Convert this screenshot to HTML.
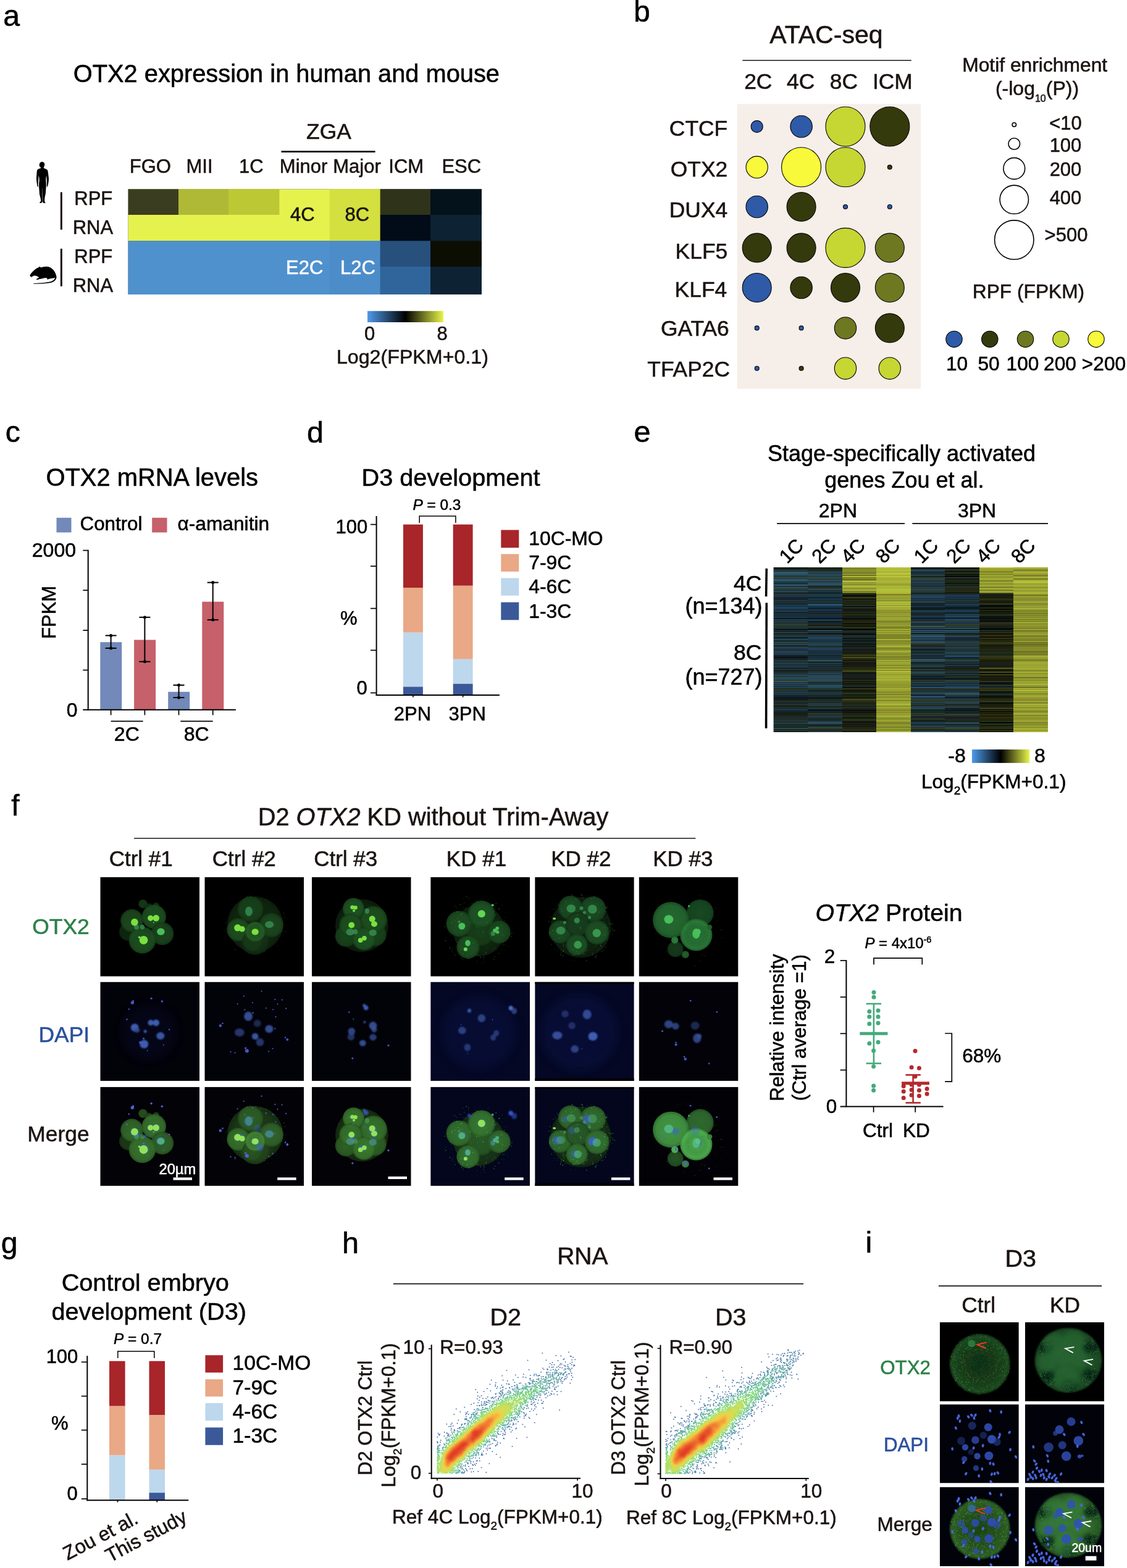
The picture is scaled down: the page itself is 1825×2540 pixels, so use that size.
<!DOCTYPE html>
<html lang="en"><head><meta charset="utf-8"><title>OTX2 figure</title>
<style>
html,body{margin:0;padding:0;background:#fff}
body{width:1825px;height:2540px;overflow:hidden;font-family:"Liberation Sans", sans-serif}
svg{display:block;font-family:"Liberation Sans", sans-serif}
text{stroke-width:0.55px;stroke-linejoin:round}
</style></head><body>
<svg width="1825" height="2540" viewBox="0 0 1825 2540">
<text x="5.3" y="41.5" font-size="48.2" text-anchor="start" fill="#000" stroke="#000">a</text>
<text x="463.9" y="132.9" font-size="39.8" text-anchor="middle" fill="#000" stroke="#000">OTX2 expression in human and mouse</text>
<text x="532.5" y="225.2" font-size="35.4" text-anchor="middle" fill="#1a1311" stroke="#1a1311">ZGA</text>
<line x1="455.4" y1="245.6" x2="607.6" y2="245.6" stroke="#1a1311" stroke-width="2.8"/>
<text x="243.4" y="279.9" font-size="31" text-anchor="middle" fill="#1a1311" stroke="#1a1311">FGO</text>
<text x="323" y="279.9" font-size="31" text-anchor="middle" fill="#1a1311" stroke="#1a1311">MII</text>
<text x="406.8" y="279.9" font-size="31" text-anchor="middle" fill="#1a1311" stroke="#1a1311">1C</text>
<text x="491.6" y="279.9" font-size="31" text-anchor="middle" fill="#1a1311" stroke="#1a1311">Minor</text>
<text x="578" y="279.9" font-size="31" text-anchor="middle" fill="#1a1311" stroke="#1a1311">Major</text>
<text x="657.7" y="279.9" font-size="31" text-anchor="middle" fill="#1a1311" stroke="#1a1311">ICM</text>
<text x="747.3" y="279.9" font-size="31" text-anchor="middle" fill="#1a1311" stroke="#1a1311">ESC</text>
<text x="151.3" y="332.3" font-size="31" text-anchor="middle" fill="#1a1311" stroke="#1a1311">RPF</text>
<text x="150.4" y="379" font-size="31" text-anchor="middle" fill="#1a1311" stroke="#1a1311">RNA</text>
<text x="151.3" y="426" font-size="31" text-anchor="middle" fill="#1a1311" stroke="#1a1311">RPF</text>
<text x="150.4" y="472.8" font-size="31" text-anchor="middle" fill="#1a1311" stroke="#1a1311">RNA</text>
<line x1="99.3" y1="311.3" x2="99.3" y2="372" stroke="#1a1311" stroke-width="3"/>
<line x1="99.3" y1="402.8" x2="99.3" y2="463.8" stroke="#1a1311" stroke-width="3"/>
<rect x="207.6" y="306.4" width="572.3" height="170.6" fill="#0d2233"/>
<rect x="207.6" y="306.4" width="408.1" height="83.8" fill="#e5f24e"/>
<rect x="207.6" y="390.2" width="408.1" height="86.8" fill="#4f91cd"/>
<rect x="207.6" y="306.4" width="81.4" height="41.6" fill="#3a3d20"/>
<rect x="289" y="306.4" width="81.7" height="41.6" fill="#b0b935"/>
<rect x="370.7" y="306.4" width="81.7" height="41.6" fill="#bdc835"/>
<rect x="533.7" y="306.4" width="82" height="83.8" fill="#d3e03f"/>
<rect x="533.7" y="390.2" width="82" height="86.8" fill="#4c8dc9"/>
<rect x="615.7" y="306.4" width="81.4" height="41.6" fill="#2f331a"/>
<rect x="615.7" y="348" width="81.4" height="42.2" fill="#020b18"/>
<rect x="615.7" y="390.2" width="81.4" height="41.8" fill="#27507d"/>
<rect x="615.7" y="432" width="81.4" height="45" fill="#30659b"/>
<rect x="697.1" y="306.4" width="82.8" height="41.6" fill="#04121b"/>
<rect x="697.1" y="348" width="82.8" height="42.2" fill="#0d2233"/>
<rect x="697.1" y="390.2" width="82.8" height="41.8" fill="#0c0d03"/>
<rect x="697.1" y="432" width="82.8" height="45" fill="#0d2233"/>
<text x="489.8" y="357.8" font-size="31" text-anchor="middle" fill="#1a1311" stroke="#1a1311">4C</text>
<text x="578.3" y="357.8" font-size="31" text-anchor="middle" fill="#1a1311" stroke="#1a1311">8C</text>
<text x="493.2" y="444.2" font-size="31" text-anchor="middle" fill="#fff" stroke="#fff">E2C</text>
<text x="579.5" y="444.2" font-size="31" text-anchor="middle" fill="#fff" stroke="#fff">L2C</text>
<defs><linearGradient id="gA"><stop offset="0" stop-color="#4f9bea"/><stop offset="0.5" stop-color="#000"/><stop offset="1" stop-color="#e8f54a"/></linearGradient></defs>
<rect x="595" y="503.8" width="123" height="18.2" fill="url(#gA)"/>
<text x="598.6" y="550.8" font-size="31" text-anchor="middle" fill="#1a1311" stroke="#1a1311">0</text>
<text x="716" y="550.8" font-size="31" text-anchor="middle" fill="#1a1311" stroke="#1a1311">8</text>
<text x="667.9" y="588.8" font-size="32.2" text-anchor="middle" fill="#1a1311" stroke="#1a1311">Log2(FPKM+0.1)</text>
<g transform="translate(30,250) scale(0.06135)"><path d="M620,198 C665,198 692,228 690,262 C690,300 678,322 665,338 L665,362 C700,380 745,385 768,420 C782,470 784,530 798,630 C800,700 786,760 778,805 C772,835 762,858 752,864 C744,850 746,820 748,790 C750,730 746,660 736,560 C726,600 722,640 722,680 C726,740 732,770 730,800 C728,880 722,940 718,985 C716,1040 708,1070 700,1100 C690,1150 686,1200 690,1245 C700,1262 712,1272 712,1282 C690,1292 660,1290 638,1268 L628,1250 C632,1120 630,980 626,850 C622,980 624,1120 622,1250 L615,1270 C600,1292 572,1294 554,1282 C560,1268 580,1252 590,1230 C590,1180 572,1130 560,1080 C548,1040 552,1000 548,960 C542,900 538,850 540,800 C538,770 544,740 548,680 C548,640 544,600 534,560 C524,650 518,740 516,800 C518,830 524,850 514,864 C500,858 492,830 488,790 C478,720 468,660 472,610 C480,540 480,470 490,420 C505,385 560,382 585,368 L585,340 C565,335 552,320 552,300 L545,292 L552,280 C548,240 570,198 620,198 Z" fill="#000"/></g>
<g transform="translate(30,400) scale(0.06135)"><path d="M298,762 C320,700 390,625 470,570 C500,555 520,545 535,538 L552,518 L572,524 L590,548 C640,528 690,516 740,518 C820,520 880,560 930,620 C975,680 995,740 1004,795 C1000,850 960,905 900,930 C820,962 650,974 400,978 L392,966 C640,948 790,940 880,905 C930,880 958,845 968,812 C920,828 860,834 822,838 L790,852 L750,858 L760,836 L740,820 C700,812 660,822 640,830 C600,842 560,845 540,852 L520,864 L480,866 L468,850 L500,830 L540,806 C520,785 480,765 440,757 C410,755 385,765 370,778 L340,800 Z" fill="#000"/></g>
<text x="1026.2" y="35.2" font-size="47.6" text-anchor="start" fill="#000" stroke="#000">b</text>
<text x="1338" y="70.2" font-size="41.1" text-anchor="middle" fill="#1a1311" stroke="#1a1311">ATAC-seq</text>
<line x1="1202.4" y1="97.7" x2="1475.8" y2="97.7" stroke="#1a1311" stroke-width="1.6"/>
<text x="1227.8" y="143.6" font-size="35.4" text-anchor="middle" fill="#1a1311" stroke="#1a1311">2C</text>
<text x="1296.6" y="143.6" font-size="35.4" text-anchor="middle" fill="#1a1311" stroke="#1a1311">4C</text>
<text x="1366.4" y="143.6" font-size="35.4" text-anchor="middle" fill="#1a1311" stroke="#1a1311">8C</text>
<text x="1445.4" y="143.6" font-size="35.4" text-anchor="middle" fill="#1a1311" stroke="#1a1311">ICM</text>
<rect x="1193.8" y="168.5" width="297.2" height="461.5" fill="#f6eee9"/>
<text x="1178.2" y="220.2" font-size="35.4" text-anchor="end" fill="#1a1311" stroke="#1a1311">CTCF</text>
<circle cx="1225.7" cy="205" r="9.6" fill="#2e5aa8" stroke="#000" stroke-width="1.1"/>
<circle cx="1297.6" cy="205" r="17.7" fill="#2e5aa8" stroke="#000" stroke-width="1.1"/>
<circle cx="1369" cy="205" r="32" fill="#c6d633" stroke="#000" stroke-width="1.1"/>
<circle cx="1440.8" cy="205" r="32" fill="#353a0c" stroke="#000" stroke-width="1.1"/>
<text x="1178.2" y="286" font-size="35.4" text-anchor="end" fill="#1a1311" stroke="#1a1311">OTX2</text>
<circle cx="1225.7" cy="270.8" r="17.7" fill="#f7f93a" stroke="#000" stroke-width="1.1"/>
<circle cx="1297.6" cy="270.8" r="32" fill="#f7f93a" stroke="#000" stroke-width="1.1"/>
<circle cx="1369" cy="270.8" r="32" fill="#c6d633" stroke="#000" stroke-width="1.1"/>
<circle cx="1440.8" cy="270.8" r="3.5" fill="#353a0c" stroke="#000" stroke-width="1.1"/>
<text x="1178.2" y="351.8" font-size="35.4" text-anchor="end" fill="#1a1311" stroke="#1a1311">DUX4</text>
<circle cx="1225.7" cy="335" r="17.7" fill="#2e5aa8" stroke="#000" stroke-width="1.1"/>
<circle cx="1297.6" cy="335" r="23.5" fill="#353a0c" stroke="#000" stroke-width="1.1"/>
<circle cx="1369" cy="335" r="3.5" fill="#2e5aa8" stroke="#000" stroke-width="1.1"/>
<circle cx="1440.8" cy="335" r="3.5" fill="#2e5aa8" stroke="#000" stroke-width="1.1"/>
<text x="1178.2" y="418.6" font-size="35.4" text-anchor="end" fill="#1a1311" stroke="#1a1311">KLF5</text>
<circle cx="1225.7" cy="401.4" r="23.5" fill="#353a0c" stroke="#000" stroke-width="1.1"/>
<circle cx="1297.6" cy="401.4" r="23.5" fill="#353a0c" stroke="#000" stroke-width="1.1"/>
<circle cx="1369" cy="401.4" r="32" fill="#c6d633" stroke="#000" stroke-width="1.1"/>
<circle cx="1440.8" cy="401.4" r="23.5" fill="#6e7820" stroke="#000" stroke-width="1.1"/>
<text x="1177.2" y="480.8" font-size="35.4" text-anchor="end" fill="#1a1311" stroke="#1a1311">KLF4</text>
<circle cx="1225.7" cy="466" r="23.5" fill="#2e5aa8" stroke="#000" stroke-width="1.1"/>
<circle cx="1297.6" cy="466" r="17.7" fill="#353a0c" stroke="#000" stroke-width="1.1"/>
<circle cx="1369" cy="466" r="23.5" fill="#353a0c" stroke="#000" stroke-width="1.1"/>
<circle cx="1440.8" cy="466" r="23.5" fill="#6e7820" stroke="#000" stroke-width="1.1"/>
<text x="1180.7" y="544.1" font-size="35.4" text-anchor="end" fill="#1a1311" stroke="#1a1311">GATA6</text>
<circle cx="1225.7" cy="531.4" r="3.5" fill="#2e5aa8" stroke="#000" stroke-width="1.1"/>
<circle cx="1297.6" cy="531.4" r="3.5" fill="#2e5aa8" stroke="#000" stroke-width="1.1"/>
<circle cx="1369" cy="531.4" r="17.7" fill="#6e7820" stroke="#000" stroke-width="1.1"/>
<circle cx="1440.8" cy="531.4" r="23.5" fill="#353a0c" stroke="#000" stroke-width="1.1"/>
<text x="1182" y="609.9" font-size="35.4" text-anchor="end" fill="#1a1311" stroke="#1a1311">TFAP2C</text>
<circle cx="1225.7" cy="596.7" r="3.5" fill="#2e5aa8" stroke="#000" stroke-width="1.1"/>
<circle cx="1297.6" cy="596.7" r="3.5" fill="#353a0c" stroke="#000" stroke-width="1.1"/>
<circle cx="1369" cy="596.7" r="17.7" fill="#c6d633" stroke="#000" stroke-width="1.1"/>
<circle cx="1440.8" cy="596.7" r="17.7" fill="#c6d633" stroke="#000" stroke-width="1.1"/>
<text x="1675.7" y="115.6" font-size="31.8" text-anchor="middle" fill="#1a1311" stroke="#1a1311">Motif enrichment</text>
<text x="1679.5" y="154.3" font-size="32" text-anchor="middle" fill="#1a1311" stroke="#1a1311">(-log<tspan font-size="16" dy="10.4">10</tspan><tspan dy="-10.4">(P))</tspan></text>
<circle cx="1642.3" cy="202" r="3.2" fill="#fff" stroke="#000" stroke-width="1.6"/>
<circle cx="1642.3" cy="233" r="9.3" fill="#fff" stroke="#000" stroke-width="1.6"/>
<circle cx="1642.3" cy="273" r="17.4" fill="#fff" stroke="#000" stroke-width="1.6"/>
<circle cx="1642.3" cy="323.3" r="23.2" fill="#fff" stroke="#000" stroke-width="1.6"/>
<circle cx="1642.3" cy="388.6" r="31.7" fill="#fff" stroke="#000" stroke-width="1.6"/>
<text x="1725.5" y="210.4" font-size="31" text-anchor="middle" fill="#1a1311" stroke="#1a1311">&lt;10</text>
<text x="1725.5" y="245.6" font-size="31" text-anchor="middle" fill="#1a1311" stroke="#1a1311">100</text>
<text x="1725.5" y="285" font-size="31" text-anchor="middle" fill="#1a1311" stroke="#1a1311">200</text>
<text x="1725.5" y="331" font-size="31" text-anchor="middle" fill="#1a1311" stroke="#1a1311">400</text>
<text x="1726.5" y="391.4" font-size="31" text-anchor="middle" fill="#1a1311" stroke="#1a1311">&gt;500</text>
<text x="1665.5" y="482.6" font-size="31.7" text-anchor="middle" fill="#1a1311" stroke="#1a1311">RPF (FPKM)</text>
<circle cx="1545" cy="549.4" r="13.2" fill="#2e5aa8" stroke="#000" stroke-width="1.1"/>
<circle cx="1602.8" cy="549.4" r="13.2" fill="#353a0c" stroke="#000" stroke-width="1.1"/>
<circle cx="1660.5" cy="549.4" r="13.2" fill="#6e7820" stroke="#000" stroke-width="1.1"/>
<circle cx="1718" cy="549.4" r="13.2" fill="#c6d633" stroke="#000" stroke-width="1.1"/>
<circle cx="1775" cy="549.4" r="13.2" fill="#f7f93a" stroke="#000" stroke-width="1.1"/>
<text x="1549.5" y="600.4" font-size="31.7" text-anchor="middle" fill="#000" stroke="#000">10</text>
<text x="1601" y="600.4" font-size="31.7" text-anchor="middle" fill="#000" stroke="#000">50</text>
<text x="1656" y="600.4" font-size="31.7" text-anchor="middle" fill="#000" stroke="#000">100</text>
<text x="1716.5" y="600.4" font-size="31.7" text-anchor="middle" fill="#000" stroke="#000">200</text>
<text x="1787.5" y="600.4" font-size="31.7" text-anchor="middle" fill="#000" stroke="#000">&gt;200</text>
<text x="8.8" y="715.8" font-size="48.2" text-anchor="start" fill="#000" stroke="#000">c</text>
<text x="246.2" y="786.8" font-size="39.9" text-anchor="middle" fill="#000" stroke="#000">OTX2 mRNA levels</text>
<rect x="91.5" y="838.7" width="24" height="23.8" fill="#7289b9"/>
<rect x="246.2" y="838.7" width="24.3" height="23.8" fill="#c6606b"/>
<text x="180" y="859.2" font-size="31.3" text-anchor="middle" fill="#000" stroke="#000">Control</text>
<text x="361.8" y="859.2" font-size="31.7" text-anchor="middle" fill="#000" stroke="#000">α-amanitin</text>
<text x="87.4" y="901.8" font-size="32.1" text-anchor="middle" fill="#000" stroke="#000">2000</text>
<text x="116.6" y="1160.5" font-size="32" text-anchor="middle" fill="#000" stroke="#000">0</text>
<text x="90.3" y="991.9" font-size="31" text-anchor="middle" fill="#000" stroke="#000" transform="rotate(-90 90.3 991.9)">FPKM</text>
<rect x="162.3" y="1040.2" width="34.9" height="109.8" fill="#7289b9"/>
<rect x="217.1" y="1036.5" width="35" height="113.5" fill="#c6606b"/>
<rect x="272.2" y="1120.7" width="35" height="29.3" fill="#7289b9"/>
<rect x="327.3" y="974.7" width="35" height="175.3" fill="#c6606b"/>
<line x1="142.7" y1="890.8" x2="142.7" y2="1150.8" stroke="#000" stroke-width="2"/>
<line x1="134.3" y1="1149.8" x2="381.9" y2="1149.8" stroke="#000" stroke-width="2"/>
<line x1="134.3" y1="891.6" x2="142.7" y2="891.6" stroke="#000" stroke-width="1.7"/>
<line x1="134.3" y1="956.2" x2="142.7" y2="956.2" stroke="#000" stroke-width="1.7"/>
<line x1="134.3" y1="1021.1" x2="142.7" y2="1021.1" stroke="#000" stroke-width="1.7"/>
<line x1="134.3" y1="1085.5" x2="142.7" y2="1085.5" stroke="#000" stroke-width="1.7"/>
<line x1="179.6" y1="1149.8" x2="179.6" y2="1158.4" stroke="#000" stroke-width="1.7"/>
<line x1="234.4" y1="1149.8" x2="234.4" y2="1158.4" stroke="#000" stroke-width="1.7"/>
<line x1="289.5" y1="1149.8" x2="289.5" y2="1158.4" stroke="#000" stroke-width="1.7"/>
<line x1="344.7" y1="1149.8" x2="344.7" y2="1158.4" stroke="#000" stroke-width="1.7"/>
<line x1="179.6" y1="1029.5" x2="179.6" y2="1050" stroke="#000" stroke-width="2"/>
<line x1="170.6" y1="1029.5" x2="188.6" y2="1029.5" stroke="#000" stroke-width="2"/>
<circle cx="179.6" cy="1029.5" r="2.5" fill="#000"/>
<line x1="170.6" y1="1050" x2="188.6" y2="1050" stroke="#000" stroke-width="2"/>
<circle cx="179.6" cy="1050" r="2.5" fill="#000"/>
<line x1="234.4" y1="999.9" x2="234.4" y2="1071.8" stroke="#000" stroke-width="2"/>
<line x1="225.4" y1="999.9" x2="243.4" y2="999.9" stroke="#000" stroke-width="2"/>
<circle cx="234.4" cy="999.9" r="2.5" fill="#000"/>
<line x1="225.4" y1="1071.8" x2="243.4" y2="1071.8" stroke="#000" stroke-width="2"/>
<circle cx="234.4" cy="1071.8" r="2.5" fill="#000"/>
<line x1="289.5" y1="1109.8" x2="289.5" y2="1130" stroke="#000" stroke-width="2"/>
<line x1="280.5" y1="1109.8" x2="298.5" y2="1109.8" stroke="#000" stroke-width="2"/>
<circle cx="289.5" cy="1109.8" r="2.5" fill="#000"/>
<line x1="280.5" y1="1130" x2="298.5" y2="1130" stroke="#000" stroke-width="2"/>
<circle cx="289.5" cy="1130" r="2.5" fill="#000"/>
<line x1="344.7" y1="943.6" x2="344.7" y2="1004.1" stroke="#000" stroke-width="2"/>
<line x1="335.7" y1="943.6" x2="353.7" y2="943.6" stroke="#000" stroke-width="2"/>
<circle cx="344.7" cy="943.6" r="2.5" fill="#000"/>
<line x1="335.7" y1="1004.1" x2="353.7" y2="1004.1" stroke="#000" stroke-width="2"/>
<circle cx="344.7" cy="1004.1" r="2.5" fill="#000"/>
<line x1="179.6" y1="1168.3" x2="231.6" y2="1168.3" stroke="#000" stroke-width="1.7"/>
<line x1="292.3" y1="1168.3" x2="344.7" y2="1168.3" stroke="#000" stroke-width="1.7"/>
<text x="205.3" y="1199.8" font-size="32" text-anchor="middle" fill="#000" stroke="#000">2C</text>
<text x="318.2" y="1199.8" font-size="32" text-anchor="middle" fill="#000" stroke="#000">8C</text>
<text x="497" y="716.6" font-size="48.7" text-anchor="start" fill="#000" stroke="#000">d</text>
<text x="730" y="787.3" font-size="39.7" text-anchor="middle" fill="#000" stroke="#000">D3 development</text>
<text x="707.4" y="825.6" font-size="24.4" text-anchor="middle" fill="#000" stroke="#000"><tspan font-style="italic">P</tspan> = 0.3</text>
<path d="M679.2,847 V835.9 H737.9 V847" fill="none" stroke="#000" stroke-width="1.5"/>
<rect x="653" y="849.6" width="31.9" height="102.4" fill="#a8252a"/>
<rect x="653" y="952" width="31.9" height="72.7" fill="#e9a886"/>
<rect x="653" y="1024.7" width="31.9" height="87.8" fill="#bdd7ec"/>
<rect x="653" y="1112.5" width="31.9" height="14.5" fill="#3b5998"/>
<rect x="733.7" y="849.6" width="31.9" height="99.2" fill="#a8252a"/>
<rect x="733.7" y="948.8" width="31.9" height="119" fill="#e9a886"/>
<rect x="733.7" y="1067.8" width="31.9" height="39.9" fill="#bdd7ec"/>
<rect x="733.7" y="1107.7" width="31.9" height="19.3" fill="#3b5998"/>
<line x1="609.6" y1="835.9" x2="609.6" y2="1126.9" stroke="#000" stroke-width="2"/>
<line x1="608.6" y1="1125.9" x2="809" y2="1125.9" stroke="#000" stroke-width="2"/>
<line x1="600" y1="849.6" x2="609.6" y2="849.6" stroke="#000" stroke-width="1.7"/>
<line x1="600" y1="917.2" x2="609.6" y2="917.2" stroke="#000" stroke-width="1.7"/>
<line x1="600" y1="985.6" x2="609.6" y2="985.6" stroke="#000" stroke-width="1.7"/>
<line x1="600" y1="1053.4" x2="609.6" y2="1053.4" stroke="#000" stroke-width="1.7"/>
<line x1="600" y1="1122.4" x2="609.6" y2="1122.4" stroke="#000" stroke-width="1.7"/>
<line x1="668.9" y1="1125.9" x2="668.9" y2="1129.5" stroke="#000" stroke-width="1.7"/>
<line x1="749.6" y1="1125.9" x2="749.6" y2="1129.5" stroke="#000" stroke-width="1.7"/>
<text x="569.3" y="864.2" font-size="31" text-anchor="middle" fill="#000" stroke="#000">100</text>
<text x="586" y="1125.3" font-size="31" text-anchor="middle" fill="#000" stroke="#000">0</text>
<text x="564.8" y="1011.6" font-size="31" text-anchor="middle" fill="#000" stroke="#000">%</text>
<text x="668" y="1166.6" font-size="31" text-anchor="middle" fill="#000" stroke="#000">2PN</text>
<text x="756.7" y="1166.6" font-size="31" text-anchor="middle" fill="#000" stroke="#000">3PN</text>
<rect x="811.3" y="858.5" width="29" height="28.8" fill="#a8252a"/>
<text x="856.2" y="882.5" font-size="31.9" text-anchor="start" fill="#000" stroke="#000">10C-MO</text>
<rect x="811.3" y="897.5" width="29" height="28.4" fill="#e9a886"/>
<text x="856.2" y="922" font-size="31.9" text-anchor="start" fill="#000" stroke="#000">7-9C</text>
<rect x="811.3" y="936.4" width="29" height="28.4" fill="#bdd7ec"/>
<text x="856.2" y="961.3" font-size="31.9" text-anchor="start" fill="#000" stroke="#000">4-6C</text>
<rect x="811.3" y="975.6" width="29" height="28.7" fill="#3b5998"/>
<text x="856.2" y="1001.2" font-size="31.9" text-anchor="start" fill="#000" stroke="#000">1-3C</text>
<text x="1.8" y="2030" font-size="48.2" text-anchor="start" fill="#000" stroke="#000">g</text>
<text x="235.3" y="2091" font-size="39.7" text-anchor="middle" fill="#000" stroke="#000">Control embryo</text>
<text x="241.2" y="2138" font-size="39.7" text-anchor="middle" fill="#000" stroke="#000">development (D3)</text>
<text x="223" y="2177.1" font-size="24.4" text-anchor="middle" fill="#000" stroke="#000"><tspan font-style="italic">P</tspan> = 0.7</text>
<path d="M190.8,2200 V2189 H249.8 V2200" fill="none" stroke="#000" stroke-width="1.5"/>
<rect x="177" y="2204.8" width="25.6" height="72.9" fill="#a8252a"/>
<rect x="177" y="2277.7" width="25.6" height="79.8" fill="#e9a886"/>
<rect x="177" y="2357.5" width="25.6" height="72.5" fill="#bdd7ec"/>
<rect x="241.5" y="2204.8" width="25.5" height="87.6" fill="#a8252a"/>
<rect x="241.5" y="2292.4" width="25.5" height="88.4" fill="#e9a886"/>
<rect x="241.5" y="2380.8" width="25.5" height="37.3" fill="#bdd7ec"/>
<rect x="241.5" y="2418.1" width="25.5" height="11.9" fill="#3b5998"/>
<line x1="141.3" y1="2196.3" x2="141.3" y2="2431.2" stroke="#000" stroke-width="2"/>
<line x1="140.3" y1="2430.2" x2="305.3" y2="2430.2" stroke="#000" stroke-width="2"/>
<line x1="131.8" y1="2206.4" x2="141.3" y2="2206.4" stroke="#000" stroke-width="1.7"/>
<line x1="131.8" y1="2261.6" x2="141.3" y2="2261.6" stroke="#000" stroke-width="1.7"/>
<line x1="131.8" y1="2316.6" x2="141.3" y2="2316.6" stroke="#000" stroke-width="1.7"/>
<line x1="131.8" y1="2371.8" x2="141.3" y2="2371.8" stroke="#000" stroke-width="1.7"/>
<line x1="131.8" y1="2428" x2="141.3" y2="2428" stroke="#000" stroke-width="1.7"/>
<line x1="190.5" y1="2430.2" x2="190.5" y2="2433.5" stroke="#000" stroke-width="1.7"/>
<line x1="254.3" y1="2430.2" x2="254.3" y2="2433.5" stroke="#000" stroke-width="1.7"/>
<text x="100.5" y="2207.5" font-size="31" text-anchor="middle" fill="#000" stroke="#000">100</text>
<text x="117.2" y="2429.6" font-size="31" text-anchor="middle" fill="#000" stroke="#000">0</text>
<text x="96.8" y="2315.7" font-size="31" text-anchor="middle" fill="#000" stroke="#000">%</text>
<text x="167.5" y="2497.2" font-size="31.6" text-anchor="middle" fill="#1a1311" stroke="#1a1311" transform="rotate(-28 167.5 2497.2)">Zou et al.</text>
<text x="241.5" y="2497.6" font-size="31.6" text-anchor="middle" fill="#1a1311" stroke="#1a1311" transform="rotate(-28 241.5 2497.6)">This study</text>
<rect x="332.4" y="2195.3" width="28.7" height="28.1" fill="#a8252a"/>
<text x="376.6" y="2219.3" font-size="33.6" text-anchor="start" fill="#000" stroke="#000">10C-MO</text>
<rect x="332.4" y="2234.3" width="28.7" height="28" fill="#e9a886"/>
<text x="376.6" y="2258.5" font-size="33.6" text-anchor="start" fill="#000" stroke="#000">7-9C</text>
<rect x="332.4" y="2272.9" width="28.7" height="28.4" fill="#bdd7ec"/>
<text x="376.6" y="2297.8" font-size="33.6" text-anchor="start" fill="#000" stroke="#000">4-6C</text>
<rect x="332.4" y="2312.4" width="28.7" height="28.4" fill="#3b5998"/>
<text x="376.6" y="2336.7" font-size="33.6" text-anchor="start" fill="#000" stroke="#000">1-3C</text>
<text x="1026.5" y="716.3" font-size="48.7" text-anchor="start" fill="#000" stroke="#000">e</text>
<text x="1460" y="747.4" font-size="36" text-anchor="middle" fill="#000" stroke="#000">Stage-specifically activated</text>
<text x="1464.4" y="789.6" font-size="36" text-anchor="middle" fill="#000" stroke="#000">genes Zou et al.</text>
<text x="1356.9" y="837.6" font-size="32" text-anchor="middle" fill="#000" stroke="#000">2PN</text>
<text x="1582" y="837.6" font-size="32" text-anchor="middle" fill="#000" stroke="#000">3PN</text>
<line x1="1258.1" y1="848.1" x2="1465" y2="848.1" stroke="#000" stroke-width="1.6"/>
<line x1="1477.3" y1="848.1" x2="1697" y2="848.1" stroke="#000" stroke-width="1.6"/>
<text x="1288.9" y="900" font-size="31.5" text-anchor="middle" fill="#000" stroke="#000" transform="rotate(-45 1288.9 900)" dominant-baseline="auto">1C</text>
<text x="1341.7" y="900" font-size="31.5" text-anchor="middle" fill="#000" stroke="#000" transform="rotate(-45 1341.7 900)" dominant-baseline="auto">2C</text>
<text x="1388.8" y="900" font-size="31.5" text-anchor="middle" fill="#000" stroke="#000" transform="rotate(-45 1388.8 900)" dominant-baseline="auto">4C</text>
<text x="1445.2" y="900" font-size="31.5" text-anchor="middle" fill="#000" stroke="#000" transform="rotate(-45 1445.2 900)" dominant-baseline="auto">8C</text>
<text x="1507" y="900" font-size="31.5" text-anchor="middle" fill="#000" stroke="#000" transform="rotate(-45 1507 900)" dominant-baseline="auto">1C</text>
<text x="1559.7" y="900" font-size="31.5" text-anchor="middle" fill="#000" stroke="#000" transform="rotate(-45 1559.7 900)" dominant-baseline="auto">2C</text>
<text x="1607.8" y="900" font-size="31.5" text-anchor="middle" fill="#000" stroke="#000" transform="rotate(-45 1607.8 900)" dominant-baseline="auto">4C</text>
<text x="1664.4" y="900" font-size="31.5" text-anchor="middle" fill="#000" stroke="#000" transform="rotate(-45 1664.4 900)" dominant-baseline="auto">8C</text>
<rect x="1252.6" y="919" width="444" height="267" fill="#16303e"/>
<path d="M1252.6,919.5h55.5M1474.6,984.5h55.5M1585.6,998.5h55.5M1585.6,1003.5h55.5M1308.1,1009.5h55.5M1585.6,1014.5h55.5M1474.6,1057.5h55.5M1252.6,1064.5h55.5M1474.6,1073.5h55.5M1585.6,1073.5h55.5M1308.1,1076.5h55.5M1308.1,1086.5h55.5M1363.6,1114.5h55.5M1252.6,1127.5h55.5M1530.1,1147.5h55.5M1530.1,1162.5h55.5M1252.6,1185.5h55.5M1363.6,1185.5h55.5" stroke="#0a141e" stroke-width="1.05" fill="none" shape-rendering="crispEdges"/>
<path d="M1308.1,919.5h55.5M1252.6,921.5h55.5M1474.6,935.5h55.5M1252.6,945.5h55.5M1308.1,969.5h55.5M1474.6,969.5h55.5M1308.1,977.5h55.5M1474.6,981.5h55.5M1474.6,983.5h55.5M1308.1,986.5h55.5M1252.6,1002.5h55.5M1474.6,1010.5h55.5M1474.6,1012.5h55.5M1252.6,1023.5h55.5M1252.6,1041.5h55.5M1363.6,1051.5h55.5M1530.1,1051.5h55.5M1308.1,1055.5h55.5M1530.1,1055.5h55.5M1308.1,1078.5h55.5M1252.6,1081.5h55.5M1474.6,1081.5h55.5M1252.6,1082.5h55.5M1474.6,1085.5h55.5M1252.6,1086.5h55.5M1530.1,1097.5h55.5M1474.6,1107.5h55.5M1308.1,1114.5h55.5M1308.1,1125.5h55.5M1252.6,1131.5h55.5M1530.1,1133.5h55.5M1252.6,1138.5h55.5M1252.6,1139.5h55.5M1252.6,1140.5h55.5M1252.6,1142.5h55.5M1252.6,1145.5h55.5M1530.1,1156.5h55.5M1308.1,1164.5h55.5M1530.1,1168.5h55.5M1252.6,1176.5h55.5M1530.1,1184.5h55.5" stroke="#142832" stroke-width="1.05" fill="none" shape-rendering="crispEdges"/>
<path d="M1363.6,919.5h55.5M1585.6,922.5h55.5M1419.1,925.5h55.5M1641.1,925.5h55.5M1585.6,929.5h55.5M1641.1,929.5h55.5M1585.6,931.5h55.5M1363.6,933.5h55.5M1641.1,936.5h55.5M1363.6,937.5h55.5M1419.1,937.5h55.5M1419.1,939.5h55.5M1641.1,939.5h55.5M1641.1,941.5h55.5M1641.1,944.5h55.5M1419.1,945.5h55.5M1419.1,947.5h55.5M1363.6,948.5h55.5M1419.1,948.5h55.5M1585.6,948.5h55.5M1363.6,949.5h55.5M1419.1,949.5h55.5M1641.1,950.5h55.5M1419.1,952.5h55.5M1641.1,952.5h55.5M1419.1,954.5h55.5M1641.1,956.5h55.5M1585.6,958.5h55.5M1419.1,959.5h55.5M1419.1,965.5h55.5M1641.1,966.5h55.5M1419.1,974.5h55.5M1419.1,976.5h55.5M1419.1,978.5h55.5M1641.1,978.5h55.5M1419.1,980.5h55.5M1641.1,981.5h55.5M1419.1,985.5h55.5M1641.1,985.5h55.5M1641.1,991.5h55.5M1419.1,997.5h55.5M1419.1,1001.5h55.5M1419.1,1005.5h55.5M1641.1,1019.5h55.5M1641.1,1020.5h55.5M1419.1,1022.5h55.5M1419.1,1023.5h55.5M1641.1,1028.5h55.5M1419.1,1046.5h55.5M1641.1,1049.5h55.5M1419.1,1054.5h55.5M1419.1,1056.5h55.5M1641.1,1064.5h55.5M1419.1,1069.5h55.5M1419.1,1070.5h55.5M1641.1,1075.5h55.5M1419.1,1076.5h55.5M1641.1,1077.5h55.5M1419.1,1080.5h55.5M1641.1,1082.5h55.5M1641.1,1088.5h55.5M1419.1,1092.5h55.5M1641.1,1092.5h55.5M1419.1,1095.5h55.5M1419.1,1096.5h55.5M1419.1,1103.5h55.5M1641.1,1103.5h55.5M1641.1,1105.5h55.5M1419.1,1107.5h55.5M1641.1,1107.5h55.5M1419.1,1115.5h55.5M1641.1,1117.5h55.5M1419.1,1118.5h55.5M1419.1,1119.5h55.5M1641.1,1121.5h55.5M1641.1,1122.5h55.5M1419.1,1123.5h55.5M1641.1,1125.5h55.5M1419.1,1127.5h55.5M1419.1,1132.5h55.5M1641.1,1132.5h55.5M1419.1,1136.5h55.5M1419.1,1141.5h55.5M1641.1,1141.5h55.5M1641.1,1142.5h55.5M1641.1,1144.5h55.5M1641.1,1147.5h55.5M1641.1,1149.5h55.5M1641.1,1157.5h55.5M1641.1,1162.5h55.5M1419.1,1167.5h55.5M1641.1,1176.5h55.5M1419.1,1185.5h55.5" stroke="#a0aa32" stroke-width="1.05" fill="none" shape-rendering="crispEdges"/>
<path d="M1419.1,919.5h55.5M1419.1,921.5h55.5M1419.1,924.5h55.5M1419.1,931.5h55.5M1419.1,933.5h55.5M1363.6,934.5h55.5M1419.1,934.5h55.5M1585.6,943.5h55.5M1363.6,950.5h55.5M1419.1,953.5h55.5M1419.1,960.5h55.5M1419.1,975.5h55.5M1419.1,983.5h55.5M1419.1,1087.5h55.5M1419.1,1146.5h55.5" stroke="#bec83c" stroke-width="1.05" fill="none" shape-rendering="crispEdges"/>
<path d="M1474.6,919.5h55.5M1308.1,933.5h55.5M1530.1,937.5h55.5M1363.6,964.5h55.5M1585.6,979.5h55.5M1585.6,980.5h55.5M1363.6,981.5h55.5M1530.1,984.5h55.5M1585.6,1000.5h55.5M1308.1,1018.5h55.5M1363.6,1018.5h55.5M1363.6,1038.5h55.5M1585.6,1061.5h55.5M1585.6,1078.5h55.5M1252.6,1085.5h55.5M1363.6,1091.5h55.5M1363.6,1099.5h55.5M1474.6,1100.5h55.5M1585.6,1108.5h55.5M1474.6,1111.5h55.5M1585.6,1120.5h55.5M1585.6,1123.5h55.5M1308.1,1149.5h55.5M1363.6,1161.5h55.5M1474.6,1167.5h55.5M1585.6,1171.5h55.5M1363.6,1177.5h55.5M1585.6,1185.5h55.5" stroke="#0a1414" stroke-width="1.05" fill="none" shape-rendering="crispEdges"/>
<path d="M1530.1,919.5h55.5M1530.1,955.5h55.5M1585.6,973.5h55.5M1585.6,994.5h55.5M1363.6,995.5h55.5M1585.6,1051.5h55.5M1530.1,1075.5h55.5M1585.6,1075.5h55.5M1530.1,1088.5h55.5M1474.6,1119.5h55.5M1363.6,1129.5h55.5M1363.6,1136.5h55.5M1252.6,1137.5h55.5M1585.6,1141.5h55.5M1585.6,1143.5h55.5M1474.6,1154.5h55.5M1308.1,1158.5h55.5M1363.6,1159.5h55.5M1363.6,1164.5h55.5M1252.6,1165.5h55.5M1363.6,1171.5h55.5M1585.6,1177.5h55.5M1474.6,1183.5h55.5" stroke="#282814" stroke-width="1.05" fill="none" shape-rendering="crispEdges"/>
<path d="M1585.6,919.5h55.5M1419.1,929.5h55.5M1419.1,942.5h55.5M1641.1,942.5h55.5M1419.1,955.5h55.5M1641.1,960.5h55.5M1419.1,1101.5h55.5M1419.1,1140.5h55.5" stroke="#c8d23c" stroke-width="1.05" fill="none" shape-rendering="crispEdges"/>
<path d="M1641.1,919.5h55.5M1585.6,921.5h55.5M1419.1,922.5h55.5M1585.6,924.5h55.5M1419.1,927.5h55.5M1419.1,930.5h55.5M1585.6,932.5h55.5M1585.6,934.5h55.5M1419.1,935.5h55.5M1641.1,935.5h55.5M1641.1,940.5h55.5M1363.6,943.5h55.5M1585.6,949.5h55.5M1641.1,949.5h55.5M1419.1,951.5h55.5M1585.6,953.5h55.5M1363.6,956.5h55.5M1419.1,956.5h55.5M1419.1,961.5h55.5M1641.1,1001.5h55.5M1641.1,1008.5h55.5M1419.1,1019.5h55.5M1419.1,1035.5h55.5M1641.1,1063.5h55.5M1641.1,1084.5h55.5M1641.1,1089.5h55.5M1419.1,1090.5h55.5M1419.1,1094.5h55.5M1641.1,1119.5h55.5M1641.1,1130.5h55.5M1641.1,1135.5h55.5M1419.1,1137.5h55.5M1419.1,1156.5h55.5M1641.1,1156.5h55.5M1419.1,1159.5h55.5M1419.1,1160.5h55.5M1641.1,1160.5h55.5M1419.1,1168.5h55.5M1419.1,1180.5h55.5M1641.1,1184.5h55.5M1641.1,1185.5h55.5" stroke="#aab432" stroke-width="1.05" fill="none" shape-rendering="crispEdges"/>
<path d="M1252.6,920.5h55.5M1474.6,920.5h55.5M1530.1,925.5h55.5M1530.1,932.5h55.5M1363.6,961.5h55.5M1363.6,970.5h55.5M1363.6,975.5h55.5M1585.6,983.5h55.5M1530.1,992.5h55.5M1585.6,993.5h55.5M1363.6,994.5h55.5M1363.6,1002.5h55.5M1363.6,1004.5h55.5M1363.6,1009.5h55.5M1585.6,1017.5h55.5M1363.6,1020.5h55.5M1363.6,1024.5h55.5M1585.6,1035.5h55.5M1252.6,1046.5h55.5M1363.6,1046.5h55.5M1585.6,1070.5h55.5M1585.6,1071.5h55.5M1308.1,1072.5h55.5M1363.6,1076.5h55.5M1363.6,1079.5h55.5M1585.6,1080.5h55.5M1585.6,1084.5h55.5M1585.6,1086.5h55.5M1530.1,1090.5h55.5M1585.6,1090.5h55.5M1585.6,1095.5h55.5M1585.6,1099.5h55.5M1363.6,1104.5h55.5M1363.6,1117.5h55.5M1585.6,1140.5h55.5M1585.6,1151.5h55.5M1585.6,1152.5h55.5M1585.6,1153.5h55.5M1363.6,1154.5h55.5M1252.6,1159.5h55.5M1530.1,1159.5h55.5M1585.6,1159.5h55.5M1363.6,1173.5h55.5M1308.1,1174.5h55.5M1585.6,1174.5h55.5M1585.6,1181.5h55.5M1252.6,1182.5h55.5M1363.6,1184.5h55.5" stroke="#14140a" stroke-width="1.05" fill="none" shape-rendering="crispEdges"/>
<path d="M1308.1,920.5h55.5M1363.6,963.5h55.5M1585.6,965.5h55.5M1363.6,971.5h55.5M1585.6,972.5h55.5M1363.6,987.5h55.5M1363.6,990.5h55.5M1585.6,995.5h55.5M1585.6,1012.5h55.5M1363.6,1013.5h55.5M1308.1,1016.5h55.5M1585.6,1016.5h55.5M1585.6,1027.5h55.5M1585.6,1030.5h55.5M1585.6,1032.5h55.5M1585.6,1039.5h55.5M1585.6,1044.5h55.5M1585.6,1054.5h55.5M1585.6,1067.5h55.5M1363.6,1075.5h55.5M1363.6,1078.5h55.5M1530.1,1082.5h55.5M1585.6,1087.5h55.5M1363.6,1088.5h55.5M1363.6,1089.5h55.5M1585.6,1096.5h55.5M1585.6,1100.5h55.5M1585.6,1101.5h55.5M1363.6,1126.5h55.5M1363.6,1128.5h55.5M1363.6,1140.5h55.5M1363.6,1143.5h55.5M1585.6,1144.5h55.5M1363.6,1151.5h55.5M1308.1,1153.5h55.5M1252.6,1154.5h55.5M1530.1,1154.5h55.5M1585.6,1155.5h55.5M1363.6,1156.5h55.5M1585.6,1161.5h55.5M1585.6,1163.5h55.5M1363.6,1174.5h55.5M1585.6,1184.5h55.5" stroke="#1e1e0a" stroke-width="1.05" fill="none" shape-rendering="crispEdges"/>
<path d="M1363.6,920.5h55.5" stroke="#6e781e" stroke-width="1.05" fill="none" shape-rendering="crispEdges"/>
<path d="M1419.1,920.5h55.5M1419.1,938.5h55.5M1419.1,944.5h55.5M1363.6,945.5h55.5M1641.1,945.5h55.5M1363.6,954.5h55.5M1419.1,971.5h55.5M1419.1,1003.5h55.5M1419.1,1055.5h55.5M1641.1,1067.5h55.5M1419.1,1073.5h55.5M1641.1,1083.5h55.5M1641.1,1094.5h55.5M1641.1,1181.5h55.5" stroke="#aab43c" stroke-width="1.05" fill="none" shape-rendering="crispEdges"/>
<path d="M1530.1,920.5h55.5M1585.6,999.5h55.5M1363.6,1034.5h55.5M1474.6,1046.5h55.5M1363.6,1057.5h55.5M1363.6,1073.5h55.5M1585.6,1094.5h55.5M1585.6,1139.5h55.5M1585.6,1149.5h55.5M1530.1,1151.5h55.5M1252.6,1153.5h55.5M1363.6,1153.5h55.5M1252.6,1174.5h55.5" stroke="#0a140a" stroke-width="1.05" fill="none" shape-rendering="crispEdges"/>
<path d="M1585.6,920.5h55.5M1641.1,920.5h55.5M1585.6,927.5h55.5M1641.1,928.5h55.5M1363.6,929.5h55.5M1419.1,932.5h55.5M1641.1,933.5h55.5M1641.1,934.5h55.5M1363.6,940.5h55.5M1419.1,941.5h55.5M1419.1,943.5h55.5M1585.6,945.5h55.5M1363.6,947.5h55.5M1585.6,947.5h55.5M1641.1,948.5h55.5M1585.6,952.5h55.5M1585.6,954.5h55.5M1641.1,955.5h55.5M1363.6,957.5h55.5M1641.1,962.5h55.5M1419.1,966.5h55.5M1419.1,967.5h55.5M1419.1,968.5h55.5M1419.1,969.5h55.5M1641.1,971.5h55.5M1641.1,973.5h55.5M1641.1,983.5h55.5M1641.1,988.5h55.5M1419.1,993.5h55.5M1641.1,995.5h55.5M1419.1,1000.5h55.5M1419.1,1002.5h55.5M1641.1,1009.5h55.5M1641.1,1011.5h55.5M1419.1,1012.5h55.5M1419.1,1013.5h55.5M1641.1,1013.5h55.5M1419.1,1018.5h55.5M1419.1,1025.5h55.5M1641.1,1025.5h55.5M1419.1,1026.5h55.5M1419.1,1027.5h55.5M1641.1,1027.5h55.5M1641.1,1032.5h55.5M1641.1,1038.5h55.5M1641.1,1039.5h55.5M1419.1,1044.5h55.5M1419.1,1045.5h55.5M1641.1,1051.5h55.5M1419.1,1052.5h55.5M1419.1,1062.5h55.5M1641.1,1062.5h55.5M1641.1,1065.5h55.5M1641.1,1071.5h55.5M1419.1,1074.5h55.5M1641.1,1074.5h55.5M1419.1,1075.5h55.5M1641.1,1076.5h55.5M1641.1,1078.5h55.5M1419.1,1079.5h55.5M1419.1,1083.5h55.5M1641.1,1086.5h55.5M1419.1,1089.5h55.5M1419.1,1091.5h55.5M1641.1,1095.5h55.5M1641.1,1101.5h55.5M1419.1,1104.5h55.5M1641.1,1104.5h55.5M1419.1,1105.5h55.5M1419.1,1109.5h55.5M1641.1,1109.5h55.5M1641.1,1110.5h55.5M1419.1,1111.5h55.5M1419.1,1114.5h55.5M1419.1,1121.5h55.5M1419.1,1126.5h55.5M1641.1,1126.5h55.5M1641.1,1127.5h55.5M1419.1,1130.5h55.5M1419.1,1131.5h55.5M1419.1,1133.5h55.5M1641.1,1137.5h55.5M1419.1,1139.5h55.5M1419.1,1142.5h55.5M1419.1,1143.5h55.5M1641.1,1143.5h55.5M1641.1,1148.5h55.5M1641.1,1150.5h55.5M1641.1,1154.5h55.5M1419.1,1161.5h55.5M1419.1,1162.5h55.5M1641.1,1165.5h55.5M1641.1,1172.5h55.5M1419.1,1173.5h55.5" stroke="#96a032" stroke-width="1.05" fill="none" shape-rendering="crispEdges"/>
<path d="M1308.1,921.5h55.5M1474.6,928.5h55.5M1530.1,958.5h55.5M1474.6,995.5h55.5M1363.6,998.5h55.5M1363.6,1028.5h55.5M1363.6,1039.5h55.5M1474.6,1051.5h55.5M1474.6,1066.5h55.5M1530.1,1094.5h55.5M1363.6,1097.5h55.5M1363.6,1098.5h55.5M1585.6,1106.5h55.5M1530.1,1127.5h55.5M1363.6,1145.5h55.5" stroke="#141e28" stroke-width="1.05" fill="none" shape-rendering="crispEdges"/>
<path d="M1363.6,921.5h55.5M1585.6,923.5h55.5M1585.6,925.5h55.5M1641.1,931.5h55.5M1363.6,935.5h55.5M1585.6,946.5h55.5M1363.6,952.5h55.5M1419.1,963.5h55.5M1419.1,964.5h55.5M1641.1,1012.5h55.5M1419.1,1024.5h55.5M1641.1,1024.5h55.5M1419.1,1040.5h55.5M1641.1,1093.5h55.5M1419.1,1110.5h55.5M1641.1,1120.5h55.5M1419.1,1128.5h55.5M1419.1,1154.5h55.5M1419.1,1155.5h55.5M1641.1,1182.5h55.5" stroke="#8c8c28" stroke-width="1.05" fill="none" shape-rendering="crispEdges"/>
<path d="M1474.6,921.5h55.5M1530.1,967.5h55.5M1252.6,968.5h55.5M1252.6,970.5h55.5M1530.1,970.5h55.5M1252.6,974.5h55.5M1530.1,975.5h55.5M1252.6,978.5h55.5M1474.6,979.5h55.5M1308.1,981.5h55.5M1308.1,984.5h55.5M1530.1,990.5h55.5M1252.6,991.5h55.5M1474.6,993.5h55.5M1252.6,995.5h55.5M1252.6,997.5h55.5M1308.1,997.5h55.5M1252.6,998.5h55.5M1308.1,999.5h55.5M1252.6,1003.5h55.5M1474.6,1003.5h55.5M1474.6,1004.5h55.5M1252.6,1008.5h55.5M1530.1,1008.5h55.5M1252.6,1020.5h55.5M1308.1,1020.5h55.5M1308.1,1027.5h55.5M1530.1,1027.5h55.5M1308.1,1034.5h55.5M1474.6,1037.5h55.5M1530.1,1037.5h55.5M1474.6,1043.5h55.5M1252.6,1052.5h55.5M1308.1,1063.5h55.5M1252.6,1091.5h55.5M1474.6,1091.5h55.5M1474.6,1094.5h55.5M1252.6,1108.5h55.5M1363.6,1112.5h55.5M1252.6,1123.5h55.5M1474.6,1125.5h55.5M1252.6,1128.5h55.5M1474.6,1142.5h55.5M1308.1,1145.5h55.5M1474.6,1150.5h55.5M1308.1,1156.5h55.5M1252.6,1161.5h55.5M1530.1,1161.5h55.5M1252.6,1162.5h55.5M1530.1,1176.5h55.5" stroke="#14283c" stroke-width="1.05" fill="none" shape-rendering="crispEdges"/>
<path d="M1530.1,921.5h55.5M1474.6,933.5h55.5M1530.1,933.5h55.5M1530.1,934.5h55.5M1363.6,965.5h55.5M1363.6,966.5h55.5M1585.6,968.5h55.5M1585.6,974.5h55.5M1585.6,976.5h55.5M1585.6,982.5h55.5M1363.6,983.5h55.5M1474.6,986.5h55.5M1585.6,986.5h55.5M1585.6,987.5h55.5M1363.6,997.5h55.5M1585.6,1005.5h55.5M1363.6,1010.5h55.5M1252.6,1065.5h55.5M1363.6,1094.5h55.5M1530.1,1099.5h55.5M1585.6,1107.5h55.5M1363.6,1113.5h55.5M1363.6,1118.5h55.5M1363.6,1120.5h55.5M1585.6,1127.5h55.5M1252.6,1151.5h55.5M1308.1,1151.5h55.5M1585.6,1169.5h55.5" stroke="#0a0a0a" stroke-width="1.05" fill="none" shape-rendering="crispEdges"/>
<path d="M1641.1,921.5h55.5M1419.1,923.5h55.5M1419.1,926.5h55.5M1641.1,927.5h55.5M1419.1,928.5h55.5M1585.6,937.5h55.5M1585.6,938.5h55.5M1419.1,940.5h55.5M1641.1,943.5h55.5M1641.1,947.5h55.5M1419.1,950.5h55.5M1641.1,954.5h55.5M1419.1,957.5h55.5M1641.1,958.5h55.5M1585.6,959.5h55.5M1641.1,975.5h55.5M1419.1,977.5h55.5M1419.1,979.5h55.5M1419.1,982.5h55.5M1419.1,986.5h55.5M1641.1,986.5h55.5M1641.1,1073.5h55.5M1641.1,1080.5h55.5M1419.1,1084.5h55.5M1419.1,1088.5h55.5M1419.1,1097.5h55.5M1419.1,1099.5h55.5M1641.1,1108.5h55.5M1419.1,1116.5h55.5M1641.1,1118.5h55.5M1641.1,1128.5h55.5M1641.1,1140.5h55.5M1641.1,1167.5h55.5M1641.1,1180.5h55.5M1419.1,1184.5h55.5" stroke="#b4be3c" stroke-width="1.05" fill="none" shape-rendering="crispEdges"/>
<path d="M1252.6,922.5h55.5M1530.1,924.5h55.5M1252.6,925.5h55.5M1530.1,931.5h55.5M1308.1,942.5h55.5M1530.1,956.5h55.5M1474.6,962.5h55.5M1585.6,962.5h55.5M1585.6,984.5h55.5M1363.6,985.5h55.5M1474.6,985.5h55.5M1363.6,999.5h55.5M1252.6,1009.5h55.5M1585.6,1011.5h55.5M1252.6,1015.5h55.5M1252.6,1022.5h55.5M1585.6,1025.5h55.5M1530.1,1044.5h55.5M1363.6,1048.5h55.5M1474.6,1065.5h55.5M1530.1,1066.5h55.5M1363.6,1068.5h55.5M1585.6,1077.5h55.5M1308.1,1079.5h55.5M1363.6,1080.5h55.5M1530.1,1084.5h55.5M1252.6,1087.5h55.5M1530.1,1095.5h55.5M1530.1,1100.5h55.5M1474.6,1103.5h55.5M1363.6,1106.5h55.5M1363.6,1110.5h55.5M1530.1,1119.5h55.5M1585.6,1122.5h55.5M1585.6,1126.5h55.5M1308.1,1129.5h55.5M1585.6,1129.5h55.5M1363.6,1131.5h55.5M1363.6,1144.5h55.5M1308.1,1163.5h55.5M1474.6,1164.5h55.5M1363.6,1165.5h55.5M1252.6,1168.5h55.5M1252.6,1178.5h55.5" stroke="#1e281e" stroke-width="1.05" fill="none" shape-rendering="crispEdges"/>
<path d="M1308.1,922.5h55.5M1585.6,967.5h55.5M1585.6,977.5h55.5M1585.6,989.5h55.5M1585.6,1009.5h55.5M1585.6,1037.5h55.5M1585.6,1043.5h55.5M1585.6,1047.5h55.5M1363.6,1053.5h55.5M1363.6,1058.5h55.5M1363.6,1061.5h55.5M1585.6,1065.5h55.5M1363.6,1066.5h55.5M1363.6,1067.5h55.5M1585.6,1069.5h55.5M1252.6,1072.5h55.5M1363.6,1072.5h55.5M1363.6,1083.5h55.5M1363.6,1085.5h55.5M1363.6,1111.5h55.5M1585.6,1111.5h55.5M1585.6,1115.5h55.5M1474.6,1116.5h55.5M1585.6,1119.5h55.5M1585.6,1132.5h55.5M1585.6,1133.5h55.5M1585.6,1134.5h55.5M1363.6,1141.5h55.5M1585.6,1154.5h55.5M1585.6,1160.5h55.5M1585.6,1164.5h55.5M1585.6,1165.5h55.5M1363.6,1180.5h55.5M1363.6,1182.5h55.5" stroke="#28280a" stroke-width="1.05" fill="none" shape-rendering="crispEdges"/>
<path d="M1363.6,922.5h55.5M1363.6,923.5h55.5M1641.1,923.5h55.5M1585.6,936.5h55.5M1585.6,940.5h55.5M1363.6,944.5h55.5M1585.6,944.5h55.5M1641.1,946.5h55.5M1363.6,953.5h55.5M1641.1,957.5h55.5M1363.6,959.5h55.5M1641.1,963.5h55.5M1419.1,972.5h55.5M1419.1,992.5h55.5M1641.1,997.5h55.5M1641.1,999.5h55.5M1419.1,1016.5h55.5M1641.1,1017.5h55.5M1419.1,1021.5h55.5M1419.1,1029.5h55.5M1419.1,1030.5h55.5M1419.1,1032.5h55.5M1641.1,1033.5h55.5M1419.1,1037.5h55.5M1419.1,1039.5h55.5M1641.1,1042.5h55.5M1641.1,1047.5h55.5M1419.1,1048.5h55.5M1419.1,1058.5h55.5M1641.1,1058.5h55.5M1419.1,1060.5h55.5M1641.1,1066.5h55.5M1641.1,1070.5h55.5M1641.1,1087.5h55.5M1419.1,1108.5h55.5M1641.1,1112.5h55.5M1419.1,1117.5h55.5M1419.1,1125.5h55.5M1419.1,1129.5h55.5M1419.1,1134.5h55.5M1641.1,1139.5h55.5M1419.1,1145.5h55.5M1641.1,1146.5h55.5M1419.1,1147.5h55.5M1641.1,1152.5h55.5M1641.1,1171.5h55.5M1419.1,1178.5h55.5M1419.1,1181.5h55.5M1419.1,1183.5h55.5" stroke="#828c28" stroke-width="1.05" fill="none" shape-rendering="crispEdges"/>
<path d="M1474.6,922.5h55.5M1530.1,951.5h55.5M1252.6,955.5h55.5M1252.6,973.5h55.5M1530.1,973.5h55.5M1585.6,1008.5h55.5M1585.6,1010.5h55.5M1530.1,1016.5h55.5M1252.6,1017.5h55.5M1474.6,1017.5h55.5M1252.6,1024.5h55.5M1363.6,1025.5h55.5M1363.6,1029.5h55.5M1585.6,1056.5h55.5M1474.6,1058.5h55.5M1474.6,1092.5h55.5M1530.1,1092.5h55.5M1252.6,1102.5h55.5M1585.6,1110.5h55.5M1474.6,1117.5h55.5M1252.6,1122.5h55.5M1308.1,1122.5h55.5M1530.1,1136.5h55.5M1308.1,1140.5h55.5M1530.1,1143.5h55.5M1252.6,1146.5h55.5M1474.6,1159.5h55.5" stroke="#283228" stroke-width="1.05" fill="none" shape-rendering="crispEdges"/>
<path d="M1530.1,922.5h55.5M1585.6,961.5h55.5M1363.6,976.5h55.5M1585.6,1024.5h55.5M1585.6,1029.5h55.5M1585.6,1040.5h55.5M1530.1,1072.5h55.5M1363.6,1115.5h55.5M1252.6,1116.5h55.5M1363.6,1122.5h55.5M1585.6,1136.5h55.5M1252.6,1141.5h55.5M1585.6,1150.5h55.5M1585.6,1162.5h55.5" stroke="#3c3c14" stroke-width="1.05" fill="none" shape-rendering="crispEdges"/>
<path d="M1641.1,922.5h55.5M1363.6,931.5h55.5M1585.6,950.5h55.5M1641.1,965.5h55.5M1641.1,972.5h55.5M1641.1,1000.5h55.5M1641.1,1003.5h55.5M1641.1,1037.5h55.5M1419.1,1038.5h55.5M1419.1,1042.5h55.5M1641.1,1054.5h55.5M1419.1,1063.5h55.5M1419.1,1081.5h55.5M1419.1,1086.5h55.5M1419.1,1122.5h55.5M1641.1,1129.5h55.5M1641.1,1134.5h55.5M1641.1,1151.5h55.5M1641.1,1153.5h55.5M1641.1,1159.5h55.5M1641.1,1163.5h55.5M1641.1,1166.5h55.5" stroke="#828228" stroke-width="1.05" fill="none" shape-rendering="crispEdges"/>
<path d="M1252.6,923.5h55.5M1474.6,925.5h55.5M1530.1,943.5h55.5M1474.6,946.5h55.5M1252.6,950.5h55.5M1308.1,953.5h55.5M1308.1,955.5h55.5M1530.1,962.5h55.5M1530.1,971.5h55.5M1308.1,973.5h55.5M1474.6,973.5h55.5M1530.1,977.5h55.5M1308.1,994.5h55.5M1474.6,994.5h55.5M1474.6,996.5h55.5M1530.1,1000.5h55.5M1252.6,1021.5h55.5M1363.6,1021.5h55.5M1585.6,1021.5h55.5M1308.1,1022.5h55.5M1308.1,1025.5h55.5M1363.6,1035.5h55.5M1363.6,1042.5h55.5M1252.6,1044.5h55.5M1363.6,1049.5h55.5M1363.6,1055.5h55.5M1308.1,1065.5h55.5M1252.6,1066.5h55.5M1308.1,1088.5h55.5M1363.6,1095.5h55.5M1585.6,1103.5h55.5M1252.6,1111.5h55.5M1252.6,1115.5h55.5M1308.1,1132.5h55.5M1308.1,1133.5h55.5M1363.6,1139.5h55.5M1474.6,1143.5h55.5M1252.6,1164.5h55.5M1474.6,1168.5h55.5M1530.1,1169.5h55.5M1530.1,1172.5h55.5" stroke="#1e2828" stroke-width="1.05" fill="none" shape-rendering="crispEdges"/>
<path d="M1308.1,923.5h55.5M1252.6,977.5h55.5M1363.6,988.5h55.5M1363.6,1032.5h55.5M1363.6,1044.5h55.5M1474.6,1053.5h55.5M1530.1,1098.5h55.5M1530.1,1101.5h55.5M1530.1,1106.5h55.5M1252.6,1125.5h55.5M1474.6,1126.5h55.5M1252.6,1129.5h55.5M1530.1,1129.5h55.5M1308.1,1131.5h55.5M1308.1,1144.5h55.5M1474.6,1169.5h55.5M1252.6,1184.5h55.5" stroke="#142828" stroke-width="1.05" fill="none" shape-rendering="crispEdges"/>
<path d="M1474.6,923.5h55.5M1308.1,941.5h55.5M1530.1,1007.5h55.5" stroke="#28465a" stroke-width="1.05" fill="none" shape-rendering="crispEdges"/>
<path d="M1530.1,923.5h55.5M1252.6,961.5h55.5M1530.1,961.5h55.5M1308.1,972.5h55.5M1363.6,993.5h55.5M1252.6,1012.5h55.5M1530.1,1028.5h55.5M1363.6,1040.5h55.5M1530.1,1054.5h55.5M1585.6,1058.5h55.5M1308.1,1060.5h55.5M1308.1,1082.5h55.5M1585.6,1131.5h55.5M1252.6,1136.5h55.5M1308.1,1136.5h55.5M1474.6,1140.5h55.5M1585.6,1172.5h55.5M1308.1,1175.5h55.5M1308.1,1183.5h55.5" stroke="#1e3228" stroke-width="1.05" fill="none" shape-rendering="crispEdges"/>
<path d="M1252.6,924.5h55.5M1308.1,931.5h55.5M1474.6,954.5h55.5M1530.1,1005.5h55.5M1474.6,1028.5h55.5M1474.6,1039.5h55.5M1474.6,1041.5h55.5M1474.6,1067.5h55.5M1474.6,1071.5h55.5M1474.6,1079.5h55.5M1252.6,1084.5h55.5M1474.6,1177.5h55.5" stroke="#324646" stroke-width="1.05" fill="none" shape-rendering="crispEdges"/>
<path d="M1308.1,924.5h55.5M1308.1,951.5h55.5M1474.6,971.5h55.5M1474.6,1022.5h55.5M1308.1,1032.5h55.5M1530.1,1061.5h55.5M1252.6,1071.5h55.5M1252.6,1077.5h55.5M1308.1,1080.5h55.5M1530.1,1080.5h55.5M1308.1,1085.5h55.5M1252.6,1089.5h55.5M1530.1,1163.5h55.5" stroke="#1e2832" stroke-width="1.05" fill="none" shape-rendering="crispEdges"/>
<path d="M1363.6,924.5h55.5M1363.6,925.5h55.5M1363.6,927.5h55.5M1585.6,941.5h55.5M1363.6,942.5h55.5M1419.1,946.5h55.5M1363.6,955.5h55.5M1585.6,955.5h55.5M1585.6,957.5h55.5M1419.1,970.5h55.5M1419.1,973.5h55.5M1641.1,974.5h55.5M1641.1,976.5h55.5M1641.1,980.5h55.5M1419.1,981.5h55.5M1419.1,984.5h55.5M1419.1,991.5h55.5M1641.1,998.5h55.5M1641.1,1007.5h55.5M1419.1,1009.5h55.5M1419.1,1010.5h55.5M1419.1,1011.5h55.5M1641.1,1016.5h55.5M1419.1,1020.5h55.5M1641.1,1023.5h55.5M1419.1,1041.5h55.5M1419.1,1043.5h55.5M1641.1,1053.5h55.5M1419.1,1057.5h55.5M1419.1,1059.5h55.5M1419.1,1065.5h55.5M1419.1,1066.5h55.5M1419.1,1082.5h55.5M1419.1,1093.5h55.5M1419.1,1098.5h55.5M1641.1,1098.5h55.5M1641.1,1114.5h55.5M1419.1,1138.5h55.5M1419.1,1152.5h55.5M1419.1,1153.5h55.5M1419.1,1157.5h55.5M1419.1,1164.5h55.5M1419.1,1166.5h55.5M1641.1,1175.5h55.5M1419.1,1176.5h55.5" stroke="#8c9632" stroke-width="1.05" fill="none" shape-rendering="crispEdges"/>
<path d="M1474.6,924.5h55.5M1474.6,1070.5h55.5M1252.6,1180.5h55.5" stroke="#285064" stroke-width="1.05" fill="none" shape-rendering="crispEdges"/>
<path d="M1641.1,924.5h55.5M1363.6,938.5h55.5M1419.1,962.5h55.5M1641.1,977.5h55.5M1641.1,996.5h55.5M1641.1,1022.5h55.5M1641.1,1030.5h55.5M1419.1,1031.5h55.5M1641.1,1045.5h55.5M1641.1,1046.5h55.5M1419.1,1051.5h55.5M1641.1,1056.5h55.5M1641.1,1059.5h55.5M1419.1,1120.5h55.5M1419.1,1124.5h55.5M1641.1,1131.5h55.5M1641.1,1133.5h55.5M1419.1,1150.5h55.5M1419.1,1172.5h55.5" stroke="#787828" stroke-width="1.05" fill="none" shape-rendering="crispEdges"/>
<path d="M1308.1,925.5h55.5M1530.1,940.5h55.5M1530.1,953.5h55.5M1363.6,962.5h55.5M1363.6,969.5h55.5M1585.6,975.5h55.5M1363.6,1017.5h55.5M1252.6,1029.5h55.5M1363.6,1084.5h55.5M1530.1,1087.5h55.5M1363.6,1102.5h55.5M1585.6,1158.5h55.5M1252.6,1160.5h55.5M1530.1,1166.5h55.5" stroke="#283214" stroke-width="1.05" fill="none" shape-rendering="crispEdges"/>
<path d="M1252.6,926.5h55.5M1308.1,926.5h55.5M1252.6,940.5h55.5M1252.6,958.5h55.5M1530.1,998.5h55.5M1530.1,1018.5h55.5M1530.1,1030.5h55.5M1308.1,1113.5h55.5M1530.1,1123.5h55.5" stroke="#28506e" stroke-width="1.05" fill="none" shape-rendering="crispEdges"/>
<path d="M1363.6,926.5h55.5M1363.6,946.5h55.5M1585.6,951.5h55.5M1585.6,956.5h55.5M1641.1,964.5h55.5M1641.1,970.5h55.5M1641.1,979.5h55.5M1641.1,990.5h55.5M1641.1,994.5h55.5M1419.1,1007.5h55.5M1641.1,1018.5h55.5M1641.1,1040.5h55.5M1641.1,1048.5h55.5M1641.1,1057.5h55.5M1419.1,1067.5h55.5M1641.1,1085.5h55.5M1641.1,1138.5h55.5M1641.1,1170.5h55.5M1419.1,1182.5h55.5" stroke="#6e7828" stroke-width="1.05" fill="none" shape-rendering="crispEdges"/>
<path d="M1474.6,926.5h55.5M1308.1,1003.5h55.5M1308.1,1052.5h55.5M1308.1,1064.5h55.5M1530.1,1086.5h55.5" stroke="#143250" stroke-width="1.05" fill="none" shape-rendering="crispEdges"/>
<path d="M1530.1,926.5h55.5M1585.6,964.5h55.5M1308.1,967.5h55.5M1252.6,969.5h55.5M1530.1,981.5h55.5M1530.1,983.5h55.5M1530.1,986.5h55.5M1474.6,987.5h55.5M1530.1,993.5h55.5M1252.6,1033.5h55.5M1363.6,1037.5h55.5M1252.6,1038.5h55.5M1474.6,1052.5h55.5M1308.1,1061.5h55.5M1474.6,1061.5h55.5M1252.6,1062.5h55.5M1252.6,1063.5h55.5M1474.6,1063.5h55.5M1530.1,1073.5h55.5M1530.1,1081.5h55.5M1474.6,1096.5h55.5M1474.6,1099.5h55.5M1585.6,1112.5h55.5M1308.1,1118.5h55.5M1363.6,1121.5h55.5M1474.6,1149.5h55.5M1530.1,1149.5h55.5M1308.1,1150.5h55.5M1530.1,1150.5h55.5M1308.1,1176.5h55.5" stroke="#0a1e28" stroke-width="1.05" fill="none" shape-rendering="crispEdges"/>
<path d="M1585.6,926.5h55.5M1363.6,932.5h55.5M1641.1,932.5h55.5M1641.1,937.5h55.5M1419.1,1017.5h55.5M1641.1,1036.5h55.5M1641.1,1041.5h55.5M1641.1,1044.5h55.5M1641.1,1050.5h55.5M1641.1,1060.5h55.5M1419.1,1064.5h55.5M1641.1,1068.5h55.5M1419.1,1169.5h55.5" stroke="#6e6e1e" stroke-width="1.05" fill="none" shape-rendering="crispEdges"/>
<path d="M1641.1,926.5h55.5M1641.1,961.5h55.5M1641.1,967.5h55.5M1641.1,969.5h55.5M1419.1,995.5h55.5M1419.1,999.5h55.5M1641.1,1155.5h55.5M1641.1,1169.5h55.5M1641.1,1183.5h55.5" stroke="#a0a032" stroke-width="1.05" fill="none" shape-rendering="crispEdges"/>
<path d="M1252.6,927.5h55.5M1252.6,928.5h55.5M1308.1,940.5h55.5M1252.6,1093.5h55.5M1308.1,1098.5h55.5M1530.1,1124.5h55.5" stroke="#325a64" stroke-width="1.05" fill="none" shape-rendering="crispEdges"/>
<path d="M1308.1,927.5h55.5M1308.1,928.5h55.5M1530.1,935.5h55.5M1308.1,939.5h55.5M1252.6,942.5h55.5M1474.6,942.5h55.5M1252.6,943.5h55.5M1252.6,956.5h55.5M1252.6,1000.5h55.5M1308.1,1040.5h55.5M1308.1,1041.5h55.5M1252.6,1045.5h55.5M1252.6,1080.5h55.5M1474.6,1106.5h55.5M1474.6,1118.5h55.5M1308.1,1167.5h55.5M1474.6,1172.5h55.5M1530.1,1180.5h55.5" stroke="#1e3c46" stroke-width="1.05" fill="none" shape-rendering="crispEdges"/>
<path d="M1474.6,927.5h55.5M1474.6,940.5h55.5M1530.1,950.5h55.5M1308.1,957.5h55.5M1308.1,961.5h55.5M1474.6,961.5h55.5M1308.1,963.5h55.5M1530.1,963.5h55.5M1252.6,965.5h55.5M1308.1,971.5h55.5M1252.6,994.5h55.5M1474.6,999.5h55.5M1308.1,1000.5h55.5M1474.6,1000.5h55.5M1252.6,1006.5h55.5M1474.6,1006.5h55.5M1530.1,1006.5h55.5M1530.1,1015.5h55.5M1308.1,1028.5h55.5M1252.6,1039.5h55.5M1530.1,1048.5h55.5M1474.6,1050.5h55.5M1252.6,1053.5h55.5M1308.1,1053.5h55.5M1530.1,1053.5h55.5M1474.6,1054.5h55.5M1308.1,1058.5h55.5M1308.1,1066.5h55.5M1530.1,1067.5h55.5M1474.6,1080.5h55.5M1474.6,1093.5h55.5M1308.1,1111.5h55.5M1308.1,1126.5h55.5M1474.6,1139.5h55.5M1530.1,1140.5h55.5M1308.1,1143.5h55.5M1252.6,1147.5h55.5M1308.1,1169.5h55.5M1252.6,1171.5h55.5" stroke="#1e3232" stroke-width="1.05" fill="none" shape-rendering="crispEdges"/>
<path d="M1530.1,927.5h55.5M1530.1,941.5h55.5M1308.1,949.5h55.5M1530.1,949.5h55.5M1363.6,968.5h55.5M1308.1,976.5h55.5M1308.1,1011.5h55.5M1585.6,1015.5h55.5M1363.6,1022.5h55.5M1585.6,1038.5h55.5M1363.6,1045.5h55.5M1585.6,1052.5h55.5M1585.6,1063.5h55.5M1585.6,1068.5h55.5M1474.6,1075.5h55.5M1585.6,1079.5h55.5M1363.6,1081.5h55.5M1363.6,1082.5h55.5M1585.6,1097.5h55.5M1363.6,1105.5h55.5M1252.6,1117.5h55.5M1252.6,1119.5h55.5M1363.6,1135.5h55.5M1585.6,1137.5h55.5M1363.6,1155.5h55.5M1363.6,1157.5h55.5M1474.6,1160.5h55.5M1474.6,1166.5h55.5M1585.6,1176.5h55.5" stroke="#1e2814" stroke-width="1.05" fill="none" shape-rendering="crispEdges"/>
<path d="M1363.6,928.5h55.5M1363.6,958.5h55.5M1641.1,1021.5h55.5M1641.1,1113.5h55.5" stroke="#64641e" stroke-width="1.05" fill="none" shape-rendering="crispEdges"/>
<path d="M1530.1,928.5h55.5M1474.6,955.5h55.5M1363.6,973.5h55.5M1530.1,1012.5h55.5M1363.6,1060.5h55.5M1585.6,1089.5h55.5M1474.6,1109.5h55.5M1585.6,1118.5h55.5M1363.6,1133.5h55.5M1363.6,1160.5h55.5M1474.6,1165.5h55.5" stroke="#323c1e" stroke-width="1.05" fill="none" shape-rendering="crispEdges"/>
<path d="M1585.6,928.5h55.5M1363.6,930.5h55.5M1585.6,935.5h55.5M1641.1,959.5h55.5M1641.1,982.5h55.5M1419.1,988.5h55.5M1419.1,990.5h55.5M1641.1,1004.5h55.5M1641.1,1005.5h55.5M1419.1,1014.5h55.5M1419.1,1049.5h55.5M1419.1,1053.5h55.5M1641.1,1061.5h55.5M1419.1,1068.5h55.5M1419.1,1072.5h55.5M1641.1,1072.5h55.5M1419.1,1078.5h55.5M1641.1,1081.5h55.5M1641.1,1090.5h55.5M1641.1,1091.5h55.5M1641.1,1099.5h55.5M1419.1,1100.5h55.5M1419.1,1102.5h55.5M1419.1,1106.5h55.5M1641.1,1106.5h55.5M1641.1,1111.5h55.5M1419.1,1112.5h55.5M1419.1,1113.5h55.5M1641.1,1116.5h55.5M1419.1,1144.5h55.5M1641.1,1145.5h55.5M1419.1,1158.5h55.5M1641.1,1164.5h55.5M1419.1,1165.5h55.5M1419.1,1174.5h55.5M1641.1,1174.5h55.5M1641.1,1177.5h55.5M1641.1,1178.5h55.5M1641.1,1179.5h55.5" stroke="#8c9628" stroke-width="1.05" fill="none" shape-rendering="crispEdges"/>
<path d="M1252.6,929.5h55.5M1252.6,937.5h55.5M1252.6,1043.5h55.5M1530.1,1062.5h55.5M1252.6,1097.5h55.5M1474.6,1113.5h55.5M1474.6,1128.5h55.5" stroke="#285a82" stroke-width="1.05" fill="none" shape-rendering="crispEdges"/>
<path d="M1308.1,929.5h55.5M1474.6,937.5h55.5M1474.6,947.5h55.5M1474.6,975.5h55.5M1308.1,978.5h55.5M1308.1,988.5h55.5M1252.6,989.5h55.5M1530.1,989.5h55.5M1530.1,1031.5h55.5M1474.6,1069.5h55.5M1308.1,1094.5h55.5M1252.6,1113.5h55.5M1308.1,1115.5h55.5" stroke="#1e465a" stroke-width="1.05" fill="none" shape-rendering="crispEdges"/>
<path d="M1474.6,929.5h55.5M1474.6,964.5h55.5M1530.1,964.5h55.5M1530.1,966.5h55.5M1474.6,968.5h55.5M1308.1,970.5h55.5M1308.1,982.5h55.5M1308.1,991.5h55.5M1474.6,991.5h55.5M1474.6,998.5h55.5M1474.6,1008.5h55.5M1474.6,1020.5h55.5M1530.1,1023.5h55.5M1252.6,1030.5h55.5M1252.6,1051.5h55.5M1308.1,1059.5h55.5M1530.1,1059.5h55.5M1530.1,1063.5h55.5M1530.1,1064.5h55.5M1252.6,1074.5h55.5M1308.1,1091.5h55.5M1530.1,1110.5h55.5M1474.6,1112.5h55.5M1530.1,1121.5h55.5M1308.1,1142.5h55.5M1252.6,1152.5h55.5M1308.1,1161.5h55.5" stroke="#1e3c5a" stroke-width="1.05" fill="none" shape-rendering="crispEdges"/>
<path d="M1530.1,929.5h55.5M1530.1,942.5h55.5M1530.1,947.5h55.5M1530.1,948.5h55.5M1585.6,966.5h55.5M1363.6,972.5h55.5M1363.6,979.5h55.5M1308.1,985.5h55.5M1474.6,992.5h55.5M1252.6,1005.5h55.5M1308.1,1006.5h55.5M1363.6,1006.5h55.5M1363.6,1030.5h55.5M1252.6,1032.5h55.5M1363.6,1036.5h55.5M1363.6,1041.5h55.5M1363.6,1056.5h55.5M1585.6,1057.5h55.5M1474.6,1082.5h55.5M1474.6,1083.5h55.5M1252.6,1088.5h55.5M1363.6,1090.5h55.5M1474.6,1098.5h55.5M1585.6,1098.5h55.5M1530.1,1117.5h55.5M1363.6,1125.5h55.5M1252.6,1134.5h55.5M1308.1,1134.5h55.5M1308.1,1137.5h55.5M1363.6,1147.5h55.5M1252.6,1148.5h55.5M1474.6,1153.5h55.5M1363.6,1167.5h55.5M1530.1,1167.5h55.5M1585.6,1175.5h55.5M1474.6,1182.5h55.5M1530.1,1182.5h55.5" stroke="#141e14" stroke-width="1.05" fill="none" shape-rendering="crispEdges"/>
<path d="M1252.6,930.5h55.5M1308.1,930.5h55.5M1474.6,966.5h55.5M1474.6,967.5h55.5M1474.6,970.5h55.5M1530.1,980.5h55.5M1530.1,991.5h55.5M1530.1,999.5h55.5M1308.1,1004.5h55.5M1530.1,1004.5h55.5M1530.1,1014.5h55.5M1530.1,1020.5h55.5M1474.6,1023.5h55.5M1474.6,1027.5h55.5M1308.1,1031.5h55.5M1474.6,1038.5h55.5M1308.1,1043.5h55.5M1530.1,1043.5h55.5M1252.6,1110.5h55.5M1252.6,1118.5h55.5M1252.6,1121.5h55.5M1474.6,1123.5h55.5M1474.6,1138.5h55.5M1530.1,1138.5h55.5M1474.6,1145.5h55.5M1252.6,1149.5h55.5M1474.6,1170.5h55.5M1530.1,1170.5h55.5M1474.6,1185.5h55.5" stroke="#1e4664" stroke-width="1.05" fill="none" shape-rendering="crispEdges"/>
<path d="M1474.6,930.5h55.5M1530.1,974.5h55.5M1252.6,983.5h55.5M1474.6,989.5h55.5M1308.1,1008.5h55.5M1530.1,1010.5h55.5M1530.1,1038.5h55.5M1530.1,1068.5h55.5M1530.1,1091.5h55.5M1252.6,1092.5h55.5M1308.1,1107.5h55.5M1530.1,1142.5h55.5M1252.6,1170.5h55.5M1252.6,1173.5h55.5" stroke="#14323c" stroke-width="1.05" fill="none" shape-rendering="crispEdges"/>
<path d="M1530.1,930.5h55.5M1585.6,981.5h55.5M1363.6,986.5h55.5M1585.6,1001.5h55.5M1585.6,1006.5h55.5M1585.6,1026.5h55.5M1585.6,1091.5h55.5M1585.6,1128.5h55.5M1585.6,1170.5h55.5" stroke="#0a0a00" stroke-width="1.05" fill="none" shape-rendering="crispEdges"/>
<path d="M1585.6,930.5h55.5M1419.1,1028.5h55.5M1641.1,1043.5h55.5M1641.1,1055.5h55.5" stroke="#646e1e" stroke-width="1.05" fill="none" shape-rendering="crispEdges"/>
<path d="M1641.1,930.5h55.5M1641.1,953.5h55.5M1641.1,984.5h55.5M1419.1,987.5h55.5M1419.1,989.5h55.5M1419.1,994.5h55.5M1419.1,996.5h55.5M1419.1,1008.5h55.5M1641.1,1014.5h55.5M1641.1,1026.5h55.5M1641.1,1035.5h55.5M1419.1,1061.5h55.5M1419.1,1071.5h55.5M1641.1,1079.5h55.5M1419.1,1085.5h55.5M1641.1,1096.5h55.5M1641.1,1100.5h55.5M1641.1,1136.5h55.5M1419.1,1148.5h55.5M1419.1,1149.5h55.5M1419.1,1151.5h55.5M1641.1,1168.5h55.5M1419.1,1170.5h55.5M1419.1,1175.5h55.5" stroke="#969632" stroke-width="1.05" fill="none" shape-rendering="crispEdges"/>
<path d="M1252.6,931.5h55.5M1308.1,943.5h55.5M1252.6,951.5h55.5M1474.6,959.5h55.5M1252.6,1007.5h55.5M1474.6,1007.5h55.5M1474.6,1024.5h55.5M1252.6,1025.5h55.5M1474.6,1040.5h55.5M1252.6,1048.5h55.5M1308.1,1070.5h55.5M1474.6,1084.5h55.5M1474.6,1090.5h55.5M1474.6,1131.5h55.5" stroke="#32505a" stroke-width="1.05" fill="none" shape-rendering="crispEdges"/>
<path d="M1474.6,931.5h55.5M1474.6,953.5h55.5M1308.1,956.5h55.5M1252.6,962.5h55.5M1252.6,972.5h55.5M1530.1,972.5h55.5M1252.6,985.5h55.5M1530.1,994.5h55.5M1252.6,1010.5h55.5M1308.1,1010.5h55.5M1308.1,1036.5h55.5M1530.1,1039.5h55.5M1308.1,1047.5h55.5M1308.1,1049.5h55.5M1474.6,1049.5h55.5M1530.1,1050.5h55.5M1474.6,1060.5h55.5M1308.1,1067.5h55.5M1308.1,1071.5h55.5M1474.6,1101.5h55.5M1308.1,1102.5h55.5M1474.6,1104.5h55.5M1308.1,1124.5h55.5M1585.6,1124.5h55.5M1530.1,1125.5h55.5M1474.6,1133.5h55.5M1308.1,1139.5h55.5M1474.6,1163.5h55.5M1308.1,1168.5h55.5M1252.6,1169.5h55.5M1308.1,1171.5h55.5M1252.6,1179.5h55.5M1474.6,1179.5h55.5M1308.1,1180.5h55.5M1474.6,1180.5h55.5" stroke="#283c3c" stroke-width="1.05" fill="none" shape-rendering="crispEdges"/>
<path d="M1252.6,932.5h55.5M1474.6,939.5h55.5M1474.6,943.5h55.5M1308.1,944.5h55.5M1252.6,946.5h55.5M1474.6,956.5h55.5M1252.6,959.5h55.5M1308.1,965.5h55.5M1308.1,1015.5h55.5M1530.1,1022.5h55.5M1252.6,1035.5h55.5M1474.6,1035.5h55.5M1530.1,1047.5h55.5M1252.6,1056.5h55.5M1252.6,1070.5h55.5M1530.1,1070.5h55.5M1530.1,1089.5h55.5M1252.6,1100.5h55.5M1308.1,1100.5h55.5M1530.1,1115.5h55.5M1252.6,1124.5h55.5M1530.1,1126.5h55.5M1530.1,1157.5h55.5M1308.1,1172.5h55.5M1474.6,1175.5h55.5" stroke="#284650" stroke-width="1.05" fill="none" shape-rendering="crispEdges"/>
<path d="M1308.1,932.5h55.5M1530.1,1056.5h55.5" stroke="#325a5a" stroke-width="1.05" fill="none" shape-rendering="crispEdges"/>
<path d="M1474.6,932.5h55.5" stroke="#3c5046" stroke-width="1.05" fill="none" shape-rendering="crispEdges"/>
<path d="M1252.6,933.5h55.5M1585.6,963.5h55.5M1363.6,1003.5h55.5M1308.1,1013.5h55.5M1585.6,1031.5h55.5M1363.6,1033.5h55.5M1308.1,1046.5h55.5M1530.1,1046.5h55.5M1363.6,1047.5h55.5M1363.6,1054.5h55.5M1530.1,1065.5h55.5M1363.6,1069.5h55.5M1585.6,1076.5h55.5M1308.1,1127.5h55.5M1252.6,1132.5h55.5M1308.1,1166.5h55.5M1530.1,1174.5h55.5" stroke="#141414" stroke-width="1.05" fill="none" shape-rendering="crispEdges"/>
<path d="M1585.6,933.5h55.5M1641.1,938.5h55.5M1585.6,939.5h55.5M1585.6,942.5h55.5M1641.1,951.5h55.5M1363.6,960.5h55.5M1641.1,968.5h55.5M1641.1,987.5h55.5M1641.1,989.5h55.5M1641.1,992.5h55.5M1641.1,993.5h55.5M1419.1,998.5h55.5M1641.1,1002.5h55.5M1419.1,1004.5h55.5M1419.1,1006.5h55.5M1641.1,1006.5h55.5M1641.1,1010.5h55.5M1419.1,1015.5h55.5M1641.1,1015.5h55.5M1641.1,1029.5h55.5M1641.1,1031.5h55.5M1419.1,1033.5h55.5M1419.1,1034.5h55.5M1641.1,1034.5h55.5M1419.1,1050.5h55.5M1641.1,1052.5h55.5M1641.1,1069.5h55.5M1419.1,1077.5h55.5M1641.1,1102.5h55.5M1641.1,1123.5h55.5M1641.1,1124.5h55.5M1419.1,1135.5h55.5M1641.1,1158.5h55.5M1641.1,1161.5h55.5M1419.1,1163.5h55.5M1419.1,1171.5h55.5M1641.1,1173.5h55.5M1419.1,1177.5h55.5M1419.1,1179.5h55.5" stroke="#788228" stroke-width="1.05" fill="none" shape-rendering="crispEdges"/>
<path d="M1252.6,934.5h55.5M1252.6,1040.5h55.5" stroke="#3c5a5a" stroke-width="1.05" fill="none" shape-rendering="crispEdges"/>
<path d="M1308.1,934.5h55.5M1308.1,954.5h55.5" stroke="#3c646e" stroke-width="1.05" fill="none" shape-rendering="crispEdges"/>
<path d="M1474.6,934.5h55.5M1474.6,938.5h55.5M1252.6,949.5h55.5M1308.1,952.5h55.5M1252.6,953.5h55.5M1474.6,963.5h55.5M1585.6,996.5h55.5M1252.6,1013.5h55.5M1474.6,1013.5h55.5M1252.6,1016.5h55.5M1308.1,1042.5h55.5M1252.6,1075.5h55.5M1474.6,1134.5h55.5M1474.6,1137.5h55.5M1530.1,1144.5h55.5M1308.1,1160.5h55.5M1252.6,1166.5h55.5M1530.1,1183.5h55.5" stroke="#283c32" stroke-width="1.05" fill="none" shape-rendering="crispEdges"/>
<path d="M1252.6,935.5h55.5M1252.6,1090.5h55.5M1308.1,1155.5h55.5M1530.1,1175.5h55.5M1308.1,1177.5h55.5M1308.1,1178.5h55.5M1530.1,1178.5h55.5M1252.6,1183.5h55.5" stroke="#32463c" stroke-width="1.05" fill="none" shape-rendering="crispEdges"/>
<path d="M1308.1,935.5h55.5" stroke="#1e4650" stroke-width="1.05" fill="none" shape-rendering="crispEdges"/>
<path d="M1252.6,936.5h55.5M1585.6,985.5h55.5M1585.6,988.5h55.5M1363.6,1012.5h55.5M1585.6,1053.5h55.5M1585.6,1059.5h55.5M1585.6,1060.5h55.5M1363.6,1109.5h55.5M1585.6,1125.5h55.5M1363.6,1127.5h55.5M1585.6,1167.5h55.5M1585.6,1179.5h55.5" stroke="#1e280a" stroke-width="1.05" fill="none" shape-rendering="crispEdges"/>
<path d="M1308.1,936.5h55.5M1530.1,936.5h55.5M1585.6,970.5h55.5M1363.6,1005.5h55.5M1363.6,1008.5h55.5M1530.1,1029.5h55.5M1474.6,1072.5h55.5M1585.6,1072.5h55.5M1363.6,1116.5h55.5M1530.1,1116.5h55.5M1363.6,1137.5h55.5M1308.1,1146.5h55.5M1585.6,1157.5h55.5M1530.1,1160.5h55.5M1363.6,1178.5h55.5M1585.6,1178.5h55.5M1308.1,1181.5h55.5M1363.6,1181.5h55.5" stroke="#323214" stroke-width="1.05" fill="none" shape-rendering="crispEdges"/>
<path d="M1363.6,936.5h55.5M1363.6,967.5h55.5M1363.6,1064.5h55.5M1585.6,1093.5h55.5" stroke="#50501e" stroke-width="1.05" fill="none" shape-rendering="crispEdges"/>
<path d="M1419.1,936.5h55.5M1363.6,951.5h55.5M1419.1,1036.5h55.5" stroke="#aaaa32" stroke-width="1.05" fill="none" shape-rendering="crispEdges"/>
<path d="M1474.6,936.5h55.5M1585.6,960.5h55.5M1585.6,1034.5h55.5M1585.6,1083.5h55.5M1585.6,1104.5h55.5M1585.6,1183.5h55.5" stroke="#464614" stroke-width="1.05" fill="none" shape-rendering="crispEdges"/>
<path d="M1308.1,937.5h55.5M1308.1,979.5h55.5M1308.1,980.5h55.5M1252.6,1004.5h55.5M1474.6,1014.5h55.5M1474.6,1018.5h55.5M1308.1,1051.5h55.5M1308.1,1069.5h55.5M1252.6,1107.5h55.5M1308.1,1112.5h55.5M1530.1,1112.5h55.5" stroke="#285a78" stroke-width="1.05" fill="none" shape-rendering="crispEdges"/>
<path d="M1252.6,938.5h55.5M1308.1,948.5h55.5M1474.6,951.5h55.5M1252.6,954.5h55.5M1474.6,972.5h55.5M1530.1,1009.5h55.5M1252.6,1054.5h55.5M1252.6,1060.5h55.5M1474.6,1077.5h55.5M1308.1,1093.5h55.5M1308.1,1096.5h55.5M1474.6,1124.5h55.5M1530.1,1139.5h55.5M1474.6,1144.5h55.5M1308.1,1157.5h55.5M1252.6,1175.5h55.5" stroke="#283c46" stroke-width="1.05" fill="none" shape-rendering="crispEdges"/>
<path d="M1308.1,938.5h55.5M1363.6,991.5h55.5M1252.6,1042.5h55.5M1363.6,1183.5h55.5" stroke="#32321e" stroke-width="1.05" fill="none" shape-rendering="crispEdges"/>
<path d="M1530.1,938.5h55.5M1530.1,952.5h55.5M1530.1,954.5h55.5M1585.6,991.5h55.5M1308.1,992.5h55.5M1585.6,1004.5h55.5M1363.6,1007.5h55.5M1363.6,1011.5h55.5M1308.1,1012.5h55.5M1585.6,1028.5h55.5M1585.6,1049.5h55.5M1585.6,1050.5h55.5M1252.6,1067.5h55.5M1363.6,1077.5h55.5M1530.1,1083.5h55.5M1363.6,1096.5h55.5M1363.6,1100.5h55.5M1363.6,1101.5h55.5M1308.1,1119.5h55.5M1530.1,1141.5h55.5M1363.6,1148.5h55.5M1530.1,1148.5h55.5M1585.6,1148.5h55.5M1363.6,1149.5h55.5M1363.6,1158.5h55.5M1363.6,1176.5h55.5" stroke="#1e1e14" stroke-width="1.05" fill="none" shape-rendering="crispEdges"/>
<path d="M1252.6,939.5h55.5" stroke="#326478" stroke-width="1.05" fill="none" shape-rendering="crispEdges"/>
<path d="M1363.6,939.5h55.5M1585.6,978.5h55.5M1363.6,1062.5h55.5M1363.6,1065.5h55.5" stroke="#505014" stroke-width="1.05" fill="none" shape-rendering="crispEdges"/>
<path d="M1530.1,939.5h55.5M1474.6,949.5h55.5M1252.6,971.5h55.5M1363.6,977.5h55.5M1363.6,978.5h55.5M1363.6,982.5h55.5M1585.6,1007.5h55.5M1585.6,1020.5h55.5M1530.1,1032.5h55.5M1530.1,1035.5h55.5M1585.6,1045.5h55.5M1363.6,1059.5h55.5M1308.1,1068.5h55.5M1585.6,1074.5h55.5M1530.1,1079.5h55.5M1252.6,1083.5h55.5M1308.1,1083.5h55.5M1530.1,1085.5h55.5M1474.6,1095.5h55.5M1252.6,1096.5h55.5M1585.6,1102.5h55.5M1530.1,1111.5h55.5M1252.6,1133.5h55.5M1252.6,1143.5h55.5M1252.6,1144.5h55.5M1585.6,1145.5h55.5M1252.6,1157.5h55.5M1530.1,1164.5h55.5M1363.6,1172.5h55.5M1363.6,1175.5h55.5" stroke="#141e1e" stroke-width="1.05" fill="none" shape-rendering="crispEdges"/>
<path d="M1252.6,941.5h55.5M1474.6,950.5h55.5M1252.6,1036.5h55.5M1530.1,1040.5h55.5M1530.1,1049.5h55.5M1530.1,1077.5h55.5M1474.6,1089.5h55.5M1308.1,1090.5h55.5M1585.6,1114.5h55.5M1474.6,1147.5h55.5M1474.6,1148.5h55.5M1252.6,1172.5h55.5" stroke="#284646" stroke-width="1.05" fill="none" shape-rendering="crispEdges"/>
<path d="M1363.6,941.5h55.5" stroke="#d2e646" stroke-width="1.05" fill="none" shape-rendering="crispEdges"/>
<path d="M1474.6,941.5h55.5M1474.6,957.5h55.5M1252.6,963.5h55.5M1252.6,996.5h55.5M1474.6,1005.5h55.5M1474.6,1009.5h55.5M1474.6,1011.5h55.5M1308.1,1024.5h55.5M1252.6,1028.5h55.5M1530.1,1041.5h55.5M1474.6,1044.5h55.5M1474.6,1047.5h55.5M1363.6,1093.5h55.5M1474.6,1132.5h55.5M1308.1,1159.5h55.5M1252.6,1167.5h55.5M1308.1,1179.5h55.5M1308.1,1184.5h55.5" stroke="#283232" stroke-width="1.05" fill="none" shape-rendering="crispEdges"/>
<path d="M1252.6,944.5h55.5M1308.1,958.5h55.5M1474.6,958.5h55.5M1308.1,964.5h55.5M1308.1,966.5h55.5M1308.1,968.5h55.5M1530.1,968.5h55.5M1308.1,974.5h55.5M1252.6,975.5h55.5M1530.1,978.5h55.5M1252.6,979.5h55.5M1252.6,981.5h55.5M1530.1,982.5h55.5M1308.1,983.5h55.5M1252.6,986.5h55.5M1308.1,987.5h55.5M1530.1,987.5h55.5M1530.1,988.5h55.5M1252.6,993.5h55.5M1308.1,995.5h55.5M1530.1,995.5h55.5M1474.6,997.5h55.5M1308.1,998.5h55.5M1308.1,1014.5h55.5M1252.6,1018.5h55.5M1308.1,1023.5h55.5M1252.6,1027.5h55.5M1252.6,1034.5h55.5M1252.6,1037.5h55.5M1308.1,1037.5h55.5M1308.1,1038.5h55.5M1474.6,1055.5h55.5M1530.1,1057.5h55.5M1308.1,1062.5h55.5M1252.6,1069.5h55.5M1308.1,1073.5h55.5M1308.1,1074.5h55.5M1474.6,1074.5h55.5M1252.6,1076.5h55.5M1474.6,1076.5h55.5M1474.6,1078.5h55.5M1530.1,1078.5h55.5M1308.1,1081.5h55.5M1252.6,1094.5h55.5M1474.6,1097.5h55.5M1308.1,1099.5h55.5M1252.6,1106.5h55.5M1308.1,1108.5h55.5M1474.6,1108.5h55.5M1252.6,1114.5h55.5M1530.1,1114.5h55.5M1252.6,1120.5h55.5M1308.1,1120.5h55.5M1530.1,1120.5h55.5M1308.1,1123.5h55.5M1474.6,1127.5h55.5M1308.1,1128.5h55.5M1308.1,1152.5h55.5M1474.6,1152.5h55.5M1530.1,1152.5h55.5M1308.1,1162.5h55.5M1308.1,1173.5h55.5M1474.6,1173.5h55.5M1530.1,1173.5h55.5M1308.1,1185.5h55.5" stroke="#143246" stroke-width="1.05" fill="none" shape-rendering="crispEdges"/>
<path d="M1474.6,944.5h55.5M1474.6,948.5h55.5M1474.6,952.5h55.5M1252.6,957.5h55.5M1530.1,965.5h55.5M1308.1,1005.5h55.5M1474.6,1025.5h55.5M1474.6,1032.5h55.5M1530.1,1036.5h55.5M1308.1,1039.5h55.5M1252.6,1047.5h55.5M1308.1,1048.5h55.5M1474.6,1048.5h55.5M1252.6,1049.5h55.5M1474.6,1056.5h55.5M1252.6,1058.5h55.5M1530.1,1060.5h55.5M1308.1,1092.5h55.5M1530.1,1093.5h55.5M1530.1,1103.5h55.5M1474.6,1115.5h55.5M1308.1,1121.5h55.5M1252.6,1126.5h55.5M1530.1,1131.5h55.5M1530.1,1134.5h55.5M1363.6,1142.5h55.5M1308.1,1147.5h55.5M1308.1,1148.5h55.5M1530.1,1155.5h55.5M1252.6,1163.5h55.5M1474.6,1171.5h55.5" stroke="#1e323c" stroke-width="1.05" fill="none" shape-rendering="crispEdges"/>
<path d="M1530.1,944.5h55.5M1363.6,974.5h55.5M1530.1,985.5h55.5M1252.6,992.5h55.5M1585.6,992.5h55.5M1585.6,997.5h55.5M1363.6,1000.5h55.5M1585.6,1033.5h55.5M1585.6,1036.5h55.5M1585.6,1048.5h55.5M1363.6,1070.5h55.5M1585.6,1085.5h55.5M1363.6,1092.5h55.5M1363.6,1103.5h55.5M1363.6,1108.5h55.5M1363.6,1138.5h55.5M1474.6,1151.5h55.5M1530.1,1153.5h55.5M1308.1,1154.5h55.5M1585.6,1156.5h55.5M1363.6,1162.5h55.5M1363.6,1163.5h55.5M1585.6,1166.5h55.5M1474.6,1174.5h55.5M1363.6,1179.5h55.5M1308.1,1182.5h55.5" stroke="#141e0a" stroke-width="1.05" fill="none" shape-rendering="crispEdges"/>
<path d="M1308.1,945.5h55.5M1252.6,947.5h55.5M1308.1,947.5h55.5M1252.6,984.5h55.5M1474.6,1031.5h55.5M1530.1,1113.5h55.5" stroke="#285078" stroke-width="1.05" fill="none" shape-rendering="crispEdges"/>
<path d="M1474.6,945.5h55.5M1308.1,959.5h55.5M1308.1,962.5h55.5M1252.6,966.5h55.5M1530.1,969.5h55.5M1308.1,975.5h55.5M1530.1,979.5h55.5M1252.6,980.5h55.5M1252.6,982.5h55.5M1474.6,982.5h55.5M1252.6,987.5h55.5M1474.6,988.5h55.5M1252.6,990.5h55.5M1474.6,990.5h55.5M1252.6,999.5h55.5M1474.6,1002.5h55.5M1530.1,1003.5h55.5M1252.6,1014.5h55.5M1530.1,1024.5h55.5M1252.6,1031.5h55.5M1363.6,1031.5h55.5M1530.1,1033.5h55.5M1474.6,1034.5h55.5M1308.1,1035.5h55.5M1474.6,1036.5h55.5M1252.6,1050.5h55.5M1530.1,1052.5h55.5M1252.6,1055.5h55.5M1308.1,1056.5h55.5M1252.6,1057.5h55.5M1252.6,1059.5h55.5M1474.6,1059.5h55.5M1474.6,1062.5h55.5M1474.6,1064.5h55.5M1252.6,1073.5h55.5M1530.1,1074.5h55.5M1252.6,1078.5h55.5M1308.1,1084.5h55.5M1308.1,1089.5h55.5M1252.6,1099.5h55.5M1474.6,1105.5h55.5M1530.1,1105.5h55.5M1530.1,1108.5h55.5M1474.6,1110.5h55.5M1252.6,1112.5h55.5M1474.6,1114.5h55.5M1530.1,1118.5h55.5M1474.6,1121.5h55.5M1530.1,1128.5h55.5M1530.1,1145.5h55.5M1252.6,1150.5h55.5M1474.6,1176.5h55.5M1530.1,1185.5h55.5" stroke="#1e3c50" stroke-width="1.05" fill="none" shape-rendering="crispEdges"/>
<path d="M1530.1,945.5h55.5M1252.6,960.5h55.5M1308.1,960.5h55.5M1474.6,960.5h55.5M1585.6,990.5h55.5M1252.6,1001.5h55.5M1308.1,1001.5h55.5M1530.1,1001.5h55.5M1585.6,1018.5h55.5M1530.1,1019.5h55.5M1585.6,1023.5h55.5M1252.6,1026.5h55.5M1308.1,1026.5h55.5M1363.6,1027.5h55.5M1363.6,1063.5h55.5M1585.6,1121.5h55.5M1585.6,1138.5h55.5" stroke="#000a0a" stroke-width="1.05" fill="none" shape-rendering="crispEdges"/>
<path d="M1308.1,946.5h55.5M1308.1,1045.5h55.5" stroke="#28505a" stroke-width="1.05" fill="none" shape-rendering="crispEdges"/>
<path d="M1530.1,946.5h55.5M1530.1,959.5h55.5M1585.6,969.5h55.5M1252.6,976.5h55.5M1474.6,976.5h55.5M1530.1,976.5h55.5M1308.1,996.5h55.5M1530.1,1013.5h55.5M1363.6,1015.5h55.5M1363.6,1016.5h55.5M1308.1,1017.5h55.5M1585.6,1022.5h55.5M1530.1,1042.5h55.5M1474.6,1045.5h55.5M1474.6,1102.5h55.5M1530.1,1109.5h55.5M1308.1,1117.5h55.5M1252.6,1135.5h55.5M1474.6,1135.5h55.5M1585.6,1135.5h55.5M1252.6,1158.5h55.5M1308.1,1165.5h55.5" stroke="#28321e" stroke-width="1.05" fill="none" shape-rendering="crispEdges"/>
<path d="M1252.6,948.5h55.5M1530.1,996.5h55.5" stroke="#325064" stroke-width="1.05" fill="none" shape-rendering="crispEdges"/>
<path d="M1308.1,950.5h55.5M1474.6,977.5h55.5M1585.6,1055.5h55.5M1530.1,1071.5h55.5M1363.6,1124.5h55.5M1474.6,1157.5h55.5M1252.6,1177.5h55.5" stroke="#14281e" stroke-width="1.05" fill="none" shape-rendering="crispEdges"/>
<path d="M1252.6,952.5h55.5" stroke="#285050" stroke-width="1.05" fill="none" shape-rendering="crispEdges"/>
<path d="M1530.1,957.5h55.5M1585.6,971.5h55.5M1585.6,1041.5h55.5M1308.1,1116.5h55.5M1585.6,1117.5h55.5M1363.6,1119.5h55.5M1252.6,1181.5h55.5" stroke="#28320a" stroke-width="1.05" fill="none" shape-rendering="crispEdges"/>
<path d="M1419.1,958.5h55.5M1419.1,1047.5h55.5" stroke="#b4c83c" stroke-width="1.05" fill="none" shape-rendering="crispEdges"/>
<path d="M1530.1,960.5h55.5M1308.1,1019.5h55.5M1363.6,1019.5h55.5M1363.6,1043.5h55.5M1585.6,1105.5h55.5M1308.1,1130.5h55.5M1585.6,1130.5h55.5M1363.6,1150.5h55.5" stroke="#000000" stroke-width="1.05" fill="none" shape-rendering="crispEdges"/>
<path d="M1252.6,964.5h55.5M1308.1,1030.5h55.5M1252.6,1105.5h55.5M1530.1,1107.5h55.5M1474.6,1120.5h55.5M1308.1,1138.5h55.5M1474.6,1156.5h55.5" stroke="#1e3250" stroke-width="1.05" fill="none" shape-rendering="crispEdges"/>
<path d="M1474.6,965.5h55.5M1308.1,1087.5h55.5M1474.6,1087.5h55.5M1474.6,1146.5h55.5" stroke="#323c32" stroke-width="1.05" fill="none" shape-rendering="crispEdges"/>
<path d="M1252.6,967.5h55.5M1474.6,978.5h55.5M1474.6,980.5h55.5M1252.6,988.5h55.5M1308.1,989.5h55.5M1308.1,990.5h55.5M1308.1,993.5h55.5M1530.1,997.5h55.5M1308.1,1002.5h55.5M1530.1,1034.5h55.5M1308.1,1057.5h55.5M1252.6,1061.5h55.5M1474.6,1086.5h55.5M1585.6,1113.5h55.5M1474.6,1161.5h55.5M1474.6,1162.5h55.5" stroke="#141e32" stroke-width="1.05" fill="none" shape-rendering="crispEdges"/>
<path d="M1474.6,974.5h55.5M1530.1,1002.5h55.5M1474.6,1033.5h55.5M1530.1,1069.5h55.5M1308.1,1097.5h55.5M1308.1,1103.5h55.5" stroke="#284664" stroke-width="1.05" fill="none" shape-rendering="crispEdges"/>
<path d="M1363.6,980.5h55.5M1363.6,984.5h55.5M1252.6,1011.5h55.5M1474.6,1158.5h55.5" stroke="#3c4628" stroke-width="1.05" fill="none" shape-rendering="crispEdges"/>
<path d="M1363.6,989.5h55.5M1474.6,1019.5h55.5M1530.1,1026.5h55.5M1363.6,1052.5h55.5M1363.6,1107.5h55.5M1530.1,1130.5h55.5M1252.6,1156.5h55.5M1363.6,1170.5h55.5" stroke="#0a0a14" stroke-width="1.05" fill="none" shape-rendering="crispEdges"/>
<path d="M1363.6,992.5h55.5M1585.6,1046.5h55.5M1585.6,1142.5h55.5M1585.6,1182.5h55.5" stroke="#0a1400" stroke-width="1.05" fill="none" shape-rendering="crispEdges"/>
<path d="M1363.6,996.5h55.5M1308.1,1109.5h55.5M1585.6,1109.5h55.5M1585.6,1173.5h55.5M1585.6,1180.5h55.5" stroke="#323c14" stroke-width="1.05" fill="none" shape-rendering="crispEdges"/>
<path d="M1363.6,1001.5h55.5M1363.6,1014.5h55.5M1585.6,1019.5h55.5M1363.6,1026.5h55.5M1363.6,1130.5h55.5" stroke="#000a00" stroke-width="1.05" fill="none" shape-rendering="crispEdges"/>
<path d="M1474.6,1001.5h55.5M1252.6,1019.5h55.5M1252.6,1130.5h55.5" stroke="#00000a" stroke-width="1.05" fill="none" shape-rendering="crispEdges"/>
<path d="M1585.6,1002.5h55.5M1363.6,1169.5h55.5" stroke="#141400" stroke-width="1.05" fill="none" shape-rendering="crispEdges"/>
<path d="M1308.1,1007.5h55.5M1363.6,1074.5h55.5" stroke="#14141e" stroke-width="1.05" fill="none" shape-rendering="crispEdges"/>
<path d="M1530.1,1011.5h55.5M1308.1,1075.5h55.5M1474.6,1122.5h55.5M1530.1,1135.5h55.5M1530.1,1137.5h55.5M1474.6,1155.5h55.5" stroke="#324632" stroke-width="1.05" fill="none" shape-rendering="crispEdges"/>
<path d="M1585.6,1013.5h55.5M1363.6,1071.5h55.5M1530.1,1165.5h55.5M1474.6,1178.5h55.5" stroke="#28281e" stroke-width="1.05" fill="none" shape-rendering="crispEdges"/>
<path d="M1474.6,1015.5h55.5M1530.1,1021.5h55.5M1530.1,1045.5h55.5M1308.1,1095.5h55.5M1252.6,1098.5h55.5M1530.1,1132.5h55.5M1530.1,1179.5h55.5M1474.6,1184.5h55.5" stroke="#325050" stroke-width="1.05" fill="none" shape-rendering="crispEdges"/>
<path d="M1474.6,1016.5h55.5M1308.1,1029.5h55.5M1474.6,1029.5h55.5M1474.6,1042.5h55.5M1530.1,1104.5h55.5M1252.6,1109.5h55.5M1308.1,1135.5h55.5M1474.6,1136.5h55.5M1308.1,1141.5h55.5M1474.6,1141.5h55.5M1530.1,1146.5h55.5" stroke="#323c28" stroke-width="1.05" fill="none" shape-rendering="crispEdges"/>
<path d="M1530.1,1017.5h55.5M1530.1,1102.5h55.5M1252.6,1104.5h55.5" stroke="#3c503c" stroke-width="1.05" fill="none" shape-rendering="crispEdges"/>
<path d="M1308.1,1021.5h55.5M1474.6,1068.5h55.5" stroke="#325a6e" stroke-width="1.05" fill="none" shape-rendering="crispEdges"/>
<path d="M1474.6,1021.5h55.5" stroke="#3c5a6e" stroke-width="1.05" fill="none" shape-rendering="crispEdges"/>
<path d="M1363.6,1023.5h55.5M1308.1,1050.5h55.5M1308.1,1054.5h55.5" stroke="#1e3246" stroke-width="1.05" fill="none" shape-rendering="crispEdges"/>
<path d="M1530.1,1025.5h55.5M1530.1,1058.5h55.5M1252.6,1101.5h55.5" stroke="#28463c" stroke-width="1.05" fill="none" shape-rendering="crispEdges"/>
<path d="M1474.6,1026.5h55.5M1474.6,1130.5h55.5" stroke="#000a14" stroke-width="1.05" fill="none" shape-rendering="crispEdges"/>
<path d="M1474.6,1030.5h55.5M1308.1,1033.5h55.5M1308.1,1110.5h55.5M1308.1,1170.5h55.5" stroke="#32648c" stroke-width="1.05" fill="none" shape-rendering="crispEdges"/>
<path d="M1585.6,1042.5h55.5M1585.6,1064.5h55.5M1585.6,1081.5h55.5" stroke="#3c3c1e" stroke-width="1.05" fill="none" shape-rendering="crispEdges"/>
<path d="M1308.1,1044.5h55.5M1308.1,1077.5h55.5" stroke="#283c50" stroke-width="1.05" fill="none" shape-rendering="crispEdges"/>
<path d="M1363.6,1050.5h55.5M1252.6,1068.5h55.5M1363.6,1168.5h55.5" stroke="#1e1e1e" stroke-width="1.05" fill="none" shape-rendering="crispEdges"/>
<path d="M1585.6,1062.5h55.5M1363.6,1132.5h55.5" stroke="#465014" stroke-width="1.05" fill="none" shape-rendering="crispEdges"/>
<path d="M1585.6,1066.5h55.5M1363.6,1086.5h55.5M1363.6,1134.5h55.5M1363.6,1166.5h55.5M1530.1,1181.5h55.5" stroke="#3c4614" stroke-width="1.05" fill="none" shape-rendering="crispEdges"/>
<path d="M1530.1,1076.5h55.5M1308.1,1105.5h55.5M1363.6,1152.5h55.5" stroke="#0a1428" stroke-width="1.05" fill="none" shape-rendering="crispEdges"/>
<path d="M1252.6,1079.5h55.5M1308.1,1106.5h55.5M1530.1,1177.5h55.5" stroke="#1e3c3c" stroke-width="1.05" fill="none" shape-rendering="crispEdges"/>
<path d="M1585.6,1082.5h55.5M1585.6,1088.5h55.5" stroke="#5a5a1e" stroke-width="1.05" fill="none" shape-rendering="crispEdges"/>
<path d="M1363.6,1087.5h55.5M1585.6,1147.5h55.5" stroke="#505a1e" stroke-width="1.05" fill="none" shape-rendering="crispEdges"/>
<path d="M1474.6,1088.5h55.5M1363.6,1146.5h55.5" stroke="#283c28" stroke-width="1.05" fill="none" shape-rendering="crispEdges"/>
<path d="M1585.6,1092.5h55.5M1585.6,1116.5h55.5M1585.6,1146.5h55.5M1474.6,1181.5h55.5" stroke="#32320a" stroke-width="1.05" fill="none" shape-rendering="crispEdges"/>
<path d="M1252.6,1095.5h55.5" stroke="#325046" stroke-width="1.05" fill="none" shape-rendering="crispEdges"/>
<path d="M1530.1,1096.5h55.5" stroke="#283c1e" stroke-width="1.05" fill="none" shape-rendering="crispEdges"/>
<path d="M1641.1,1097.5h55.5" stroke="#5a641e" stroke-width="1.05" fill="none" shape-rendering="crispEdges"/>
<path d="M1308.1,1101.5h55.5" stroke="#3c5a64" stroke-width="1.05" fill="none" shape-rendering="crispEdges"/>
<path d="M1252.6,1103.5h55.5M1530.1,1171.5h55.5" stroke="#3c5a50" stroke-width="1.05" fill="none" shape-rendering="crispEdges"/>
<path d="M1308.1,1104.5h55.5M1530.1,1122.5h55.5" stroke="#3c4632" stroke-width="1.05" fill="none" shape-rendering="crispEdges"/>
<path d="M1641.1,1115.5h55.5" stroke="#b4b43c" stroke-width="1.05" fill="none" shape-rendering="crispEdges"/>
<path d="M1363.6,1123.5h55.5M1252.6,1155.5h55.5" stroke="#1e321e" stroke-width="1.05" fill="none" shape-rendering="crispEdges"/>
<path d="M1474.6,1129.5h55.5" stroke="#3c6478" stroke-width="1.05" fill="none" shape-rendering="crispEdges"/>
<path d="M1530.1,1158.5h55.5" stroke="#465028" stroke-width="1.05" fill="none" shape-rendering="crispEdges"/>
<path d="M1585.6,1168.5h55.5" stroke="#3c461e" stroke-width="1.05" fill="none" shape-rendering="crispEdges"/>
<text x="1233.5" y="957" font-size="35.6" text-anchor="end" fill="#000" stroke="#000">4C</text>
<text x="1234.6" y="993.8" font-size="36" text-anchor="end" fill="#000" stroke="#000">(n=134)</text>
<text x="1233.5" y="1069.4" font-size="35.6" text-anchor="end" fill="#000" stroke="#000">8C</text>
<text x="1234.6" y="1109" font-size="36" text-anchor="end" fill="#000" stroke="#000">(n=727)</text>
<line x1="1241.3" y1="920.9" x2="1240.6" y2="966.3" stroke="#000" stroke-width="3.6"/>
<line x1="1241.3" y1="976.6" x2="1240.6" y2="1179.8" stroke="#000" stroke-width="3.6"/>
<defs><linearGradient id="gE"><stop offset="0" stop-color="#4f9bea"/><stop offset="0.5" stop-color="#000"/><stop offset="1" stop-color="#e8f54a"/></linearGradient></defs>
<rect x="1573.9" y="1214.1" width="93.3" height="21.8" fill="url(#gE)"/>
<text x="1549.6" y="1234.8" font-size="32" text-anchor="middle" fill="#000" stroke="#000">-8</text>
<text x="1683.8" y="1234.8" font-size="32" text-anchor="middle" fill="#000" stroke="#000">8</text>
<text x="1609.2" y="1277.2" font-size="31.6" text-anchor="middle" fill="#000" stroke="#000">Log<tspan font-size="19" dy="10">2</tspan><tspan dy="-10">(FPKM+0.1)</tspan></text>
<text x="18.3" y="1321" font-size="47.8" text-anchor="start" fill="#000" stroke="#000">f</text>
<text x="701.5" y="1337" font-size="39.8" text-anchor="middle" fill="#1a1311" stroke="#1a1311">D2 <tspan font-style="italic">OTX2</tspan> KD without Trim-Away</text>
<line x1="217" y1="1358" x2="1126.4" y2="1358" stroke="#1a1311" stroke-width="1.6"/>
<text x="228.2" y="1403.2" font-size="35" text-anchor="middle" fill="#1a1311" stroke="#1a1311">Ctrl #1</text>
<text x="395.3" y="1403.2" font-size="35" text-anchor="middle" fill="#1a1311" stroke="#1a1311">Ctrl #2</text>
<text x="559.7" y="1403.2" font-size="35" text-anchor="middle" fill="#1a1311" stroke="#1a1311">Ctrl #3</text>
<text x="771.5" y="1403.2" font-size="35" text-anchor="middle" fill="#1a1311" stroke="#1a1311">KD #1</text>
<text x="940.9" y="1403.2" font-size="35" text-anchor="middle" fill="#1a1311" stroke="#1a1311">KD #2</text>
<text x="1105.8" y="1403.2" font-size="35" text-anchor="middle" fill="#1a1311" stroke="#1a1311">KD #3</text>
<text x="98.5" y="1513" font-size="35.4" text-anchor="middle" fill="#2e8048" stroke="#2e8048">OTX2</text>
<text x="103.8" y="1687.6" font-size="35.4" text-anchor="middle" fill="#2b509e" stroke="#2b509e">DAPI</text>
<text x="94.5" y="1849" font-size="35.4" text-anchor="middle" fill="#1a1311" stroke="#1a1311">Merge</text>
<defs><filter id="fb04" x="-30%" y="-30%" width="160%" height="160%"><feGaussianBlur stdDeviation="0.4"/></filter><filter id="fb06" x="-30%" y="-30%" width="160%" height="160%"><feGaussianBlur stdDeviation="0.6"/></filter><filter id="fb07" x="-30%" y="-30%" width="160%" height="160%"><feGaussianBlur stdDeviation="0.7"/></filter><filter id="fb09" x="-30%" y="-30%" width="160%" height="160%"><feGaussianBlur stdDeviation="0.9"/></filter><filter id="fb12" x="-30%" y="-30%" width="160%" height="160%"><feGaussianBlur stdDeviation="1.2"/></filter><filter id="fb3" x="-30%" y="-30%" width="160%" height="160%"><feGaussianBlur stdDeviation="3"/></filter><filter id="fb8" x="-30%" y="-30%" width="160%" height="160%"><feGaussianBlur stdDeviation="8"/></filter><radialGradient id="cg1"><stop offset="0" stop-color="#173b18"/><stop offset="0.8" stop-color="#153716"/><stop offset="1" stop-color="#102b11"/></radialGradient><radialGradient id="cg2"><stop offset="0" stop-color="#133315"/><stop offset="0.8" stop-color="#122f13"/><stop offset="1" stop-color="#0e250f"/></radialGradient><radialGradient id="cg3"><stop offset="0" stop-color="#133315"/><stop offset="0.8" stop-color="#122f13"/><stop offset="1" stop-color="#0e250f"/></radialGradient><radialGradient id="cg4"><stop offset="0" stop-color="#102a11"/><stop offset="0.8" stop-color="#0f2710"/><stop offset="1" stop-color="#0c1e0c"/></radialGradient><radialGradient id="cg5"><stop offset="0" stop-color="#1d4c1f"/><stop offset="0.8" stop-color="#1b461d"/><stop offset="1" stop-color="#153716"/></radialGradient><radialGradient id="cg6"><stop offset="0" stop-color="#205423"/><stop offset="0.8" stop-color="#1e4e20"/><stop offset="1" stop-color="#173d19"/></radialGradient><radialGradient id="cg7"><stop offset="0" stop-color="#1c481d"/><stop offset="0.8" stop-color="#1a421b"/><stop offset="1" stop-color="#143415"/></radialGradient><radialGradient id="cg8"><stop offset="0" stop-color="#205423"/><stop offset="0.8" stop-color="#1e4e20"/><stop offset="1" stop-color="#173d19"/></radialGradient><radialGradient id="cg9"><stop offset="0" stop-color="#2a5521"/><stop offset="0.8" stop-color="#264f1f"/><stop offset="1" stop-color="#1e3d18"/></radialGradient><radialGradient id="cg10"><stop offset="0" stop-color="#24491d"/><stop offset="0.8" stop-color="#21431a"/><stop offset="1" stop-color="#1a3515"/></radialGradient><radialGradient id="cg11"><stop offset="0" stop-color="#24491d"/><stop offset="0.8" stop-color="#21431a"/><stop offset="1" stop-color="#1a3515"/></radialGradient><radialGradient id="cg12"><stop offset="0" stop-color="#1e3d18"/><stop offset="0.8" stop-color="#1b3816"/><stop offset="1" stop-color="#152c11"/></radialGradient><radialGradient id="cg13"><stop offset="0" stop-color="#356d2b"/><stop offset="0.8" stop-color="#316528"/><stop offset="1" stop-color="#274f1f"/></radialGradient><radialGradient id="cg14"><stop offset="0" stop-color="#3b7930"/><stop offset="0.8" stop-color="#37702c"/><stop offset="1" stop-color="#2b5822"/></radialGradient><radialGradient id="cg15"><stop offset="0" stop-color="#326729"/><stop offset="0.8" stop-color="#2f5f26"/><stop offset="1" stop-color="#244a1d"/></radialGradient><radialGradient id="cg16"><stop offset="0" stop-color="#3b7930"/><stop offset="0.8" stop-color="#37702c"/><stop offset="1" stop-color="#2b5822"/></radialGradient><radialGradient id="cg17"><stop offset="0" stop-color="#102a11"/><stop offset="0.8" stop-color="#0f2710"/><stop offset="1" stop-color="#0c1e0c"/></radialGradient><radialGradient id="cg18"><stop offset="0" stop-color="#133315"/><stop offset="0.8" stop-color="#122f13"/><stop offset="1" stop-color="#0e250f"/></radialGradient><radialGradient id="cg19"><stop offset="0" stop-color="#1a431c"/><stop offset="0.8" stop-color="#183e1a"/><stop offset="1" stop-color="#133114"/></radialGradient><radialGradient id="cg20"><stop offset="0" stop-color="#1c481d"/><stop offset="0.8" stop-color="#1a421b"/><stop offset="1" stop-color="#143415"/></radialGradient><radialGradient id="cg21"><stop offset="0" stop-color="#1f5021"/><stop offset="0.8" stop-color="#1c4a1e"/><stop offset="1" stop-color="#163a18"/></radialGradient><radialGradient id="cg22"><stop offset="0" stop-color="#173b18"/><stop offset="0.8" stop-color="#153716"/><stop offset="1" stop-color="#102b11"/></radialGradient><radialGradient id="cg23"><stop offset="0" stop-color="#245d26"/><stop offset="0.55" stop-color="#215623"/><stop offset="0.85" stop-color="#245d26"/><stop offset="1" stop-color="#1a431b"/></radialGradient><radialGradient id="cg24"><stop offset="0" stop-color="#1e3d18"/><stop offset="0.8" stop-color="#1b3816"/><stop offset="1" stop-color="#152c11"/></radialGradient><radialGradient id="cg25"><stop offset="0" stop-color="#24491d"/><stop offset="0.8" stop-color="#21431a"/><stop offset="1" stop-color="#1a3515"/></radialGradient><radialGradient id="cg26"><stop offset="0" stop-color="#2f6126"/><stop offset="0.8" stop-color="#2c5a23"/><stop offset="1" stop-color="#22461c"/></radialGradient><radialGradient id="cg27"><stop offset="0" stop-color="#326729"/><stop offset="0.8" stop-color="#2f5f26"/><stop offset="1" stop-color="#244a1d"/></radialGradient><radialGradient id="cg28"><stop offset="0" stop-color="#38732d"/><stop offset="0.8" stop-color="#346b2a"/><stop offset="1" stop-color="#295321"/></radialGradient><radialGradient id="cg29"><stop offset="0" stop-color="#2a5521"/><stop offset="0.8" stop-color="#264f1f"/><stop offset="1" stop-color="#1e3d18"/></radialGradient><radialGradient id="cg30"><stop offset="0" stop-color="#418534"/><stop offset="0.55" stop-color="#3c7c31"/><stop offset="0.85" stop-color="#418534"/><stop offset="1" stop-color="#2f6026"/></radialGradient><radialGradient id="cg31"><stop offset="0" stop-color="#0f2710"/><stop offset="0.8" stop-color="#0e240e"/><stop offset="1" stop-color="#0b1c0b"/></radialGradient><radialGradient id="cg32"><stop offset="0" stop-color="#1a451c"/><stop offset="0.8" stop-color="#18401a"/><stop offset="1" stop-color="#133214"/></radialGradient><radialGradient id="cg33"><stop offset="0" stop-color="#1a451c"/><stop offset="0.8" stop-color="#18401a"/><stop offset="1" stop-color="#133214"/></radialGradient><radialGradient id="cg34"><stop offset="0" stop-color="#205623"/><stop offset="0.8" stop-color="#1e5020"/><stop offset="1" stop-color="#173e19"/></radialGradient><radialGradient id="cg35"><stop offset="0" stop-color="#1f5221"/><stop offset="0.8" stop-color="#1c4c1e"/><stop offset="1" stop-color="#163b18"/></radialGradient><radialGradient id="cg36"><stop offset="0" stop-color="#1f5221"/><stop offset="0.8" stop-color="#1c4c1e"/><stop offset="1" stop-color="#163b18"/></radialGradient><radialGradient id="cg37"><stop offset="0" stop-color="#205623"/><stop offset="0.8" stop-color="#1e5020"/><stop offset="1" stop-color="#173e19"/></radialGradient><radialGradient id="cg38"><stop offset="0" stop-color="#1b3815"/><stop offset="0.8" stop-color="#193414"/><stop offset="1" stop-color="#132810"/></radialGradient><radialGradient id="cg39"><stop offset="0" stop-color="#2f6426"/><stop offset="0.8" stop-color="#2c5c23"/><stop offset="1" stop-color="#22481c"/></radialGradient><radialGradient id="cg40"><stop offset="0" stop-color="#2f6426"/><stop offset="0.8" stop-color="#2c5c23"/><stop offset="1" stop-color="#22481c"/></radialGradient><radialGradient id="cg41"><stop offset="0" stop-color="#3b7c30"/><stop offset="0.8" stop-color="#37732c"/><stop offset="1" stop-color="#2b5a22"/></radialGradient><radialGradient id="cg42"><stop offset="0" stop-color="#38762d"/><stop offset="0.8" stop-color="#346d2a"/><stop offset="1" stop-color="#295521"/></radialGradient><radialGradient id="cg43"><stop offset="0" stop-color="#38762d"/><stop offset="0.8" stop-color="#346d2a"/><stop offset="1" stop-color="#295521"/></radialGradient><radialGradient id="cg44"><stop offset="0" stop-color="#3b7c30"/><stop offset="0.8" stop-color="#37732c"/><stop offset="1" stop-color="#2b5a22"/></radialGradient><radialGradient id="cg45"><stop offset="0" stop-color="#0f2911"/><stop offset="0.8" stop-color="#0e2610"/><stop offset="1" stop-color="#0b1d0d"/></radialGradient><radialGradient id="cg46"><stop offset="0" stop-color="#17401b"/><stop offset="0.8" stop-color="#153b19"/><stop offset="1" stop-color="#102e14"/></radialGradient><radialGradient id="cg47"><stop offset="0" stop-color="#1c4d21"/><stop offset="0.8" stop-color="#1a471f"/><stop offset="1" stop-color="#143818"/></radialGradient><radialGradient id="cg48"><stop offset="0" stop-color="#1d5223"/><stop offset="0.8" stop-color="#1b4c20"/><stop offset="1" stop-color="#153b19"/></radialGradient><radialGradient id="cg49"><stop offset="0" stop-color="#1d5223"/><stop offset="0.8" stop-color="#1b4c20"/><stop offset="1" stop-color="#153b19"/></radialGradient><radialGradient id="cg50"><stop offset="0" stop-color="#1f5625"/><stop offset="0.8" stop-color="#1c5022"/><stop offset="1" stop-color="#163e1b"/></radialGradient><radialGradient id="cg51"><stop offset="0" stop-color="#1b3b18"/><stop offset="0.8" stop-color="#193616"/><stop offset="1" stop-color="#132a11"/></radialGradient><radialGradient id="cg52"><stop offset="0" stop-color="#2a5b26"/><stop offset="0.8" stop-color="#265523"/><stop offset="1" stop-color="#1e421b"/></radialGradient><radialGradient id="cg53"><stop offset="0" stop-color="#326f2e"/><stop offset="0.8" stop-color="#2f672a"/><stop offset="1" stop-color="#245021"/></radialGradient><radialGradient id="cg54"><stop offset="0" stop-color="#357630"/><stop offset="0.8" stop-color="#316d2d"/><stop offset="1" stop-color="#275523"/></radialGradient><radialGradient id="cg55"><stop offset="0" stop-color="#357630"/><stop offset="0.8" stop-color="#316d2d"/><stop offset="1" stop-color="#275523"/></radialGradient><radialGradient id="cg56"><stop offset="0" stop-color="#387c33"/><stop offset="0.8" stop-color="#34732f"/><stop offset="1" stop-color="#295a25"/></radialGradient><radialGradient id="cg57"><stop offset="0" stop-color="#0d2410"/><stop offset="0.8" stop-color="#0c220f"/><stop offset="1" stop-color="#091a0c"/></radialGradient><radialGradient id="cg58"><stop offset="0" stop-color="#1c4d23"/><stop offset="0.8" stop-color="#1a4720"/><stop offset="1" stop-color="#143819"/></radialGradient><radialGradient id="cg59"><stop offset="0" stop-color="#1c4d23"/><stop offset="0.8" stop-color="#1a4720"/><stop offset="1" stop-color="#143819"/></radialGradient><radialGradient id="cg60"><stop offset="0" stop-color="#1c4d23"/><stop offset="0.8" stop-color="#1a4720"/><stop offset="1" stop-color="#143819"/></radialGradient><radialGradient id="cg61"><stop offset="0" stop-color="#17401d"/><stop offset="0.8" stop-color="#153b1b"/><stop offset="1" stop-color="#102e15"/></radialGradient><radialGradient id="cg62"><stop offset="0" stop-color="#1d5225"/><stop offset="0.8" stop-color="#1b4c22"/><stop offset="1" stop-color="#153b1b"/></radialGradient><radialGradient id="cg63"><stop offset="0" stop-color="#1d5225"/><stop offset="0.8" stop-color="#1b4c22"/><stop offset="1" stop-color="#153b1b"/></radialGradient><radialGradient id="cg64"><stop offset="0" stop-color="#183417"/><stop offset="0.8" stop-color="#163015"/><stop offset="1" stop-color="#112610"/></radialGradient><radialGradient id="cg65"><stop offset="0" stop-color="#326f30"/><stop offset="0.8" stop-color="#2f672d"/><stop offset="1" stop-color="#245023"/></radialGradient><radialGradient id="cg66"><stop offset="0" stop-color="#326f30"/><stop offset="0.8" stop-color="#2f672d"/><stop offset="1" stop-color="#245023"/></radialGradient><radialGradient id="cg67"><stop offset="0" stop-color="#326f30"/><stop offset="0.8" stop-color="#2f672d"/><stop offset="1" stop-color="#245023"/></radialGradient><radialGradient id="cg68"><stop offset="0" stop-color="#2a5b28"/><stop offset="0.8" stop-color="#265525"/><stop offset="1" stop-color="#1e421d"/></radialGradient><radialGradient id="cg69"><stop offset="0" stop-color="#357633"/><stop offset="0.8" stop-color="#316d2f"/><stop offset="1" stop-color="#275525"/></radialGradient><radialGradient id="cg70"><stop offset="0" stop-color="#357633"/><stop offset="0.8" stop-color="#316d2f"/><stop offset="1" stop-color="#275525"/></radialGradient><radialGradient id="cg71"><stop offset="0" stop-color="#153e1d"/><stop offset="0.8" stop-color="#14391a"/><stop offset="1" stop-color="#0f2d15"/></radialGradient><radialGradient id="cg72"><stop offset="0" stop-color="#1b4f24"/><stop offset="0.8" stop-color="#194922"/><stop offset="1" stop-color="#14391a"/></radialGradient><radialGradient id="cg73"><stop offset="0" stop-color="#277034"/><stop offset="0.8" stop-color="#246830"/><stop offset="1" stop-color="#1c5125"/></radialGradient><radialGradient id="cg74"><stop offset="0" stop-color="#2b7c39"/><stop offset="0.55" stop-color="#287235"/><stop offset="0.85" stop-color="#2b7c39"/><stop offset="1" stop-color="#1f5929"/></radialGradient><radialGradient id="cg75"><stop offset="0" stop-color="#2f873e"/><stop offset="0.8" stop-color="#2b7d3a"/><stop offset="1" stop-color="#22612d"/></radialGradient><radialGradient id="cg76"><stop offset="0" stop-color="#23652f"/><stop offset="0.8" stop-color="#205e2b"/><stop offset="1" stop-color="#194922"/></radialGradient><radialGradient id="cg77"><stop offset="0" stop-color="#23652f"/><stop offset="0.8" stop-color="#205e2b"/><stop offset="1" stop-color="#194922"/></radialGradient><radialGradient id="cg78"><stop offset="0" stop-color="#275927"/><stop offset="0.8" stop-color="#245224"/><stop offset="1" stop-color="#1c401c"/></radialGradient><radialGradient id="cg79"><stop offset="0" stop-color="#327132"/><stop offset="0.8" stop-color="#2e692e"/><stop offset="1" stop-color="#245224"/></radialGradient><radialGradient id="cg80"><stop offset="0" stop-color="#47a248"/><stop offset="0.8" stop-color="#429642"/><stop offset="1" stop-color="#337534"/></radialGradient><radialGradient id="cg81"><stop offset="0" stop-color="#4eb24f"/><stop offset="0.55" stop-color="#48a549"/><stop offset="0.85" stop-color="#4eb24f"/><stop offset="1" stop-color="#398039"/></radialGradient><radialGradient id="cg82"><stop offset="0" stop-color="#55c256"/><stop offset="0.8" stop-color="#4fb44f"/><stop offset="1" stop-color="#3e8c3e"/></radialGradient><radialGradient id="cg83"><stop offset="0" stop-color="#409240"/><stop offset="0.8" stop-color="#3b873c"/><stop offset="1" stop-color="#2e692f"/></radialGradient><radialGradient id="cg84"><stop offset="0" stop-color="#409240"/><stop offset="0.8" stop-color="#3b873c"/><stop offset="1" stop-color="#2e692f"/></radialGradient></defs>
<svg x="162.3" y="1421" width="160.8" height="160.7" viewBox="0 0 160 160" preserveAspectRatio="none" overflow="hidden"><rect width="160" height="160" fill="#000"/><g filter="url(#fb07)"><circle cx="68.8" cy="43" r="7.28" fill="url(#cg1)" fill-opacity="0.93"/><circle cx="78" cy="48" r="6.24" fill="url(#cg2)" fill-opacity="0.93"/><circle cx="90" cy="46" r="5.2" fill="url(#cg3)" fill-opacity="0.93"/><circle cx="45" cy="88" r="14.56" fill="url(#cg4)" fill-opacity="0.93"/><circle cx="51" cy="70" r="18.41" fill="url(#cg5)" fill-opacity="0.93"/><circle cx="86.6" cy="63.8" r="19.55" fill="url(#cg6)" fill-opacity="0.93"/><circle cx="100" cy="91" r="18.41" fill="url(#cg7)" fill-opacity="0.93"/><circle cx="67.8" cy="101.4" r="21.74" fill="url(#cg8)" fill-opacity="0.93"/></g><g filter="url(#fb06)"><ellipse cx="58.5" cy="80.5" rx="4.2" ry="4.2" fill="#3a8e54" fill-opacity="0.8"/><ellipse cx="67.8" cy="80.3" rx="3.8" ry="3.8" fill="#3a8e54" fill-opacity="0.8"/><ellipse cx="55.3" cy="72.6" rx="5.8" ry="5.8" fill="#7ae040" fill-opacity="1.0"/><ellipse cx="81" cy="66" rx="4.6" ry="4.6" fill="#7ae040" fill-opacity="1.0"/><ellipse cx="90" cy="66" rx="5.2" ry="5.2" fill="#7ae040" fill-opacity="1.0"/><ellipse cx="97.6" cy="87.8" rx="6.2" ry="5.6" fill="#4abe5a" fill-opacity="1.0"/><ellipse cx="69.9" cy="101.4" rx="6.9" ry="6.9" fill="#7ae040" fill-opacity="1.0"/><ellipse cx="63" cy="96.8" rx="1.8" ry="1.8" fill="#7ae040" fill-opacity="1.0"/><ellipse cx="86" cy="73" rx="0.9" ry="0.9" fill="#7ae040" fill-opacity="1.0"/></g></svg>
<svg x="162.3" y="1590.6" width="160.8" height="160.3" viewBox="0 0 160 160" preserveAspectRatio="none" overflow="hidden"><rect width="160" height="160" fill="#020209"/><circle cx="78" cy="82" r="44" fill="#0c1650" opacity="0.2" filter="url(#fb8)"/><g filter="url(#fb09)"><ellipse cx="55.6" cy="73.8" rx="6.3" ry="6.3" fill="#4161b9" fill-opacity="0.95"/><ellipse cx="59" cy="78" rx="5" ry="4" fill="#354e96" fill-opacity="0.77"/><ellipse cx="81.4" cy="66" rx="4.6" ry="4.6" fill="#4161b9" fill-opacity="0.95"/><ellipse cx="90" cy="66" rx="5.2" ry="5.2" fill="#4161b9" fill-opacity="0.95"/><ellipse cx="97" cy="87.3" rx="6.5" ry="6" fill="#3e5cb0" fill-opacity="0.91"/><ellipse cx="70.7" cy="100.5" rx="6.9" ry="6.9" fill="#4161b9" fill-opacity="0.95"/><ellipse cx="72.6" cy="80" rx="2.5" ry="2.5" fill="#4161b9" fill-opacity="0.95"/></g><g fill="#4655c4" filter="url(#fb04)"><circle cx="51.8" cy="33.6" r="2.6"/><circle cx="53" cy="31" r="1.6"/><circle cx="82.3" cy="26.7" r="1.7"/><circle cx="99.6" cy="31.4" r="1.7"/><circle cx="46.2" cy="44" r="1.2"/><circle cx="43" cy="60.6" r="1.3"/><circle cx="111.2" cy="77" r="1.2"/><circle cx="102" cy="102" r="1"/><circle cx="64.5" cy="98" r="2"/><circle cx="70" cy="91.5" r="1.5"/><circle cx="76" cy="111" r="1"/></g></svg>
<svg x="162.3" y="1760.7" width="160.8" height="160.2" viewBox="0 0 160 160" preserveAspectRatio="none" overflow="hidden"><rect width="160" height="160" fill="#020207"/><g filter="url(#fb07)"><circle cx="68.8" cy="43" r="7.28" fill="url(#cg9)" fill-opacity="0.93"/><circle cx="78" cy="48" r="6.24" fill="url(#cg10)" fill-opacity="0.93"/><circle cx="90" cy="46" r="5.2" fill="url(#cg11)" fill-opacity="0.93"/><circle cx="45" cy="88" r="14.56" fill="url(#cg12)" fill-opacity="0.93"/><circle cx="51" cy="70" r="18.41" fill="url(#cg13)" fill-opacity="0.93"/><circle cx="86.6" cy="63.8" r="19.55" fill="url(#cg14)" fill-opacity="0.93"/><circle cx="100" cy="91" r="18.41" fill="url(#cg15)" fill-opacity="0.93"/><circle cx="67.8" cy="101.4" r="21.74" fill="url(#cg16)" fill-opacity="0.93"/></g><g filter="url(#fb09)"><ellipse cx="55.6" cy="73.8" rx="6.3" ry="6.3" fill="#3c60e1" fill-opacity="0.75"/><ellipse cx="59" cy="78" rx="5" ry="4" fill="#3c60e1" fill-opacity="0.51"/><ellipse cx="81.4" cy="66" rx="4.6" ry="4.6" fill="#3c60e1" fill-opacity="0.75"/><ellipse cx="90" cy="66" rx="5.2" ry="5.2" fill="#3c60e1" fill-opacity="0.75"/><ellipse cx="97" cy="87.3" rx="6.5" ry="6" fill="#3c60e1" fill-opacity="0.69"/><ellipse cx="70.7" cy="100.5" rx="6.9" ry="6.9" fill="#3c60e1" fill-opacity="0.75"/><ellipse cx="72.6" cy="80" rx="2.5" ry="2.5" fill="#3c60e1" fill-opacity="0.75"/></g><g fill="#5560dc" filter="url(#fb04)"><circle cx="51.8" cy="33.6" r="2.6"/><circle cx="53" cy="31" r="1.6"/><circle cx="82.3" cy="26.7" r="1.7"/><circle cx="99.6" cy="31.4" r="1.7"/><circle cx="46.2" cy="44" r="1.2"/><circle cx="43" cy="60.6" r="1.3"/><circle cx="111.2" cy="77" r="1.2"/><circle cx="102" cy="102" r="1"/><circle cx="64.5" cy="98" r="2"/><circle cx="70" cy="91.5" r="1.5"/><circle cx="76" cy="111" r="1"/></g><g filter="url(#fb06)"><ellipse cx="58.5" cy="80.5" rx="4.2" ry="4.2" fill="#50aa6e" fill-opacity="0.5"/><ellipse cx="67.8" cy="80.3" rx="3.8" ry="3.8" fill="#50aa6e" fill-opacity="0.5"/><ellipse cx="55.3" cy="72.6" rx="5.8" ry="5.8" fill="#96e85a" fill-opacity="0.95"/><ellipse cx="81" cy="66" rx="4.6" ry="4.6" fill="#96e85a" fill-opacity="0.95"/><ellipse cx="90" cy="66" rx="5.2" ry="5.2" fill="#96e85a" fill-opacity="0.95"/><ellipse cx="97.6" cy="87.8" rx="6.2" ry="5.6" fill="#5acd78" fill-opacity="0.7"/><ellipse cx="69.9" cy="101.4" rx="6.9" ry="6.9" fill="#96e85a" fill-opacity="0.95"/><ellipse cx="63" cy="96.8" rx="1.8" ry="1.8" fill="#96e85a" fill-opacity="0.95"/><ellipse cx="86" cy="73" rx="0.9" ry="0.9" fill="#96e85a" fill-opacity="0.95"/></g></svg>
<svg x="331.3" y="1421" width="160.9" height="160.7" viewBox="0 0 160 160" preserveAspectRatio="none" overflow="hidden"><rect width="160" height="160" fill="#000"/><g filter="url(#fb07)"><circle cx="81.4" cy="76" r="44.72" fill="url(#cg17)" fill-opacity="0.93"/><circle cx="81" cy="100" r="24.96" fill="url(#cg18)" fill-opacity="0.93"/><circle cx="74" cy="51.3" r="20.59" fill="url(#cg19)" fill-opacity="0.93"/><circle cx="107.4" cy="77.4" r="19.55" fill="url(#cg20)" fill-opacity="0.93"/><circle cx="54.2" cy="84.7" r="18.41" fill="url(#cg21)" fill-opacity="0.93"/><circle cx="77.2" cy="103.5" r="16.64" fill="url(#cg22)" fill-opacity="0.93"/><circle cx="81.4" cy="87.8" r="16.22" fill="url(#cg23)" fill-opacity="0.93"/></g><path d="M83.8 77.2h0M63.5 123.6h0M72.7 29.3h0M126.9 86.0h0M73.4 81.9h0M85.1 124.4h0M33.0 74.9h0M62.3 75.0h0M50.6 117.8h0M30.5 68.3h0M46.8 74.7h0M120.2 49.4h0M73.5 32.8h0M99.0 36.1h0M43.8 44.8h0M48.7 75.6h0M128.1 93.0h0M83.8 31.2h0M56.9 32.3h0M99.8 82.9h0M131.3 78.6h0M108.1 116.1h0M48.8 44.7h0M126.3 91.4h0M115.4 43.5h0M30.2 82.2h0M78.3 125.3h0M70.1 44.9h0M85.2 114.6h0M128.5 76.4h0M125.0 102.4h0M69.1 32.1h0M81.2 30.9h0M116.2 107.5h0M86.4 78.7h0M44.5 112.3h0M74.7 30.3h0M40.4 51.8h0M102.1 123.8h0M87.1 78.8h0M76.2 96.8h0M112.6 46.2h0M104.8 40.8h0M125.4 95.6h0M47.6 49.1h0M127.0 58.2h0M118.1 111.1h0M82.0 33.0h0M114.4 110.6h0M32.2 87.2h0M49.5 117.3h0" stroke="#1d461d" stroke-width="0.9" stroke-linecap="round" fill="none" opacity="0.7"/><path d="M48.6 116.7h0M67.1 47.8h0M128.1 57.9h0M98.2 115.7h0M128.9 64.1h0M79.2 94.0h0M67.9 31.7h0M90.4 35.0h0M97.0 119.5h0M82.3 31.9h0M86.4 99.3h0M98.6 36.1h0M130.2 87.6h0M68.3 34.0h0M80.5 76.8h0M124.8 87.4h0M34.9 72.0h0M123.8 66.9h0M43.8 81.7h0" stroke="#2a5a24" stroke-width="1.3" stroke-linecap="round" fill="none" opacity="0.75"/><g filter="url(#fb06)"><ellipse cx="71.3" cy="55.1" rx="6" ry="7.6" fill="#3a8e54" fill-opacity="0.8"/><ellipse cx="104.3" cy="76.3" rx="7" ry="5.6" fill="#3a8e54" fill-opacity="0.8"/><ellipse cx="53.2" cy="81.6" rx="5.6" ry="5.6" fill="#7ae040" fill-opacity="1.0"/><ellipse cx="60.5" cy="83.6" rx="4.6" ry="4.6" fill="#7ae040" fill-opacity="1.0"/><ellipse cx="81.4" cy="88.2" rx="5.6" ry="5" fill="#7ae040" fill-opacity="1.0"/></g></svg>
<svg x="331.3" y="1590.6" width="160.9" height="160.3" viewBox="0 0 160 160" preserveAspectRatio="none" overflow="hidden"><rect width="160" height="160" fill="#020209"/><g filter="url(#fb09)"><ellipse cx="70.4" cy="55.6" rx="6.9" ry="7.5" fill="#3b57a7" fill-opacity="0.86"/><ellipse cx="104" cy="76" rx="6.6" ry="6.3" fill="#3b57a7" fill-opacity="0.86"/><ellipse cx="56.2" cy="81.7" rx="7.8" ry="6.5" fill="#324a8d" fill-opacity="0.72"/><ellipse cx="81.4" cy="88" rx="5.3" ry="5.3" fill="#3e5cb0" fill-opacity="0.91"/><ellipse cx="89.2" cy="97.4" rx="6.3" ry="6.3" fill="#324a8d" fill-opacity="0.72"/><ellipse cx="85" cy="67" rx="6" ry="6" fill="#2a3e77" fill-opacity="0.61"/></g><g fill="#4655c4" filter="url(#fb04)"><circle cx="63.1" cy="23" r="1.1"/><circle cx="91.7" cy="15" r="1.1"/><circle cx="113.4" cy="28.3" r="1.1"/><circle cx="124.7" cy="29" r="1.1"/><circle cx="53" cy="35.5" r="1.1"/><circle cx="77.3" cy="33.6" r="1.1"/><circle cx="117.5" cy="36" r="1.1"/><circle cx="64.7" cy="45" r="1.1"/><circle cx="99" cy="42.4" r="1.1"/><circle cx="110.2" cy="44.6" r="1.1"/><circle cx="131" cy="43" r="1.1"/><circle cx="114.6" cy="56.5" r="1.1"/><circle cx="25.4" cy="70.7" r="2.2"/><circle cx="29" cy="67" r="1.3"/><circle cx="133.2" cy="93.3" r="2"/><circle cx="130" cy="90" r="1.3"/><circle cx="68.2" cy="111.5" r="3"/><circle cx="66" cy="107" r="1.6"/><circle cx="42" cy="113" r="1.1"/><circle cx="49" cy="114.6" r="1.1"/><circle cx="103.3" cy="112.5" r="1.1"/><circle cx="109.6" cy="107.8" r="1.1"/><circle cx="113.4" cy="75.4" r="1.1"/><circle cx="78" cy="50" r="1.2"/></g></svg>
<svg x="331.3" y="1760.7" width="160.9" height="160.2" viewBox="0 0 160 160" preserveAspectRatio="none" overflow="hidden"><rect width="160" height="160" fill="#020207"/><g filter="url(#fb07)"><circle cx="81.4" cy="76" r="44.72" fill="url(#cg24)" fill-opacity="0.93"/><circle cx="81" cy="100" r="24.96" fill="url(#cg25)" fill-opacity="0.93"/><circle cx="74" cy="51.3" r="20.59" fill="url(#cg26)" fill-opacity="0.93"/><circle cx="107.4" cy="77.4" r="19.55" fill="url(#cg27)" fill-opacity="0.93"/><circle cx="54.2" cy="84.7" r="18.41" fill="url(#cg28)" fill-opacity="0.93"/><circle cx="77.2" cy="103.5" r="16.64" fill="url(#cg29)" fill-opacity="0.93"/><circle cx="81.4" cy="87.8" r="16.22" fill="url(#cg30)" fill-opacity="0.93"/></g><path d="M83.8 77.2h0M63.5 123.6h0M72.7 29.3h0M126.9 86.0h0M73.4 81.9h0M85.1 124.4h0M33.0 74.9h0M62.3 75.0h0M50.6 117.8h0M30.5 68.3h0M46.8 74.7h0M120.2 49.4h0M73.5 32.8h0M99.0 36.1h0M43.8 44.8h0M48.7 75.6h0M128.1 93.0h0M83.8 31.2h0M56.9 32.3h0M99.8 82.9h0M131.3 78.6h0M108.1 116.1h0M48.8 44.7h0M126.3 91.4h0M115.4 43.5h0M30.2 82.2h0M78.3 125.3h0M70.1 44.9h0M85.2 114.6h0M128.5 76.4h0M125.0 102.4h0M69.1 32.1h0M81.2 30.9h0M116.2 107.5h0M86.4 78.7h0M44.5 112.3h0M74.7 30.3h0M40.4 51.8h0M102.1 123.8h0M87.1 78.8h0M76.2 96.8h0M112.6 46.2h0M104.8 40.8h0M125.4 95.6h0M47.6 49.1h0M127.0 58.2h0M118.1 111.1h0M82.0 33.0h0M114.4 110.6h0M32.2 87.2h0M49.5 117.3h0" stroke="#2c692c" stroke-width="0.9" stroke-linecap="round" fill="none" opacity="0.7"/><path d="M48.6 116.7h0M67.1 47.8h0M128.1 57.9h0M98.2 115.7h0M128.9 64.1h0M79.2 94.0h0M67.9 31.7h0M90.4 35.0h0M97.0 119.5h0M82.3 31.9h0M86.4 99.3h0M98.6 36.1h0M130.2 87.6h0M68.3 34.0h0M80.5 76.8h0M124.8 87.4h0M34.9 72.0h0M123.8 66.9h0M43.8 81.7h0" stroke="#3f8736" stroke-width="1.3" stroke-linecap="round" fill="none" opacity="0.75"/><g filter="url(#fb09)"><ellipse cx="70.4" cy="55.6" rx="6.9" ry="7.5" fill="#3c60e1" fill-opacity="0.63"/><ellipse cx="104" cy="76" rx="6.6" ry="6.3" fill="#3c60e1" fill-opacity="0.63"/><ellipse cx="56.2" cy="81.7" rx="7.8" ry="6.5" fill="#3c60e1" fill-opacity="0.45"/><ellipse cx="81.4" cy="88" rx="5.3" ry="5.3" fill="#3c60e1" fill-opacity="0.69"/><ellipse cx="89.2" cy="97.4" rx="6.3" ry="6.3" fill="#3c60e1" fill-opacity="0.45"/><ellipse cx="85" cy="67" rx="6" ry="6" fill="#3c60e1" fill-opacity="0.3"/></g><g fill="#5560dc" filter="url(#fb04)"><circle cx="63.1" cy="23" r="1.1"/><circle cx="91.7" cy="15" r="1.1"/><circle cx="113.4" cy="28.3" r="1.1"/><circle cx="124.7" cy="29" r="1.1"/><circle cx="53" cy="35.5" r="1.1"/><circle cx="77.3" cy="33.6" r="1.1"/><circle cx="117.5" cy="36" r="1.1"/><circle cx="64.7" cy="45" r="1.1"/><circle cx="99" cy="42.4" r="1.1"/><circle cx="110.2" cy="44.6" r="1.1"/><circle cx="131" cy="43" r="1.1"/><circle cx="114.6" cy="56.5" r="1.1"/><circle cx="25.4" cy="70.7" r="2.2"/><circle cx="29" cy="67" r="1.3"/><circle cx="133.2" cy="93.3" r="2"/><circle cx="130" cy="90" r="1.3"/><circle cx="68.2" cy="111.5" r="3"/><circle cx="66" cy="107" r="1.6"/><circle cx="42" cy="113" r="1.1"/><circle cx="49" cy="114.6" r="1.1"/><circle cx="103.3" cy="112.5" r="1.1"/><circle cx="109.6" cy="107.8" r="1.1"/><circle cx="113.4" cy="75.4" r="1.1"/><circle cx="78" cy="50" r="1.2"/></g><g filter="url(#fb06)"><ellipse cx="71.3" cy="55.1" rx="6" ry="7.6" fill="#50aa6e" fill-opacity="0.5"/><ellipse cx="104.3" cy="76.3" rx="7" ry="5.6" fill="#50aa6e" fill-opacity="0.5"/><ellipse cx="53.2" cy="81.6" rx="5.6" ry="5.6" fill="#96e85a" fill-opacity="0.95"/><ellipse cx="60.5" cy="83.6" rx="4.6" ry="4.6" fill="#96e85a" fill-opacity="0.95"/><ellipse cx="81.4" cy="88.2" rx="5.6" ry="5" fill="#96e85a" fill-opacity="0.95"/></g></svg>
<svg x="504.9" y="1421" width="160.8" height="160.7" viewBox="0 0 160 160" preserveAspectRatio="none" overflow="hidden"><rect width="160" height="160" fill="#000"/><g filter="url(#fb07)"><circle cx="80.6" cy="78" r="42.64" fill="url(#cg31)" fill-opacity="0.93"/><circle cx="55" cy="95" r="17.37" fill="url(#cg32)" fill-opacity="0.93"/><circle cx="101.7" cy="92.8" r="18.51" fill="url(#cg33)" fill-opacity="0.93"/><circle cx="67.3" cy="50.6" r="17.37" fill="url(#cg34)" fill-opacity="0.93"/><circle cx="99.5" cy="68.4" r="21.84" fill="url(#cg35)" fill-opacity="0.93"/><circle cx="62.8" cy="77.3" r="18.51" fill="url(#cg36)" fill-opacity="0.93"/><circle cx="84" cy="99.5" r="18.51" fill="url(#cg37)" fill-opacity="0.93"/></g><g filter="url(#fb06)"><ellipse cx="89" cy="54.6" rx="3.6" ry="4.4" fill="#3a8e54" fill-opacity="0.8"/><ellipse cx="61.7" cy="88.4" rx="6.5" ry="5.5" fill="#3a8e54" fill-opacity="0.8"/><ellipse cx="70" cy="88" rx="4" ry="4" fill="#3a8e54" fill-opacity="0.8"/><ellipse cx="98.4" cy="89.5" rx="6.2" ry="5.2" fill="#3a8e54" fill-opacity="0.8"/><ellipse cx="65.3" cy="48.5" rx="3.2" ry="3.2" fill="#7ae040" fill-opacity="1.0"/><ellipse cx="70.3" cy="49" rx="3.2" ry="3.2" fill="#7ae040" fill-opacity="1.0"/><ellipse cx="67.8" cy="54" rx="2" ry="2" fill="#7ae040" fill-opacity="1.0"/><ellipse cx="97.3" cy="67.3" rx="5" ry="5" fill="#7ae040" fill-opacity="1.0"/><ellipse cx="100.6" cy="75.5" rx="5" ry="4.6" fill="#7ae040" fill-opacity="1.0"/><ellipse cx="64" cy="77.3" rx="4.9" ry="4.9" fill="#7ae040" fill-opacity="1.0"/><ellipse cx="78.4" cy="101.7" rx="3.8" ry="3.8" fill="#7ae040" fill-opacity="1.0"/><ellipse cx="84.6" cy="98.4" rx="3.8" ry="3.8" fill="#7ae040" fill-opacity="1.0"/></g></svg>
<svg x="504.9" y="1590.6" width="160.8" height="160.3" viewBox="0 0 160 160" preserveAspectRatio="none" overflow="hidden"><rect width="160" height="160" fill="#020209"/><g filter="url(#fb09)"><ellipse cx="87.3" cy="41.8" rx="3.8" ry="3.8" fill="#4161b9" fill-opacity="0.95"/><ellipse cx="84.5" cy="38" rx="2.5" ry="2.5" fill="#4161b9" fill-opacity="0.95"/><ellipse cx="98.6" cy="70.7" rx="6.3" ry="6.3" fill="#3b57a7" fill-opacity="0.86"/><ellipse cx="100.5" cy="77" rx="4.5" ry="4.5" fill="#38539e" fill-opacity="0.81"/><ellipse cx="64.1" cy="80.1" rx="5.7" ry="6.2" fill="#38539e" fill-opacity="0.81"/><ellipse cx="63.2" cy="89" rx="5.7" ry="5.5" fill="#304788" fill-opacity="0.7"/><ellipse cx="98.6" cy="89.5" rx="5.7" ry="5.2" fill="#354e96" fill-opacity="0.77"/><ellipse cx="82" cy="99" rx="5.3" ry="5" fill="#3b57a7" fill-opacity="0.86"/><ellipse cx="85.1" cy="65" rx="1.9" ry="1.9" fill="#3e5cb0" fill-opacity="0.91"/></g><g fill="#4655c4" filter="url(#fb04)"><circle cx="123.4" cy="102.7" r="1.6"/><circle cx="65.6" cy="123.4" r="1.5"/><circle cx="60" cy="49" r="1.2"/><circle cx="67" cy="60" r="1"/></g></svg>
<svg x="504.9" y="1760.7" width="160.8" height="160.2" viewBox="0 0 160 160" preserveAspectRatio="none" overflow="hidden"><rect width="160" height="160" fill="#020207"/><g filter="url(#fb07)"><circle cx="80.6" cy="78" r="42.64" fill="url(#cg38)" fill-opacity="0.93"/><circle cx="55" cy="95" r="17.37" fill="url(#cg39)" fill-opacity="0.93"/><circle cx="101.7" cy="92.8" r="18.51" fill="url(#cg40)" fill-opacity="0.93"/><circle cx="67.3" cy="50.6" r="17.37" fill="url(#cg41)" fill-opacity="0.93"/><circle cx="99.5" cy="68.4" r="21.84" fill="url(#cg42)" fill-opacity="0.93"/><circle cx="62.8" cy="77.3" r="18.51" fill="url(#cg43)" fill-opacity="0.93"/><circle cx="84" cy="99.5" r="18.51" fill="url(#cg44)" fill-opacity="0.93"/></g><g filter="url(#fb09)"><ellipse cx="87.3" cy="41.8" rx="3.8" ry="3.8" fill="#3c60e1" fill-opacity="0.75"/><ellipse cx="84.5" cy="38" rx="2.5" ry="2.5" fill="#3c60e1" fill-opacity="0.75"/><ellipse cx="98.6" cy="70.7" rx="6.3" ry="6.3" fill="#3c60e1" fill-opacity="0.63"/><ellipse cx="100.5" cy="77" rx="4.5" ry="4.5" fill="#3c60e1" fill-opacity="0.57"/><ellipse cx="64.1" cy="80.1" rx="5.7" ry="6.2" fill="#3c60e1" fill-opacity="0.57"/><ellipse cx="63.2" cy="89" rx="5.7" ry="5.5" fill="#3c60e1" fill-opacity="0.42"/><ellipse cx="98.6" cy="89.5" rx="5.7" ry="5.2" fill="#3c60e1" fill-opacity="0.51"/><ellipse cx="82" cy="99" rx="5.3" ry="5" fill="#3c60e1" fill-opacity="0.63"/><ellipse cx="85.1" cy="65" rx="1.9" ry="1.9" fill="#3c60e1" fill-opacity="0.69"/></g><g fill="#5560dc" filter="url(#fb04)"><circle cx="123.4" cy="102.7" r="1.6"/><circle cx="65.6" cy="123.4" r="1.5"/><circle cx="60" cy="49" r="1.2"/><circle cx="67" cy="60" r="1"/></g><g filter="url(#fb06)"><ellipse cx="89" cy="54.6" rx="3.6" ry="4.4" fill="#50aa6e" fill-opacity="0.5"/><ellipse cx="61.7" cy="88.4" rx="6.5" ry="5.5" fill="#50aa6e" fill-opacity="0.5"/><ellipse cx="70" cy="88" rx="4" ry="4" fill="#50aa6e" fill-opacity="0.5"/><ellipse cx="98.4" cy="89.5" rx="6.2" ry="5.2" fill="#50aa6e" fill-opacity="0.5"/><ellipse cx="65.3" cy="48.5" rx="3.2" ry="3.2" fill="#96e85a" fill-opacity="0.95"/><ellipse cx="70.3" cy="49" rx="3.2" ry="3.2" fill="#96e85a" fill-opacity="0.95"/><ellipse cx="67.8" cy="54" rx="2" ry="2" fill="#96e85a" fill-opacity="0.95"/><ellipse cx="97.3" cy="67.3" rx="5" ry="5" fill="#96e85a" fill-opacity="0.95"/><ellipse cx="100.6" cy="75.5" rx="5" ry="4.6" fill="#96e85a" fill-opacity="0.95"/><ellipse cx="64" cy="77.3" rx="4.9" ry="4.9" fill="#96e85a" fill-opacity="0.95"/><ellipse cx="78.4" cy="101.7" rx="3.8" ry="3.8" fill="#96e85a" fill-opacity="0.95"/><ellipse cx="84.6" cy="98.4" rx="3.8" ry="3.8" fill="#96e85a" fill-opacity="0.95"/></g></svg>
<svg x="697.2" y="1421" width="160.8" height="160.7" viewBox="0 0 160 160" preserveAspectRatio="none" overflow="hidden"><rect width="160" height="160" fill="#000"/><g filter="url(#fb07)"><circle cx="78" cy="86" r="41.6" fill="url(#cg45)" fill-opacity="0.93"/><circle cx="80.4" cy="88.4" r="22.88" fill="url(#cg46)" fill-opacity="0.93"/><circle cx="110.4" cy="88.4" r="18.51" fill="url(#cg47)" fill-opacity="0.93"/><circle cx="60.4" cy="112.8" r="18.51" fill="url(#cg48)" fill-opacity="0.93"/><circle cx="46" cy="75" r="20.8" fill="url(#cg49)" fill-opacity="0.93"/><circle cx="82.2" cy="59.5" r="21.84" fill="url(#cg50)" fill-opacity="0.93"/></g><path d="M79.8 127.8h0M115.7 109.2h0M79.9 72.2h0M46.4 119.6h0M73.5 123.2h0M38.9 46.0h0M118.3 109.6h0M103.9 52.6h0M33.3 63.1h0M90.1 123.3h0M103.6 128.3h0M124.8 111.3h0M34.3 100.2h0M52.8 132.8h0M98.1 48.8h0M44.1 55.7h0M65.0 125.7h0M108.7 59.0h0M92.5 47.7h0M63.5 130.3h0M58.0 116.2h0M39.0 125.8h0M95.5 97.6h0M114.4 117.2h0M59.7 51.0h0M53.5 79.8h0M32.2 90.2h0M85.5 132.0h0M93.9 52.0h0M74.9 135.4h0M101.3 57.0h0M52.3 49.7h0M34.5 119.5h0M58.6 87.2h0M27.0 75.3h0M112.8 77.2h0M35.5 115.5h0M33.0 93.7h0M86.7 137.4h0M82.3 53.8h0M103.5 128.5h0M82.9 38.0h0M109.6 102.2h0M101.6 54.9h0M120.5 108.3h0M78.5 79.9h0M22.8 99.9h0M81.7 139.0h0M115.6 104.8h0M101.3 118.5h0M38.6 56.5h0M42.3 49.6h0M33.9 72.0h0M60.9 125.4h0M45.6 56.4h0M50.9 113.5h0M37.8 54.2h0M114.8 56.5h0M121.2 64.8h0M91.4 114.1h0M91.3 47.4h0M73.7 80.3h0M101.3 131.4h0M85.2 134.1h0M40.8 48.0h0M58.5 83.3h0M42.3 104.9h0M25.3 97.5h0M113.3 72.2h0M41.9 93.2h0M45.9 61.0h0M30.7 88.7h0M83.1 43.9h0M105.6 116.5h0M52.7 34.0h0M126.7 89.9h0M113.7 91.6h0M61.4 37.1h0M84.7 84.1h0M91.4 106.3h0M37.7 121.8h0M34.7 117.6h0M102.7 132.8h0M115.4 45.4h0M117.3 108.7h0M61.8 33.5h0M52.0 123.9h0M118.4 117.8h0M92.7 35.1h0M38.8 46.7h0M120.2 94.8h0M109.2 68.0h0M36.7 72.4h0M54.5 41.1h0M77.8 80.4h0M125.3 75.7h0M111.2 80.1h0M28.9 80.9h0M86.8 40.6h0M85.8 127.6h0M66.1 90.3h0M34.8 81.1h0M54.3 40.9h0M83.9 88.8h0M71.7 70.5h0M105.6 59.7h0M116.0 86.0h0M76.2 90.4h0M87.6 124.9h0M71.8 36.9h0M102.0 132.6h0M74.7 81.1h0M61.0 33.3h0M88.6 66.0h0M30.9 114.3h0M99.4 117.4h0M101.1 55.6h0M40.0 125.5h0M122.7 82.8h0M52.2 133.4h0M78.9 75.3h0M67.0 42.3h0M28.4 75.8h0M51.6 126.7h0M68.9 87.0h0M60.5 120.2h0" stroke="#2e702e" stroke-width="0.9" stroke-linecap="round" fill="none" opacity="0.7"/><path d="M86.3 129.3h0M76.3 125.6h0M34.2 74.8h0M89.4 121.7h0M131.0 90.3h0M47.9 44.3h0M44.1 65.8h0M55.3 75.0h0M91.2 72.9h0M51.7 123.0h0M56.4 49.9h0M42.2 56.0h0M23.0 79.8h0M24.5 102.8h0M68.4 106.4h0M39.3 69.9h0M114.8 77.5h0M58.7 126.3h0M105.5 42.0h0M74.0 80.2h0M118.6 70.0h0M63.5 72.6h0M31.2 114.0h0M110.9 50.7h0M110.1 51.4h0M81.1 129.2h0M51.2 78.9h0M97.0 74.2h0M116.0 93.5h0M104.9 61.1h0M57.7 31.5h0M50.0 58.6h0M49.3 116.3h0M130.2 95.8h0M50.0 130.4h0M61.8 131.1h0M84.9 88.6h0M75.1 39.1h0M34.6 71.6h0M127.8 92.9h0M49.3 59.7h0M109.9 123.0h0M50.8 74.3h0M103.1 114.3h0" stroke="#43903a" stroke-width="1.3" stroke-linecap="round" fill="none" opacity="0.75"/><g filter="url(#fb06)"><ellipse cx="82.2" cy="59" rx="6" ry="6" fill="#64d856" fill-opacity="1.0"/><ellipse cx="50.4" cy="79" rx="5.5" ry="5.5" fill="#4abe5a" fill-opacity="1.0"/><ellipse cx="46" cy="72" rx="2" ry="2" fill="#3a8e54" fill-opacity="0.8"/><ellipse cx="103.7" cy="86.2" rx="3.2" ry="3.2" fill="#4abe5a" fill-opacity="1.0"/><ellipse cx="107.5" cy="82.5" rx="2.8" ry="2.8" fill="#4abe5a" fill-opacity="1.0"/><ellipse cx="100.5" cy="91" rx="3.6" ry="3.6" fill="#3a8e54" fill-opacity="0.8"/><ellipse cx="108" cy="88.5" rx="2.6" ry="2.6" fill="#4abe5a" fill-opacity="1.0"/><ellipse cx="60" cy="106.2" rx="4.2" ry="5" fill="#4abe5a" fill-opacity="1.0"/><ellipse cx="56.4" cy="116.2" rx="3" ry="3" fill="#64d856" fill-opacity="1.0"/><ellipse cx="100" cy="45" rx="2" ry="2" fill="#4abe5a" fill-opacity="1.0"/></g></svg>
<svg x="697.2" y="1590.6" width="160.8" height="160.3" viewBox="0 0 160 160" preserveAspectRatio="none" overflow="hidden"><rect width="160" height="160" fill="#040824"/><circle cx="78" cy="82" r="60" fill="#0c1650" opacity="0.35" filter="url(#fb8)"/><g filter="url(#fb09)"><ellipse cx="82.3" cy="58.7" rx="6.3" ry="6.3" fill="#36509a" fill-opacity="0.79"/><ellipse cx="50.9" cy="78.5" rx="6.3" ry="6" fill="#354e96" fill-opacity="0.77"/><ellipse cx="106" cy="83" rx="4.5" ry="5" fill="#324a8d" fill-opacity="0.72"/><ellipse cx="101" cy="90" rx="4.5" ry="5" fill="#324a8d" fill-opacity="0.72"/><ellipse cx="59.4" cy="105.9" rx="5.3" ry="6" fill="#324a8d" fill-opacity="0.72"/><ellipse cx="62.5" cy="46.5" rx="3.1" ry="3.1" fill="#3e5cb0" fill-opacity="0.91"/><ellipse cx="129.4" cy="42.4" rx="3.6" ry="3.8" fill="#476aca" fill-opacity="1"/><ellipse cx="134.8" cy="47.1" rx="4.4" ry="5" fill="#354e96" fill-opacity="0.77"/></g><g fill="#4655c4" filter="url(#fb04)"><circle cx="100" cy="61" r="0.9"/><circle cx="49" cy="69" r="0.8"/><circle cx="60" cy="116" r="0.8"/></g></svg>
<svg x="697.2" y="1760.7" width="160.8" height="160.2" viewBox="0 0 160 160" preserveAspectRatio="none" overflow="hidden"><rect width="160" height="160" fill="#03061d"/><g filter="url(#fb07)"><circle cx="78" cy="86" r="41.6" fill="url(#cg51)" fill-opacity="0.93"/><circle cx="80.4" cy="88.4" r="22.88" fill="url(#cg52)" fill-opacity="0.93"/><circle cx="110.4" cy="88.4" r="18.51" fill="url(#cg53)" fill-opacity="0.93"/><circle cx="60.4" cy="112.8" r="18.51" fill="url(#cg54)" fill-opacity="0.93"/><circle cx="46" cy="75" r="20.8" fill="url(#cg55)" fill-opacity="0.93"/><circle cx="82.2" cy="59.5" r="21.84" fill="url(#cg56)" fill-opacity="0.93"/></g><path d="M79.8 127.8h0M115.7 109.2h0M79.9 72.2h0M46.4 119.6h0M73.5 123.2h0M38.9 46.0h0M118.3 109.6h0M103.9 52.6h0M33.3 63.1h0M90.1 123.3h0M103.6 128.3h0M124.8 111.3h0M34.3 100.2h0M52.8 132.8h0M98.1 48.8h0M44.1 55.7h0M65.0 125.7h0M108.7 59.0h0M92.5 47.7h0M63.5 130.3h0M58.0 116.2h0M39.0 125.8h0M95.5 97.6h0M114.4 117.2h0M59.7 51.0h0M53.5 79.8h0M32.2 90.2h0M85.5 132.0h0M93.9 52.0h0M74.9 135.4h0M101.3 57.0h0M52.3 49.7h0M34.5 119.5h0M58.6 87.2h0M27.0 75.3h0M112.8 77.2h0M35.5 115.5h0M33.0 93.7h0M86.7 137.4h0M82.3 53.8h0M103.5 128.5h0M82.9 38.0h0M109.6 102.2h0M101.6 54.9h0M120.5 108.3h0M78.5 79.9h0M22.8 99.9h0M81.7 139.0h0M115.6 104.8h0M101.3 118.5h0M38.6 56.5h0M42.3 49.6h0M33.9 72.0h0M60.9 125.4h0M45.6 56.4h0M50.9 113.5h0M37.8 54.2h0M114.8 56.5h0M121.2 64.8h0M91.4 114.1h0M91.3 47.4h0M73.7 80.3h0M101.3 131.4h0M85.2 134.1h0M40.8 48.0h0M58.5 83.3h0M42.3 104.9h0M25.3 97.5h0M113.3 72.2h0M41.9 93.2h0M45.9 61.0h0M30.7 88.7h0M83.1 43.9h0M105.6 116.5h0M52.7 34.0h0M126.7 89.9h0M113.7 91.6h0M61.4 37.1h0M84.7 84.1h0M91.4 106.3h0M37.7 121.8h0M34.7 117.6h0M102.7 132.8h0M115.4 45.4h0M117.3 108.7h0M61.8 33.5h0M52.0 123.9h0M118.4 117.8h0M92.7 35.1h0M38.8 46.7h0M120.2 94.8h0M109.2 68.0h0M36.7 72.4h0M54.5 41.1h0M77.8 80.4h0M125.3 75.7h0M111.2 80.1h0M28.9 80.9h0M86.8 40.6h0M85.8 127.6h0M66.1 90.3h0M34.8 81.1h0M54.3 40.9h0M83.9 88.8h0M71.7 70.5h0M105.6 59.7h0M116.0 86.0h0M76.2 90.4h0M87.6 124.9h0M71.8 36.9h0M102.0 132.6h0M74.7 81.1h0M61.0 33.3h0M88.6 66.0h0M30.9 114.3h0M99.4 117.4h0M101.1 55.6h0M40.0 125.5h0M122.7 82.8h0M52.2 133.4h0M78.9 75.3h0M67.0 42.3h0M28.4 75.8h0M51.6 126.7h0M68.9 87.0h0M60.5 120.2h0" stroke="#46a846" stroke-width="0.9" stroke-linecap="round" fill="none" opacity="0.7"/><path d="M86.3 129.3h0M76.3 125.6h0M34.2 74.8h0M89.4 121.7h0M131.0 90.3h0M47.9 44.3h0M44.1 65.8h0M55.3 75.0h0M91.2 72.9h0M51.7 123.0h0M56.4 49.9h0M42.2 56.0h0M23.0 79.8h0M24.5 102.8h0M68.4 106.4h0M39.3 69.9h0M114.8 77.5h0M58.7 126.3h0M105.5 42.0h0M74.0 80.2h0M118.6 70.0h0M63.5 72.6h0M31.2 114.0h0M110.9 50.7h0M110.1 51.4h0M81.1 129.2h0M51.2 78.9h0M97.0 74.2h0M116.0 93.5h0M104.9 61.1h0M57.7 31.5h0M50.0 58.6h0M49.3 116.3h0M130.2 95.8h0M50.0 130.4h0M61.8 131.1h0M84.9 88.6h0M75.1 39.1h0M34.6 71.6h0M127.8 92.9h0M49.3 59.7h0M109.9 123.0h0M50.8 74.3h0M103.1 114.3h0" stroke="#65d856" stroke-width="1.3" stroke-linecap="round" fill="none" opacity="0.75"/><g filter="url(#fb09)"><ellipse cx="82.3" cy="58.7" rx="6.3" ry="6.3" fill="#3c60e1" fill-opacity="0.54"/><ellipse cx="50.9" cy="78.5" rx="6.3" ry="6" fill="#3c60e1" fill-opacity="0.51"/><ellipse cx="106" cy="83" rx="4.5" ry="5" fill="#3c60e1" fill-opacity="0.45"/><ellipse cx="101" cy="90" rx="4.5" ry="5" fill="#3c60e1" fill-opacity="0.45"/><ellipse cx="59.4" cy="105.9" rx="5.3" ry="6" fill="#3c60e1" fill-opacity="0.45"/><ellipse cx="62.5" cy="46.5" rx="3.1" ry="3.1" fill="#3c60e1" fill-opacity="0.69"/><ellipse cx="129.4" cy="42.4" rx="3.6" ry="3.8" fill="#3c60e1" fill-opacity="0.87"/><ellipse cx="134.8" cy="47.1" rx="4.4" ry="5" fill="#3c60e1" fill-opacity="0.51"/></g><g fill="#5560dc" filter="url(#fb04)"><circle cx="100" cy="61" r="0.9"/><circle cx="49" cy="69" r="0.8"/><circle cx="60" cy="116" r="0.8"/></g><g filter="url(#fb06)"><ellipse cx="82.2" cy="59" rx="6" ry="6" fill="#96e85a" fill-opacity="0.95"/><ellipse cx="50.4" cy="79" rx="5.5" ry="5.5" fill="#5acd78" fill-opacity="0.7"/><ellipse cx="46" cy="72" rx="2" ry="2" fill="#50aa6e" fill-opacity="0.5"/><ellipse cx="103.7" cy="86.2" rx="3.2" ry="3.2" fill="#5acd78" fill-opacity="0.7"/><ellipse cx="107.5" cy="82.5" rx="2.8" ry="2.8" fill="#5acd78" fill-opacity="0.7"/><ellipse cx="100.5" cy="91" rx="3.6" ry="3.6" fill="#50aa6e" fill-opacity="0.5"/><ellipse cx="108" cy="88.5" rx="2.6" ry="2.6" fill="#5acd78" fill-opacity="0.7"/><ellipse cx="60" cy="106.2" rx="4.2" ry="5" fill="#5acd78" fill-opacity="0.7"/><ellipse cx="56.4" cy="116.2" rx="3" ry="3" fill="#96e85a" fill-opacity="0.95"/><ellipse cx="100" cy="45" rx="2" ry="2" fill="#5acd78" fill-opacity="0.7"/></g></svg>
<svg x="866.2" y="1421" width="160.6" height="160.7" viewBox="0 0 160 160" preserveAspectRatio="none" overflow="hidden"><rect width="160" height="160" fill="#000"/><g filter="url(#fb07)"><circle cx="74" cy="81" r="48.88" fill="url(#cg57)" fill-opacity="0.93"/><circle cx="57.4" cy="49.4" r="19.55" fill="url(#cg58)" fill-opacity="0.93"/><circle cx="93.9" cy="51.5" r="20.59" fill="url(#cg59)" fill-opacity="0.93"/><circle cx="40.7" cy="88" r="18.41" fill="url(#cg60)" fill-opacity="0.93"/><circle cx="68.8" cy="75.5" r="19.55" fill="url(#cg61)" fill-opacity="0.93"/><circle cx="100" cy="89" r="19.55" fill="url(#cg62)" fill-opacity="0.93"/><circle cx="67.8" cy="108.9" r="17.37" fill="url(#cg63)" fill-opacity="0.93"/></g><path d="M73.9 79.4h0M80.3 42.6h0M106.0 108.5h0M114.4 111.1h0M66.2 122.4h0M77.6 32.6h0M110.9 118.7h0M75.3 72.0h0M35.7 42.3h0M90.1 77.6h0M61.5 88.4h0M62.4 38.5h0M44.4 117.9h0M48.6 109.4h0M59.8 28.7h0M75.9 29.2h0M60.2 79.9h0M58.5 133.4h0M45.1 126.1h0M58.0 116.9h0M102.0 89.8h0M117.0 89.7h0M125.2 91.7h0M36.0 103.9h0M99.6 43.2h0M88.9 61.0h0M58.0 41.5h0M37.5 106.2h0M119.0 69.4h0M93.9 123.3h0M50.2 111.4h0M46.0 113.4h0M70.3 120.2h0M51.5 50.1h0M80.3 38.8h0M95.0 33.9h0M65.9 134.3h0M32.5 94.6h0M27.3 108.0h0M110.9 40.3h0M100.3 122.4h0M76.8 30.9h0M126.7 74.3h0M57.0 118.6h0M31.5 105.9h0M29.0 52.4h0M89.4 94.6h0M33.1 67.7h0M106.8 115.5h0M41.2 116.2h0M34.2 86.8h0M74.0 81.0h0M60.4 107.3h0M59.8 66.0h0M37.4 115.5h0M38.2 57.0h0M26.8 108.7h0M104.2 115.9h0M67.6 123.5h0M34.4 83.5h0M106.2 43.8h0M77.1 34.0h0M44.9 55.8h0M43.1 117.8h0M123.6 81.9h0M46.5 43.8h0M65.6 87.8h0M57.7 84.6h0M32.4 67.8h0M116.3 64.9h0M111.4 117.2h0M64.0 39.2h0M100.5 117.4h0M45.7 107.8h0M109.8 113.9h0M30.2 101.1h0M41.6 123.6h0M58.2 34.9h0M66.4 110.3h0M121.4 86.6h0M114.4 107.1h0M32.1 115.7h0M88.5 32.8h0M24.1 83.7h0M47.4 115.6h0M99.2 35.9h0M111.5 71.7h0M82.6 119.1h0M111.8 89.0h0M50.0 42.6h0M108.9 52.1h0M26.3 92.6h0M36.6 118.5h0M63.3 125.9h0M64.3 95.4h0M56.4 38.5h0M112.8 87.1h0M116.1 54.9h0M64.5 82.9h0M116.2 64.4h0M125.2 83.0h0M34.7 76.3h0M74.4 86.0h0M110.7 93.9h0M84.3 29.9h0M60.7 117.3h0M93.2 121.5h0M78.4 124.3h0M68.3 35.9h0M62.3 84.9h0M107.0 120.2h0M91.0 44.6h0M23.2 90.2h0M50.7 40.9h0M114.9 93.7h0M112.4 47.3h0M109.8 66.9h0M45.1 107.3h0M102.3 114.0h0M102.2 92.9h0M106.8 112.5h0M95.4 55.0h0M33.2 73.9h0M32.8 100.5h0M51.3 40.9h0M31.3 51.6h0M59.0 46.1h0M77.9 124.8h0M82.9 121.5h0M31.0 76.7h0M112.9 55.7h0M90.8 102.1h0M116.2 109.2h0M115.7 50.7h0M27.4 87.7h0M85.9 44.7h0M33.1 49.2h0M56.2 120.5h0M24.3 80.6h0M36.1 66.7h0M41.7 118.6h0M77.9 120.3h0M37.6 52.5h0M117.4 47.9h0M41.3 98.1h0M116.0 45.9h0M106.7 52.8h0M89.8 29.2h0M65.7 71.8h0M29.8 60.2h0M67.8 36.2h0M36.9 55.4h0M65.9 74.7h0M102.1 119.2h0M83.0 42.7h0M99.4 110.9h0M105.7 37.6h0M106.8 105.1h0M47.9 124.7h0M86.3 108.6h0M70.0 77.0h0M91.1 41.0h0M25.1 94.0h0M74.7 106.6h0M109.7 98.4h0M72.3 60.1h0" stroke="#2e702e" stroke-width="0.9" stroke-linecap="round" fill="none" opacity="0.7"/><path d="M37.1 45.1h0M66.8 109.8h0M61.9 117.1h0M28.2 86.6h0M98.2 129.3h0M114.1 113.4h0M67.6 120.1h0M65.7 35.5h0M36.6 91.7h0M114.0 76.3h0M108.5 43.0h0M45.9 119.7h0M22.7 71.4h0M24.3 88.2h0M49.4 39.1h0M46.2 119.0h0M45.1 127.0h0M119.7 74.3h0M108.7 64.5h0M43.0 51.2h0M61.7 125.4h0M103.2 56.2h0M91.6 34.5h0M59.4 40.7h0M33.8 88.0h0M39.3 98.5h0M79.5 124.2h0M112.8 80.6h0M117.3 100.4h0M70.5 123.2h0M64.7 124.5h0M45.7 110.7h0M87.7 61.7h0M83.2 134.8h0M68.2 61.0h0M24.8 64.3h0M105.7 110.0h0M74.1 82.8h0M24.6 91.1h0M99.2 126.7h0M42.2 72.4h0M29.8 84.8h0M108.2 118.7h0M74.8 27.8h0M96.1 31.5h0M112.1 92.6h0M125.9 85.1h0M122.0 75.8h0M60.4 28.8h0M29.9 92.0h0M41.4 124.9h0M124.5 75.4h0M84.3 118.1h0M42.6 121.1h0M73.3 81.4h0M115.7 49.5h0M97.3 129.0h0M43.9 54.9h0M93.4 125.0h0M114.4 49.0h0M76.6 29.2h0M106.8 110.9h0M117.8 81.9h0M128.7 86.5h0" stroke="#43903a" stroke-width="1.3" stroke-linecap="round" fill="none" opacity="0.75"/><g filter="url(#fb06)"><ellipse cx="58.4" cy="50.5" rx="7.3" ry="6.5" fill="#3a9652" fill-opacity="0.8"/><ellipse cx="92.8" cy="51.5" rx="7.3" ry="7.3" fill="#3a9652" fill-opacity="0.8"/><ellipse cx="67.8" cy="69.7" rx="4.6" ry="4.6" fill="#3a9652" fill-opacity="0.8"/><ellipse cx="41.7" cy="86" rx="7.3" ry="6.3" fill="#3a9652" fill-opacity="0.8"/><ellipse cx="99.7" cy="90.1" rx="6.7" ry="6.7" fill="#40aa54" fill-opacity="0.8"/><ellipse cx="69.3" cy="108.9" rx="6.3" ry="6.3" fill="#40aa54" fill-opacity="0.8"/><ellipse cx="75" cy="50" rx="3" ry="3" fill="#3a9652" fill-opacity="0.8"/><ellipse cx="80" cy="57" rx="2.5" ry="2.5" fill="#3a9652" fill-opacity="0.8"/><ellipse cx="88" cy="65" rx="2.5" ry="2.5" fill="#3a9652" fill-opacity="0.8"/><ellipse cx="48" cy="73" rx="2.5" ry="2.5" fill="#3a9652" fill-opacity="0.8"/><ellipse cx="31.3" cy="66.8" rx="2.6" ry="1.8" fill="#7ae040" fill-opacity="1.0"/></g></svg>
<svg x="866.2" y="1590.6" width="160.6" height="160.3" viewBox="0 0 160 160" preserveAspectRatio="none" overflow="hidden"><rect width="160" height="160" fill="#040824"/><circle cx="72" cy="82" r="62" fill="#0c1650" opacity="0.4" filter="url(#fb8)"/><g filter="url(#fb09)"><ellipse cx="84.2" cy="52.5" rx="7" ry="7.8" fill="#3955a3" fill-opacity="0.84"/><ellipse cx="48.7" cy="51.8" rx="5.7" ry="5.7" fill="#2d4380" fill-opacity="0.66"/><ellipse cx="59.7" cy="70.7" rx="5.7" ry="5.7" fill="#2d4380" fill-opacity="0.66"/><ellipse cx="36.1" cy="86.4" rx="8" ry="6.5" fill="#3b57a7" fill-opacity="0.86"/><ellipse cx="93.6" cy="88" rx="7.5" ry="7" fill="#4161b9" fill-opacity="0.95"/><ellipse cx="64.4" cy="108.4" rx="6.3" ry="6" fill="#36509a" fill-opacity="0.79"/></g><g fill="#4655c4" filter="url(#fb04)"><circle cx="88" cy="92" r="1"/><circle cx="76" cy="108" r="0.8"/></g><rect width="160" height="3" fill="#000"/><rect y="156" width="160" height="4" fill="#000"/></svg>
<svg x="866.2" y="1760.7" width="160.6" height="160.2" viewBox="0 0 160 160" preserveAspectRatio="none" overflow="hidden"><rect width="160" height="160" fill="#03061d"/><g filter="url(#fb07)"><circle cx="74" cy="81" r="48.88" fill="url(#cg64)" fill-opacity="0.93"/><circle cx="57.4" cy="49.4" r="19.55" fill="url(#cg65)" fill-opacity="0.93"/><circle cx="93.9" cy="51.5" r="20.59" fill="url(#cg66)" fill-opacity="0.93"/><circle cx="40.7" cy="88" r="18.41" fill="url(#cg67)" fill-opacity="0.93"/><circle cx="68.8" cy="75.5" r="19.55" fill="url(#cg68)" fill-opacity="0.93"/><circle cx="100" cy="89" r="19.55" fill="url(#cg69)" fill-opacity="0.93"/><circle cx="67.8" cy="108.9" r="17.37" fill="url(#cg70)" fill-opacity="0.93"/></g><path d="M73.9 79.4h0M80.3 42.6h0M106.0 108.5h0M114.4 111.1h0M66.2 122.4h0M77.6 32.6h0M110.9 118.7h0M75.3 72.0h0M35.7 42.3h0M90.1 77.6h0M61.5 88.4h0M62.4 38.5h0M44.4 117.9h0M48.6 109.4h0M59.8 28.7h0M75.9 29.2h0M60.2 79.9h0M58.5 133.4h0M45.1 126.1h0M58.0 116.9h0M102.0 89.8h0M117.0 89.7h0M125.2 91.7h0M36.0 103.9h0M99.6 43.2h0M88.9 61.0h0M58.0 41.5h0M37.5 106.2h0M119.0 69.4h0M93.9 123.3h0M50.2 111.4h0M46.0 113.4h0M70.3 120.2h0M51.5 50.1h0M80.3 38.8h0M95.0 33.9h0M65.9 134.3h0M32.5 94.6h0M27.3 108.0h0M110.9 40.3h0M100.3 122.4h0M76.8 30.9h0M126.7 74.3h0M57.0 118.6h0M31.5 105.9h0M29.0 52.4h0M89.4 94.6h0M33.1 67.7h0M106.8 115.5h0M41.2 116.2h0M34.2 86.8h0M74.0 81.0h0M60.4 107.3h0M59.8 66.0h0M37.4 115.5h0M38.2 57.0h0M26.8 108.7h0M104.2 115.9h0M67.6 123.5h0M34.4 83.5h0M106.2 43.8h0M77.1 34.0h0M44.9 55.8h0M43.1 117.8h0M123.6 81.9h0M46.5 43.8h0M65.6 87.8h0M57.7 84.6h0M32.4 67.8h0M116.3 64.9h0M111.4 117.2h0M64.0 39.2h0M100.5 117.4h0M45.7 107.8h0M109.8 113.9h0M30.2 101.1h0M41.6 123.6h0M58.2 34.9h0M66.4 110.3h0M121.4 86.6h0M114.4 107.1h0M32.1 115.7h0M88.5 32.8h0M24.1 83.7h0M47.4 115.6h0M99.2 35.9h0M111.5 71.7h0M82.6 119.1h0M111.8 89.0h0M50.0 42.6h0M108.9 52.1h0M26.3 92.6h0M36.6 118.5h0M63.3 125.9h0M64.3 95.4h0M56.4 38.5h0M112.8 87.1h0M116.1 54.9h0M64.5 82.9h0M116.2 64.4h0M125.2 83.0h0M34.7 76.3h0M74.4 86.0h0M110.7 93.9h0M84.3 29.9h0M60.7 117.3h0M93.2 121.5h0M78.4 124.3h0M68.3 35.9h0M62.3 84.9h0M107.0 120.2h0M91.0 44.6h0M23.2 90.2h0M50.7 40.9h0M114.9 93.7h0M112.4 47.3h0M109.8 66.9h0M45.1 107.3h0M102.3 114.0h0M102.2 92.9h0M106.8 112.5h0M95.4 55.0h0M33.2 73.9h0M32.8 100.5h0M51.3 40.9h0M31.3 51.6h0M59.0 46.1h0M77.9 124.8h0M82.9 121.5h0M31.0 76.7h0M112.9 55.7h0M90.8 102.1h0M116.2 109.2h0M115.7 50.7h0M27.4 87.7h0M85.9 44.7h0M33.1 49.2h0M56.2 120.5h0M24.3 80.6h0M36.1 66.7h0M41.7 118.6h0M77.9 120.3h0M37.6 52.5h0M117.4 47.9h0M41.3 98.1h0M116.0 45.9h0M106.7 52.8h0M89.8 29.2h0M65.7 71.8h0M29.8 60.2h0M67.8 36.2h0M36.9 55.4h0M65.9 74.7h0M102.1 119.2h0M83.0 42.7h0M99.4 110.9h0M105.7 37.6h0M106.8 105.1h0M47.9 124.7h0M86.3 108.6h0M70.0 77.0h0M91.1 41.0h0M25.1 94.0h0M74.7 106.6h0M109.7 98.4h0M72.3 60.1h0" stroke="#46a846" stroke-width="0.9" stroke-linecap="round" fill="none" opacity="0.7"/><path d="M37.1 45.1h0M66.8 109.8h0M61.9 117.1h0M28.2 86.6h0M98.2 129.3h0M114.1 113.4h0M67.6 120.1h0M65.7 35.5h0M36.6 91.7h0M114.0 76.3h0M108.5 43.0h0M45.9 119.7h0M22.7 71.4h0M24.3 88.2h0M49.4 39.1h0M46.2 119.0h0M45.1 127.0h0M119.7 74.3h0M108.7 64.5h0M43.0 51.2h0M61.7 125.4h0M103.2 56.2h0M91.6 34.5h0M59.4 40.7h0M33.8 88.0h0M39.3 98.5h0M79.5 124.2h0M112.8 80.6h0M117.3 100.4h0M70.5 123.2h0M64.7 124.5h0M45.7 110.7h0M87.7 61.7h0M83.2 134.8h0M68.2 61.0h0M24.8 64.3h0M105.7 110.0h0M74.1 82.8h0M24.6 91.1h0M99.2 126.7h0M42.2 72.4h0M29.8 84.8h0M108.2 118.7h0M74.8 27.8h0M96.1 31.5h0M112.1 92.6h0M125.9 85.1h0M122.0 75.8h0M60.4 28.8h0M29.9 92.0h0M41.4 124.9h0M124.5 75.4h0M84.3 118.1h0M42.6 121.1h0M73.3 81.4h0M115.7 49.5h0M97.3 129.0h0M43.9 54.9h0M93.4 125.0h0M114.4 49.0h0M76.6 29.2h0M106.8 110.9h0M117.8 81.9h0M128.7 86.5h0" stroke="#65d856" stroke-width="1.3" stroke-linecap="round" fill="none" opacity="0.75"/><g filter="url(#fb09)"><ellipse cx="84.2" cy="52.5" rx="7" ry="7.8" fill="#3c60e1" fill-opacity="0.6"/><ellipse cx="48.7" cy="51.8" rx="5.7" ry="5.7" fill="#3c60e1" fill-opacity="0.36"/><ellipse cx="59.7" cy="70.7" rx="5.7" ry="5.7" fill="#3c60e1" fill-opacity="0.36"/><ellipse cx="36.1" cy="86.4" rx="8" ry="6.5" fill="#3c60e1" fill-opacity="0.63"/><ellipse cx="93.6" cy="88" rx="7.5" ry="7" fill="#3c60e1" fill-opacity="0.75"/><ellipse cx="64.4" cy="108.4" rx="6.3" ry="6" fill="#3c60e1" fill-opacity="0.54"/></g><g fill="#5560dc" filter="url(#fb04)"><circle cx="88" cy="92" r="1"/><circle cx="76" cy="108" r="0.8"/></g><g filter="url(#fb06)"><ellipse cx="58.4" cy="50.5" rx="7.3" ry="6.5" fill="#50aa6e" fill-opacity="0.5"/><ellipse cx="92.8" cy="51.5" rx="7.3" ry="7.3" fill="#50aa6e" fill-opacity="0.5"/><ellipse cx="67.8" cy="69.7" rx="4.6" ry="4.6" fill="#50aa6e" fill-opacity="0.5"/><ellipse cx="41.7" cy="86" rx="7.3" ry="6.3" fill="#50aa6e" fill-opacity="0.5"/><ellipse cx="99.7" cy="90.1" rx="6.7" ry="6.7" fill="#5acd78" fill-opacity="0.5"/><ellipse cx="69.3" cy="108.9" rx="6.3" ry="6.3" fill="#5acd78" fill-opacity="0.5"/><ellipse cx="75" cy="50" rx="3" ry="3" fill="#50aa6e" fill-opacity="0.5"/><ellipse cx="80" cy="57" rx="2.5" ry="2.5" fill="#50aa6e" fill-opacity="0.5"/><ellipse cx="88" cy="65" rx="2.5" ry="2.5" fill="#50aa6e" fill-opacity="0.5"/><ellipse cx="48" cy="73" rx="2.5" ry="2.5" fill="#50aa6e" fill-opacity="0.5"/><ellipse cx="31.3" cy="66.8" rx="2.6" ry="1.8" fill="#96e85a" fill-opacity="0.95"/></g><rect width="160" height="3" fill="#000"/><rect y="156" width="160" height="4" fill="#000"/></svg>
<svg x="1034.6" y="1421" width="160.9" height="160.7" viewBox="0 0 160 160" preserveAspectRatio="none" overflow="hidden"><rect width="160" height="160" fill="#000"/><g filter="url(#fb07)"><circle cx="58.8" cy="116" r="13" fill="url(#cg71)" fill-opacity="0.93"/><circle cx="98.5" cy="57.6" r="21.84" fill="url(#cg72)" fill-opacity="0.93"/><circle cx="51.5" cy="69" r="29.12" fill="url(#cg73)" fill-opacity="0.93"/><circle cx="92.2" cy="93" r="26" fill="url(#cg74)" fill-opacity="0.93"/><circle cx="57.8" cy="101.4" r="5.82" fill="url(#cg75)" fill-opacity="0.93"/><circle cx="74.9" cy="124.7" r="6.03" fill="url(#cg76)" fill-opacity="0.93"/><circle cx="114" cy="80.5" r="4.16" fill="url(#cg77)" fill-opacity="0.93"/></g><path d="M88.1 56.0h0M75.7 39.8h0M96.7 35.7h0M132.6 117.5h0M88.6 58.8h0M82.0 26.5h0M130.5 54.1h0M40.7 84.1h0M35.8 52.2h0M31.6 85.0h0M54.8 43.7h0M60.9 118.4h0M121.2 79.6h0M33.3 101.1h0M27.3 111.3h0M89.6 40.7h0M79.9 96.6h0M64.9 89.7h0M127.7 61.4h0M33.2 92.5h0M27.1 86.1h0M49.1 36.8h0M60.9 32.4h0M72.3 26.4h0M125.9 86.8h0M36.4 48.9h0M45.8 125.3h0M123.3 60.9h0M35.5 108.7h0M125.6 108.5h0M58.8 39.3h0M34.3 91.4h0M62.2 28.6h0M72.4 76.1h0M26.0 92.1h0M66.3 28.0h0M71.4 137.3h0M84.1 41.8h0M122.4 47.7h0M28.9 69.4h0M122.7 129.4h0M30.8 77.1h0" stroke="#173817" stroke-width="0.9" stroke-linecap="round" fill="none" opacity="0.7"/><path d="M133.5 97.6h0M27.1 71.7h0M99.9 29.8h0M126.2 70.4h0M23.4 79.8h0M90.1 143.3h0M32.6 78.4h0M44.8 120.4h0M132.2 85.0h0M132.5 84.4h0M98.7 134.2h0M47.5 51.3h0M106.2 127.0h0M124.5 49.7h0M78.8 90.1h0M121.0 63.2h0M34.4 49.7h0M101.3 125.7h0" stroke="#22481d" stroke-width="1.3" stroke-linecap="round" fill="none" opacity="0.75"/><g filter="url(#fb06)"><ellipse cx="48" cy="68" rx="7.3" ry="7" fill="#4abe5a" fill-opacity="1.0"/><ellipse cx="92.2" cy="91" rx="6" ry="8" fill="#4abe5a" fill-opacity="1.0"/><ellipse cx="95" cy="88" rx="4.5" ry="4.5" fill="#4abe5a" fill-opacity="1.0"/><ellipse cx="80.5" cy="46.5" rx="1.5" ry="1.5" fill="#4abe5a" fill-opacity="1.0"/></g></svg>
<svg x="1034.6" y="1590.6" width="160.9" height="160.3" viewBox="0 0 160 160" preserveAspectRatio="none" overflow="hidden"><rect width="160" height="160" fill="#020208"/><g filter="url(#fb09)"><ellipse cx="48" cy="68.5" rx="6.9" ry="6.5" fill="#38539e" fill-opacity="0.81"/><ellipse cx="59" cy="71.6" rx="5.7" ry="5.5" fill="#36509a" fill-opacity="0.79"/><ellipse cx="90.5" cy="70.7" rx="6.9" ry="6.5" fill="#2b407b" fill-opacity="0.64"/><ellipse cx="93.6" cy="91.1" rx="6.5" ry="7.5" fill="#38539e" fill-opacity="0.81"/><ellipse cx="97" cy="88" rx="4" ry="4" fill="#38539e" fill-opacity="0.81"/></g><g fill="#4655c4" filter="url(#fb04)"><circle cx="83.2" cy="30.5" r="1.3"/><circle cx="125.6" cy="48.7" r="1.3"/><circle cx="37.7" cy="79.5" r="1.5"/><circle cx="59.7" cy="101.5" r="2"/><circle cx="59.5" cy="98" r="1.3"/><circle cx="74.8" cy="124.7" r="2.3"/><circle cx="73" cy="121" r="1.4"/><circle cx="113" cy="132" r="1.4"/></g></svg>
<svg x="1034.6" y="1760.7" width="160.9" height="160.2" viewBox="0 0 160 160" preserveAspectRatio="none" overflow="hidden"><rect width="160" height="160" fill="#020206"/><g filter="url(#fb07)"><circle cx="58.8" cy="116" r="13" fill="url(#cg78)" fill-opacity="0.93"/><circle cx="98.5" cy="57.6" r="21.84" fill="url(#cg79)" fill-opacity="0.93"/><circle cx="51.5" cy="69" r="29.12" fill="url(#cg80)" fill-opacity="0.93"/><circle cx="92.2" cy="93" r="26" fill="url(#cg81)" fill-opacity="0.93"/><circle cx="57.8" cy="101.4" r="5.82" fill="url(#cg82)" fill-opacity="0.93"/><circle cx="74.9" cy="124.7" r="6.03" fill="url(#cg83)" fill-opacity="0.93"/><circle cx="114" cy="80.5" r="4.16" fill="url(#cg84)" fill-opacity="0.93"/></g><path d="M88.1 56.0h0M75.7 39.8h0M96.7 35.7h0M132.6 117.5h0M88.6 58.8h0M82.0 26.5h0M130.5 54.1h0M40.7 84.1h0M35.8 52.2h0M31.6 85.0h0M54.8 43.7h0M60.9 118.4h0M121.2 79.6h0M33.3 101.1h0M27.3 111.3h0M89.6 40.7h0M79.9 96.6h0M64.9 89.7h0M127.7 61.4h0M33.2 92.5h0M27.1 86.1h0M49.1 36.8h0M60.9 32.4h0M72.3 26.4h0M125.9 86.8h0M36.4 48.9h0M45.8 125.3h0M123.3 60.9h0M35.5 108.7h0M125.6 108.5h0M58.8 39.3h0M34.3 91.4h0M62.2 28.6h0M72.4 76.1h0M26.0 92.1h0M66.3 28.0h0M71.4 137.3h0M84.1 41.8h0M122.4 47.7h0M28.9 69.4h0M122.7 129.4h0M30.8 77.1h0" stroke="#235423" stroke-width="0.9" stroke-linecap="round" fill="none" opacity="0.7"/><path d="M133.5 97.6h0M27.1 71.7h0M99.9 29.8h0M126.2 70.4h0M23.4 79.8h0M90.1 143.3h0M32.6 78.4h0M44.8 120.4h0M132.2 85.0h0M132.5 84.4h0M98.7 134.2h0M47.5 51.3h0M106.2 127.0h0M124.5 49.7h0M78.8 90.1h0M121.0 63.2h0M34.4 49.7h0M101.3 125.7h0" stroke="#326c2b" stroke-width="1.3" stroke-linecap="round" fill="none" opacity="0.75"/><g filter="url(#fb09)"><ellipse cx="48" cy="68.5" rx="6.9" ry="6.5" fill="#3c60e1" fill-opacity="0.57"/><ellipse cx="59" cy="71.6" rx="5.7" ry="5.5" fill="#3c60e1" fill-opacity="0.54"/><ellipse cx="90.5" cy="70.7" rx="6.9" ry="6.5" fill="#3c60e1" fill-opacity="0.33"/><ellipse cx="93.6" cy="91.1" rx="6.5" ry="7.5" fill="#3c60e1" fill-opacity="0.57"/><ellipse cx="97" cy="88" rx="4" ry="4" fill="#3c60e1" fill-opacity="0.57"/></g><g fill="#5560dc" filter="url(#fb04)"><circle cx="83.2" cy="30.5" r="1.3"/><circle cx="125.6" cy="48.7" r="1.3"/><circle cx="37.7" cy="79.5" r="1.5"/><circle cx="59.7" cy="101.5" r="2"/><circle cx="59.5" cy="98" r="1.3"/><circle cx="74.8" cy="124.7" r="2.3"/><circle cx="73" cy="121" r="1.4"/><circle cx="113" cy="132" r="1.4"/></g><g filter="url(#fb06)"><ellipse cx="48" cy="68" rx="7.3" ry="7" fill="#5acd78" fill-opacity="0.7"/><ellipse cx="92.2" cy="91" rx="6" ry="8" fill="#5acd78" fill-opacity="0.7"/><ellipse cx="95" cy="88" rx="4.5" ry="4.5" fill="#5acd78" fill-opacity="0.7"/><ellipse cx="80.5" cy="46.5" rx="1.5" ry="1.5" fill="#5acd78" fill-opacity="0.7"/></g></svg>
<rect x="280.5" y="1907.4" width="30.5" height="4.2" fill="#fff"/>
<rect x="449.2" y="1907.4" width="30.4" height="4.2" fill="#fff"/>
<rect x="628.5" y="1905.8" width="30.5" height="4.2" fill="#fff"/>
<rect x="817.2" y="1907.4" width="30.5" height="4.2" fill="#fff"/>
<rect x="990" y="1907.4" width="30.4" height="4.2" fill="#fff"/>
<rect x="1155.5" y="1907.4" width="30.5" height="4.2" fill="#fff"/>
<text x="287.4" y="1901.5" font-size="23.8" text-anchor="middle" fill="#fff" stroke="#fff">20µm</text>
<text x="1439.6" y="1492.2" font-size="39.3" text-anchor="middle" fill="#000" stroke="#000"><tspan font-style="italic">OTX2</tspan> Protein</text>
<text x="1454.5" y="1536.4" font-size="23.9" text-anchor="middle" fill="#000" stroke="#000"><tspan font-style="italic">P</tspan> = 4x10<tspan font-size="14.5" dy="-9.5">-6</tspan></text>
<path d="M1415,1562.4 V1552.1 H1493.3 V1562.4" fill="none" stroke="#000" stroke-width="1.7"/>
<line x1="1370.4" y1="1555.2" x2="1370.4" y2="1793.4" stroke="#000" stroke-width="2"/>
<line x1="1360.6" y1="1792.5" x2="1527.6" y2="1792.5" stroke="#000" stroke-width="2"/>
<line x1="1360.6" y1="1556" x2="1370.4" y2="1556" stroke="#000" stroke-width="1.7"/>
<line x1="1360.6" y1="1615.2" x2="1370.4" y2="1615.2" stroke="#000" stroke-width="1.7"/>
<line x1="1360.6" y1="1674.3" x2="1370.4" y2="1674.3" stroke="#000" stroke-width="1.7"/>
<line x1="1360.6" y1="1733.4" x2="1370.4" y2="1733.4" stroke="#000" stroke-width="1.7"/>
<line x1="1414.6" y1="1792.5" x2="1414.6" y2="1801.8" stroke="#000" stroke-width="1.7"/>
<line x1="1482.2" y1="1792.5" x2="1482.2" y2="1801.8" stroke="#000" stroke-width="1.7"/>
<text x="1343.4" y="1560" font-size="31.5" text-anchor="middle" fill="#000" stroke="#000">2</text>
<text x="1346.4" y="1803" font-size="31.5" text-anchor="middle" fill="#000" stroke="#000">0</text>
<text x="1421.6" y="1841.6" font-size="31.5" text-anchor="middle" fill="#000" stroke="#000">Ctrl</text>
<text x="1483.8" y="1841.6" font-size="31.5" text-anchor="middle" fill="#000" stroke="#000">KD</text>
<text x="1269.3" y="1664.6" font-size="31.5" text-anchor="middle" fill="#000" stroke="#000" transform="rotate(-90 1269.3 1664.6)">Relative intensity</text>
<text x="1304.8" y="1664.6" font-size="31.5" text-anchor="middle" fill="#000" stroke="#000" transform="rotate(-90 1304.8 1664.6)">(Ctrl average =1)</text>
<circle cx="1415" cy="1607.5" r="3.5" fill="#45a97c"/>
<circle cx="1415" cy="1615.2" r="3.5" fill="#45a97c"/>
<circle cx="1407.8" cy="1638.4" r="3.5" fill="#45a97c"/>
<circle cx="1422" cy="1637.1" r="3.5" fill="#45a97c"/>
<circle cx="1407.8" cy="1646.9" r="3.5" fill="#45a97c"/>
<circle cx="1422" cy="1646.9" r="3.5" fill="#45a97c"/>
<circle cx="1407.8" cy="1658.5" r="3.5" fill="#45a97c"/>
<circle cx="1422" cy="1657.2" r="3.5" fill="#45a97c"/>
<circle cx="1407.8" cy="1690.2" r="3.5" fill="#45a97c"/>
<circle cx="1422" cy="1688.2" r="3.5" fill="#45a97c"/>
<circle cx="1414.6" cy="1701.9" r="3.5" fill="#45a97c"/>
<circle cx="1414.6" cy="1727.5" r="3.5" fill="#45a97c"/>
<circle cx="1414.6" cy="1759" r="3.5" fill="#45a97c"/>
<circle cx="1414.6" cy="1766.3" r="3.5" fill="#45a97c"/>
<line x1="1414.9" y1="1626" x2="1414.9" y2="1722.6" stroke="#45a97c" stroke-width="2.6"/>
<line x1="1402.6" y1="1626" x2="1427.1" y2="1626" stroke="#45a97c" stroke-width="2.6"/>
<line x1="1402.6" y1="1722.6" x2="1427.1" y2="1722.6" stroke="#45a97c" stroke-width="2.6"/>
<line x1="1392.3" y1="1674.3" x2="1437.4" y2="1674.3" stroke="#45a97c" stroke-width="5"/>
<circle cx="1482" cy="1702.4" r="3.5" fill="#b3292e"/>
<circle cx="1476.1" cy="1728.9" r="3.5" fill="#b3292e"/>
<circle cx="1488.4" cy="1730.2" r="3.5" fill="#b3292e"/>
<circle cx="1482" cy="1743.8" r="3.5" fill="#b3292e"/>
<circle cx="1463.2" cy="1768.1" r="3.5" fill="#b3292e"/>
<circle cx="1476.1" cy="1765.5" r="3.5" fill="#b3292e"/>
<circle cx="1488.4" cy="1766.3" r="3.5" fill="#b3292e"/>
<circle cx="1501.1" cy="1763.7" r="3.5" fill="#b3292e"/>
<circle cx="1501.1" cy="1771.9" r="3.5" fill="#b3292e"/>
<circle cx="1488.4" cy="1775.3" r="3.5" fill="#b3292e"/>
<circle cx="1476.1" cy="1774" r="3.5" fill="#b3292e"/>
<circle cx="1463.2" cy="1778.6" r="3.5" fill="#b3292e"/>
<circle cx="1463.2" cy="1759.5" r="3.5" fill="#b3292e"/>
<circle cx="1476.1" cy="1757" r="3.5" fill="#b3292e"/>
<circle cx="1488.4" cy="1757" r="3.5" fill="#b3292e"/>
<line x1="1478.6" y1="1741.3" x2="1478.6" y2="1786.4" stroke="#b3292e" stroke-width="2.6"/>
<line x1="1466.5" y1="1741.3" x2="1490.8" y2="1741.3" stroke="#b3292e" stroke-width="2.6"/>
<line x1="1466.5" y1="1786.4" x2="1490.8" y2="1786.4" stroke="#b3292e" stroke-width="2.6"/>
<line x1="1460.1" y1="1754.7" x2="1504.9" y2="1754.7" stroke="#b3292e" stroke-width="5"/>
<path d="M1530.2,1674 H1541.3 V1752.1 H1530.2" fill="none" stroke="#000" stroke-width="1.7"/>
<text x="1589.8" y="1721.2" font-size="31.5" text-anchor="middle" fill="#000" stroke="#000">68%</text>
<text x="554" y="2029.6" font-size="48.7" text-anchor="start" fill="#000" stroke="#000">h</text>
<text x="943.3" y="2048.4" font-size="39" text-anchor="middle" fill="#1a1311" stroke="#1a1311">RNA</text>
<line x1="636.9" y1="2079.6" x2="1301" y2="2079.6" stroke="#1a1311" stroke-width="1.6"/>
<text x="818.8" y="2147.2" font-size="39.5" text-anchor="middle" fill="#1a1311" stroke="#1a1311">D2</text>
<text x="1183.2" y="2147.2" font-size="39.5" text-anchor="middle" fill="#1a1311" stroke="#1a1311">D3</text>
<defs><filter id="fbS" x="-10%" y="-10%" width="120%" height="120%"><feGaussianBlur stdDeviation="0.9"/></filter></defs>
<g transform="translate(708,2184.8)"><g filter="url(#fbS)"><path d="M8.3 200.1h4.3v1.9h-4.3zM1.9 198.2h17.2v1.9h-17.2zM-0.2 196.3h23.6v1.9h-23.6zM-0.2 194.4h23.6v1.9h-23.6zM1.9 192.5h23.6v1.9h-23.6zM4.0 190.6h21.5v1.9h-21.5zM4.0 188.7h23.6v1.9h-23.6zM1.9 186.8h27.9v1.9h-27.9zM1.9 184.8h30.1v1.9h-30.1zM4.0 182.9h30.1v1.9h-30.1zM6.2 181.0h30.1v1.9h-30.1zM6.2 179.1h32.2v1.9h-32.2zM6.2 177.2h36.5v1.9h-36.5zM6.2 175.3h36.5v1.9h-36.5zM8.3 173.4h36.5v1.9h-36.5zM8.3 171.5h38.7v1.9h-38.7zM8.3 169.6h38.7v1.9h-38.7zM10.5 167.7h38.7v1.9h-38.7zM10.5 165.8h40.8v1.9h-40.8zM12.6 163.9h40.8v1.9h-40.8zM14.8 162.0h43.0v1.9h-43.0zM14.8 160.0h45.1v1.9h-45.1zM16.9 158.1h45.1v1.9h-45.1zM19.1 156.2h45.1v1.9h-45.1zM21.2 154.3h45.1v1.9h-45.1zM23.4 152.4h47.3v1.9h-47.3zM25.5 150.5h45.1v1.9h-45.1zM27.7 148.6h45.1v1.9h-45.1zM29.8 146.7h45.1v1.9h-45.1zM32.0 144.8h45.1v1.9h-45.1zM34.1 142.9h43.0v1.9h-43.0zM36.3 141.0h43.0v1.9h-43.0zM38.4 139.1h43.0v1.9h-43.0zM40.6 137.2h43.0v1.9h-43.0zM42.7 135.2h43.0v1.9h-43.0zM44.9 133.3h43.0v1.9h-43.0zM47.0 131.4h43.0v1.9h-43.0zM49.2 129.5h43.0v1.9h-43.0zM51.3 127.6h40.8v1.9h-40.8zM53.5 125.7h40.8v1.9h-40.8zM55.6 123.8h40.8v1.9h-40.8zM57.8 121.9h40.8v1.9h-40.8zM59.9 120.0h40.8v1.9h-40.8zM62.0 118.1h40.8v1.9h-40.8zM66.3 116.2h38.7v1.9h-38.7zM68.5 114.3h38.7v1.9h-38.7zM70.6 112.3h38.7v1.9h-38.7zM72.8 110.4h36.5v1.9h-36.5zM72.8 108.5h36.5v1.9h-36.5zM74.9 106.6h36.5v1.9h-36.5zM79.2 104.7h34.4v1.9h-34.4zM81.4 102.8h34.4v1.9h-34.4zM85.7 100.9h32.2v1.9h-32.2zM90.0 99.0h30.1v1.9h-30.1zM90.0 97.1h30.1v1.9h-30.1zM92.1 95.2h27.9v1.9h-27.9zM96.4 93.3h23.6v1.9h-23.6zM98.6 91.4h23.6v1.9h-23.6zM102.9 89.5h21.5v1.9h-21.5zM107.2 87.5h17.2v1.9h-17.2zM126.5 85.6h4.3v1.9h-4.3zM126.5 83.7h4.3v1.9h-4.3z" fill="#addd61"/><path d="M4.0 198.2h12.9v1.9h-12.9zM1.9 196.3h19.3v1.9h-19.3zM1.9 194.4h21.5v1.9h-21.5zM6.2 192.5h17.2v1.9h-17.2zM6.2 190.6h19.3v1.9h-19.3zM6.2 188.7h21.5v1.9h-21.5zM6.2 186.8h23.6v1.9h-23.6zM6.2 184.8h25.8v1.9h-25.8zM6.2 182.9h25.8v1.9h-25.8zM6.2 181.0h27.9v1.9h-27.9zM8.3 179.1h30.1v1.9h-30.1zM8.3 177.2h32.2v1.9h-32.2zM8.3 175.3h34.4v1.9h-34.4zM8.3 173.4h36.5v1.9h-36.5zM8.3 171.5h38.7v1.9h-38.7zM10.5 169.6h36.5v1.9h-36.5zM10.5 167.7h38.7v1.9h-38.7zM12.6 165.8h38.7v1.9h-38.7zM12.6 163.9h40.8v1.9h-40.8zM14.8 162.0h40.8v1.9h-40.8zM16.9 160.0h40.8v1.9h-40.8zM19.1 158.1h40.8v1.9h-40.8zM19.1 156.2h43.0v1.9h-43.0zM21.2 154.3h43.0v1.9h-43.0zM23.4 152.4h45.1v1.9h-45.1zM25.5 150.5h45.1v1.9h-45.1zM27.7 148.6h45.1v1.9h-45.1zM32.0 146.7h43.0v1.9h-43.0zM32.0 144.8h43.0v1.9h-43.0zM36.3 142.9h40.8v1.9h-40.8zM38.4 141.0h40.8v1.9h-40.8zM40.6 139.1h38.7v1.9h-38.7zM40.6 137.2h40.8v1.9h-40.8zM42.7 135.2h40.8v1.9h-40.8zM44.9 133.3h40.8v1.9h-40.8zM47.0 131.4h40.8v1.9h-40.8zM51.3 129.5h38.7v1.9h-38.7zM51.3 127.6h40.8v1.9h-40.8zM53.5 125.7h40.8v1.9h-40.8zM55.6 123.8h38.7v1.9h-38.7zM59.9 121.9h36.5v1.9h-36.5zM62.0 120.0h36.5v1.9h-36.5zM64.2 118.1h36.5v1.9h-36.5zM66.3 116.2h36.5v1.9h-36.5zM70.6 114.3h34.4v1.9h-34.4zM72.8 112.3h34.4v1.9h-34.4zM72.8 110.4h36.5v1.9h-36.5zM74.9 108.5h34.4v1.9h-34.4zM77.1 106.6h32.2v1.9h-32.2zM81.4 104.7h30.1v1.9h-30.1zM83.5 102.8h30.1v1.9h-30.1zM87.8 100.9h27.9v1.9h-27.9zM90.0 99.0h27.9v1.9h-27.9zM92.1 97.1h25.8v1.9h-25.8zM94.3 95.2h23.6v1.9h-23.6zM98.6 93.3h19.3v1.9h-19.3zM100.7 91.4h17.2v1.9h-17.2zM107.2 89.5h8.6v1.9h-8.6z" fill="#bde05d"/><path d="M6.2 198.2h10.7v1.9h-10.7zM4.0 196.3h15.0v1.9h-15.0zM6.2 194.4h15.0v1.9h-15.0zM6.2 192.5h17.2v1.9h-17.2zM8.3 190.6h15.0v1.9h-15.0zM8.3 188.7h17.2v1.9h-17.2zM6.2 186.8h21.5v1.9h-21.5zM8.3 184.8h21.5v1.9h-21.5zM8.3 182.9h23.6v1.9h-23.6zM8.3 181.0h25.8v1.9h-25.8zM8.3 179.1h27.9v1.9h-27.9zM8.3 177.2h32.2v1.9h-32.2zM8.3 175.3h34.4v1.9h-34.4zM8.3 173.4h36.5v1.9h-36.5zM8.3 171.5h36.5v1.9h-36.5zM10.5 169.6h36.5v1.9h-36.5zM10.5 167.7h36.5v1.9h-36.5zM12.6 165.8h36.5v1.9h-36.5zM14.8 163.9h36.5v1.9h-36.5zM14.8 162.0h40.8v1.9h-40.8zM16.9 160.0h40.8v1.9h-40.8zM19.1 158.1h40.8v1.9h-40.8zM21.2 156.2h40.8v1.9h-40.8zM23.4 154.3h40.8v1.9h-40.8zM25.5 152.4h40.8v1.9h-40.8zM27.7 150.5h43.0v1.9h-43.0zM29.8 148.6h40.8v1.9h-40.8zM32.0 146.7h40.8v1.9h-40.8zM34.1 144.8h40.8v1.9h-40.8zM36.3 142.9h40.8v1.9h-40.8zM38.4 141.0h38.7v1.9h-38.7zM40.6 139.1h38.7v1.9h-38.7zM42.7 137.2h38.7v1.9h-38.7zM44.9 135.2h38.7v1.9h-38.7zM47.0 133.3h38.7v1.9h-38.7zM49.2 131.4h36.5v1.9h-36.5zM51.3 129.5h38.7v1.9h-38.7zM53.5 127.6h38.7v1.9h-38.7zM55.6 125.7h36.5v1.9h-36.5zM57.8 123.8h36.5v1.9h-36.5zM59.9 121.9h34.4v1.9h-34.4zM62.0 120.0h34.4v1.9h-34.4zM64.2 118.1h34.4v1.9h-34.4zM68.5 116.2h34.4v1.9h-34.4zM70.6 114.3h34.4v1.9h-34.4zM72.8 112.3h34.4v1.9h-34.4zM74.9 110.4h32.2v1.9h-32.2zM77.1 108.5h30.1v1.9h-30.1zM79.2 106.6h30.1v1.9h-30.1zM81.4 104.7h27.9v1.9h-27.9zM85.7 102.8h27.9v1.9h-27.9zM90.0 100.9h23.6v1.9h-23.6zM92.1 99.0h23.6v1.9h-23.6zM94.3 97.1h23.6v1.9h-23.6zM96.4 95.2h21.5v1.9h-21.5zM100.7 93.3h15.0v1.9h-15.0zM107.2 91.4h6.4v1.9h-6.4z" fill="#ccdf58"/><path d="M8.3 198.2h6.4v1.9h-6.4zM6.2 196.3h10.7v1.9h-10.7zM6.2 194.4h15.0v1.9h-15.0zM8.3 192.5h12.9v1.9h-12.9zM8.3 190.6h15.0v1.9h-15.0zM8.3 188.7h17.2v1.9h-17.2zM8.3 186.8h19.3v1.9h-19.3zM8.3 184.8h21.5v1.9h-21.5zM8.3 182.9h23.6v1.9h-23.6zM8.3 181.0h25.8v1.9h-25.8zM8.3 179.1h27.9v1.9h-27.9zM8.3 177.2h30.1v1.9h-30.1zM8.3 175.3h32.2v1.9h-32.2zM10.5 173.4h32.2v1.9h-32.2zM10.5 171.5h34.4v1.9h-34.4zM10.5 169.6h34.4v1.9h-34.4zM12.6 167.7h34.4v1.9h-34.4zM12.6 165.8h36.5v1.9h-36.5zM14.8 163.9h36.5v1.9h-36.5zM16.9 162.0h36.5v1.9h-36.5zM16.9 160.0h38.7v1.9h-38.7zM19.1 158.1h38.7v1.9h-38.7zM21.2 156.2h38.7v1.9h-38.7zM23.4 154.3h38.7v1.9h-38.7zM25.5 152.4h38.7v1.9h-38.7zM27.7 150.5h40.8v1.9h-40.8zM29.8 148.6h40.8v1.9h-40.8zM32.0 146.7h40.8v1.9h-40.8zM34.1 144.8h40.8v1.9h-40.8zM38.4 142.9h36.5v1.9h-36.5zM40.6 141.0h36.5v1.9h-36.5zM42.7 139.1h36.5v1.9h-36.5zM42.7 137.2h36.5v1.9h-36.5zM44.9 135.2h36.5v1.9h-36.5zM47.0 133.3h36.5v1.9h-36.5zM49.2 131.4h36.5v1.9h-36.5zM51.3 129.5h36.5v1.9h-36.5zM53.5 127.6h36.5v1.9h-36.5zM55.6 125.7h36.5v1.9h-36.5zM57.8 123.8h34.4v1.9h-34.4zM59.9 121.9h34.4v1.9h-34.4zM62.0 120.0h34.4v1.9h-34.4zM66.3 118.1h30.1v1.9h-30.1zM70.6 116.2h27.9v1.9h-27.9zM72.8 114.3h30.1v1.9h-30.1zM72.8 112.3h32.2v1.9h-32.2zM74.9 110.4h32.2v1.9h-32.2zM77.1 108.5h30.1v1.9h-30.1zM81.4 106.6h25.8v1.9h-25.8zM83.5 104.7h25.8v1.9h-25.8zM85.7 102.8h23.6v1.9h-23.6zM92.1 100.9h19.3v1.9h-19.3zM94.3 99.0h19.3v1.9h-19.3zM96.4 97.1h19.3v1.9h-19.3zM98.6 95.2h17.2v1.9h-17.2z" fill="#d8da53"/><path d="M8.3 196.3h6.4v1.9h-6.4zM8.3 194.4h10.7v1.9h-10.7zM8.3 192.5h12.9v1.9h-12.9zM10.5 190.6h12.9v1.9h-12.9zM8.3 188.7h15.0v1.9h-15.0zM8.3 186.8h17.2v1.9h-17.2zM8.3 184.8h19.3v1.9h-19.3zM8.3 182.9h21.5v1.9h-21.5zM10.5 181.0h21.5v1.9h-21.5zM10.5 179.1h23.6v1.9h-23.6zM10.5 177.2h27.9v1.9h-27.9zM10.5 175.3h30.1v1.9h-30.1zM10.5 173.4h32.2v1.9h-32.2zM10.5 171.5h32.2v1.9h-32.2zM10.5 169.6h34.4v1.9h-34.4zM12.6 167.7h34.4v1.9h-34.4zM14.8 165.8h32.2v1.9h-32.2zM14.8 163.9h34.4v1.9h-34.4zM16.9 162.0h34.4v1.9h-34.4zM19.1 160.0h36.5v1.9h-36.5zM21.2 158.1h36.5v1.9h-36.5zM23.4 156.2h36.5v1.9h-36.5zM25.5 154.3h36.5v1.9h-36.5zM27.7 152.4h36.5v1.9h-36.5zM29.8 150.5h36.5v1.9h-36.5zM32.0 148.6h38.7v1.9h-38.7zM34.1 146.7h36.5v1.9h-36.5zM36.3 144.8h36.5v1.9h-36.5zM38.4 142.9h36.5v1.9h-36.5zM42.7 141.0h34.4v1.9h-34.4zM42.7 139.1h34.4v1.9h-34.4zM44.9 137.2h34.4v1.9h-34.4zM47.0 135.2h34.4v1.9h-34.4zM49.2 133.3h34.4v1.9h-34.4zM51.3 131.4h32.2v1.9h-32.2zM53.5 129.5h32.2v1.9h-32.2zM55.6 127.6h32.2v1.9h-32.2zM57.8 125.7h32.2v1.9h-32.2zM59.9 123.8h32.2v1.9h-32.2zM62.0 121.9h30.1v1.9h-30.1zM64.2 120.0h30.1v1.9h-30.1zM66.3 118.1h30.1v1.9h-30.1zM70.6 116.2h25.8v1.9h-25.8zM72.8 114.3h27.9v1.9h-27.9zM74.9 112.3h27.9v1.9h-27.9zM77.1 110.4h27.9v1.9h-27.9zM79.2 108.5h25.8v1.9h-25.8zM81.4 106.6h25.8v1.9h-25.8zM85.7 104.7h21.5v1.9h-21.5zM87.8 102.8h19.3v1.9h-19.3zM94.3 100.9h12.9v1.9h-12.9zM96.4 99.0h8.6v1.9h-8.6zM100.7 97.1h2.1v1.9h-2.1z" fill="#e4d54e"/><path d="M10.5 196.3h2.1v1.9h-2.1zM10.5 194.4h4.3v1.9h-4.3zM10.5 192.5h8.6v1.9h-8.6zM10.5 190.6h10.7v1.9h-10.7zM10.5 188.7h12.9v1.9h-12.9zM10.5 186.8h15.0v1.9h-15.0zM10.5 184.8h17.2v1.9h-17.2zM10.5 182.9h19.3v1.9h-19.3zM10.5 181.0h21.5v1.9h-21.5zM10.5 179.1h23.6v1.9h-23.6zM10.5 177.2h25.8v1.9h-25.8zM10.5 175.3h27.9v1.9h-27.9zM10.5 173.4h30.1v1.9h-30.1zM10.5 171.5h32.2v1.9h-32.2zM12.6 169.6h32.2v1.9h-32.2zM12.6 167.7h32.2v1.9h-32.2zM14.8 165.8h32.2v1.9h-32.2zM16.9 163.9h32.2v1.9h-32.2zM16.9 162.0h34.4v1.9h-34.4zM19.1 160.0h34.4v1.9h-34.4zM21.2 158.1h34.4v1.9h-34.4zM23.4 156.2h36.5v1.9h-36.5zM25.5 154.3h36.5v1.9h-36.5zM27.7 152.4h34.4v1.9h-34.4zM29.8 150.5h34.4v1.9h-34.4zM32.0 148.6h36.5v1.9h-36.5zM34.1 146.7h36.5v1.9h-36.5zM38.4 144.8h34.4v1.9h-34.4zM40.6 142.9h34.4v1.9h-34.4zM42.7 141.0h32.2v1.9h-32.2zM44.9 139.1h32.2v1.9h-32.2zM44.9 137.2h32.2v1.9h-32.2zM47.0 135.2h32.2v1.9h-32.2zM49.2 133.3h32.2v1.9h-32.2zM51.3 131.4h32.2v1.9h-32.2zM53.5 129.5h32.2v1.9h-32.2zM55.6 127.6h32.2v1.9h-32.2zM57.8 125.7h32.2v1.9h-32.2zM59.9 123.8h30.1v1.9h-30.1zM62.0 121.9h30.1v1.9h-30.1zM66.3 120.0h25.8v1.9h-25.8zM68.5 118.1h25.8v1.9h-25.8zM72.8 116.2h23.6v1.9h-23.6zM74.9 114.3h23.6v1.9h-23.6zM74.9 112.3h25.8v1.9h-25.8zM79.2 110.4h23.6v1.9h-23.6zM81.4 108.5h23.6v1.9h-23.6zM83.5 106.6h21.5v1.9h-21.5zM85.7 104.7h19.3v1.9h-19.3zM92.1 102.8h12.9v1.9h-12.9zM96.4 100.9h6.4v1.9h-6.4z" fill="#f0d049"/><path d="M12.6 190.6h6.4v1.9h-6.4zM10.5 188.7h10.7v1.9h-10.7zM10.5 186.8h12.9v1.9h-12.9zM10.5 184.8h15.0v1.9h-15.0zM10.5 182.9h17.2v1.9h-17.2zM10.5 181.0h19.3v1.9h-19.3zM10.5 179.1h21.5v1.9h-21.5zM10.5 177.2h23.6v1.9h-23.6zM10.5 175.3h27.9v1.9h-27.9zM10.5 173.4h30.1v1.9h-30.1zM12.6 171.5h30.1v1.9h-30.1zM12.6 169.6h30.1v1.9h-30.1zM14.8 167.7h30.1v1.9h-30.1zM14.8 165.8h32.2v1.9h-32.2zM16.9 163.9h32.2v1.9h-32.2zM19.1 162.0h30.1v1.9h-30.1zM21.2 160.0h30.1v1.9h-30.1zM21.2 158.1h34.4v1.9h-34.4zM23.4 156.2h34.4v1.9h-34.4zM25.5 154.3h34.4v1.9h-34.4zM27.7 152.4h34.4v1.9h-34.4zM32.0 150.5h32.2v1.9h-32.2zM34.1 148.6h32.2v1.9h-32.2zM36.3 146.7h32.2v1.9h-32.2zM38.4 144.8h32.2v1.9h-32.2zM42.7 142.9h30.1v1.9h-30.1zM44.9 141.0h30.1v1.9h-30.1zM44.9 139.1h30.1v1.9h-30.1zM47.0 137.2h30.1v1.9h-30.1zM49.2 135.2h30.1v1.9h-30.1zM51.3 133.3h30.1v1.9h-30.1zM53.5 131.4h27.9v1.9h-27.9zM55.6 129.5h27.9v1.9h-27.9zM57.8 127.6h27.9v1.9h-27.9zM59.9 125.7h27.9v1.9h-27.9zM62.0 123.8h27.9v1.9h-27.9zM64.2 121.9h25.8v1.9h-25.8zM66.3 120.0h25.8v1.9h-25.8zM70.6 118.1h21.5v1.9h-21.5zM72.8 116.2h21.5v1.9h-21.5zM74.9 114.3h21.5v1.9h-21.5zM77.1 112.3h21.5v1.9h-21.5zM79.2 110.4h21.5v1.9h-21.5zM83.5 108.5h19.3v1.9h-19.3zM85.7 106.6h17.2v1.9h-17.2zM87.8 104.7h15.0v1.9h-15.0zM94.3 102.8h6.4v1.9h-6.4z" fill="#f8c644"/><path d="M14.8 190.6h4.3v1.9h-4.3zM12.6 188.7h8.6v1.9h-8.6zM12.6 186.8h8.6v1.9h-8.6zM12.6 184.8h10.7v1.9h-10.7zM12.6 182.9h15.0v1.9h-15.0zM12.6 181.0h17.2v1.9h-17.2zM12.6 179.1h19.3v1.9h-19.3zM12.6 177.2h21.5v1.9h-21.5zM12.6 175.3h23.6v1.9h-23.6zM12.6 173.4h25.8v1.9h-25.8zM12.6 171.5h27.9v1.9h-27.9zM14.8 169.6h27.9v1.9h-27.9zM14.8 167.7h27.9v1.9h-27.9zM16.9 165.8h27.9v1.9h-27.9zM19.1 163.9h27.9v1.9h-27.9zM19.1 162.0h30.1v1.9h-30.1zM21.2 160.0h30.1v1.9h-30.1zM23.4 158.1h30.1v1.9h-30.1zM25.5 156.2h30.1v1.9h-30.1zM27.7 154.3h32.2v1.9h-32.2zM29.8 152.4h32.2v1.9h-32.2zM32.0 150.5h30.1v1.9h-30.1zM34.1 148.6h30.1v1.9h-30.1zM38.4 146.7h30.1v1.9h-30.1zM40.6 144.8h30.1v1.9h-30.1zM42.7 142.9h30.1v1.9h-30.1zM44.9 141.0h27.9v1.9h-27.9zM47.0 139.1h27.9v1.9h-27.9zM49.2 137.2h27.9v1.9h-27.9zM51.3 135.2h25.8v1.9h-25.8zM53.5 133.3h25.8v1.9h-25.8zM53.5 131.4h27.9v1.9h-27.9zM55.6 129.5h25.8v1.9h-25.8zM57.8 127.6h25.8v1.9h-25.8zM59.9 125.7h25.8v1.9h-25.8zM64.2 123.8h23.6v1.9h-23.6zM66.3 121.9h23.6v1.9h-23.6zM68.5 120.0h21.5v1.9h-21.5zM72.8 118.1h19.3v1.9h-19.3zM74.9 116.2h17.2v1.9h-17.2zM77.1 114.3h17.2v1.9h-17.2zM79.2 112.3h17.2v1.9h-17.2zM81.4 110.4h15.0v1.9h-15.0zM85.7 108.5h12.9v1.9h-12.9zM87.8 106.6h12.9v1.9h-12.9zM94.3 104.7h4.3v1.9h-4.3z" fill="#f6b33e"/><path d="M14.8 188.7h4.3v1.9h-4.3zM12.6 186.8h8.6v1.9h-8.6zM12.6 184.8h10.7v1.9h-10.7zM12.6 182.9h12.9v1.9h-12.9zM12.6 181.0h15.0v1.9h-15.0zM12.6 179.1h17.2v1.9h-17.2zM12.6 177.2h19.3v1.9h-19.3zM12.6 175.3h21.5v1.9h-21.5zM12.6 173.4h23.6v1.9h-23.6zM14.8 171.5h25.8v1.9h-25.8zM14.8 169.6h25.8v1.9h-25.8zM16.9 167.7h25.8v1.9h-25.8zM16.9 165.8h27.9v1.9h-27.9zM19.1 163.9h27.9v1.9h-27.9zM21.2 162.0h25.8v1.9h-25.8zM23.4 160.0h25.8v1.9h-25.8zM23.4 158.1h27.9v1.9h-27.9zM27.7 156.2h25.8v1.9h-25.8zM27.7 154.3h30.1v1.9h-30.1zM32.0 152.4h27.9v1.9h-27.9zM34.1 150.5h27.9v1.9h-27.9zM36.3 148.6h27.9v1.9h-27.9zM38.4 146.7h27.9v1.9h-27.9zM42.7 144.8h25.8v1.9h-25.8zM44.9 142.9h25.8v1.9h-25.8zM47.0 141.0h25.8v1.9h-25.8zM47.0 139.1h25.8v1.9h-25.8zM49.2 137.2h25.8v1.9h-25.8zM51.3 135.2h25.8v1.9h-25.8zM53.5 133.3h25.8v1.9h-25.8zM55.6 131.4h23.6v1.9h-23.6zM57.8 129.5h23.6v1.9h-23.6zM59.9 127.6h23.6v1.9h-23.6zM62.0 125.7h23.6v1.9h-23.6zM64.2 123.8h21.5v1.9h-21.5zM66.3 121.9h21.5v1.9h-21.5zM70.6 120.0h17.2v1.9h-17.2zM74.9 118.1h15.0v1.9h-15.0zM77.1 116.2h15.0v1.9h-15.0zM79.2 114.3h12.9v1.9h-12.9zM81.4 112.3h10.7v1.9h-10.7zM85.7 110.4h8.6v1.9h-8.6z" fill="#f4a038"/><path d="M14.8 186.8h4.3v1.9h-4.3zM14.8 184.8h6.4v1.9h-6.4zM14.8 182.9h8.6v1.9h-8.6zM14.8 181.0h12.9v1.9h-12.9zM14.8 179.1h15.0v1.9h-15.0zM12.6 177.2h17.2v1.9h-17.2zM12.6 175.3h19.3v1.9h-19.3zM14.8 173.4h21.5v1.9h-21.5zM14.8 171.5h23.6v1.9h-23.6zM14.8 169.6h25.8v1.9h-25.8zM16.9 167.7h25.8v1.9h-25.8zM19.1 165.8h23.6v1.9h-23.6zM21.2 163.9h23.6v1.9h-23.6zM21.2 162.0h25.8v1.9h-25.8zM23.4 160.0h23.6v1.9h-23.6zM25.5 158.1h23.6v1.9h-23.6zM27.7 156.2h23.6v1.9h-23.6zM29.8 154.3h23.6v1.9h-23.6zM32.0 152.4h25.8v1.9h-25.8zM36.3 150.5h23.6v1.9h-23.6zM38.4 148.6h23.6v1.9h-23.6zM40.6 146.7h23.6v1.9h-23.6zM44.9 144.8h21.5v1.9h-21.5zM47.0 142.9h21.5v1.9h-21.5zM47.0 141.0h23.6v1.9h-23.6zM49.2 139.1h23.6v1.9h-23.6zM51.3 137.2h23.6v1.9h-23.6zM53.5 135.2h21.5v1.9h-21.5zM55.6 133.3h21.5v1.9h-21.5zM55.6 131.4h23.6v1.9h-23.6zM57.8 129.5h21.5v1.9h-21.5zM59.9 127.6h21.5v1.9h-21.5zM64.2 125.7h19.3v1.9h-19.3zM66.3 123.8h19.3v1.9h-19.3zM68.5 121.9h17.2v1.9h-17.2zM72.8 120.0h15.0v1.9h-15.0zM77.1 118.1h10.7v1.9h-10.7zM79.2 116.2h10.7v1.9h-10.7zM81.4 114.3h8.6v1.9h-8.6zM83.5 112.3h6.4v1.9h-6.4z" fill="#f38c32"/><path d="M16.9 184.8h2.1v1.9h-2.1zM14.8 182.9h6.4v1.9h-6.4zM14.8 181.0h10.7v1.9h-10.7zM14.8 179.1h12.9v1.9h-12.9zM14.8 177.2h15.0v1.9h-15.0zM14.8 175.3h17.2v1.9h-17.2zM14.8 173.4h19.3v1.9h-19.3zM14.8 171.5h21.5v1.9h-21.5zM16.9 169.6h21.5v1.9h-21.5zM19.1 167.7h21.5v1.9h-21.5zM21.2 165.8h21.5v1.9h-21.5zM21.2 163.9h23.6v1.9h-23.6zM23.4 162.0h21.5v1.9h-21.5zM25.5 160.0h21.5v1.9h-21.5zM27.7 158.1h21.5v1.9h-21.5zM29.8 156.2h21.5v1.9h-21.5zM32.0 154.3h19.3v1.9h-19.3zM34.1 152.4h19.3v1.9h-19.3zM36.3 150.5h23.6v1.9h-23.6zM40.6 148.6h21.5v1.9h-21.5zM42.7 146.7h19.3v1.9h-19.3zM47.0 144.8h19.3v1.9h-19.3zM49.2 142.9h19.3v1.9h-19.3zM51.3 141.0h19.3v1.9h-19.3zM51.3 139.1h19.3v1.9h-19.3zM53.5 137.2h19.3v1.9h-19.3zM53.5 135.2h21.5v1.9h-21.5zM55.6 133.3h19.3v1.9h-19.3zM57.8 131.4h19.3v1.9h-19.3zM59.9 129.5h19.3v1.9h-19.3zM64.2 127.6h15.0v1.9h-15.0zM66.3 125.7h15.0v1.9h-15.0zM68.5 123.8h15.0v1.9h-15.0zM72.8 121.9h10.7v1.9h-10.7zM77.1 120.0h6.4v1.9h-6.4zM79.2 118.1h6.4v1.9h-6.4zM81.4 116.2h4.3v1.9h-4.3zM83.5 114.3h2.1v1.9h-2.1z" fill="#ef7930"/><path d="M16.9 181.0h6.4v1.9h-6.4zM16.9 179.1h8.6v1.9h-8.6zM14.8 177.2h12.9v1.9h-12.9zM14.8 175.3h15.0v1.9h-15.0zM16.9 173.4h15.0v1.9h-15.0zM16.9 171.5h17.2v1.9h-17.2zM19.1 169.6h19.3v1.9h-19.3zM19.1 167.7h19.3v1.9h-19.3zM21.2 165.8h19.3v1.9h-19.3zM23.4 163.9h19.3v1.9h-19.3zM25.5 162.0h19.3v1.9h-19.3zM27.7 160.0h17.2v1.9h-17.2zM29.8 158.1h17.2v1.9h-17.2zM32.0 156.2h17.2v1.9h-17.2zM34.1 154.3h17.2v1.9h-17.2zM36.3 152.4h15.0v1.9h-15.0zM38.4 150.5h12.9v1.9h-12.9zM42.7 148.6h17.2v1.9h-17.2zM47.0 146.7h15.0v1.9h-15.0zM49.2 144.8h15.0v1.9h-15.0zM51.3 142.9h15.0v1.9h-15.0zM53.5 141.0h15.0v1.9h-15.0zM53.5 139.1h17.2v1.9h-17.2zM55.6 137.2h17.2v1.9h-17.2zM55.6 135.2h17.2v1.9h-17.2zM55.6 133.3h19.3v1.9h-19.3zM57.8 131.4h17.2v1.9h-17.2zM62.0 129.5h15.0v1.9h-15.0zM68.5 127.6h8.6v1.9h-8.6zM70.6 125.7h6.4v1.9h-6.4z" fill="#ea652d"/><path d="M19.1 179.1h4.3v1.9h-4.3zM16.9 177.2h8.6v1.9h-8.6zM16.9 175.3h10.7v1.9h-10.7zM16.9 173.4h12.9v1.9h-12.9zM19.1 171.5h12.9v1.9h-12.9zM19.1 169.6h15.0v1.9h-15.0zM21.2 167.7h15.0v1.9h-15.0zM23.4 165.8h15.0v1.9h-15.0zM25.5 163.9h15.0v1.9h-15.0zM25.5 162.0h17.2v1.9h-17.2zM29.8 160.0h15.0v1.9h-15.0zM32.0 158.1h12.9v1.9h-12.9zM34.1 156.2h12.9v1.9h-12.9zM36.3 154.3h12.9v1.9h-12.9zM38.4 152.4h10.7v1.9h-10.7zM40.6 150.5h8.6v1.9h-8.6zM55.6 148.6h2.1v1.9h-2.1zM53.5 146.7h6.4v1.9h-6.4zM53.5 144.8h8.6v1.9h-8.6zM53.5 142.9h10.7v1.9h-10.7zM55.6 141.0h10.7v1.9h-10.7zM55.6 139.1h12.9v1.9h-12.9zM55.6 137.2h15.0v1.9h-15.0zM55.6 135.2h17.2v1.9h-17.2zM57.8 133.3h15.0v1.9h-15.0zM59.9 131.4h12.9v1.9h-12.9zM68.5 129.5h4.3v1.9h-4.3z" fill="#e6522a"/><path d="M19.1 177.2h4.3v1.9h-4.3zM19.1 175.3h6.4v1.9h-6.4zM19.1 173.4h6.4v1.9h-6.4zM21.2 171.5h6.4v1.9h-6.4zM21.2 169.6h10.7v1.9h-10.7zM23.4 167.7h8.6v1.9h-8.6zM25.5 165.8h8.6v1.9h-8.6zM27.7 163.9h8.6v1.9h-8.6zM29.8 162.0h8.6v1.9h-8.6zM32.0 160.0h8.6v1.9h-8.6zM34.1 158.1h8.6v1.9h-8.6zM36.3 156.2h8.6v1.9h-8.6zM38.4 154.3h8.6v1.9h-8.6zM40.6 152.4h6.4v1.9h-6.4zM55.6 144.8h4.3v1.9h-4.3zM57.8 142.9h2.1v1.9h-2.1zM57.8 141.0h6.4v1.9h-6.4zM57.8 139.1h8.6v1.9h-8.6zM57.8 137.2h8.6v1.9h-8.6zM57.8 135.2h10.7v1.9h-10.7zM59.9 133.3h10.7v1.9h-10.7z" fill="#e23e28"/></g><g transform="scale(0.25)" fill="none" stroke-width="7.4" stroke-linecap="round"><path d="M272 334h.4M45 566h.4M873 126h.4M421 175h.4M275 726h.4M217 742h.4M377 234h.4M486 529h.4M357 666h.4M67 548h.4M263 306h.4M193 791h.4M381 310h.4M60 546h.4M358 614h.4M247 755h.4M862 95h.4M323 258h.4M408 703h.4M235 796h.4M76 504h.4M203 425h.4M185 426h.4M90 490h.4M327 312h.4M91 517h.4M317 645h.4M90 527h.4M95 482h.4M130 483h.4M87 504h.4M149 409h.4M343 645h.4M378 627h.4M88 502h.4M241 748h.4M46 541h.4M109 425h.4M346 619h.4M261 282h.4M204 763h.4M61 488h.4M23 593h.4M486 633h.4M185 776h.4M328 644h.4M260 726h.4M227 777h.4M350 320h.4M177 379h.4M378 630h.4M302 277h.4M430 579h.4M237 353h.4M265 349h.4M360 314h.4M287 358h.4M178 455h.4M337 744h.4M275 314h.4M421 249h.4M233 755h.4M378 295h.4M383 684h.4M351 203h.4M253 743h.4M426 549h.4M469 521h.4M468 251h.4M20 605h.4M390 246h.4M192 419h.4M496 489h.4M259 368h.4M197 408h.4M123 390h.4M265 795h.4M450 140h.4M409 255h.4M190 784h.4M509 519h.4M103 500h.4M341 230h.4M220 361h.4M514 581h.4M417 236h.4M389 617h.4M391 606h.4M187 439h.4M564 418h.4M441 544h.4M438 534h.4M249 265h.4M386 257h.4M386 623h.4M449 227h.4M490 493h.4M502 218h.4M254 727h.4M340 646h.4M234 732h.4M186 415h.4M213 777h.4M137 463h.4M645 174h.4M240 394h.4M409 611h.4M221 798h.4M696 297h.4M683 353h.4M665 315h.4M657 174h.4M594 136h.4M317 801h.4M855 162h.4M228 751h.4M827 194h.4M541 222h.4M611 391h.4M600 406h.4M860 139h.4M880 56h.4M273 709h.4M673 151h.4M883 112h.4M507 170h.4M318 681h.4M295 688h.4M706 74h.4M877 185h.4M677 354h.4M632 389h.4M640 165h.4M532 224h.4M813 213h.4M640 377h.4M324 656h.4M870 200h.4M627 174h.4M736 139h.4M726 118h.4M600 195h.4M556 183h.4M852 22h.4M445 258h.4M798 96h.4M742 120h.4M434 556h.4M259 324h.4M345 273h.4M563 450h.4M272 367h.4M581 574h.4M769 44h.4M631 479h.4M776 277h.4M712 131h.4M563 437h.4M886 105h.4M426 203h.4M573 434h.4M704 317h.4M455 208h.4M656 333h.4M870 174h.4M737 290h.4M683 126h.4M862 48h.4M846 103h.4M492 202h.4M823 201h.4M424 561h.4M663 172h.4M861 223h.4M290 688h.4M432 583h.4M631 369h.4M428 249h.4M830 113h.4M801 46h.4M461 229h.4M674 333h.4M380 595h.4M586 75h.4M510 487h.4M846 103h.4M775 120h.4M742 104h.4M376 243h.4M492 482h.4M681 28h.4M286 304h.4M830 86h.4M807 99h.4M751 119h.4M484 245h.4M342 643h.4M524 472h.4M299 663h.4M356 317h.4M756 293h.4M577 423h.4M570 428h.4M559 413h.4M623 400h.4M893 70h.4M890 108h.4M715 306h.4M873 87h.4M330 334h.4M716 136h.4M809 123h.4M871 103h.4M822 108h.4M757 104h.4M871 159h.4M785 114h.4M864 149h.4M795 121h.4M746 89h.4M559 165h.4M380 290h.4M817 70h.4M730 301h.4M868 50h.4M286 770h.4M690 134h.4M590 384h.4M379 220h.4M568 506h.4M513 514h.4M741 295h.4M441 555h.4M467 230h.4M643 426h.4M778 298h.4M599 451h.4M841 183h.4M783 242h.4M795 105h.4M786 134h.4M835 194h.4M802 277h.4M535 442h.4M809 224h.4M553 490h.4M792 397h.4M743 275h.4M629 165h.4M287 345h.4M317 322h.4M759 263h.4M731 96h.4M603 192h.4M765 263h.4M594 445h.4M634 361h.4M782 77h.4M469 254h.4M687 342h.4M603 173h.4M851 162h.4M829 113h.4M286 689h.4M651 353h.4M574 186h.4M822 66h.4M523 186h.4M872 72h.4M687 384h.4M296 322h.4M478 539h.4M1 572h.4M12 560h.4M16 554h.4M1 602h.4M3 609h.4M6 548h.4M1 609h.4M12 556h.4" stroke="#3e69a2"/><path d="M111 523h.4M313 358h.4M166 803h.4M301 364h.4M109 529h.4M216 728h.4M199 746h.4M94 540h.4M164 778h.4M75 554h.4M72 555h.4M275 370h.4M190 453h.4M177 485h.4M369 588h.4M196 466h.4M172 757h.4M222 426h.4M133 518h.4M54 580h.4M610 362h.4M218 731h.4M176 801h.4M305 349h.4M322 361h.4M211 448h.4M196 741h.4M515 233h.4M171 784h.4M318 344h.4M396 551h.4M142 514h.4M162 489h.4M183 753h.4M640 329h.4M182 761h.4M289 676h.4M158 491h.4M68 561h.4M144 512h.4M157 497h.4M149 509h.4M114 532h.4M306 342h.4M492 262h.4M499 239h.4M268 687h.4M436 529h.4M256 391h.4M177 489h.4M291 367h.4M374 317h.4M225 711h.4M342 339h.4M598 220h.4M398 555h.4M559 392h.4M335 337h.4M406 287h.4M17 623h.4M371 594h.4M317 362h.4M190 459h.4M286 366h.4M221 425h.4M178 793h.4M326 630h.4M411 295h.4M401 308h.4M443 521h.4M414 536h.4M434 531h.4M585 372h.4M479 508h.4M263 389h.4M172 806h.4M368 589h.4M304 355h.4M183 459h.4M409 276h.4M408 555h.4M622 202h.4M316 346h.4M368 594h.4M668 302h.4M385 572h.4M182 484h.4M401 286h.4M486 261h.4M186 452h.4M590 219h.4M670 301h.4M802 214h.4M658 194h.4M770 250h.4M608 360h.4M750 245h.4M472 489h.4M826 155h.4M802 206h.4M615 357h.4M579 387h.4M838 172h.4M645 315h.4M776 221h.4M703 294h.4M802 159h.4M776 143h.4M422 271h.4M831 150h.4M832 132h.4M709 151h.4M834 150h.4M840 167h.4M865 133h.4M247 707h.4M516 459h.4M407 292h.4M687 181h.4M770 247h.4M719 152h.4M753 234h.4M822 138h.4M707 288h.4M845 114h.4M760 254h.4M760 222h.4M708 157h.4M336 623h.4M685 181h.4M484 465h.4M731 156h.4M322 346h.4M425 264h.4M635 327h.4M794 154h.4M711 167h.4M851 132h.4M804 192h.4M829 180h.4M843 129h.4M770 141h.4M330 348h.4M503 239h.4M412 273h.4M849 119h.4M630 346h.4M463 271h.4M826 154h.4M766 134h.4M365 323h.4M422 281h.4M817 171h.4M760 233h.4M657 193h.4M674 182h.4M623 350h.4M721 282h.4M807 189h.4M288 683h.4M710 158h.4M809 186h.4M751 134h.4M603 203h.4M855 127h.4M783 218h.4M752 135h.4M828 130h.4M806 157h.4M654 176h.4" stroke="#447ca4"/><path d="M242 413h.4M200 739h.4M205 467h.4M471 467h.4M356 583h.4M398 319h.4M203 465h.4M395 322h.4M238 424h.4M220 438h.4M156 801h.4M98 549h.4M62 576h.4M148 520h.4M209 725h.4M74 564h.4M163 798h.4M296 382h.4M523 434h.4M354 344h.4M106 539h.4M265 678h.4M221 442h.4M412 304h.4M692 287h.4M465 474h.4M99 551h.4M249 404h.4M220 445h.4M148 771h.4M156 778h.4M460 486h.4M580 371h.4M160 807h.4M463 465h.4M233 703h.4M88 560h.4M68 566h.4M132 533h.4M160 769h.4M80 567h.4M129 532h.4M223 429h.4M453 282h.4M581 369h.4M423 294h.4M508 441h.4M231 421h.4M611 342h.4M460 481h.4M382 571h.4M234 413h.4M408 313h.4M584 361h.4M456 281h.4M425 287h.4M395 326h.4M339 605h.4M455 490h.4M500 463h.4M520 443h.4M339 598h.4M440 510h.4M292 381h.4M253 694h.4M468 506h.4M147 519h.4M44 616h.4M534 423h.4M616 214h.4M385 562h.4M463 281h.4M439 508h.4M370 565h.4M340 353h.4M269 399h.4M465 500h.4M159 759h.4M712 270h.4M367 583h.4M337 587h.4M459 504h.4M523 251h.4M453 295h.4M232 425h.4M479 468h.4M311 368h.4M159 510h.4M452 508h.4M507 450h.4M464 505h.4M280 652h.4M270 393h.4M191 734h.4M214 449h.4M621 210h.4M473 277h.4M382 332h.4M417 304h.4M770 159h.4M269 675h.4M798 199h.4M606 226h.4M444 293h.4M780 175h.4M746 166h.4M711 239h.4M734 169h.4M760 158h.4M749 155h.4M520 236h.4M597 224h.4M726 246h.4M394 534h.4M784 210h.4M799 164h.4M748 166h.4M645 198h.4M625 213h.4M422 285h.4M513 251h.4M626 211h.4M787 163h.4M432 520h.4M424 523h.4M425 512h.4M728 227h.4M718 222h.4M749 171h.4M620 225h.4M775 211h.4M728 168h.4M508 452h.4M793 183h.4M658 203h.4M480 460h.4M517 249h.4M498 459h.4M732 180h.4M821 163h.4M417 280h.4M784 168h.4M815 166h.4M259 402h.4M774 156h.4M727 253h.4M251 687h.4M339 601h.4M472 276h.4M526 429h.4M516 244h.4M608 344h.4M419 295h.4M782 158h.4M598 230h.4M760 168h.4M503 255h.4M627 322h.4M800 163h.4M705 269h.4M726 236h.4M670 292h.4M442 498h.4M432 302h.4M371 566h.4M739 218h.4M653 198h.4M596 229h.4M436 296h.4M521 249h.4M732 222h.4M525 432h.4M704 181h.4M721 247h.4M614 206h.4M729 256h.4M763 156h.4M450 493h.4M570 228h.4M762 145h.4M562 379h.4M772 152h.4M749 223h.4M702 188h.4M527 433h.4M564 383h.4M696 276h.4M819 160h.4M555 238h.4M721 175h.4M786 173h.4M502 265h.4M623 333h.4M391 550h.4M616 220h.4M757 210h.4M430 305h.4M722 183h.4M371 339h.4M761 213h.4M764 160h.4M554 390h.4M648 305h.4M492 271h.4M714 254h.4M786 199h.4M797 168h.4M790 192h.4M796 199h.4M780 202h.4M353 582h.4M720 167h.4M423 512h.4M723 226h.4M737 178h.4M773 184h.4M705 187h.4M641 212h.4M722 184h.4M455 510h.4M502 267h.4M811 166h.4M763 155h.4M660 298h.4M674 193h.4M688 195h.4M743 221h.4M361 340h.4M773 201h.4M746 155h.4M709 230h.4M745 172h.4M601 227h.4M338 599h.4M656 298h.4M630 211h.4M688 279h.4M702 182h.4M575 229h.4M8 628h.4M16 628h.4M8 631h.4" stroke="#4d92a1"/><path d="M616 240h.4M127 806h.4M367 346h.4M223 695h.4M152 765h.4M146 787h.4M376 564h.4M261 414h.4M232 692h.4M270 649h.4M258 666h.4M41 637h.4M47 620h.4M38 641h.4M310 619h.4M34 645h.4M250 429h.4M389 339h.4M211 716h.4M57 611h.4M138 785h.4M318 610h.4M170 507h.4M231 454h.4M213 713h.4M59 590h.4M179 735h.4M330 596h.4M227 457h.4M122 806h.4M120 804h.4M46 624h.4M50 623h.4M313 383h.4M137 770h.4M139 795h.4M91 575h.4M36 647h.4M246 690h.4M143 788h.4M186 726h.4M420 514h.4M148 793h.4M111 544h.4M202 724h.4M498 455h.4M150 761h.4M36 639h.4M210 476h.4M71 586h.4M161 747h.4M311 625h.4M245 432h.4M491 451h.4M516 261h.4M239 439h.4M202 483h.4M449 473h.4M480 449h.4M252 683h.4M172 509h.4M326 602h.4M208 472h.4M287 402h.4M707 216h.4M505 279h.4M515 261h.4M484 443h.4M731 188h.4M498 427h.4M222 466h.4M439 490h.4M708 260h.4M314 387h.4M357 357h.4M196 489h.4M454 309h.4M300 636h.4M637 223h.4M273 658h.4M307 392h.4M256 424h.4M501 276h.4M599 247h.4M135 804h.4M198 479h.4M252 676h.4M427 312h.4M143 800h.4M652 220h.4M337 586h.4M235 692h.4M553 259h.4M422 497h.4M164 511h.4M432 499h.4M323 386h.4M134 534h.4M8 653h.4M523 272h.4M597 248h.4M398 333h.4M551 254h.4M368 567h.4M498 444h.4M604 329h.4M520 252h.4M393 537h.4M257 416h.4M237 444h.4M680 228h.4M522 259h.4M61 592h.4M390 543h.4M279 399h.4M290 392h.4M653 225h.4M630 304h.4M709 257h.4M668 207h.4M238 441h.4M482 448h.4M661 289h.4M772 192h.4M610 331h.4M313 620h.4M621 323h.4M547 259h.4M524 421h.4M548 409h.4M645 230h.4M638 225h.4M506 456h.4M572 366h.4M615 325h.4M240 435h.4M707 214h.4M532 264h.4M249 423h.4M665 223h.4M699 253h.4M743 193h.4M389 544h.4M697 261h.4M698 203h.4M248 440h.4M477 287h.4M664 215h.4M730 206h.4M717 209h.4M543 407h.4M537 259h.4M574 239h.4M682 229h.4M655 219h.4M589 248h.4M730 210h.4M429 314h.4M559 249h.4M633 233h.4M679 199h.4M674 215h.4M751 182h.4M747 178h.4M715 205h.4M320 388h.4M689 217h.4M294 395h.4M533 419h.4M463 460h.4M694 214h.4M699 257h.4M264 675h.4M717 191h.4M741 200h.4M582 243h.4M581 241h.4M707 191h.4M723 204h.4M695 198h.4M710 224h.4M702 207h.4M500 444h.4M684 215h.4M681 279h.4M702 268h.4M627 231h.4M640 304h.4M281 399h.4M229 457h.4M310 625h.4M700 216h.4M556 257h.4M483 447h.4M436 495h.4M627 305h.4M585 242h.4M283 643h.4M704 198h.4M428 498h.4M473 284h.4M662 214h.4M699 239h.4M694 205h.4M519 423h.4M702 241h.4M512 271h.4M749 177h.4M705 206h.4M722 211h.4M683 229h.4M492 449h.4M748 183h.4M769 194h.4M733 205h.4M750 183h.4M614 241h.4M623 317h.4M688 240h.4M261 671h.4M493 449h.4M758 188h.4M300 394h.4M755 190h.4M671 278h.4M752 198h.4M646 213h.4M697 219h.4M670 215h.4M757 197h.4M475 283h.4M462 296h.4M251 418h.4M596 245h.4M237 428h.4M698 217h.4M672 206h.4M677 278h.4M709 255h.4M607 247h.4M526 263h.4M329 603h.4M735 202h.4M767 191h.4M557 248h.4M1 646h.4M2 659h.4M3 643h.4M2 633h.4M14 645h.4M12 659h.4M17 658h.4M3 639h.4M6 639h.4M5 650h.4M5 647h.4M1 650h.4" stroke="#57a79b"/><path d="M100 578h.4M530 283h.4M50 640h.4M133 775h.4M108 570h.4M96 572h.4M121 794h.4M435 325h.4M201 493h.4M121 785h.4M149 537h.4M177 514h.4M73 593h.4M127 800h.4M193 723h.4M156 747h.4M132 544h.4M136 796h.4M132 764h.4M152 748h.4M101 577h.4M128 788h.4M103 560h.4M280 415h.4M451 468h.4M219 688h.4M189 500h.4M141 536h.4M513 425h.4M136 794h.4M303 625h.4M64 616h.4M144 755h.4M80 585h.4M121 794h.4M175 517h.4M72 589h.4M220 476h.4M161 526h.4M263 654h.4M312 617h.4M662 240h.4M137 757h.4M216 697h.4M36 653h.4M68 593h.4M253 443h.4M262 657h.4M543 377h.4M265 648h.4M29 660h.4M527 274h.4M478 447h.4M343 367h.4M394 533h.4M316 392h.4M228 689h.4M537 399h.4M248 457h.4M60 614h.4M554 271h.4M357 568h.4M216 475h.4M200 488h.4M533 404h.4M526 405h.4M365 563h.4M589 347h.4M287 410h.4M253 659h.4M450 467h.4M243 451h.4M356 564h.4M242 675h.4M522 288h.4M442 318h.4M81 594h.4M339 375h.4M518 414h.4M586 345h.4M567 257h.4M248 443h.4M255 666h.4M510 283h.4M547 382h.4M322 598h.4M448 319h.4M433 326h.4M567 245h.4M211 709h.4M133 800h.4M400 522h.4M560 265h.4M471 290h.4M262 431h.4M380 347h.4M579 254h.4M507 423h.4M467 455h.4M537 390h.4M520 281h.4M61 600h.4M376 551h.4M364 351h.4M260 654h.4M367 354h.4M316 391h.4M452 316h.4M458 462h.4M130 787h.4M673 227h.4M574 253h.4M603 264h.4M667 248h.4M239 681h.4M235 682h.4M631 291h.4M585 347h.4M646 249h.4M614 255h.4M629 301h.4M586 262h.4M618 238h.4M683 252h.4M672 226h.4M495 296h.4M546 280h.4M550 366h.4M553 277h.4M614 312h.4M629 243h.4M253 658h.4M545 385h.4M466 454h.4M653 274h.4M527 281h.4M579 247h.4M410 328h.4M666 277h.4M675 258h.4M658 238h.4M629 242h.4M573 258h.4M683 261h.4M663 279h.4M665 273h.4M668 252h.4M531 413h.4M579 262h.4M238 674h.4M354 365h.4M248 454h.4M396 521h.4M601 262h.4M676 271h.4M408 503h.4M560 259h.4M566 253h.4M687 261h.4M572 249h.4M230 688h.4M661 257h.4M686 263h.4M328 386h.4M654 285h.4M664 277h.4M466 292h.4M611 255h.4M284 635h.4M255 443h.4M622 301h.4M635 238h.4M679 248h.4M625 309h.4M362 562h.4M286 633h.4M674 256h.4M681 257h.4M667 230h.4M494 290h.4M533 400h.4M609 258h.4M603 325h.4M350 371h.4M652 288h.4M647 283h.4M605 260h.4M656 237h.4M668 243h.4M618 316h.4M570 262h.4M686 255h.4M543 268h.4M645 283h.4M427 492h.4M424 321h.4M518 417h.4M546 375h.4M535 408h.4M671 254h.4M542 281h.4M349 570h.4M407 508h.4M572 248h.4M691 254h.4M319 595h.4M597 325h.4M626 303h.4M669 238h.4M465 291h.4M607 264h.4M673 266h.4M515 412h.4M395 519h.4M640 239h.4M530 411h.4M471 303h.4M601 320h.4M685 244h.4M358 361h.4M636 239h.4M260 652h.4M664 276h.4M657 238h.4M674 228h.4M611 264h.4M620 246h.4M635 240h.4M321 606h.4M515 278h.4M8 663h.4M4 666h.4M5 675h.4M15 669h.4M0 669h.4" stroke="#61bb94"/><path d="M127 556h.4M205 701h.4M172 520h.4M40 659h.4M341 382h.4M39 659h.4M528 390h.4M96 806h.4M99 803h.4M322 589h.4M511 415h.4M98 584h.4M52 636h.4M58 627h.4M74 612h.4M107 800h.4M200 497h.4M130 549h.4M299 409h.4M204 697h.4M57 636h.4M285 632h.4M252 451h.4M448 322h.4M193 714h.4M113 786h.4M153 544h.4M129 550h.4M116 787h.4M438 465h.4M134 759h.4M125 556h.4M97 593h.4M175 525h.4M110 574h.4M126 562h.4M140 751h.4M244 463h.4M70 617h.4M546 285h.4M381 535h.4M109 586h.4M345 558h.4M218 673h.4M206 695h.4M365 552h.4M559 358h.4M84 599h.4M77 600h.4M239 670h.4M116 557h.4M171 525h.4M201 700h.4M89 588h.4M542 287h.4M133 555h.4M283 415h.4M198 698h.4M177 522h.4M287 419h.4M146 740h.4M304 409h.4M520 297h.4M387 522h.4M79 599h.4M640 265h.4M610 309h.4M346 562h.4M120 557h.4M587 276h.4M487 432h.4M211 701h.4M401 503h.4M291 416h.4M112 797h.4M351 377h.4M593 314h.4M312 603h.4M422 484h.4M504 298h.4M208 699h.4M245 657h.4M396 510h.4M637 272h.4M509 293h.4M157 733h.4M516 291h.4M413 491h.4M614 280h.4M298 407h.4M404 337h.4M320 584h.4M515 396h.4M587 277h.4M284 414h.4M538 372h.4M324 401h.4M524 299h.4M149 746h.4M370 541h.4M601 308h.4M482 303h.4M269 633h.4M629 275h.4M219 485h.4M635 270h.4M207 689h.4M308 405h.4M470 312h.4M419 333h.4M311 599h.4M140 542h.4M472 306h.4M360 558h.4M503 297h.4M367 555h.4M69 596h.4M186 517h.4M125 558h.4M428 487h.4M536 375h.4M492 304h.4M624 266h.4M363 365h.4M232 470h.4M261 445h.4M433 477h.4M299 624h.4M260 448h.4M195 712h.4M403 500h.4M441 325h.4M328 392h.4M201 499h.4M140 541h.4M421 485h.4M518 290h.4M342 391h.4M527 398h.4M536 377h.4M458 316h.4M627 274h.4M589 273h.4M235 466h.4M507 410h.4M575 333h.4M557 358h.4M414 329h.4M607 270h.4M629 246h.4M647 267h.4M570 283h.4M612 283h.4M578 333h.4M635 269h.4M605 316h.4M570 355h.4M534 296h.4M304 410h.4M551 283h.4M606 317h.4M575 343h.4M639 263h.4M567 353h.4M628 281h.4M302 617h.4M556 360h.4M570 349h.4M344 560h.4M540 368h.4M638 244h.4M649 252h.4M239 468h.4M529 383h.4M377 361h.4M295 408h.4M271 432h.4M612 293h.4M484 303h.4M585 323h.4M577 339h.4M573 346h.4M648 266h.4M370 363h.4M631 250h.4M587 270h.4M497 299h.4M416 494h.4M640 280h.4M534 290h.4M569 282h.4M506 294h.4M443 465h.4M638 254h.4M624 291h.4M608 282h.4M599 273h.4M647 255h.4M628 282h.4M514 408h.4M508 302h.4M458 313h.4M556 361h.4M539 284h.4M643 287h.4M528 388h.4M616 284h.4M643 245h.4M651 252h.4M577 276h.4M591 322h.4M383 358h.4M524 401h.4M574 279h.4M567 346h.4M636 262h.4M609 315h.4M636 275h.4M396 516h.4M533 302h.4M643 253h.4M363 365h.4M518 293h.4M265 646h.4M608 286h.4M632 259h.4M592 280h.4M644 277h.4M481 431h.4M525 292h.4M340 385h.4M613 301h.4M576 279h.4M308 407h.4M509 303h.4M583 267h.4M518 303h.4M611 304h.4M623 273h.4M312 601h.4M387 524h.4M575 348h.4M594 278h.4M631 247h.4M301 603h.4M602 306h.4M622 277h.4M357 373h.4M466 446h.4M539 294h.4M235 666h.4M607 274h.4M350 377h.4M620 273h.4M628 268h.4M388 520h.4M5 683h.4M5 680h.4M3 684h.4M5 682h.4M2 683h.4M8 671h.4M7 693h.4M17 676h.4" stroke="#6dc784"/><path d="M191 512h.4M435 337h.4M95 602h.4M257 455h.4M111 578h.4M105 778h.4M205 682h.4M76 622h.4M120 567h.4M387 356h.4M443 331h.4M157 724h.4M547 310h.4M133 563h.4M56 643h.4M81 801h.4M80 607h.4M225 669h.4M74 623h.4M79 609h.4M123 571h.4M331 398h.4M164 528h.4M28 674h.4M126 759h.4M213 496h.4M97 601h.4M561 327h.4M580 298h.4M109 787h.4M32 674h.4M135 562h.4M108 592h.4M115 575h.4M108 789h.4M370 534h.4M496 319h.4M139 747h.4M274 630h.4M100 794h.4M480 421h.4M112 772h.4M101 794h.4M126 764h.4M84 607h.4M92 806h.4M455 322h.4M212 678h.4M136 561h.4M76 625h.4M425 336h.4M78 610h.4M180 713h.4M149 555h.4M189 697h.4M447 331h.4M60 631h.4M80 804h.4M100 596h.4M118 582h.4M432 472h.4M305 595h.4M278 628h.4M213 503h.4M124 565h.4M455 440h.4M451 332h.4M247 652h.4M511 384h.4M557 298h.4M435 467h.4M594 289h.4M486 323h.4M543 351h.4M597 309h.4M536 315h.4M428 478h.4M287 421h.4M562 306h.4M565 341h.4M444 333h.4M496 316h.4M26 673h.4M204 507h.4M418 338h.4M586 285h.4M511 389h.4M594 282h.4M113 774h.4M448 452h.4M449 450h.4M332 568h.4M518 370h.4M304 599h.4M264 450h.4M344 394h.4M328 402h.4M209 677h.4M270 445h.4M454 451h.4M290 622h.4M352 379h.4M577 286h.4M447 448h.4M482 417h.4M291 617h.4M427 341h.4M122 568h.4M484 423h.4M557 295h.4M464 324h.4M153 550h.4M468 317h.4M278 437h.4M219 488h.4M481 314h.4M228 481h.4M87 803h.4M305 415h.4M520 314h.4M300 601h.4M287 421h.4M332 399h.4M239 479h.4M182 525h.4M357 387h.4M532 309h.4M597 299h.4M480 319h.4M315 405h.4M471 319h.4M470 439h.4M574 289h.4M545 289h.4M224 486h.4M562 303h.4M481 322h.4M202 506h.4M236 477h.4M421 477h.4M554 302h.4M409 347h.4M579 320h.4M459 444h.4M455 442h.4M462 449h.4M190 514h.4M7 695h.4M331 571h.4M572 340h.4M328 566h.4M554 300h.4M565 320h.4M559 319h.4M486 314h.4M606 291h.4M603 297h.4M578 286h.4M585 306h.4M483 321h.4M482 326h.4M445 463h.4M466 428h.4M570 311h.4M551 349h.4M297 418h.4M581 313h.4M502 402h.4M600 305h.4M329 398h.4M278 438h.4M570 331h.4M552 319h.4M608 295h.4M422 339h.4M558 315h.4M546 290h.4M566 336h.4M598 301h.4M272 445h.4M534 305h.4M555 306h.4M574 334h.4M540 318h.4M472 432h.4M564 303h.4M484 315h.4M552 304h.4M521 368h.4M511 385h.4M297 426h.4M573 302h.4M467 436h.4M353 379h.4M330 565h.4M572 335h.4M518 309h.4M290 426h.4M509 386h.4M581 285h.4M500 312h.4M282 440h.4M567 329h.4M569 293h.4M388 351h.4M504 411h.4M559 302h.4M592 296h.4M559 318h.4M543 290h.4M560 296h.4M605 291h.4M574 289h.4M381 362h.4M423 479h.4M569 332h.4M553 291h.4M577 297h.4M475 431h.4M478 426h.4M513 394h.4M476 313h.4M423 339h.4M501 314h.4M227 484h.4M554 357h.4M473 431h.4M572 337h.4M248 472h.4M565 342h.4M505 306h.4M577 286h.4M374 537h.4M574 313h.4M455 443h.4M513 308h.4M561 326h.4M580 326h.4M595 294h.4M514 320h.4M549 357h.4M476 425h.4M536 314h.4M563 337h.4M503 398h.4M557 303h.4M575 291h.4M271 446h.4M559 301h.4M592 291h.4M515 373h.4M505 410h.4M251 644h.4M576 295h.4M558 343h.4M498 409h.4M485 412h.4M540 363h.4M580 323h.4M561 331h.4M595 297h.4M591 298h.4M446 447h.4M568 308h.4M540 365h.4M351 378h.4M577 314h.4M3 802h.4M5 802h.4M5 805h.4M2 694h.4M8 687h.4M8 690h.4M3 806h.4M11 688h.4M2 696h.4" stroke="#78d274"/><path d="M94 603h.4M291 441h.4M143 735h.4M354 389h.4M157 556h.4M352 547h.4M127 579h.4M492 380h.4M157 553h.4M64 801h.4M116 769h.4M28 686h.4M321 414h.4M147 563h.4M427 344h.4M272 624h.4M171 527h.4M261 626h.4M271 460h.4M105 771h.4M99 604h.4M226 657h.4M210 671h.4M214 496h.4M247 478h.4M40 677h.4M128 752h.4M153 559h.4M537 344h.4M160 552h.4M133 746h.4M142 569h.4M128 573h.4M92 794h.4M386 502h.4M369 380h.4M103 596h.4M99 781h.4M157 545h.4M230 658h.4M200 511h.4M115 591h.4M129 573h.4M137 737h.4M286 613h.4M161 556h.4M142 732h.4M226 656h.4M253 639h.4M151 727h.4M441 452h.4M268 623h.4M52 654h.4M196 690h.4M110 602h.4M348 545h.4M105 770h.4M95 789h.4M230 656h.4M26 806h.4M191 692h.4M284 427h.4M66 639h.4M497 396h.4M344 401h.4M292 433h.4M168 534h.4M61 805h.4M167 721h.4M420 349h.4M102 786h.4M125 585h.4M300 426h.4M69 802h.4M270 621h.4M94 785h.4M108 600h.4M356 534h.4M271 462h.4M238 651h.4M474 333h.4M15 709h.4M494 331h.4M463 328h.4M395 359h.4M240 648h.4M177 713h.4M311 580h.4M1 730h.4M476 414h.4M291 438h.4M530 322h.4M268 621h.4M292 434h.4M185 531h.4M263 631h.4M182 706h.4M445 346h.4M277 451h.4M228 659h.4M288 434h.4M3 720h.4M35 672h.4M504 328h.4M518 363h.4M285 430h.4M359 391h.4M147 729h.4M465 420h.4M166 719h.4M536 327h.4M451 441h.4M294 599h.4M529 322h.4M444 338h.4M472 331h.4M191 522h.4M315 412h.4M113 590h.4M45 660h.4M32 684h.4M542 322h.4M357 533h.4M443 338h.4M402 353h.4M43 660h.4M472 413h.4M262 458h.4M411 355h.4M539 357h.4M359 545h.4M414 487h.4M298 596h.4M483 328h.4M451 431h.4M419 357h.4M386 366h.4M513 322h.4M333 562h.4M368 384h.4M414 348h.4M371 522h.4M444 448h.4M306 588h.4M500 332h.4M517 354h.4M397 357h.4M196 526h.4M2 777h.4M338 550h.4M447 342h.4M298 604h.4M220 503h.4M344 544h.4M176 716h.4M503 389h.4M254 471h.4M477 416h.4M425 343h.4M405 358h.4M204 677h.4M436 343h.4M406 480h.4M400 351h.4M352 547h.4M343 542h.4M462 341h.4M389 358h.4M447 347h.4M474 409h.4M287 440h.4M474 331h.4M446 346h.4M276 623h.4M371 380h.4M337 553h.4M491 341h.4M540 358h.4M517 354h.4M356 391h.4M500 373h.4M267 619h.4M477 408h.4M499 324h.4M506 325h.4M444 339h.4M284 615h.4M498 389h.4M463 339h.4M459 337h.4M496 331h.4M361 527h.4M535 331h.4M534 327h.4M284 431h.4M417 344h.4M533 327h.4M509 368h.4M365 529h.4M493 332h.4M306 591h.4M298 427h.4M537 350h.4M462 329h.4M499 396h.4M549 334h.4M533 356h.4M269 456h.4M544 330h.4M347 402h.4M508 373h.4M544 324h.4M455 331h.4M382 368h.4M538 344h.4M354 538h.4M505 325h.4M303 593h.4M537 325h.4M240 479h.4M420 345h.4M265 459h.4M508 322h.4M503 333h.4M491 336h.4M513 380h.4M468 421h.4M446 346h.4M358 543h.4M488 410h.4M530 351h.4M407 354h.4M407 486h.4M487 406h.4M323 566h.4M345 546h.4M513 367h.4M416 475h.4M481 341h.4M499 393h.4M431 344h.4M501 384h.4M534 355h.4M498 379h.4M552 325h.4M542 344h.4M544 346h.4M393 500h.4M387 497h.4M542 325h.4M511 322h.4M336 404h.4M532 329h.4M517 359h.4M477 411h.4M498 370h.4M529 326h.4M464 328h.4M367 539h.4M286 614h.4M8 706h.4M12 704h.4M6 770h.4M1 704h.4M6 725h.4M1 774h.4M4 713h.4M4 720h.4M15 699h.4M3 723h.4M9 717h.4M2 745h.4M1 756h.4M12 714h.4M5 717h.4M1 721h.4M4 718h.4M1 771h.4M0 705h.4M1 726h.4M13 697h.4M3 745h.4M6 715h.4M5 743h.4M6 703h.4M6 743h.4M4 714h.4M1 764h.4M9 706h.4M2 721h.4M1 717h.4M6 737h.4M7 707h.4M6 771h.4M6 797h.4M5 763h.4M5 772h.4M8 804h.4M4 761h.4M9 804h.4M17 695h.4M4 725h.4M10 806h.4M7 742h.4M5 764h.4M5 728h.4M0 742h.4M14 717h.4M5 711h.4M2 729h.4M4 759h.4M7 743h.4M7 720h.4" stroke="#90da69"/><path d="M24 711h.4M306 431h.4M102 777h.4M243 483h.4M168 715h.4M228 498h.4M340 414h.4M28 738h.4M201 521h.4M129 585h.4M54 802h.4M192 678h.4M378 377h.4M162 558h.4M479 385h.4M98 617h.4M104 606h.4M199 665h.4M157 560h.4M117 600h.4M65 642h.4M139 726h.4M98 773h.4M114 758h.4M33 699h.4M54 656h.4M29 717h.4M205 669h.4M89 790h.4M219 508h.4M91 780h.4M21 726h.4M164 548h.4M51 804h.4M58 802h.4M217 659h.4M97 771h.4M201 525h.4M39 681h.4M176 537h.4M48 665h.4M160 724h.4M98 774h.4M201 666h.4M93 788h.4M113 751h.4M85 795h.4M307 431h.4M176 539h.4M461 343h.4M418 372h.4M128 589h.4M344 540h.4M40 680h.4M118 751h.4M174 542h.4M201 664h.4M492 355h.4M58 806h.4M407 369h.4M267 615h.4M78 625h.4M329 552h.4M491 347h.4M424 358h.4M169 716h.4M172 541h.4M292 589h.4M172 704h.4M205 520h.4M41 679h.4M218 506h.4M431 451h.4M167 555h.4M171 544h.4M196 531h.4M173 541h.4M135 580h.4M117 751h.4M223 649h.4M284 448h.4M375 515h.4M25 711h.4M282 611h.4M199 666h.4M410 363h.4M279 464h.4M316 423h.4M443 434h.4M486 379h.4M128 733h.4M439 364h.4M368 393h.4M469 349h.4M422 461h.4M165 541h.4M306 427h.4M331 556h.4M32 723h.4M214 508h.4M366 519h.4M459 361h.4M467 370h.4M329 417h.4M167 542h.4M325 560h.4M357 529h.4M402 482h.4M22 742h.4M78 794h.4M396 370h.4M254 480h.4M506 357h.4M81 626h.4M219 508h.4M193 679h.4M429 356h.4M177 540h.4M111 753h.4M523 336h.4M400 373h.4M266 617h.4M318 423h.4M27 730h.4M174 708h.4M20 777h.4M175 538h.4M335 416h.4M20 747h.4M450 419h.4M451 419h.4M271 611h.4M403 373h.4M311 431h.4M480 378h.4M271 616h.4M336 546h.4M425 461h.4M390 485h.4M444 364h.4M523 333h.4M471 417h.4M268 617h.4M477 389h.4M486 396h.4M517 346h.4M418 363h.4M505 359h.4M219 661h.4M322 560h.4M235 647h.4M313 432h.4M365 388h.4M466 411h.4M5 783h.4M17 777h.4M428 359h.4M435 455h.4M304 429h.4M369 513h.4M236 647h.4M517 348h.4M31 716h.4M34 680h.4M493 352h.4M411 373h.4M356 398h.4M526 330h.4M311 572h.4M459 360h.4M454 365h.4M181 690h.4M268 467h.4M278 611h.4M25 732h.4M357 398h.4M41 803h.4M208 513h.4M130 580h.4M392 482h.4M470 362h.4M272 469h.4M451 363h.4M516 335h.4M437 356h.4M322 422h.4M429 462h.4M488 350h.4M465 364h.4M482 372h.4M387 481h.4M365 396h.4M412 362h.4M469 401h.4M517 337h.4M394 481h.4M377 381h.4M395 483h.4M472 352h.4M489 344h.4M436 455h.4M519 347h.4M261 467h.4M450 419h.4M485 368h.4M490 366h.4M410 476h.4M323 423h.4M348 535h.4M494 354h.4M497 348h.4M466 349h.4M438 430h.4M516 337h.4M285 604h.4M377 382h.4M531 336h.4M526 336h.4M492 359h.4M315 566h.4M509 348h.4M504 359h.4M422 356h.4M463 352h.4M470 409h.4M487 384h.4M472 388h.4M363 521h.4M517 333h.4M428 352h.4M483 383h.4M486 390h.4M473 395h.4M383 385h.4M447 354h.4M507 330h.4M430 359h.4M511 337h.4M478 364h.4M383 375h.4M484 383h.4M458 424h.4M491 361h.4M263 620h.4M527 346h.4M525 329h.4M456 352h.4M505 365h.4M441 352h.4M485 351h.4M499 338h.4M360 393h.4M446 439h.4M457 420h.4M506 365h.4M472 383h.4M511 346h.4M314 572h.4M505 337h.4M528 344h.4M16 790h.4M13 758h.4M7 791h.4M13 753h.4M9 793h.4M8 800h.4M7 786h.4M0 752h.4M7 786h.4M13 746h.4M0 793h.4M5 789h.4M8 743h.4M4 781h.4M6 781h.4M13 744h.4M18 726h.4" stroke="#b0de60"/><path d="M312 436h.4M419 460h.4M414 453h.4M60 789h.4M31 762h.4M40 732h.4M40 698h.4M368 407h.4M305 448h.4M30 776h.4M442 398h.4M438 400h.4M115 606h.4M52 663h.4M109 616h.4M80 635h.4M154 716h.4M31 782h.4M67 788h.4M61 800h.4M140 584h.4M412 458h.4M197 529h.4M39 731h.4M217 654h.4M162 567h.4M470 387h.4M284 598h.4M35 707h.4M33 704h.4M188 685h.4M283 591h.4M199 658h.4M223 642h.4M185 680h.4M33 796h.4M66 652h.4M166 567h.4M126 597h.4M36 712h.4M137 581h.4M78 791h.4M363 411h.4M453 402h.4M185 681h.4M60 791h.4M62 648h.4M156 711h.4M46 672h.4M189 668h.4M411 383h.4M458 405h.4M337 535h.4M210 520h.4M202 660h.4M98 618h.4M205 529h.4M166 567h.4M117 609h.4M68 787h.4M65 793h.4M253 480h.4M90 626h.4M146 722h.4M86 773h.4M164 703h.4M153 722h.4M255 618h.4M382 398h.4M215 515h.4M174 687h.4M43 798h.4M119 734h.4M95 624h.4M426 397h.4M99 761h.4M157 710h.4M53 797h.4M83 780h.4M164 565h.4M72 787h.4M458 372h.4M52 669h.4M117 740h.4M112 746h.4M378 398h.4M40 718h.4M126 735h.4M176 698h.4M57 670h.4M56 665h.4M186 548h.4M296 455h.4M86 632h.4M112 605h.4M430 433h.4M122 595h.4M239 500h.4M40 731h.4M128 600h.4M33 751h.4M38 766h.4M27 748h.4M322 555h.4M67 798h.4M154 711h.4M53 670h.4M322 433h.4M38 798h.4M49 800h.4M111 613h.4M45 799h.4M315 436h.4M200 531h.4M244 495h.4M246 632h.4M42 705h.4M112 745h.4M123 596h.4M135 593h.4M175 697h.4M172 697h.4M439 387h.4M154 713h.4M91 627h.4M398 381h.4M169 570h.4M31 793h.4M31 743h.4M88 629h.4M79 640h.4M292 581h.4M66 798h.4M77 784h.4M368 404h.4M334 544h.4M175 693h.4M341 530h.4M147 722h.4M463 395h.4M26 794h.4M460 374h.4M460 367h.4M360 524h.4M429 384h.4M33 793h.4M452 393h.4M295 445h.4M40 795h.4M400 477h.4M273 609h.4M204 529h.4M358 518h.4M42 709h.4M166 571h.4M333 541h.4M353 406h.4M203 658h.4M433 398h.4M415 392h.4M432 422h.4M381 392h.4M26 745h.4M433 372h.4M81 791h.4M435 436h.4M471 380h.4M459 383h.4M375 488h.4M446 386h.4M387 387h.4M286 463h.4M425 437h.4M143 721h.4M297 446h.4M313 560h.4M413 389h.4M424 452h.4M382 394h.4M427 455h.4M388 388h.4M441 383h.4M434 389h.4M469 395h.4M444 415h.4M184 681h.4M425 441h.4M213 655h.4M382 493h.4M380 483h.4M22 792h.4M131 729h.4M410 388h.4M343 524h.4M113 745h.4M297 449h.4M325 552h.4M209 525h.4M105 750h.4M144 717h.4M445 421h.4M385 483h.4M291 598h.4M319 553h.4M387 388h.4M381 481h.4M38 769h.4M216 516h.4M427 371h.4M423 385h.4M437 413h.4M310 436h.4M384 399h.4M429 391h.4M398 378h.4M41 715h.4M371 393h.4M365 404h.4M214 512h.4M78 640h.4M378 492h.4M337 426h.4M178 700h.4M303 439h.4M456 393h.4M432 435h.4M419 463h.4M329 548h.4M421 370h.4M187 541h.4M433 373h.4M344 519h.4M469 379h.4M451 369h.4M466 386h.4M414 459h.4M456 386h.4M440 375h.4M311 442h.4M30 787h.4M303 447h.4M175 692h.4M452 413h.4M353 523h.4M209 655h.4M443 386h.4M432 412h.4M393 389h.4M423 449h.4M291 594h.4M338 529h.4M275 467h.4M344 519h.4M437 377h.4M235 501h.4M84 639h.4M463 408h.4M433 409h.4M282 608h.4M255 480h.4M451 395h.4M375 397h.4M402 374h.4M370 502h.4M443 415h.4M461 397h.4M413 389h.4M437 376h.4M383 391h.4M450 417h.4M252 625h.4M450 371h.4M412 388h.4M399 393h.4M403 388h.4M457 368h.4M429 428h.4M398 479h.4M328 548h.4M447 403h.4M429 428h.4M390 385h.4M425 390h.4M434 433h.4M448 411h.4M364 404h.4M429 392h.4M414 383h.4M378 393h.4M433 402h.4M470 386h.4M442 408h.4M340 421h.4M408 468h.4M441 425h.4M422 434h.4M332 548h.4M397 469h.4M431 386h.4M456 374h.4M427 390h.4M228 645h.4M458 407h.4M433 413h.4M302 444h.4M460 389h.4M464 390h.4M306 573h.4M453 368h.4M444 416h.4M445 368h.4M420 378h.4M459 391h.4M424 382h.4M456 384h.4M380 487h.4M423 366h.4M469 388h.4M434 438h.4M405 374h.4M267 603h.4M437 401h.4M416 462h.4M434 392h.4M380 401h.4M455 372h.4M394 389h.4M402 468h.4M416 386h.4M294 451h.4M21 786h.4" stroke="#cddf58"/></g></g>
<line x1="698.7" y1="2178.3" x2="698.7" y2="2395.8" stroke="#000" stroke-width="2"/>
<line x1="697.7" y1="2394.8" x2="940" y2="2394.8" stroke="#000" stroke-width="2"/>
<line x1="693.9" y1="2386.6" x2="698.7" y2="2386.6" stroke="#000" stroke-width="1.6"/>
<line x1="693.9" y1="2184.8" x2="698.7" y2="2184.8" stroke="#000" stroke-width="1.6"/>
<line x1="708" y1="2394.8" x2="708" y2="2398.6" stroke="#000" stroke-width="1.6"/>
<line x1="935.2" y1="2394.8" x2="935.2" y2="2398.6" stroke="#000" stroke-width="1.6"/>
<text x="763.5" y="2193" font-size="31.5" text-anchor="middle" fill="#1a1311" stroke="#1a1311">R=0.93</text>
<text x="670" y="2193.3" font-size="31.5" text-anchor="middle" fill="#1a1311" stroke="#1a1311">10</text>
<text x="673.5" y="2396.4" font-size="31.5" text-anchor="middle" fill="#1a1311" stroke="#1a1311">0</text>
<text x="709.3" y="2426" font-size="31.5" text-anchor="middle" fill="#1a1311" stroke="#1a1311">0</text>
<text x="943" y="2426" font-size="31.5" text-anchor="middle" fill="#1a1311" stroke="#1a1311">10</text>
<text x="805.4" y="2468.3" font-size="31.5" text-anchor="middle" fill="#1a1311" stroke="#1a1311">Ref 4C Log<tspan font-size="19" dy="10">2</tspan><tspan dy="-10">(FPKM+0.1)</tspan></text>
<text x="602.2" y="2296.9" font-size="31" text-anchor="middle" fill="#1a1311" stroke="#1a1311" transform="rotate(-90 602.2 2296.9)">D2 OTX2 Ctrl</text>
<text x="640.3" y="2292.6" font-size="31.5" text-anchor="middle" fill="#1a1311" stroke="#1a1311" transform="rotate(-90 640.3 2292.6)">Log<tspan font-size="19" dy="10">2</tspan><tspan dy="-10">(FPKM+0.1)</tspan></text>
<g transform="translate(1078,2184.3)"><g filter="url(#fbS)"><path d="M10.5 199.5h6.4v1.9h-6.4zM1.9 197.6h2.1v1.9h-2.1zM8.3 197.6h10.7v1.9h-10.7zM-0.2 195.6h6.4v1.9h-6.4zM8.3 195.6h10.7v1.9h-10.7zM-0.2 193.7h6.4v1.9h-6.4zM8.3 193.7h12.9v1.9h-12.9zM-0.2 191.8h6.4v1.9h-6.4zM8.3 191.8h15.0v1.9h-15.0zM-0.2 189.9h27.9v1.9h-27.9zM-0.2 188.0h30.1v1.9h-30.1zM1.9 186.0h30.1v1.9h-30.1zM1.9 184.1h32.2v1.9h-32.2zM1.9 182.2h34.4v1.9h-34.4zM1.9 180.3h36.5v1.9h-36.5zM1.9 178.4h40.8v1.9h-40.8zM4.1 176.4h40.8v1.9h-40.8zM6.2 174.5h40.8v1.9h-40.8zM6.2 172.6h40.8v1.9h-40.8zM8.3 170.7h40.8v1.9h-40.8zM8.3 168.8h43.0v1.9h-43.0zM10.5 166.8h45.1v1.9h-45.1zM10.5 164.9h49.4v1.9h-49.4zM12.6 163.0h49.4v1.9h-49.4zM12.6 161.1h51.6v1.9h-51.6zM14.8 159.2h51.6v1.9h-51.6zM14.8 157.2h53.7v1.9h-53.7zM16.9 155.3h53.7v1.9h-53.7zM19.1 153.4h53.7v1.9h-53.7zM21.2 151.5h53.7v1.9h-53.7zM21.2 149.6h55.9v1.9h-55.9zM23.4 147.6h55.9v1.9h-55.9zM27.7 145.7h53.7v1.9h-53.7zM32.0 143.8h51.6v1.9h-51.6zM34.1 141.9h51.6v1.9h-51.6zM36.3 140.0h49.4v1.9h-49.4zM38.4 138.0h49.4v1.9h-49.4zM40.6 136.1h49.4v1.9h-49.4zM42.7 134.2h49.4v1.9h-49.4zM47.0 132.3h47.3v1.9h-47.3zM49.2 130.4h47.3v1.9h-47.3zM51.3 128.4h47.3v1.9h-47.3zM51.3 126.5h49.4v1.9h-49.4zM55.6 124.6h45.1v1.9h-45.1zM57.8 122.7h45.1v1.9h-45.1zM59.9 120.8h43.0v1.9h-43.0zM62.1 118.8h43.0v1.9h-43.0zM66.4 116.9h38.7v1.9h-38.7zM68.5 115.0h38.7v1.9h-38.7zM72.8 113.1h36.5v1.9h-36.5zM75.0 111.2h36.5v1.9h-36.5zM75.0 109.2h38.7v1.9h-38.7zM79.3 107.3h36.5v1.9h-36.5zM81.4 105.4h34.4v1.9h-34.4zM83.6 103.5h34.4v1.9h-34.4zM87.9 101.6h30.1v1.9h-30.1zM96.5 99.6h23.6v1.9h-23.6zM98.6 97.7h21.5v1.9h-21.5zM100.8 95.8h23.6v1.9h-23.6zM105.1 93.9h19.3v1.9h-19.3zM111.5 91.9h15.0v1.9h-15.0zM113.6 90.0h10.7v1.9h-10.7zM115.8 88.1h8.6v1.9h-8.6zM117.9 86.2h4.3v1.9h-4.3z" fill="#addd61"/><path d="M10.5 199.5h4.3v1.9h-4.3zM10.5 197.6h6.4v1.9h-6.4zM10.5 195.6h8.6v1.9h-8.6zM10.5 193.7h8.6v1.9h-8.6zM1.9 191.8h2.1v1.9h-2.1zM10.5 191.8h10.7v1.9h-10.7zM1.9 189.9h2.1v1.9h-2.1zM8.3 189.9h17.2v1.9h-17.2zM1.9 188.0h2.1v1.9h-2.1zM8.3 188.0h21.5v1.9h-21.5zM6.2 186.0h25.8v1.9h-25.8zM4.1 184.1h30.1v1.9h-30.1zM4.1 182.2h30.1v1.9h-30.1zM4.1 180.3h32.2v1.9h-32.2zM6.2 178.4h32.2v1.9h-32.2zM6.2 176.4h36.5v1.9h-36.5zM6.2 174.5h38.7v1.9h-38.7zM8.3 172.6h38.7v1.9h-38.7zM8.3 170.7h40.8v1.9h-40.8zM10.5 168.8h38.7v1.9h-38.7zM10.5 166.8h43.0v1.9h-43.0zM12.6 164.9h45.1v1.9h-45.1zM12.6 163.0h49.4v1.9h-49.4zM14.8 161.1h49.4v1.9h-49.4zM14.8 159.2h51.6v1.9h-51.6zM16.9 157.2h51.6v1.9h-51.6zM19.1 155.3h51.6v1.9h-51.6zM19.1 153.4h51.6v1.9h-51.6zM21.2 151.5h51.6v1.9h-51.6zM23.4 149.6h51.6v1.9h-51.6zM25.5 147.6h53.7v1.9h-53.7zM29.8 145.7h51.6v1.9h-51.6zM32.0 143.8h49.4v1.9h-49.4zM34.1 141.9h49.4v1.9h-49.4zM36.3 140.0h49.4v1.9h-49.4zM38.4 138.0h49.4v1.9h-49.4zM40.6 136.1h49.4v1.9h-49.4zM44.9 134.2h45.1v1.9h-45.1zM49.2 132.3h43.0v1.9h-43.0zM51.3 130.4h43.0v1.9h-43.0zM51.3 128.4h45.1v1.9h-45.1zM53.5 126.5h45.1v1.9h-45.1zM55.6 124.6h45.1v1.9h-45.1zM57.8 122.7h43.0v1.9h-43.0zM59.9 120.8h43.0v1.9h-43.0zM64.2 118.8h40.8v1.9h-40.8zM66.4 116.9h38.7v1.9h-38.7zM70.7 115.0h36.5v1.9h-36.5zM75.0 113.1h32.2v1.9h-32.2zM75.0 111.2h34.4v1.9h-34.4zM77.1 109.2h34.4v1.9h-34.4zM79.3 107.3h34.4v1.9h-34.4zM83.6 105.4h30.1v1.9h-30.1zM85.7 103.5h30.1v1.9h-30.1zM94.3 101.6h23.6v1.9h-23.6zM100.8 99.6h17.2v1.9h-17.2zM102.9 97.7h17.2v1.9h-17.2zM105.1 95.8h17.2v1.9h-17.2zM109.4 93.9h15.0v1.9h-15.0zM113.6 91.9h10.7v1.9h-10.7zM115.8 90.0h8.6v1.9h-8.6zM117.9 88.1h4.3v1.9h-4.3z" fill="#bde05d"/><path d="M10.5 197.6h4.3v1.9h-4.3zM10.5 195.6h6.4v1.9h-6.4zM10.5 193.7h6.4v1.9h-6.4zM10.5 191.8h10.7v1.9h-10.7zM10.5 189.9h12.9v1.9h-12.9zM8.3 188.0h19.3v1.9h-19.3zM8.3 186.0h21.5v1.9h-21.5zM6.2 184.1h25.8v1.9h-25.8zM6.2 182.2h27.9v1.9h-27.9zM6.2 180.3h30.1v1.9h-30.1zM6.2 178.4h32.2v1.9h-32.2zM8.3 176.4h32.2v1.9h-32.2zM8.3 174.5h36.5v1.9h-36.5zM8.3 172.6h38.7v1.9h-38.7zM10.5 170.7h36.5v1.9h-36.5zM10.5 168.8h38.7v1.9h-38.7zM10.5 166.8h40.8v1.9h-40.8zM12.6 164.9h43.0v1.9h-43.0zM12.6 163.0h47.3v1.9h-47.3zM14.8 161.1h47.3v1.9h-47.3zM14.8 159.2h49.4v1.9h-49.4zM16.9 157.2h49.4v1.9h-49.4zM19.1 155.3h49.4v1.9h-49.4zM21.2 153.4h49.4v1.9h-49.4zM21.2 151.5h51.6v1.9h-51.6zM23.4 149.6h49.4v1.9h-49.4zM27.7 147.6h49.4v1.9h-49.4zM32.0 145.7h47.3v1.9h-47.3zM34.1 143.8h47.3v1.9h-47.3zM36.3 141.9h45.1v1.9h-45.1zM38.4 140.0h45.1v1.9h-45.1zM40.6 138.0h45.1v1.9h-45.1zM42.7 136.1h45.1v1.9h-45.1zM47.0 134.2h43.0v1.9h-43.0zM51.3 132.3h40.8v1.9h-40.8zM51.3 130.4h40.8v1.9h-40.8zM53.5 128.4h40.8v1.9h-40.8zM55.6 126.5h43.0v1.9h-43.0zM57.8 124.6h40.8v1.9h-40.8zM59.9 122.7h40.8v1.9h-40.8zM62.1 120.8h40.8v1.9h-40.8zM66.4 118.8h36.5v1.9h-36.5zM68.5 116.9h36.5v1.9h-36.5zM72.8 115.0h32.2v1.9h-32.2zM75.0 113.1h32.2v1.9h-32.2zM77.1 111.2h30.1v1.9h-30.1zM79.3 109.2h32.2v1.9h-32.2zM81.4 107.3h30.1v1.9h-30.1zM83.6 105.4h30.1v1.9h-30.1zM90.0 103.5h23.6v1.9h-23.6zM98.6 101.6h17.2v1.9h-17.2zM105.1 99.6h10.7v1.9h-10.7zM105.1 97.7h12.9v1.9h-12.9zM107.2 95.8h10.7v1.9h-10.7zM115.8 93.9h4.3v1.9h-4.3zM115.8 91.9h6.4v1.9h-6.4zM117.9 90.0h2.1v1.9h-2.1z" fill="#ccdf58"/><path d="M12.6 191.8h6.4v1.9h-6.4zM10.5 189.9h12.9v1.9h-12.9zM10.5 188.0h15.0v1.9h-15.0zM8.3 186.0h21.5v1.9h-21.5zM8.3 184.1h21.5v1.9h-21.5zM8.3 182.2h23.6v1.9h-23.6zM8.3 180.3h25.8v1.9h-25.8zM8.3 178.4h27.9v1.9h-27.9zM8.3 176.4h30.1v1.9h-30.1zM8.3 174.5h34.4v1.9h-34.4zM10.5 172.6h34.4v1.9h-34.4zM10.5 170.7h36.5v1.9h-36.5zM10.5 168.8h36.5v1.9h-36.5zM12.6 166.8h38.7v1.9h-38.7zM12.6 164.9h40.8v1.9h-40.8zM14.8 163.0h43.0v1.9h-43.0zM14.8 161.1h47.3v1.9h-47.3zM16.9 159.2h47.3v1.9h-47.3zM19.1 157.2h47.3v1.9h-47.3zM19.1 155.3h49.4v1.9h-49.4zM21.2 153.4h47.3v1.9h-47.3zM23.4 151.5h47.3v1.9h-47.3zM25.5 149.6h47.3v1.9h-47.3zM29.8 147.6h45.1v1.9h-45.1zM32.0 145.7h47.3v1.9h-47.3zM34.1 143.8h45.1v1.9h-45.1zM36.3 141.9h45.1v1.9h-45.1zM38.4 140.0h45.1v1.9h-45.1zM40.6 138.0h45.1v1.9h-45.1zM42.7 136.1h45.1v1.9h-45.1zM49.2 134.2h38.7v1.9h-38.7zM51.3 132.3h38.7v1.9h-38.7zM53.5 130.4h38.7v1.9h-38.7zM53.5 128.4h40.8v1.9h-40.8zM55.6 126.5h40.8v1.9h-40.8zM57.8 124.6h40.8v1.9h-40.8zM59.9 122.7h40.8v1.9h-40.8zM62.1 120.8h38.7v1.9h-38.7zM66.4 118.8h36.5v1.9h-36.5zM70.7 116.9h32.2v1.9h-32.2zM75.0 115.0h27.9v1.9h-27.9zM77.1 113.1h27.9v1.9h-27.9zM79.3 111.2h27.9v1.9h-27.9zM81.4 109.2h27.9v1.9h-27.9zM83.6 107.3h27.9v1.9h-27.9zM85.7 105.4h25.8v1.9h-25.8zM96.5 103.5h15.0v1.9h-15.0zM102.9 101.6h10.7v1.9h-10.7zM107.2 99.6h6.4v1.9h-6.4zM109.4 97.7h4.3v1.9h-4.3z" fill="#d8da53"/><path d="M12.6 189.9h8.6v1.9h-8.6zM10.5 188.0h15.0v1.9h-15.0zM10.5 186.0h17.2v1.9h-17.2zM8.3 184.1h21.5v1.9h-21.5zM8.3 182.2h23.6v1.9h-23.6zM8.3 180.3h23.6v1.9h-23.6zM8.3 178.4h27.9v1.9h-27.9zM8.3 176.4h27.9v1.9h-27.9zM10.5 174.5h30.1v1.9h-30.1zM10.5 172.6h34.4v1.9h-34.4zM10.5 170.7h34.4v1.9h-34.4zM10.5 168.8h36.5v1.9h-36.5zM12.6 166.8h36.5v1.9h-36.5zM14.8 164.9h36.5v1.9h-36.5zM14.8 163.0h40.8v1.9h-40.8zM14.8 161.1h45.1v1.9h-45.1zM16.9 159.2h45.1v1.9h-45.1zM19.1 157.2h45.1v1.9h-45.1zM21.2 155.3h45.1v1.9h-45.1zM23.4 153.4h45.1v1.9h-45.1zM23.4 151.5h47.3v1.9h-47.3zM27.7 149.6h43.0v1.9h-43.0zM32.0 147.6h40.8v1.9h-40.8zM34.1 145.7h43.0v1.9h-43.0zM36.3 143.8h43.0v1.9h-43.0zM38.4 141.9h40.8v1.9h-40.8zM40.6 140.0h40.8v1.9h-40.8zM42.7 138.0h40.8v1.9h-40.8zM47.0 136.1h38.7v1.9h-38.7zM51.3 134.2h36.5v1.9h-36.5zM53.5 132.3h36.5v1.9h-36.5zM53.5 130.4h36.5v1.9h-36.5zM55.6 128.4h36.5v1.9h-36.5zM57.8 126.5h36.5v1.9h-36.5zM59.9 124.6h36.5v1.9h-36.5zM62.1 122.7h36.5v1.9h-36.5zM64.2 120.8h36.5v1.9h-36.5zM68.5 118.8h32.2v1.9h-32.2zM72.8 116.9h27.9v1.9h-27.9zM77.1 115.0h25.8v1.9h-25.8zM79.3 113.1h23.6v1.9h-23.6zM79.3 111.2h25.8v1.9h-25.8zM83.6 109.2h23.6v1.9h-23.6zM85.7 107.3h23.6v1.9h-23.6zM92.2 105.4h17.2v1.9h-17.2zM100.8 103.5h8.6v1.9h-8.6z" fill="#e4d54e"/><path d="M14.8 189.9h2.1v1.9h-2.1zM12.6 188.0h10.7v1.9h-10.7zM10.5 186.0h15.0v1.9h-15.0zM10.5 184.1h17.2v1.9h-17.2zM8.3 182.2h21.5v1.9h-21.5zM10.5 180.3h21.5v1.9h-21.5zM10.5 178.4h23.6v1.9h-23.6zM10.5 176.4h25.8v1.9h-25.8zM10.5 174.5h27.9v1.9h-27.9zM10.5 172.6h32.2v1.9h-32.2zM12.6 170.7h32.2v1.9h-32.2zM12.6 168.8h34.4v1.9h-34.4zM12.6 166.8h34.4v1.9h-34.4zM14.8 164.9h36.5v1.9h-36.5zM14.8 163.0h38.7v1.9h-38.7zM16.9 161.1h40.8v1.9h-40.8zM19.1 159.2h40.8v1.9h-40.8zM21.2 157.2h43.0v1.9h-43.0zM21.2 155.3h45.1v1.9h-45.1zM23.4 153.4h43.0v1.9h-43.0zM25.5 151.5h43.0v1.9h-43.0zM27.7 149.6h43.0v1.9h-43.0zM32.0 147.6h40.8v1.9h-40.8zM34.1 145.7h40.8v1.9h-40.8zM36.3 143.8h40.8v1.9h-40.8zM40.6 141.9h38.7v1.9h-38.7zM40.6 140.0h38.7v1.9h-38.7zM44.9 138.0h36.5v1.9h-36.5zM49.2 136.1h34.4v1.9h-34.4zM51.3 134.2h34.4v1.9h-34.4zM53.5 132.3h34.4v1.9h-34.4zM55.6 130.4h34.4v1.9h-34.4zM55.6 128.4h34.4v1.9h-34.4zM57.8 126.5h34.4v1.9h-34.4zM62.1 124.6h32.2v1.9h-32.2zM62.1 122.7h36.5v1.9h-36.5zM66.4 120.8h32.2v1.9h-32.2zM70.7 118.8h30.1v1.9h-30.1zM75.0 116.9h25.8v1.9h-25.8zM77.1 115.0h23.6v1.9h-23.6zM81.4 113.1h19.3v1.9h-19.3zM83.6 111.2h19.3v1.9h-19.3zM85.7 109.2h17.2v1.9h-17.2zM90.0 107.3h15.0v1.9h-15.0zM98.6 105.4h8.6v1.9h-8.6z" fill="#f0d049"/><path d="M14.8 188.0h6.4v1.9h-6.4zM12.6 186.0h10.7v1.9h-10.7zM10.5 184.1h15.0v1.9h-15.0zM10.5 182.2h17.2v1.9h-17.2zM10.5 180.3h19.3v1.9h-19.3zM10.5 178.4h21.5v1.9h-21.5zM10.5 176.4h23.6v1.9h-23.6zM10.5 174.5h25.8v1.9h-25.8zM12.6 172.6h27.9v1.9h-27.9zM12.6 170.7h30.1v1.9h-30.1zM12.6 168.8h32.2v1.9h-32.2zM14.8 166.8h32.2v1.9h-32.2zM14.8 164.9h34.4v1.9h-34.4zM16.9 163.0h34.4v1.9h-34.4zM16.9 161.1h36.5v1.9h-36.5zM19.1 159.2h38.7v1.9h-38.7zM21.2 157.2h40.8v1.9h-40.8zM23.4 155.3h40.8v1.9h-40.8zM25.5 153.4h40.8v1.9h-40.8zM27.7 151.5h40.8v1.9h-40.8zM29.8 149.6h38.7v1.9h-38.7zM34.1 147.6h36.5v1.9h-36.5zM36.3 145.7h36.5v1.9h-36.5zM38.4 143.8h36.5v1.9h-36.5zM40.6 141.9h36.5v1.9h-36.5zM42.7 140.0h36.5v1.9h-36.5zM47.0 138.0h32.2v1.9h-32.2zM49.2 136.1h32.2v1.9h-32.2zM53.5 134.2h30.1v1.9h-30.1zM55.6 132.3h30.1v1.9h-30.1zM55.6 130.4h32.2v1.9h-32.2zM57.8 128.4h32.2v1.9h-32.2zM59.9 126.5h30.1v1.9h-30.1zM62.1 124.6h30.1v1.9h-30.1zM64.2 122.7h32.2v1.9h-32.2zM68.5 120.8h30.1v1.9h-30.1zM70.7 118.8h27.9v1.9h-27.9zM77.1 116.9h21.5v1.9h-21.5zM79.3 115.0h19.3v1.9h-19.3zM85.7 113.1h15.0v1.9h-15.0zM87.9 111.2h12.9v1.9h-12.9zM90.0 109.2h10.7v1.9h-10.7zM96.5 107.3h4.3v1.9h-4.3z" fill="#f8c644"/><path d="M12.6 186.0h8.6v1.9h-8.6zM12.6 184.1h12.9v1.9h-12.9zM10.5 182.2h17.2v1.9h-17.2zM10.5 180.3h19.3v1.9h-19.3zM10.5 178.4h21.5v1.9h-21.5zM12.6 176.4h21.5v1.9h-21.5zM12.6 174.5h23.6v1.9h-23.6zM12.6 172.6h25.8v1.9h-25.8zM12.6 170.7h30.1v1.9h-30.1zM14.8 168.8h30.1v1.9h-30.1zM14.8 166.8h30.1v1.9h-30.1zM16.9 164.9h30.1v1.9h-30.1zM16.9 163.0h34.4v1.9h-34.4zM19.1 161.1h32.2v1.9h-32.2zM21.2 159.2h32.2v1.9h-32.2zM23.4 157.2h36.5v1.9h-36.5zM25.5 155.3h36.5v1.9h-36.5zM25.5 153.4h38.7v1.9h-38.7zM27.7 151.5h38.7v1.9h-38.7zM32.0 149.6h36.5v1.9h-36.5zM36.3 147.6h34.4v1.9h-34.4zM38.4 145.7h32.2v1.9h-32.2zM40.6 143.8h34.4v1.9h-34.4zM42.7 141.9h34.4v1.9h-34.4zM44.9 140.0h32.2v1.9h-32.2zM49.2 138.0h30.1v1.9h-30.1zM51.3 136.1h30.1v1.9h-30.1zM53.5 134.2h30.1v1.9h-30.1zM55.6 132.3h30.1v1.9h-30.1zM57.8 130.4h30.1v1.9h-30.1zM59.9 128.4h27.9v1.9h-27.9zM62.1 126.5h27.9v1.9h-27.9zM64.2 124.6h25.8v1.9h-25.8zM66.4 122.7h25.8v1.9h-25.8zM70.7 120.8h25.8v1.9h-25.8zM72.8 118.8h25.8v1.9h-25.8zM79.3 116.9h19.3v1.9h-19.3zM85.7 115.0h12.9v1.9h-12.9zM90.0 113.1h8.6v1.9h-8.6zM90.0 111.2h8.6v1.9h-8.6zM94.3 109.2h2.1v1.9h-2.1z" fill="#f6b33e"/><path d="M14.8 186.0h4.3v1.9h-4.3zM12.6 184.1h8.6v1.9h-8.6zM12.6 182.2h12.9v1.9h-12.9zM12.6 180.3h15.0v1.9h-15.0zM12.6 178.4h17.2v1.9h-17.2zM12.6 176.4h19.3v1.9h-19.3zM12.6 174.5h21.5v1.9h-21.5zM14.8 172.6h21.5v1.9h-21.5zM14.8 170.7h25.8v1.9h-25.8zM14.8 168.8h27.9v1.9h-27.9zM16.9 166.8h27.9v1.9h-27.9zM16.9 164.9h30.1v1.9h-30.1zM16.9 163.0h32.2v1.9h-32.2zM19.1 161.1h32.2v1.9h-32.2zM21.2 159.2h30.1v1.9h-30.1zM23.4 157.2h30.1v1.9h-30.1zM25.5 155.3h36.5v1.9h-36.5zM27.7 153.4h36.5v1.9h-36.5zM32.0 151.5h34.4v1.9h-34.4zM34.1 149.6h32.2v1.9h-32.2zM38.4 147.6h30.1v1.9h-30.1zM40.6 145.7h30.1v1.9h-30.1zM44.9 143.8h27.9v1.9h-27.9zM44.9 141.9h30.1v1.9h-30.1zM47.0 140.0h30.1v1.9h-30.1zM51.3 138.0h25.8v1.9h-25.8zM53.5 136.1h25.8v1.9h-25.8zM55.6 134.2h25.8v1.9h-25.8zM57.8 132.3h23.6v1.9h-23.6zM57.8 130.4h25.8v1.9h-25.8zM62.1 128.4h23.6v1.9h-23.6zM64.2 126.5h23.6v1.9h-23.6zM66.4 124.6h21.5v1.9h-21.5zM68.5 122.7h21.5v1.9h-21.5zM70.7 120.8h21.5v1.9h-21.5zM77.1 118.8h19.3v1.9h-19.3zM85.7 116.9h10.7v1.9h-10.7zM90.0 115.0h6.4v1.9h-6.4zM92.2 113.1h2.1v1.9h-2.1z" fill="#f4a038"/><path d="M14.8 184.1h4.3v1.9h-4.3zM12.6 182.2h8.6v1.9h-8.6zM12.6 180.3h12.9v1.9h-12.9zM12.6 178.4h15.0v1.9h-15.0zM14.8 176.4h17.2v1.9h-17.2zM14.8 174.5h19.3v1.9h-19.3zM14.8 172.6h21.5v1.9h-21.5zM14.8 170.7h23.6v1.9h-23.6zM16.9 168.8h23.6v1.9h-23.6zM16.9 166.8h25.8v1.9h-25.8zM16.9 164.9h27.9v1.9h-27.9zM19.1 163.0h27.9v1.9h-27.9zM21.2 161.1h27.9v1.9h-27.9zM23.4 159.2h25.8v1.9h-25.8zM25.5 157.2h25.8v1.9h-25.8zM27.7 155.3h25.8v1.9h-25.8zM29.8 153.4h32.2v1.9h-32.2zM34.1 151.5h30.1v1.9h-30.1zM38.4 149.6h27.9v1.9h-27.9zM40.6 147.6h27.9v1.9h-27.9zM42.7 145.7h25.8v1.9h-25.8zM47.0 143.8h23.6v1.9h-23.6zM49.2 141.9h23.6v1.9h-23.6zM49.2 140.0h25.8v1.9h-25.8zM51.3 138.0h25.8v1.9h-25.8zM53.5 136.1h23.6v1.9h-23.6zM55.6 134.2h23.6v1.9h-23.6zM57.8 132.3h21.5v1.9h-21.5zM59.9 130.4h21.5v1.9h-21.5zM62.1 128.4h21.5v1.9h-21.5zM64.2 126.5h21.5v1.9h-21.5zM68.5 124.6h17.2v1.9h-17.2zM70.7 122.7h15.0v1.9h-15.0zM75.0 120.8h10.7v1.9h-10.7z" fill="#f38c32"/><path d="M14.8 182.2h2.1v1.9h-2.1zM14.8 180.3h6.4v1.9h-6.4zM14.8 178.4h10.7v1.9h-10.7zM14.8 176.4h15.0v1.9h-15.0zM16.9 174.5h15.0v1.9h-15.0zM16.9 172.6h17.2v1.9h-17.2zM16.9 170.7h19.3v1.9h-19.3zM16.9 168.8h21.5v1.9h-21.5zM19.1 166.8h21.5v1.9h-21.5zM19.1 164.9h23.6v1.9h-23.6zM19.1 163.0h25.8v1.9h-25.8zM21.2 161.1h25.8v1.9h-25.8zM25.5 159.2h23.6v1.9h-23.6zM27.7 157.2h21.5v1.9h-21.5zM29.8 155.3h21.5v1.9h-21.5zM34.1 153.4h25.8v1.9h-25.8zM36.3 151.5h25.8v1.9h-25.8zM40.6 149.6h23.6v1.9h-23.6zM42.7 147.6h23.6v1.9h-23.6zM47.0 145.7h19.3v1.9h-19.3zM49.2 143.8h19.3v1.9h-19.3zM51.3 141.9h19.3v1.9h-19.3zM51.3 140.0h21.5v1.9h-21.5zM53.5 138.0h21.5v1.9h-21.5zM55.6 136.1h19.3v1.9h-19.3zM57.8 134.2h19.3v1.9h-19.3zM59.9 132.3h17.2v1.9h-17.2zM62.1 130.4h15.0v1.9h-15.0zM64.2 128.4h12.9v1.9h-12.9zM66.4 126.5h10.7v1.9h-10.7zM70.7 124.6h12.9v1.9h-12.9zM75.0 122.7h6.4v1.9h-6.4z" fill="#ef7930"/><path d="M16.9 178.4h4.3v1.9h-4.3zM16.9 176.4h10.7v1.9h-10.7zM19.1 174.5h12.9v1.9h-12.9zM19.1 172.6h12.9v1.9h-12.9zM19.1 170.7h15.0v1.9h-15.0zM19.1 168.8h19.3v1.9h-19.3zM19.1 166.8h19.3v1.9h-19.3zM19.1 164.9h21.5v1.9h-21.5zM21.2 163.0h21.5v1.9h-21.5zM25.5 161.1h19.3v1.9h-19.3zM27.7 159.2h19.3v1.9h-19.3zM29.8 157.2h17.2v1.9h-17.2zM32.0 155.3h17.2v1.9h-17.2zM36.3 153.4h12.9v1.9h-12.9zM40.6 151.5h10.7v1.9h-10.7zM53.5 151.5h8.6v1.9h-8.6zM44.9 149.6h19.3v1.9h-19.3zM51.3 147.6h12.9v1.9h-12.9zM51.3 145.7h15.0v1.9h-15.0zM51.3 143.8h15.0v1.9h-15.0zM53.5 141.9h15.0v1.9h-15.0zM53.5 140.0h17.2v1.9h-17.2zM55.6 138.0h17.2v1.9h-17.2zM57.8 136.1h17.2v1.9h-17.2zM59.9 134.2h15.0v1.9h-15.0zM62.1 132.3h12.9v1.9h-12.9zM64.2 130.4h10.7v1.9h-10.7zM66.4 128.4h8.6v1.9h-8.6zM68.5 126.5h4.3v1.9h-4.3z" fill="#ea652d"/><path d="M21.2 174.5h8.6v1.9h-8.6zM21.2 172.6h10.7v1.9h-10.7zM21.2 170.7h12.9v1.9h-12.9zM21.2 168.8h15.0v1.9h-15.0zM21.2 166.8h17.2v1.9h-17.2zM21.2 164.9h17.2v1.9h-17.2zM25.5 163.0h15.0v1.9h-15.0zM27.7 161.1h15.0v1.9h-15.0zM29.8 159.2h15.0v1.9h-15.0zM32.0 157.2h12.9v1.9h-12.9zM36.3 155.3h8.6v1.9h-8.6zM55.6 149.6h6.4v1.9h-6.4zM53.5 147.6h10.7v1.9h-10.7zM53.5 145.7h10.7v1.9h-10.7zM53.5 143.8h12.9v1.9h-12.9zM55.6 141.9h10.7v1.9h-10.7zM55.6 140.0h12.9v1.9h-12.9zM57.8 138.0h12.9v1.9h-12.9zM59.9 136.1h12.9v1.9h-12.9zM62.1 134.2h10.7v1.9h-10.7zM64.2 132.3h8.6v1.9h-8.6zM66.4 130.4h6.4v1.9h-6.4zM68.5 128.4h2.1v1.9h-2.1z" fill="#e6522a"/><path d="M23.4 172.6h6.4v1.9h-6.4zM23.4 170.7h8.6v1.9h-8.6zM23.4 168.8h10.7v1.9h-10.7zM25.5 166.8h8.6v1.9h-8.6zM27.7 164.9h8.6v1.9h-8.6zM29.8 163.0h8.6v1.9h-8.6zM32.0 161.1h8.6v1.9h-8.6zM34.1 159.2h6.4v1.9h-6.4zM55.6 147.6h6.4v1.9h-6.4zM55.6 145.7h6.4v1.9h-6.4zM55.6 143.8h8.6v1.9h-8.6zM57.8 141.9h6.4v1.9h-6.4zM57.8 140.0h6.4v1.9h-6.4zM62.1 138.0h2.1v1.9h-2.1zM66.4 134.2h2.1v1.9h-2.1z" fill="#e23e28"/></g><g transform="scale(0.25)" fill="none" stroke-width="7.4" stroke-linecap="round"><path d="M574 469h.4M145 455h.4M254 756h.4M79 481h.4M496 574h.4M176 342h.4M473 562h.4M186 359h.4M326 738h.4M220 807h.4M495 491h.4M251 808h.4M225 779h.4M140 439h.4M288 373h.4M255 760h.4M52 459h.4M31 568h.4M313 337h.4M39 562h.4M119 469h.4M271 366h.4M369 145h.4M35 535h.4M168 338h.4M277 320h.4M106 453h.4M63 446h.4M297 278h.4M157 431h.4M227 308h.4M308 365h.4M97 482h.4M335 318h.4M101 496h.4M91 489h.4M151 439h.4M189 421h.4M494 159h.4M275 719h.4M130 479h.4M51 503h.4M38 515h.4M219 348h.4M231 791h.4M101 453h.4M314 700h.4M132 403h.4M154 447h.4M99 376h.4M446 242h.4M123 472h.4M87 489h.4M431 221h.4M313 306h.4M283 254h.4M468 548h.4M387 243h.4M487 203h.4M425 291h.4M224 391h.4M244 799h.4M557 181h.4M533 505h.4M294 739h.4M324 707h.4M251 806h.4M540 192h.4M475 223h.4M481 584h.4M398 585h.4M304 281h.4M470 651h.4M441 591h.4M408 250h.4M680 276h.4M459 222h.4M292 332h.4M313 303h.4M547 196h.4M329 329h.4M61 533h.4M248 359h.4M156 427h.4M375 187h.4M32 417h.4M613 167h.4M489 619h.4M389 676h.4M213 396h.4M326 743h.4M412 644h.4M275 750h.4M389 204h.4M247 810h.4M598 381h.4M433 245h.4M278 760h.4M226 328h.4M352 311h.4M193 428h.4M368 282h.4M280 321h.4M491 521h.4M286 735h.4M327 678h.4M481 250h.4M14 583h.4M384 296h.4M275 364h.4M348 250h.4M558 435h.4M438 209h.4M388 651h.4M32 540h.4M58 445h.4M479 517h.4M280 340h.4M716 67h.4M791 169h.4M414 263h.4M862 26h.4M861 39h.4M525 219h.4M640 336h.4M599 380h.4M714 254h.4M826 107h.4M589 197h.4M475 540h.4M695 78h.4M794 14h.4M662 36h.4M745 246h.4M572 425h.4M466 219h.4M398 298h.4M648 348h.4M660 128h.4M717 310h.4M691 38h.4M820 112h.4M574 414h.4M817 192h.4M686 109h.4M762 51h.4M668 55h.4M891 31h.4M229 398h.4M492 225h.4M731 41h.4M764 45h.4M262 737h.4M312 773h.4M336 309h.4M503 517h.4M682 91h.4M713 251h.4M435 205h.4M389 644h.4M599 172h.4M397 602h.4M890 36h.4M867 12h.4M620 392h.4M814 154h.4M840 18h.4M229 383h.4M491 251h.4M571 204h.4M791 45h.4M756 33h.4M806 171h.4M786 49h.4M734 253h.4M747 43h.4M721 39h.4M507 238h.4M233 748h.4M404 625h.4M562 161h.4M492 123h.4M340 295h.4M849 167h.4M728 75h.4M622 409h.4M858 55h.4M264 188h.4M744 294h.4M331 249h.4M768 32h.4M501 217h.4M740 240h.4M779 218h.4M792 8h.4M590 391h.4M856 16h.4M479 517h.4M727 227h.4M865 33h.4M408 279h.4M781 196h.4M333 240h.4M487 246h.4M744 85h.4M617 152h.4M632 154h.4M858 71h.4M427 582h.4M504 196h.4M592 191h.4M768 248h.4M476 519h.4M559 440h.4M424 580h.4M817 174h.4M491 185h.4M723 61h.4M654 121h.4M416 735h.4M311 357h.4M698 278h.4M665 368h.4M790 29h.4M620 87h.4M322 348h.4M763 237h.4M636 363h.4M534 187h.4M389 282h.4M288 365h.4M849 169h.4M721 78h.4M555 190h.4M543 495h.4M771 33h.4M229 777h.4M857 198h.4M691 369h.4M636 380h.4M875 44h.4M413 612h.4M9 598h.4M2 603h.4M7 558h.4M2 537h.4M1 590h.4M7 539h.4" stroke="#3e69a2"/><path d="M79 529h.4M149 809h.4M168 792h.4M202 780h.4M334 670h.4M150 476h.4M385 604h.4M114 496h.4M68 532h.4M167 474h.4M743 206h.4M209 435h.4M200 445h.4M58 567h.4M156 801h.4M330 661h.4M95 519h.4M194 453h.4M105 484h.4M195 799h.4M200 424h.4M246 743h.4M156 489h.4M204 771h.4M384 639h.4M49 588h.4M113 506h.4M32 592h.4M173 811h.4M152 474h.4M370 315h.4M256 394h.4M70 530h.4M199 443h.4M174 802h.4M328 351h.4M111 496h.4M137 470h.4M194 446h.4M61 574h.4M456 537h.4M204 443h.4M474 494h.4M190 794h.4M211 780h.4M395 309h.4M312 371h.4M199 780h.4M238 733h.4M330 667h.4M385 648h.4M204 754h.4M194 804h.4M315 689h.4M198 766h.4M539 232h.4M252 367h.4M245 727h.4M430 555h.4M181 457h.4M251 372h.4M470 501h.4M314 677h.4M404 577h.4M314 690h.4M295 704h.4M225 729h.4M170 471h.4M616 176h.4M180 778h.4M340 323h.4M206 761h.4M348 653h.4M267 712h.4M187 799h.4M240 741h.4M231 414h.4M525 442h.4M151 463h.4M271 708h.4M188 802h.4M32 611h.4M368 656h.4M354 653h.4M202 430h.4M532 225h.4M689 255h.4M737 218h.4M807 98h.4M738 199h.4M541 218h.4M554 420h.4M788 153h.4M742 71h.4M750 75h.4M784 73h.4M466 266h.4M806 48h.4M816 71h.4M825 80h.4M826 62h.4M835 41h.4M249 396h.4M820 93h.4M787 80h.4M786 82h.4M255 372h.4M549 423h.4M358 325h.4M554 434h.4M780 187h.4M739 204h.4M746 65h.4M792 74h.4M804 105h.4M370 645h.4M737 110h.4M543 211h.4M714 208h.4M611 169h.4M359 653h.4M827 88h.4M601 348h.4M736 111h.4M800 139h.4M808 133h.4M356 324h.4M259 371h.4M841 49h.4M664 131h.4M702 239h.4M844 83h.4M825 77h.4M837 31h.4M541 428h.4M528 438h.4M718 212h.4M816 72h.4M517 244h.4M844 74h.4M768 96h.4M517 459h.4M679 253h.4M744 62h.4M658 143h.4M524 446h.4M799 133h.4M703 242h.4M812 43h.4M749 90h.4M834 27h.4M372 315h.4M415 291h.4M620 343h.4M713 220h.4M853 64h.4M813 126h.4M464 272h.4M584 368h.4M394 604h.4M810 25h.4M696 258h.4M701 110h.4M747 77h.4M768 97h.4M842 66h.4M785 69h.4M831 49h.4M807 55h.4M767 95h.4M788 163h.4M629 344h.4M747 192h.4M471 265h.4M265 386h.4M715 103h.4M821 42h.4M639 158h.4M450 294h.4M733 218h.4M755 111h.4M804 61h.4M708 103h.4M829 68h.4M834 86h.4M450 548h.4M641 167h.4M555 212h.4M814 26h.4M599 193h.4M415 569h.4M672 135h.4M763 90h.4M547 222h.4M705 220h.4M701 108h.4M776 177h.4M330 662h.4M242 382h.4M610 189h.4M831 23h.4M823 32h.4M801 26h.4M2 620h.4M6 617h.4" stroke="#447ca4"/><path d="M125 514h.4M192 466h.4M126 511h.4M207 739h.4M35 606h.4M176 775h.4M65 560h.4M55 584h.4M357 641h.4M423 546h.4M144 499h.4M201 737h.4M226 429h.4M332 635h.4M134 507h.4M356 333h.4M533 420h.4M219 459h.4M339 641h.4M146 504h.4M249 707h.4M361 619h.4M249 411h.4M43 606h.4M257 703h.4M354 643h.4M153 497h.4M264 705h.4M144 505h.4M136 509h.4M72 567h.4M337 366h.4M688 142h.4M147 499h.4M323 649h.4M212 736h.4M333 650h.4M29 628h.4M71 553h.4M75 537h.4M72 558h.4M73 561h.4M389 319h.4M326 630h.4M463 484h.4M475 279h.4M511 459h.4M370 599h.4M463 296h.4M470 289h.4M520 431h.4M158 786h.4M387 574h.4M241 700h.4M447 531h.4M295 674h.4M227 434h.4M559 380h.4M369 322h.4M179 489h.4M479 472h.4M409 308h.4M668 294h.4M25 614h.4M567 368h.4M125 523h.4M216 726h.4M656 149h.4M61 562h.4M436 546h.4M363 626h.4M361 611h.4M403 332h.4M553 407h.4M362 336h.4M429 303h.4M283 699h.4M402 316h.4M574 375h.4M227 423h.4M371 593h.4M337 633h.4M473 480h.4M365 631h.4M404 336h.4M494 273h.4M140 806h.4M404 566h.4M398 563h.4M360 649h.4M266 397h.4M577 354h.4M509 445h.4M530 250h.4M535 246h.4M293 673h.4M357 634h.4M562 401h.4M325 654h.4M407 308h.4M378 329h.4M298 682h.4M414 553h.4M5 627h.4M581 221h.4M562 223h.4M580 364h.4M786 143h.4M731 179h.4M780 146h.4M655 274h.4M683 250h.4M424 305h.4M804 118h.4M556 401h.4M640 172h.4M463 493h.4M792 124h.4M651 276h.4M358 634h.4M564 223h.4M743 115h.4M720 197h.4M796 97h.4M695 226h.4M691 244h.4M661 298h.4M729 178h.4M568 226h.4M806 71h.4M810 82h.4M663 297h.4M465 281h.4M562 397h.4M719 164h.4M352 624h.4M654 287h.4M729 189h.4M759 127h.4M733 186h.4M362 641h.4M398 330h.4M670 263h.4M760 178h.4M619 330h.4M665 154h.4M785 105h.4M746 182h.4M601 202h.4M689 133h.4M715 191h.4M353 337h.4M792 112h.4M660 291h.4M752 169h.4M554 394h.4M754 155h.4M716 159h.4M761 113h.4M696 210h.4M522 430h.4M412 548h.4M738 119h.4M715 190h.4M738 185h.4M691 135h.4M751 182h.4M659 156h.4M771 110h.4M765 181h.4M463 276h.4M658 299h.4M772 168h.4M704 170h.4M777 143h.4M646 299h.4M586 214h.4M786 139h.4M660 149h.4M647 310h.4M372 601h.4M789 112h.4M707 118h.4M752 169h.4M585 346h.4M782 109h.4M659 295h.4M441 546h.4M500 456h.4M795 125h.4M547 237h.4M807 85h.4M540 418h.4M537 250h.4M744 185h.4M554 409h.4M444 550h.4M499 458h.4M557 226h.4M749 174h.4M797 131h.4M561 382h.4M723 186h.4M773 130h.4M720 157h.4M646 306h.4M577 220h.4M627 308h.4M704 162h.4M689 231h.4M700 212h.4M726 157h.4M800 89h.4M689 146h.4M347 352h.4M801 129h.4M353 641h.4M666 155h.4M297 687h.4M728 112h.4M408 321h.4M268 398h.4M689 143h.4M449 541h.4M773 93h.4M432 550h.4M779 157h.4M792 108h.4M759 121h.4M772 134h.4M759 185h.4M564 403h.4M651 301h.4M508 253h.4M620 326h.4M663 286h.4M714 185h.4M235 419h.4M661 164h.4M682 246h.4M698 127h.4M424 559h.4M425 300h.4M482 471h.4M767 179h.4M782 99h.4M652 305h.4M703 172h.4M439 303h.4M743 154h.4M665 143h.4M723 118h.4M531 428h.4M671 266h.4M694 134h.4M690 241h.4M790 126h.4M567 374h.4M761 189h.4M763 129h.4M17 621h.4M3 626h.4M16 621h.4" stroke="#4d92a1"/><path d="M31 634h.4M136 799h.4M314 658h.4M102 537h.4M422 530h.4M86 552h.4M126 533h.4M100 542h.4M708 124h.4M121 538h.4M529 255h.4M143 519h.4M185 483h.4M43 619h.4M115 535h.4M281 688h.4M99 532h.4M262 422h.4M140 798h.4M138 518h.4M211 725h.4M144 511h.4M397 555h.4M189 473h.4M108 546h.4M144 525h.4M85 567h.4M284 398h.4M481 276h.4M181 482h.4M252 697h.4M108 541h.4M280 398h.4M146 777h.4M107 536h.4M98 553h.4M127 809h.4M326 376h.4M143 784h.4M88 547h.4M102 552h.4M130 809h.4M207 724h.4M282 697h.4M234 702h.4M227 712h.4M314 394h.4M218 717h.4M453 506h.4M277 687h.4M97 541h.4M51 593h.4M172 754h.4M95 533h.4M81 551h.4M125 543h.4M555 252h.4M155 507h.4M277 402h.4M167 764h.4M313 637h.4M441 528h.4M186 480h.4M172 506h.4M148 778h.4M230 440h.4M164 502h.4M239 430h.4M229 717h.4M234 443h.4M251 426h.4M119 811h.4M132 801h.4M162 771h.4M373 344h.4M371 346h.4M241 426h.4M274 421h.4M220 460h.4M173 502h.4M361 604h.4M107 532h.4M667 243h.4M344 367h.4M101 550h.4M147 513h.4M621 313h.4M156 783h.4M290 398h.4M143 803h.4M93 546h.4M143 790h.4M284 684h.4M246 432h.4M541 392h.4M286 662h.4M569 366h.4M481 455h.4M221 714h.4M488 280h.4M289 689h.4M421 536h.4M344 366h.4M526 411h.4M177 760h.4M438 308h.4M684 219h.4M328 629h.4M275 399h.4M384 570h.4M626 310h.4M487 285h.4M385 352h.4M447 501h.4M279 396h.4M443 529h.4M244 422h.4M494 282h.4M632 187h.4M148 507h.4M176 753h.4M353 357h.4M347 359h.4M321 388h.4M341 370h.4M420 312h.4M298 396h.4M86 547h.4M389 343h.4M569 354h.4M260 694h.4M428 543h.4M283 689h.4M58 592h.4M379 348h.4M451 308h.4M391 332h.4M451 488h.4M291 675h.4M310 645h.4M175 755h.4M367 603h.4M311 649h.4M536 258h.4M446 500h.4M183 749h.4M435 312h.4M459 485h.4M317 653h.4M619 290h.4M226 712h.4M231 710h.4M393 345h.4M394 335h.4M137 784h.4M115 543h.4M436 326h.4M258 427h.4M276 397h.4M296 394h.4M268 403h.4M444 536h.4M516 261h.4M298 662h.4M129 800h.4M180 482h.4M144 804h.4M101 536h.4M120 537h.4M576 231h.4M385 573h.4M237 429h.4M707 126h.4M557 247h.4M625 203h.4M685 179h.4M709 150h.4M524 410h.4M734 149h.4M484 453h.4M269 409h.4M759 138h.4M636 185h.4M752 132h.4M424 334h.4M596 225h.4M720 133h.4M444 310h.4M623 303h.4M705 138h.4M638 189h.4M621 287h.4M658 255h.4M644 177h.4M694 195h.4M636 283h.4M581 226h.4M689 186h.4M663 246h.4M647 265h.4M548 259h.4M661 168h.4M629 195h.4M637 294h.4M686 169h.4M404 548h.4M766 160h.4M742 149h.4M570 240h.4M643 270h.4M236 443h.4M311 647h.4M531 267h.4M692 192h.4M525 256h.4M572 238h.4M746 151h.4M632 194h.4M750 125h.4M691 164h.4M678 180h.4M593 228h.4M583 232h.4M604 219h.4M623 318h.4M683 219h.4M513 429h.4M680 158h.4M398 350h.4M665 237h.4M637 266h.4M660 173h.4M630 278h.4M609 217h.4M760 161h.4M764 139h.4M688 212h.4M355 610h.4M655 265h.4M765 154h.4M675 189h.4M639 176h.4M722 127h.4M343 620h.4M492 457h.4M668 254h.4M638 189h.4M517 265h.4M438 516h.4M737 141h.4M655 177h.4M468 300h.4M679 153h.4M352 614h.4M423 324h.4M439 530h.4M689 198h.4M683 154h.4M561 242h.4M666 257h.4M697 206h.4M680 158h.4M633 199h.4M391 336h.4M578 237h.4M631 191h.4M455 487h.4M448 507h.4M281 690h.4M554 381h.4M262 694h.4M713 147h.4M708 135h.4M734 144h.4M554 244h.4M651 264h.4M495 280h.4M636 299h.4M621 200h.4M687 195h.4M660 251h.4M602 329h.4M667 166h.4M475 463h.4M705 198h.4M618 329h.4M733 150h.4M684 167h.4M373 337h.4M392 331h.4M715 143h.4M614 323h.4M432 523h.4M499 441h.4M431 314h.4M606 330h.4M713 135h.4M697 185h.4M629 284h.4M534 402h.4M612 206h.4M770 152h.4M717 133h.4M742 125h.4M652 294h.4M684 180h.4M428 536h.4M418 538h.4M483 280h.4M629 290h.4M552 386h.4M738 130h.4M507 443h.4M698 145h.4M640 186h.4M541 395h.4M712 152h.4M401 349h.4M696 191h.4M746 133h.4M692 185h.4M558 244h.4M425 307h.4M674 228h.4M613 321h.4M767 160h.4M761 154h.4M565 363h.4M677 174h.4M750 125h.4M753 138h.4M678 181h.4M689 204h.4M657 254h.4M12 634h.4M7 648h.4M8 629h.4M3 644h.4M0 643h.4M3 641h.4M10 640h.4M6 646h.4M5 651h.4" stroke="#57a79b"/><path d="M119 566h.4M181 503h.4M253 444h.4M132 792h.4M191 481h.4M660 234h.4M232 697h.4M58 612h.4M261 682h.4M351 381h.4M105 556h.4M284 407h.4M58 612h.4M292 651h.4M221 699h.4M123 803h.4M173 750h.4M194 734h.4M388 554h.4M163 754h.4M195 476h.4M110 561h.4M184 503h.4M134 797h.4M199 726h.4M252 441h.4M122 559h.4M280 425h.4M290 414h.4M260 679h.4M161 766h.4M261 686h.4M86 570h.4M159 753h.4M157 517h.4M131 542h.4M210 481h.4M197 478h.4M171 744h.4M95 810h.4M174 749h.4M148 770h.4M107 567h.4M357 363h.4M542 269h.4M194 480h.4M151 522h.4M104 810h.4M191 481h.4M108 563h.4M125 787h.4M139 777h.4M305 641h.4M432 520h.4M147 526h.4M146 774h.4M134 792h.4M615 236h.4M196 479h.4M434 516h.4M421 515h.4M301 403h.4M365 358h.4M359 603h.4M483 294h.4M280 422h.4M440 320h.4M238 450h.4M587 237h.4M445 506h.4M277 429h.4M389 557h.4M283 423h.4M601 301h.4M429 509h.4M446 502h.4M526 272h.4M30 649h.4M442 330h.4M603 309h.4M216 698h.4M198 479h.4M597 240h.4M57 607h.4M438 332h.4M533 270h.4M651 231h.4M100 807h.4M628 232h.4M347 369h.4M545 379h.4M481 293h.4M223 695h.4M226 702h.4M497 297h.4M596 331h.4M457 469h.4M507 418h.4M300 402h.4M270 426h.4M615 218h.4M238 451h.4M308 414h.4M621 276h.4M443 335h.4M317 622h.4M501 427h.4M357 600h.4M494 437h.4M439 510h.4M284 419h.4M537 393h.4M223 693h.4M609 314h.4M514 277h.4M407 359h.4M397 353h.4M300 641h.4M217 710h.4M427 343h.4M491 292h.4M438 493h.4M456 308h.4M447 481h.4M257 684h.4M298 410h.4M305 410h.4M604 243h.4M277 429h.4M224 702h.4M599 323h.4M337 612h.4M346 606h.4M516 281h.4M271 685h.4M340 389h.4M307 402h.4M548 270h.4M276 682h.4M351 378h.4M424 519h.4M516 281h.4M543 368h.4M402 552h.4M649 243h.4M636 214h.4M500 291h.4M571 350h.4M612 290h.4M682 196h.4M683 206h.4M609 315h.4M484 299h.4M633 244h.4M630 219h.4M385 355h.4M683 200h.4M435 507h.4M363 576h.4M638 241h.4M601 280h.4M653 195h.4M584 331h.4M578 251h.4M600 321h.4M641 234h.4M649 202h.4M587 232h.4M668 219h.4M567 254h.4M552 262h.4M618 259h.4M626 257h.4M530 404h.4M425 342h.4M418 348h.4M587 238h.4M612 257h.4M642 218h.4M266 673h.4M500 430h.4M615 277h.4M315 624h.4M301 409h.4M658 195h.4M567 349h.4M554 265h.4M628 203h.4M580 333h.4M662 194h.4M238 457h.4M245 452h.4M375 569h.4M557 265h.4M632 213h.4M618 228h.4M229 473h.4M619 263h.4M651 234h.4M516 411h.4M672 207h.4M666 221h.4M671 208h.4M602 233h.4M473 303h.4M622 276h.4M663 229h.4M605 237h.4M672 212h.4M482 302h.4M631 274h.4M498 293h.4M640 218h.4M664 199h.4M641 248h.4M583 335h.4M654 201h.4M629 220h.4M622 261h.4M665 202h.4M625 266h.4M515 284h.4M510 282h.4M524 402h.4M504 425h.4M669 227h.4M613 224h.4M647 230h.4M621 210h.4M402 550h.4M634 230h.4M627 237h.4M615 296h.4M654 214h.4M649 184h.4M603 236h.4M268 690h.4M570 259h.4M258 681h.4M643 196h.4M660 211h.4M635 232h.4M228 464h.4M533 263h.4M440 326h.4M645 198h.4M484 295h.4M639 247h.4M601 334h.4M674 193h.4M671 220h.4M619 211h.4M510 284h.4M361 366h.4M412 350h.4M653 198h.4M615 223h.4M604 226h.4M595 319h.4M638 228h.4M486 446h.4M675 213h.4M550 261h.4M508 289h.4M627 267h.4M518 274h.4M278 679h.4M391 553h.4M648 209h.4M414 528h.4M618 209h.4M592 318h.4M684 192h.4M668 217h.4M433 500h.4M594 315h.4M620 264h.4M576 335h.4M559 354h.4M565 255h.4M620 247h.4M363 581h.4M631 241h.4M664 218h.4M542 363h.4M235 451h.4M344 599h.4M441 330h.4M648 239h.4M554 267h.4M581 331h.4M602 223h.4M622 253h.4M607 279h.4M609 309h.4M4 654h.4M4 657h.4M4 657h.4M2 660h.4" stroke="#61bb94"/><path d="M524 299h.4M130 554h.4M132 556h.4M65 599h.4M167 519h.4M175 521h.4M67 601h.4M325 607h.4M87 806h.4M217 694h.4M31 654h.4M213 703h.4M540 353h.4M167 517h.4M55 623h.4M30 660h.4M142 764h.4M261 448h.4M96 803h.4M143 765h.4M198 494h.4M240 472h.4M362 368h.4M116 797h.4M220 480h.4M94 802h.4M520 287h.4M248 681h.4M357 582h.4M65 602h.4M198 486h.4M281 439h.4M152 534h.4M115 784h.4M39 643h.4M199 707h.4M95 575h.4M80 589h.4M117 783h.4M178 521h.4M181 509h.4M113 797h.4M383 545h.4M422 346h.4M251 447h.4M80 583h.4M421 352h.4M259 449h.4M182 731h.4M38 643h.4M545 283h.4M99 575h.4M153 533h.4M165 515h.4M102 574h.4M89 583h.4M505 303h.4M58 620h.4M43 634h.4M147 752h.4M186 513h.4M134 545h.4M468 319h.4M538 372h.4M310 412h.4M367 370h.4M429 483h.4M285 435h.4M435 493h.4M2 673h.4M330 395h.4M506 420h.4M324 399h.4M370 562h.4M463 319h.4M607 275h.4M331 610h.4M473 450h.4M387 362h.4M34 639h.4M446 337h.4M534 382h.4M503 410h.4M596 270h.4M467 309h.4M539 285h.4M265 442h.4M505 416h.4M87 811h.4M469 320h.4M456 463h.4M249 454h.4M254 678h.4M399 361h.4M447 473h.4M547 283h.4M437 488h.4M601 311h.4M297 642h.4M55 619h.4M305 421h.4M321 402h.4M598 257h.4M438 342h.4M92 808h.4M434 497h.4M437 347h.4M291 651h.4M533 366h.4M156 748h.4M336 605h.4M361 573h.4M515 297h.4M364 370h.4M464 317h.4M302 622h.4M334 396h.4M221 690h.4M422 353h.4M436 491h.4M519 392h.4M511 400h.4M511 403h.4M287 647h.4M540 359h.4M418 507h.4M458 464h.4M209 488h.4M481 438h.4M213 704h.4M199 490h.4M429 347h.4M240 685h.4M595 255h.4M168 739h.4M471 459h.4M457 460h.4M387 549h.4M65 602h.4M198 490h.4M470 311h.4M52 620h.4M526 281h.4M597 264h.4M617 264h.4M345 387h.4M587 310h.4M438 483h.4M585 325h.4M530 390h.4M627 229h.4M522 294h.4M579 321h.4M595 287h.4M229 688h.4M269 661h.4M584 307h.4M559 341h.4M531 298h.4M342 598h.4M280 439h.4M577 254h.4M530 392h.4M539 380h.4M598 296h.4M291 435h.4M512 413h.4M578 272h.4M581 316h.4M305 421h.4M503 410h.4M592 268h.4M592 328h.4M277 439h.4M379 547h.4M585 250h.4M589 250h.4M361 369h.4M595 288h.4M281 434h.4M601 271h.4M483 311h.4M487 431h.4M526 279h.4M536 296h.4M291 433h.4M594 268h.4M522 397h.4M421 347h.4M582 263h.4M601 266h.4M586 252h.4M586 321h.4M505 419h.4M599 279h.4M570 343h.4M428 500h.4M551 349h.4M372 561h.4M393 362h.4M335 391h.4M561 270h.4M591 246h.4M631 223h.4M592 258h.4M362 568h.4M304 414h.4M610 266h.4M340 395h.4M516 285h.4M334 405h.4M581 274h.4M483 442h.4M490 417h.4M591 274h.4M330 613h.4M599 289h.4M491 424h.4M586 246h.4M243 464h.4M564 352h.4M546 348h.4M525 386h.4M582 316h.4M608 261h.4M600 281h.4M590 253h.4M5 669h.4M10 663h.4M9 670h.4M11 669h.4M12 673h.4" stroke="#6dc784"/><path d="M147 542h.4M163 527h.4M545 334h.4M23 808h.4M199 500h.4M88 800h.4M300 618h.4M153 542h.4M187 527h.4M163 522h.4M71 600h.4M73 610h.4M169 528h.4M120 769h.4M382 543h.4M173 525h.4M187 725h.4M159 737h.4M32 806h.4M81 595h.4M141 552h.4M171 527h.4M149 744h.4M272 448h.4M184 725h.4M164 731h.4M573 321h.4M29 806h.4M303 618h.4M172 525h.4M399 528h.4M343 398h.4M53 630h.4M393 530h.4M181 728h.4M224 675h.4M83 595h.4M215 687h.4M267 658h.4M312 421h.4M162 740h.4M228 676h.4M147 539h.4M187 517h.4M528 364h.4M166 533h.4M191 506h.4M174 730h.4M357 571h.4M215 687h.4M257 459h.4M172 527h.4M110 788h.4M76 806h.4M475 433h.4M280 646h.4M173 732h.4M174 734h.4M414 500h.4M138 554h.4M129 762h.4M221 487h.4M186 522h.4M194 721h.4M22 809h.4M104 789h.4M226 677h.4M371 545h.4M118 772h.4M157 739h.4M89 801h.4M589 302h.4M75 599h.4M94 789h.4M72 606h.4M106 779h.4M298 625h.4M299 430h.4M257 663h.4M76 811h.4M85 583h.4M101 576h.4M138 553h.4M291 431h.4M139 557h.4M534 304h.4M263 455h.4M352 570h.4M233 479h.4M558 321h.4M390 535h.4M580 281h.4M102 578h.4M353 387h.4M366 384h.4M516 347h.4M565 318h.4M432 356h.4M245 670h.4M317 610h.4M263 660h.4M367 563h.4M407 365h.4M374 383h.4M139 758h.4M366 563h.4M427 492h.4M482 315h.4M434 481h.4M573 305h.4M507 392h.4M3 683h.4M12 677h.4M206 688h.4M215 485h.4M198 700h.4M515 387h.4M522 348h.4M136 565h.4M298 633h.4M577 313h.4M164 531h.4M193 715h.4M524 345h.4M154 745h.4M387 369h.4M555 339h.4M521 310h.4M47 644h.4M507 307h.4M241 674h.4M10 675h.4M241 468h.4M388 532h.4M515 310h.4M366 383h.4M351 398h.4M479 443h.4M103 578h.4M530 369h.4M324 601h.4M419 367h.4M568 312h.4M228 487h.4M531 311h.4M551 328h.4M534 336h.4M184 527h.4M544 300h.4M246 672h.4M471 327h.4M458 343h.4M197 694h.4M41 654h.4M453 341h.4M376 557h.4M483 421h.4M511 398h.4M563 310h.4M520 308h.4M265 457h.4M212 684h.4M521 303h.4M252 674h.4M509 393h.4M536 325h.4M532 309h.4M349 393h.4M335 595h.4M590 305h.4M587 297h.4M381 374h.4M547 305h.4M529 375h.4M561 329h.4M556 340h.4M523 348h.4M264 666h.4M339 595h.4M559 290h.4M573 299h.4M375 555h.4M531 383h.4M515 359h.4M472 433h.4M567 284h.4M583 299h.4M313 610h.4M547 317h.4M499 313h.4M564 313h.4M435 357h.4M537 311h.4M451 460h.4M393 373h.4M544 299h.4M545 304h.4M583 293h.4M553 302h.4M566 280h.4M458 339h.4M567 290h.4M559 333h.4M563 296h.4M417 363h.4M583 276h.4M565 330h.4M470 331h.4M575 273h.4M477 329h.4M550 344h.4M492 312h.4M540 303h.4M577 314h.4M541 322h.4M557 288h.4M537 304h.4M355 570h.4M555 304h.4M548 315h.4M381 371h.4M497 311h.4M436 353h.4M552 313h.4M552 324h.4M372 546h.4M554 330h.4M518 313h.4M534 305h.4M589 297h.4M546 336h.4M263 454h.4M561 308h.4M279 648h.4M546 337h.4M463 447h.4M582 296h.4M374 378h.4M374 558h.4M446 356h.4M468 334h.4M559 306h.4M585 292h.4M467 327h.4M559 281h.4M575 302h.4M478 328h.4M484 318h.4M526 371h.4M530 305h.4M532 371h.4M554 301h.4M323 598h.4M583 288h.4M554 318h.4M515 354h.4M434 357h.4M497 412h.4M485 429h.4M500 402h.4M398 526h.4M560 315h.4M507 392h.4M449 338h.4M518 346h.4M528 354h.4M523 386h.4M534 309h.4M571 320h.4M518 305h.4M523 357h.4M547 345h.4M14 807h.4M2 702h.4M1 683h.4M5 691h.4M5 688h.4M8 806h.4M12 810h.4M21 806h.4M3 690h.4M1 683h.4M6 705h.4M3 680h.4M7 679h.4M8 683h.4M4 680h.4M4 687h.4M6 684h.4M4 699h.4M8 676h.4M5 807h.4M0 811h.4" stroke="#78d274"/><path d="M103 588h.4M235 671h.4M36 811h.4M101 584h.4M313 426h.4M63 806h.4M42 667h.4M101 777h.4M89 791h.4M503 333h.4M114 761h.4M208 502h.4M98 779h.4M82 801h.4M238 671h.4M126 761h.4M115 760h.4M82 601h.4M30 676h.4M92 784h.4M196 529h.4M521 317h.4M216 681h.4M77 796h.4M44 806h.4M342 580h.4M63 626h.4M173 714h.4M74 799h.4M571 292h.4M238 673h.4M209 504h.4M275 459h.4M157 543h.4M149 549h.4M74 799h.4M178 719h.4M460 346h.4M258 656h.4M29 804h.4M53 807h.4M38 670h.4M350 569h.4M306 608h.4M284 635h.4M361 558h.4M105 587h.4M112 765h.4M507 382h.4M84 604h.4M173 726h.4M335 586h.4M138 741h.4M81 600h.4M200 684h.4M100 587h.4M285 630h.4M60 623h.4M199 508h.4M51 811h.4M80 790h.4M181 712h.4M93 792h.4M300 609h.4M63 806h.4M472 436h.4M303 611h.4M284 633h.4M523 326h.4M524 330h.4M40 670h.4M57 809h.4M65 810h.4M105 770h.4M182 709h.4M365 405h.4M92 594h.4M186 714h.4M62 807h.4M105 583h.4M482 414h.4M64 806h.4M48 808h.4M448 453h.4M44 649h.4M439 452h.4M60 629h.4M46 649h.4M239 487h.4M65 807h.4M451 452h.4M43 810h.4M297 443h.4M71 799h.4M89 780h.4M526 335h.4M513 345h.4M489 413h.4M52 809h.4M369 395h.4M478 415h.4M237 672h.4M384 389h.4M362 548h.4M522 335h.4M47 809h.4M224 668h.4M505 329h.4M508 349h.4M482 412h.4M380 397h.4M489 398h.4M165 729h.4M367 406h.4M238 489h.4M14 696h.4M409 504h.4M326 594h.4M365 555h.4M184 714h.4M212 499h.4M426 490h.4M427 489h.4M252 667h.4M467 432h.4M86 792h.4M364 392h.4M433 363h.4M239 669h.4M340 409h.4M365 549h.4M476 415h.4M430 470h.4M477 425h.4M273 650h.4M6 708h.4M457 356h.4M568 294h.4M519 343h.4M345 405h.4M505 338h.4M364 398h.4M404 372h.4M323 418h.4M226 493h.4M460 357h.4M517 369h.4M16 696h.4M385 384h.4M402 371h.4M339 581h.4M399 380h.4M370 540h.4M447 452h.4M200 687h.4M153 735h.4M158 736h.4M504 328h.4M86 792h.4M471 441h.4M406 368h.4M517 319h.4M527 330h.4M510 356h.4M381 535h.4M422 374h.4M437 466h.4M501 340h.4M391 378h.4M282 643h.4M292 619h.4M460 355h.4M340 581h.4M251 474h.4M500 388h.4M455 438h.4M344 574h.4M295 614h.4M475 332h.4M514 358h.4M336 579h.4M397 374h.4M267 458h.4M144 747h.4M337 586h.4M458 356h.4M460 356h.4M332 595h.4M204 511h.4M118 765h.4M519 331h.4M451 453h.4M50 651h.4M21 801h.4M343 403h.4M16 698h.4M58 642h.4M466 436h.4M162 736h.4M261 656h.4M246 667h.4M304 609h.4M520 332h.4M481 402h.4M488 407h.4M417 372h.4M387 527h.4M488 406h.4M506 317h.4M487 334h.4M454 457h.4M234 484h.4M382 381h.4M330 583h.4M240 662h.4M308 433h.4M459 355h.4M510 318h.4M528 326h.4M523 365h.4M448 459h.4M473 421h.4M518 335h.4M398 368h.4M338 407h.4M497 323h.4M467 424h.4M388 388h.4M277 454h.4M573 295h.4M506 343h.4M457 347h.4M323 420h.4M400 380h.4M500 389h.4M391 523h.4M335 577h.4M437 361h.4M506 328h.4M380 396h.4M245 664h.4M323 419h.4M397 371h.4M523 381h.4M507 389h.4M403 513h.4M464 437h.4M527 324h.4M388 389h.4M491 401h.4M418 491h.4M570 292h.4M519 333h.4M400 379h.4M234 490h.4M515 389h.4M233 669h.4M448 354h.4M444 453h.4M477 418h.4M520 363h.4M475 338h.4M474 330h.4M347 411h.4M292 444h.4M523 333h.4M518 317h.4M515 329h.4M290 628h.4M373 393h.4M499 320h.4M285 636h.4M405 502h.4M494 336h.4M505 347h.4M435 361h.4M475 336h.4M461 439h.4M446 375h.4M2 742h.4M9 693h.4M6 706h.4M7 732h.4M4 720h.4M1 726h.4M2 715h.4M7 707h.4M4 803h.4M4 714h.4M14 692h.4M1 802h.4M4 743h.4M5 706h.4M4 798h.4M9 704h.4M4 801h.4M5 799h.4M0 743h.4M6 803h.4M8 703h.4M8 691h.4M2 803h.4M2 800h.4" stroke="#90da69"/><path d="M234 494h.4M212 670h.4M36 771h.4M66 634h.4M500 372h.4M134 739h.4M172 711h.4M403 382h.4M196 689h.4M397 403h.4M235 495h.4M39 768h.4M75 795h.4M35 775h.4M66 801h.4M216 501h.4M308 597h.4M414 388h.4M495 391h.4M84 776h.4M52 800h.4M64 631h.4M401 385h.4M344 556h.4M231 661h.4M41 682h.4M171 541h.4M163 707h.4M45 664h.4M119 755h.4M109 762h.4M471 350h.4M41 803h.4M23 714h.4M320 436h.4M93 598h.4M80 786h.4M70 628h.4M131 747h.4M130 744h.4M247 659h.4M266 471h.4M60 630h.4M39 797h.4M296 453h.4M37 777h.4M23 786h.4M168 542h.4M40 777h.4M354 407h.4M484 345h.4M341 420h.4M191 685h.4M158 716h.4M95 592h.4M228 499h.4M42 761h.4M309 433h.4M47 798h.4M304 439h.4M453 369h.4M504 369h.4M147 725h.4M80 787h.4M129 745h.4M122 752h.4M41 769h.4M146 721h.4M32 781h.4M86 771h.4M115 586h.4M337 569h.4M77 614h.4M145 574h.4M68 626h.4M36 680h.4M24 733h.4M103 597h.4M22 740h.4M270 638h.4M233 494h.4M80 778h.4M467 347h.4M57 802h.4M92 605h.4M33 770h.4M258 470h.4M386 526h.4M177 539h.4M498 383h.4M318 585h.4M323 584h.4M130 743h.4M110 598h.4M418 489h.4M306 600h.4M22 761h.4M205 528h.4M28 758h.4M27 771h.4M41 790h.4M40 764h.4M455 380h.4M53 801h.4M349 419h.4M19 733h.4M236 665h.4M42 793h.4M30 790h.4M157 551h.4M261 639h.4M400 509h.4M206 518h.4M351 560h.4M76 784h.4M328 428h.4M298 453h.4M213 514h.4M450 441h.4M402 396h.4M435 458h.4M344 562h.4M474 345h.4M15 767h.4M450 430h.4M120 757h.4M494 347h.4M394 516h.4M190 685h.4M487 339h.4M486 343h.4M4 797h.4M492 362h.4M178 707h.4M380 522h.4M296 452h.4M407 405h.4M411 384h.4M13 746h.4M287 453h.4M270 629h.4M12 765h.4M5 780h.4M168 718h.4M377 406h.4M436 381h.4M445 451h.4M408 390h.4M180 705h.4M58 645h.4M23 701h.4M353 558h.4M302 602h.4M20 717h.4M32 691h.4M256 654h.4M10 777h.4M23 776h.4M491 381h.4M222 668h.4M21 718h.4M402 400h.4M423 386h.4M451 436h.4M280 627h.4M55 799h.4M404 389h.4M263 639h.4M10 727h.4M488 347h.4M345 417h.4M461 414h.4M126 745h.4M421 384h.4M258 651h.4M3 751h.4M7 777h.4M228 660h.4M9 780h.4M496 350h.4M414 378h.4M172 706h.4M139 575h.4M370 412h.4M144 731h.4M230 665h.4M290 466h.4M219 669h.4M392 400h.4M432 459h.4M8 749h.4M4 769h.4M372 405h.4M497 356h.4M270 634h.4M289 458h.4M454 440h.4M470 414h.4M306 438h.4M135 737h.4M494 380h.4M11 742h.4M395 511h.4M41 679h.4M56 799h.4M432 455h.4M426 463h.4M68 795h.4M481 346h.4M298 456h.4M392 514h.4M273 470h.4M501 374h.4M506 383h.4M389 400h.4M352 411h.4M272 471h.4M258 650h.4M391 394h.4M345 566h.4M475 402h.4M489 372h.4M321 436h.4M401 388h.4M305 438h.4M256 475h.4M470 420h.4M479 402h.4M279 630h.4M410 381h.4M416 390h.4M397 512h.4M242 659h.4M493 367h.4M273 630h.4M398 404h.4M276 629h.4M428 470h.4M309 596h.4M416 483h.4M276 466h.4M497 384h.4M299 446h.4M379 406h.4M485 387h.4M400 389h.4M473 354h.4M501 361h.4M485 387h.4M453 377h.4M417 487h.4M475 412h.4M452 443h.4M469 356h.4M409 391h.4M435 453h.4M466 408h.4M318 429h.4M502 377h.4M476 402h.4M491 384h.4M450 438h.4M498 368h.4M459 372h.4M374 408h.4M474 357h.4M440 449h.4M385 413h.4M416 382h.4M470 357h.4M465 417h.4M276 627h.4M442 446h.4M311 434h.4M320 593h.4M259 472h.4M248 490h.4M279 634h.4M497 341h.4M477 411h.4M447 432h.4M497 350h.4M378 409h.4M344 553h.4M260 647h.4M319 590h.4M476 413h.4M263 472h.4M2 796h.4M13 761h.4M24 751h.4M11 726h.4M11 786h.4M0 755h.4M11 766h.4M10 752h.4M15 775h.4M9 737h.4M8 735h.4M10 766h.4M5 790h.4M11 711h.4M16 768h.4M7 748h.4M9 755h.4M9 765h.4M5 773h.4M1 789h.4M8 799h.4M4 774h.4M4 790h.4M8 734h.4M6 757h.4M0 767h.4M8 746h.4M3 783h.4M4 764h.4M9 799h.4M11 726h.4M4 776h.4M16 764h.4M14 798h.4M9 789h.4M21 728h.4M1 747h.4M13 707h.4M7 767h.4M3 776h.4M6 751h.4M3 787h.4" stroke="#b0de60"/><path d="M100 767h.4M47 797h.4M480 374h.4M198 542h.4M150 706h.4M62 779h.4M57 663h.4M102 753h.4M64 783h.4M65 796h.4M142 580h.4M109 755h.4M35 756h.4M166 558h.4M256 483h.4M124 738h.4M310 445h.4M37 746h.4M321 442h.4M439 399h.4M183 684h.4M293 602h.4M354 539h.4M52 785h.4M179 549h.4M475 378h.4M288 603h.4M296 605h.4M370 525h.4M53 773h.4M247 491h.4M410 481h.4M216 511h.4M197 541h.4M180 552h.4M40 690h.4M53 662h.4M182 687h.4M103 600h.4M478 371h.4M114 746h.4M86 610h.4M210 527h.4M198 538h.4M309 586h.4M95 760h.4M50 673h.4M69 783h.4M444 436h.4M109 602h.4M206 660h.4M91 764h.4M170 546h.4M43 798h.4M92 761h.4M32 740h.4M130 723h.4M33 712h.4M167 549h.4M418 412h.4M276 469h.4M228 658h.4M59 790h.4M178 545h.4M41 747h.4M469 405h.4M122 738h.4M168 554h.4M70 630h.4M385 521h.4M80 624h.4M153 716h.4M114 594h.4M59 768h.4M123 591h.4M463 401h.4M170 546h.4M132 728h.4M146 569h.4M181 691h.4M125 741h.4M47 768h.4M180 693h.4M361 426h.4M351 546h.4M53 785h.4M83 628h.4M41 757h.4M37 752h.4M72 776h.4M44 797h.4M46 773h.4M252 485h.4M148 712h.4M207 536h.4M257 631h.4M283 610h.4M96 606h.4M62 639h.4M137 578h.4M52 772h.4M218 519h.4M36 683h.4M91 611h.4M368 522h.4M259 477h.4M46 672h.4M474 379h.4M158 562h.4M239 500h.4M158 566h.4M54 662h.4M43 767h.4M170 551h.4M164 704h.4M122 592h.4M57 797h.4M392 420h.4M151 570h.4M118 749h.4M137 577h.4M414 466h.4M30 747h.4M460 412h.4M31 734h.4M416 474h.4M202 540h.4M51 780h.4M26 747h.4M57 781h.4M109 758h.4M356 415h.4M117 746h.4M150 718h.4M173 549h.4M438 440h.4M173 701h.4M217 518h.4M76 774h.4M37 704h.4M29 734h.4M59 792h.4M186 691h.4M261 480h.4M83 774h.4M251 639h.4M46 783h.4M55 776h.4M106 599h.4M341 553h.4M333 439h.4M302 455h.4M209 535h.4M201 543h.4M44 792h.4M436 395h.4M319 438h.4M284 613h.4M428 408h.4M154 574h.4M302 458h.4M360 525h.4M445 417h.4M153 716h.4M300 592h.4M136 587h.4M45 674h.4M316 441h.4M207 664h.4M361 416h.4M285 474h.4M387 514h.4M464 371h.4M359 417h.4M429 449h.4M332 443h.4M348 427h.4M485 382h.4M360 414h.4M431 439h.4M287 610h.4M441 420h.4M228 652h.4M363 533h.4M444 393h.4M404 489h.4M278 468h.4M344 551h.4M284 474h.4M428 454h.4M193 682h.4M211 527h.4M384 520h.4M485 368h.4M413 407h.4M449 426h.4M387 511h.4M211 534h.4M352 425h.4M440 419h.4M131 724h.4M303 462h.4M428 402h.4M407 484h.4M314 452h.4M432 396h.4M421 409h.4M266 628h.4M396 406h.4M451 402h.4M39 704h.4M424 448h.4M480 390h.4M218 519h.4M393 418h.4M224 506h.4M398 494h.4M412 466h.4M362 533h.4M425 394h.4M400 503h.4M361 420h.4M172 548h.4M33 724h.4M471 369h.4M158 707h.4M440 421h.4M395 503h.4M405 469h.4M464 374h.4M130 730h.4M476 367h.4M425 457h.4M224 656h.4M363 421h.4M157 565h.4M432 400h.4M124 596h.4M461 396h.4M295 591h.4M205 674h.4M152 709h.4M97 599h.4M312 456h.4M445 388h.4M281 473h.4M137 580h.4M196 539h.4M206 535h.4M442 387h.4M360 424h.4M122 742h.4M227 512h.4M420 408h.4M405 475h.4M378 515h.4M364 529h.4M400 492h.4M215 507h.4M436 440h.4M438 441h.4M334 426h.4M301 596h.4M438 424h.4M459 400h.4M449 395h.4M435 404h.4M389 504h.4M363 426h.4M438 390h.4M353 417h.4M363 429h.4M470 394h.4M470 372h.4M452 411h.4M434 383h.4M477 372h.4M479 388h.4M316 443h.4M318 577h.4M317 452h.4M481 367h.4M435 448h.4M400 492h.4M447 408h.4M483 364h.4M388 418h.4M399 492h.4M445 407h.4M390 512h.4M327 439h.4M423 405h.4M448 403h.4M439 409h.4M372 522h.4M448 422h.4M335 432h.4M426 395h.4M243 648h.4M313 441h.4M339 433h.4M362 425h.4M419 469h.4M443 402h.4M396 414h.4M461 405h.4M396 420h.4M245 646h.4M305 452h.4M461 406h.4M393 513h.4M445 401h.4M234 502h.4M437 410h.4M326 440h.4M246 497h.4M259 636h.4M270 623h.4M433 385h.4M405 470h.4M450 411h.4M479 379h.4M327 570h.4M421 458h.4M455 380h.4M447 391h.4M455 402h.4M481 361h.4M453 407h.4M380 415h.4M479 366h.4M243 648h.4M396 407h.4M304 594h.4M324 445h.4M455 390h.4M438 395h.4M436 396h.4M295 464h.4M442 385h.4M481 380h.4M418 460h.4M478 364h.4M336 435h.4M387 506h.4M354 418h.4M322 438h.4M229 511h.4M317 443h.4M388 509h.4M445 437h.4M28 736h.4" stroke="#cddf58"/></g></g>
<line x1="1069.5" y1="2178.7" x2="1069.5" y2="2396.1" stroke="#000" stroke-width="2"/>
<line x1="1068.5" y1="2395.1" x2="1309.7" y2="2395.1" stroke="#000" stroke-width="2"/>
<line x1="1064.7" y1="2387.4" x2="1069.5" y2="2387.4" stroke="#000" stroke-width="1.6"/>
<line x1="1064.7" y1="2184.3" x2="1069.5" y2="2184.3" stroke="#000" stroke-width="1.6"/>
<line x1="1078" y1="2395.1" x2="1078" y2="2398.9" stroke="#000" stroke-width="1.6"/>
<line x1="1305.3" y1="2395.1" x2="1305.3" y2="2398.9" stroke="#000" stroke-width="1.6"/>
<text x="1134.7" y="2193.4" font-size="31.5" text-anchor="middle" fill="#1a1311" stroke="#1a1311">R=0.90</text>
<text x="1079" y="2426" font-size="31.5" text-anchor="middle" fill="#1a1311" stroke="#1a1311">0</text>
<text x="1313.7" y="2426" font-size="31.5" text-anchor="middle" fill="#1a1311" stroke="#1a1311">10</text>
<text x="1184.4" y="2469" font-size="31.5" text-anchor="middle" fill="#1a1311" stroke="#1a1311">Ref 8C Log<tspan font-size="19" dy="10">2</tspan><tspan dy="-10">(FPKM+0.1)</tspan></text>
<text x="1011.5" y="2296.5" font-size="31" text-anchor="middle" fill="#1a1311" stroke="#1a1311" transform="rotate(-90 1011.5 2296.5)">D3 OTX2 Ctrl</text>
<text x="1050.2" y="2290.7" font-size="31.5" text-anchor="middle" fill="#1a1311" stroke="#1a1311" transform="rotate(-90 1050.2 2290.7)">Log<tspan font-size="19" dy="10">2</tspan><tspan dy="-10">(FPKM+0.1)</tspan></text>
<text x="1401.5" y="2029" font-size="48.7" text-anchor="start" fill="#000" stroke="#000">i</text>
<text x="1652.7" y="2052" font-size="39.6" text-anchor="middle" fill="#1a1311" stroke="#1a1311">D3</text>
<line x1="1519.9" y1="2083.1" x2="1784.1" y2="2083.1" stroke="#1a1311" stroke-width="1.6"/>
<text x="1584.6" y="2126.2" font-size="35.3" text-anchor="middle" fill="#1a1311" stroke="#1a1311">Ctrl</text>
<text x="1724.4" y="2126.2" font-size="35.3" text-anchor="middle" fill="#1a1311" stroke="#1a1311">KD</text>
<text x="1466.1" y="2226.2" font-size="31.3" text-anchor="middle" fill="#2e8048" stroke="#2e8048">OTX2</text>
<text x="1467.4" y="2350.7" font-size="31.3" text-anchor="middle" fill="#2b509e" stroke="#2b509e">DAPI</text>
<text x="1465.2" y="2479.7" font-size="31.5" text-anchor="middle" fill="#1a1311" stroke="#1a1311">Merge</text>
<defs><radialGradient id="gi1"><stop offset="0" stop-color="#0f2e12"/><stop offset="0.6" stop-color="#143816"/><stop offset="0.92" stop-color="#1b481e"/><stop offset="1" stop-color="#0f2c12"/></radialGradient><radialGradient id="gi1m"><stop offset="0" stop-color="#1c4218"/><stop offset="0.6" stop-color="#244e1c"/><stop offset="0.92" stop-color="#2e5e22"/><stop offset="1" stop-color="#183816"/></radialGradient><radialGradient id="gi2"><stop offset="0" stop-color="#225c2c"/><stop offset="0.7" stop-color="#1f5428"/><stop offset="0.95" stop-color="#194420"/><stop offset="1" stop-color="#103016"/></radialGradient><radialGradient id="gi2m"><stop offset="0" stop-color="#347030"/><stop offset="0.7" stop-color="#30682c"/><stop offset="0.95" stop-color="#265424"/><stop offset="1" stop-color="#173a18"/></radialGradient><clipPath id="cpi2"><ellipse cx="69.9" cy="61.5" rx="54.5" ry="52.5"/></clipPath></defs>
<svg x="1521.8" y="2142" width="128" height="127.9" viewBox="0 0 128 128" preserveAspectRatio="none" overflow="hidden"><rect width="128" height="128" fill="#000"/><circle cx="65" cy="67.6" r="49" fill="url(#gi1)" filter="url(#fb12)"/><path d="M85.5 102.3h0M42.8 42.4h0M74.2 109.8h0M77.3 35.1h0M41.4 66.8h0M94.5 68.2h0M54.0 61.1h0M71.3 45.1h0M66.1 77.5h0M106.7 67.0h0M91.9 40.7h0M92.2 73.5h0M48.5 67.9h0M93.1 58.8h0M89.7 103.8h0M98.1 100.6h0M30.5 78.1h0M46.4 95.8h0M68.6 76.2h0M80.6 50.1h0M69.2 45.8h0M110.0 58.7h0M66.3 25.3h0M28.8 47.5h0M89.0 90.9h0M75.1 48.3h0M105.5 46.4h0M40.3 83.4h0M36.3 76.7h0M95.1 66.6h0M79.6 70.1h0M55.4 20.2h0M31.0 68.5h0M25.1 54.5h0M71.6 104.9h0M29.1 54.3h0M73.4 85.7h0M38.0 105.7h0M43.6 98.4h0M59.6 82.2h0M105.1 85.1h0M70.0 38.3h0M48.8 31.2h0M103.2 39.4h0M24.8 94.2h0M101.2 58.7h0M90.2 44.8h0M47.9 84.6h0M78.9 53.9h0M104.5 86.0h0M70.0 34.3h0M70.8 58.1h0M63.7 93.7h0M47.5 77.3h0M90.6 79.5h0M103.8 39.1h0M64.1 34.0h0M64.3 115.1h0M24.1 61.0h0M87.0 71.6h0M87.8 30.8h0M92.7 42.1h0M31.9 84.2h0M80.7 45.8h0M40.1 62.1h0M65.6 62.7h0M46.3 24.1h0M102.0 73.1h0M37.3 32.4h0M43.8 55.2h0M25.6 94.1h0M79.7 57.7h0M77.3 75.9h0M97.0 72.7h0M93.6 102.6h0M55.3 53.3h0M38.2 61.0h0M42.3 68.5h0M75.5 85.6h0M35.6 96.0h0M55.1 64.4h0M54.0 23.6h0M71.5 25.0h0M98.0 69.2h0M104.1 84.1h0M83.5 104.1h0M64.3 108.1h0M61.1 76.7h0M44.3 84.9h0M86.4 52.2h0M29.1 66.9h0M79.4 62.7h0M37.2 47.1h0M60.4 20.1h0M50.0 105.3h0M29.2 61.7h0M105.3 84.7h0M93.6 63.4h0M44.9 111.6h0M75.4 76.0h0M104.2 87.1h0M67.0 35.2h0M60.1 62.9h0M45.2 42.1h0M34.9 64.3h0M46.2 81.0h0M95.5 77.2h0M65.8 108.3h0M81.9 30.0h0M42.3 74.0h0M39.6 89.9h0M32.8 32.5h0M93.9 84.8h0M24.0 69.7h0M98.1 40.4h0M35.5 37.4h0M42.9 28.5h0M52.4 29.6h0M66.4 114.0h0M36.3 92.6h0M86.6 25.2h0M68.9 67.3h0M54.6 92.6h0M50.7 79.3h0M52.1 63.1h0M49.7 112.2h0M63.4 34.7h0M101.9 97.4h0M58.7 46.5h0M45.2 101.0h0M54.7 45.1h0M91.2 59.3h0M63.8 112.2h0M87.8 100.5h0M76.6 103.3h0M59.9 97.0h0M95.9 55.5h0M29.9 82.3h0M61.1 87.5h0M46.1 84.4h0M82.9 111.6h0M107.6 77.0h0M102.3 51.4h0M99.1 71.7h0M101.7 76.8h0M57.7 45.0h0M100.7 69.3h0M87.3 82.7h0M21.0 80.6h0M52.8 80.6h0M76.4 25.1h0M54.4 65.6h0M76.8 96.0h0M43.2 60.2h0M79.4 25.4h0M105.6 46.9h0M101.8 71.7h0M105.3 89.9h0M64.2 25.3h0M69.5 78.6h0M80.0 33.0h0M40.8 44.8h0M73.7 40.8h0M61.4 96.2h0M53.6 104.3h0M75.0 59.4h0M96.6 81.9h0M55.8 48.6h0M63.5 79.3h0M98.2 75.5h0M48.5 32.1h0M73.5 80.7h0M97.3 52.6h0M31.2 89.5h0M60.1 32.8h0M103.9 88.4h0M67.2 77.1h0M43.8 95.9h0M51.0 53.0h0M56.4 34.6h0M88.5 105.7h0M81.1 24.3h0M55.3 47.2h0M73.0 22.2h0M19.8 58.0h0M94.8 62.0h0M108.8 50.8h0M66.4 62.7h0M42.3 98.1h0M32.0 41.3h0M53.2 52.1h0M97.2 52.6h0M81.2 52.7h0M101.1 67.2h0M71.7 26.4h0M86.6 48.0h0M91.8 83.0h0M80.5 99.7h0M76.6 40.8h0M70.4 73.4h0M32.3 84.8h0M104.0 74.1h0M68.9 83.0h0M96.5 52.2h0M92.5 46.3h0M82.0 84.2h0M30.5 85.4h0M70.5 25.9h0M50.8 47.8h0M38.0 80.3h0M40.1 69.2h0M33.1 59.9h0M107.9 77.3h0M27.8 45.1h0M61.5 26.3h0M94.7 66.4h0M62.7 69.4h0M46.0 35.8h0M22.0 45.2h0M72.6 89.4h0M60.7 24.1h0M53.7 68.8h0M34.7 99.7h0M32.1 67.6h0M35.5 92.2h0M32.1 44.2h0M92.9 36.1h0M47.8 84.8h0M73.6 25.3h0M84.5 58.2h0M91.4 30.2h0M88.8 80.2h0M52.6 53.8h0M77.2 45.8h0M54.1 43.6h0M69.4 89.2h0M24.1 68.2h0M73.1 107.0h0M45.1 101.2h0M50.6 83.3h0M72.4 76.6h0M54.7 38.2h0M97.5 99.4h0M61.0 61.8h0M59.1 30.7h0M32.8 79.5h0M93.8 60.6h0M39.6 38.4h0M46.0 88.9h0M66.2 28.9h0M31.5 76.9h0M72.1 110.1h0M103.6 72.4h0M43.1 74.0h0M33.3 48.4h0M94.0 85.2h0M87.1 104.9h0M52.1 92.2h0M67.3 78.0h0M72.3 85.0h0M33.3 36.2h0M67.9 83.5h0M48.9 64.1h0M30.0 91.3h0M76.8 106.4h0M51.3 64.2h0M66.8 105.1h0M83.0 80.0h0M26.1 47.3h0M25.8 62.5h0M91.6 69.1h0M45.8 109.8h0M38.1 101.1h0M98.4 74.9h0M98.1 40.7h0M46.8 57.7h0M77.3 61.5h0M106.7 58.2h0M58.3 32.9h0M79.6 91.9h0M44.8 33.9h0M31.7 95.4h0M89.5 76.2h0M88.3 82.5h0M76.2 27.0h0M80.9 89.3h0M95.1 93.2h0M43.2 75.8h0M33.3 99.7h0M29.1 85.9h0M41.8 43.6h0M37.6 57.4h0M75.9 99.9h0M55.6 93.8h0M83.0 110.3h0M45.6 77.4h0M87.0 72.0h0M84.1 46.9h0M53.4 47.4h0M46.0 41.2h0M62.0 32.5h0M46.8 85.7h0M28.3 42.9h0M52.9 36.2h0M43.3 107.9h0M75.5 52.4h0M46.7 29.1h0M43.6 25.1h0M82.4 51.0h0M92.8 67.0h0M30.1 100.4h0M80.1 94.1h0M47.2 49.6h0M60.4 110.6h0M33.2 40.4h0M76.2 23.7h0M99.5 40.3h0M99.0 63.0h0M54.6 34.4h0M103.5 60.1h0M29.2 84.3h0M60.1 84.4h0M51.4 79.4h0M79.7 68.0h0M24.4 79.6h0M101.9 79.2h0M91.5 89.9h0M55.8 98.7h0M57.6 37.3h0M32.8 93.6h0M86.4 86.7h0M51.8 25.3h0M89.4 64.4h0M45.8 48.4h0M51.7 25.0h0M83.8 89.0h0M91.5 56.4h0M35.4 35.2h0M57.3 109.8h0M93.3 68.2h0M79.2 92.3h0M66.8 75.1h0M71.6 48.5h0M32.6 51.6h0M91.1 31.4h0M50.6 53.8h0M66.0 52.5h0M89.3 55.9h0M64.6 90.2h0M30.7 93.8h0M90.7 34.5h0M61.9 43.8h0M53.4 91.7h0M23.6 86.0h0M79.0 67.2h0M110.3 57.3h0M25.8 77.4h0M69.5 47.1h0M29.1 35.6h0M98.8 36.0h0M100.3 88.4h0M18.9 71.5h0M82.9 98.7h0M96.6 97.5h0M63.5 59.2h0M58.3 84.6h0M39.6 38.7h0M108.7 85.7h0M96.4 60.6h0M38.9 54.5h0M40.9 48.7h0M25.9 82.9h0M75.3 92.0h0M67.0 44.7h0M107.0 87.0h0M81.7 93.8h0M55.4 90.5h0M43.7 96.0h0M91.4 91.2h0M77.9 71.9h0M72.0 90.3h0M50.8 89.6h0M85.4 34.0h0M23.0 74.7h0M54.3 42.5h0M33.7 39.7h0M23.9 58.6h0M33.6 33.0h0M61.5 107.2h0M99.9 62.5h0M77.4 59.2h0M60.9 43.0h0M65.1 36.0h0M41.4 62.3h0M63.0 112.7h0M41.1 37.5h0M84.6 85.1h0M86.4 63.2h0M25.7 58.1h0M29.0 65.2h0M107.1 59.6h0M67.6 99.3h0M29.9 87.0h0M53.7 45.5h0M53.7 37.8h0M91.1 70.1h0M49.6 82.6h0M41.9 25.2h0M100.0 51.5h0M86.2 41.0h0M25.8 43.9h0M92.2 78.3h0M45.1 87.7h0M54.6 72.7h0M44.5 24.8h0M67.1 88.4h0M43.0 104.9h0M71.3 109.7h0M82.5 100.7h0M57.8 28.4h0M105.9 91.6h0M84.4 40.1h0M88.9 38.5h0M80.0 94.2h0M79.2 37.8h0M84.1 72.7h0M79.5 101.8h0M44.9 42.1h0M25.9 94.7h0M43.1 100.8h0M74.8 101.0h0M72.0 82.4h0M56.5 81.7h0M36.2 94.2h0M23.8 54.5h0M51.1 69.6h0M60.6 37.2h0M65.4 19.7h0M41.0 63.9h0M43.5 94.3h0M58.5 81.6h0M33.4 91.0h0M82.1 28.9h0M97.4 38.7h0M31.9 88.2h0M105.7 82.0h0M58.5 43.5h0M40.1 72.0h0M73.9 37.2h0M74.0 21.9h0M70.2 38.1h0M39.1 107.0h0M82.4 55.7h0M37.1 100.4h0M66.0 41.8h0M20.1 83.4h0M86.4 81.2h0M41.3 27.9h0M96.4 56.7h0M77.0 21.3h0M53.9 87.9h0M62.4 110.4h0M87.9 95.2h0M84.7 58.3h0M40.6 42.1h0M99.0 60.3h0M19.0 70.2h0M65.3 49.1h0M75.2 38.7h0M111.7 58.3h0M33.7 68.9h0M68.7 92.8h0M70.4 86.7h0M63.6 56.7h0M34.5 45.8h0M61.7 31.2h0M88.1 56.3h0M95.9 88.0h0M59.2 115.5h0M100.5 48.6h0M77.0 46.9h0M35.1 70.4h0M48.3 92.1h0M26.2 73.1h0M100.2 73.2h0M98.1 102.0h0M29.7 55.7h0M48.8 105.0h0M53.5 22.8h0M43.0 55.4h0M57.5 59.7h0M64.0 40.8h0M61.6 50.3h0M48.7 56.1h0M89.3 73.3h0M82.5 43.0h0M22.3 61.4h0M89.5 64.3h0M50.2 27.3h0M72.8 40.1h0M22.6 74.5h0M64.8 101.4h0M35.1 34.3h0M66.5 107.1h0M68.9 86.4h0M26.4 73.2h0M34.9 31.2h0M83.1 97.9h0M40.5 70.7h0M81.0 58.5h0M64.4 77.3h0M40.6 36.7h0M72.7 113.5h0M50.6 51.3h0M106.8 51.5h0M47.4 109.1h0M84.5 88.5h0M23.6 90.7h0M55.9 96.3h0M76.6 109.9h0M83.1 108.4h0M45.6 97.9h0M82.9 50.1h0M26.9 60.7h0M37.7 53.1h0M48.5 46.0h0M67.6 71.4h0M36.1 44.9h0M70.9 49.3h0M49.8 38.7h0M21.3 60.7h0M33.2 63.8h0M53.6 52.8h0M89.3 42.6h0M97.5 76.5h0M110.2 51.5h0M42.6 78.8h0M88.8 57.5h0M89.0 70.3h0M25.9 74.9h0M90.6 79.0h0M61.0 39.4h0M83.4 104.1h0M27.7 83.3h0M21.5 71.9h0M17.2 64.0h0M80.9 29.6h0M27.2 69.9h0M55.4 77.0h0M97.6 38.7h0M69.8 22.9h0M19.1 52.4h0M17.6 75.6h0M91.1 82.1h0M25.4 48.6h0M22.3 62.0h0M37.0 96.0h0M75.8 31.6h0M104.0 72.7h0M91.7 67.6h0M96.8 95.6h0M85.2 103.4h0M84.8 77.3h0M49.2 23.7h0M99.2 84.1h0M34.4 90.6h0M70.6 70.5h0M105.3 89.3h0M27.1 69.9h0M91.9 97.5h0M82.5 55.0h0M73.5 23.7h0M101.4 65.8h0M47.5 45.1h0M70.2 41.1h0M37.6 40.7h0M107.9 64.7h0M81.8 79.2h0M46.0 91.5h0M59.9 43.4h0M34.6 55.8h0M51.8 104.2h0M21.1 86.9h0M96.6 101.0h0M43.6 42.7h0M99.4 85.9h0M74.4 40.5h0M56.7 33.2h0M102.9 91.8h0M52.3 98.7h0M68.3 22.3h0M82.9 44.2h0M75.9 52.1h0M34.8 57.4h0M92.5 36.9h0M41.4 30.9h0M46.4 94.0h0M87.9 84.9h0M77.9 107.0h0M96.9 101.3h0M38.8 48.5h0M88.7 89.7h0M48.0 60.4h0M93.8 63.3h0M41.3 78.0h0M47.2 85.8h0M72.9 57.3h0M40.3 95.8h0M37.6 71.1h0M52.9 68.8h0M53.7 97.5h0M68.3 36.0h0M31.2 87.5h0M59.0 103.1h0M78.0 103.4h0M27.0 58.1h0M95.5 37.0h0M88.4 65.9h0M96.0 58.4h0M43.1 91.9h0M106.7 45.1h0M74.0 42.6h0M81.1 82.5h0M45.9 31.7h0M67.7 68.8h0M93.2 66.7h0M97.0 76.2h0M100.8 92.8h0M27.7 60.6h0M80.4 60.0h0M74.3 109.6h0M39.9 47.6h0M41.4 97.6h0M109.4 51.5h0M106.7 43.8h0M70.5 73.6h0M76.5 46.4h0M32.1 63.1h0M96.8 62.3h0M79.5 84.0h0M101.0 42.7h0M95.4 104.2h0M36.3 97.4h0M23.7 49.8h0M56.7 68.2h0M23.2 51.7h0M27.7 91.0h0M37.6 77.2h0M50.3 85.5h0M17.5 67.4h0M29.2 44.7h0M77.7 94.2h0M38.7 53.1h0M110.1 70.1h0M92.1 96.1h0M90.9 64.4h0M61.6 95.3h0M18.7 55.1h0M79.8 86.5h0M85.3 52.1h0M44.5 31.9h0M73.0 67.6h0M67.6 21.2h0M53.7 36.4h0M93.4 88.5h0M86.3 85.2h0M99.0 75.2h0M39.7 72.9h0M67.2 79.9h0M82.0 70.6h0M73.8 66.6h0M58.1 35.6h0M42.2 53.6h0M108.3 62.4h0M38.7 85.6h0M81.7 58.1h0M91.8 40.5h0M32.7 53.1h0M52.7 59.7h0M65.2 96.4h0M67.5 81.6h0M57.7 37.0h0M63.3 37.3h0M87.4 59.0h0M33.6 65.1h0M69.5 50.6h0M33.7 58.3h0M48.4 51.1h0M18.6 54.8h0M103.2 96.4h0M96.8 60.9h0M94.8 84.3h0M66.5 67.2h0M65.8 24.8h0M93.2 92.6h0M74.1 79.9h0M38.8 64.1h0M46.0 38.0h0M71.0 113.7h0M108.4 69.3h0M55.8 112.7h0M39.3 47.1h0M74.5 111.5h0M94.8 30.6h0M25.6 42.7h0M96.3 43.3h0M45.1 99.6h0M40.8 104.1h0M22.3 52.9h0M97.8 41.1h0M73.2 94.5h0M89.1 82.0h0M79.6 89.8h0M69.6 51.5h0M105.5 44.6h0M68.2 44.1h0M56.7 99.3h0M30.7 35.9h0M79.1 69.4h0M68.2 61.1h0M81.4 54.6h0M97.9 62.7h0M30.4 40.4h0M78.9 39.6h0M23.3 78.2h0M63.9 94.3h0M96.4 34.6h0M78.3 42.5h0M56.4 80.7h0M70.3 58.3h0M68.1 74.5h0M18.3 80.4h0M87.0 78.0h0M60.4 107.9h0M52.5 83.5h0M48.5 24.6h0M71.2 78.1h0M25.8 93.4h0M81.8 74.2h0M39.2 34.1h0M55.2 70.7h0M50.5 62.8h0M75.3 72.8h0M79.3 61.6h0M21.6 74.4h0M74.2 96.4h0M74.9 32.5h0M77.2 101.0h0M108.9 66.2h0M72.2 65.9h0M97.1 79.9h0M112.4 71.4h0M55.6 102.3h0M87.7 45.6h0M66.9 48.6h0M26.1 81.6h0M44.5 71.8h0M83.4 45.1h0M88.2 53.4h0M73.0 52.5h0M43.5 25.5h0M43.3 45.2h0M112.3 61.8h0M75.0 47.0h0M97.2 87.8h0M72.9 76.5h0M20.7 51.5h0M59.3 111.2h0M110.6 56.1h0M80.5 76.3h0M110.8 54.4h0M74.8 85.8h0M61.5 52.9h0M80.4 79.4h0M38.9 53.6h0M75.4 51.8h0M99.3 41.7h0M38.4 94.3h0M57.5 52.4h0M94.3 54.3h0M20.4 63.4h0M89.9 70.9h0M105.8 75.6h0M73.1 107.9h0M55.2 20.2h0M78.2 95.9h0M72.7 36.2h0M82.9 103.2h0M73.9 36.4h0M52.0 79.5h0M28.1 92.4h0M36.1 105.1h0M44.0 93.7h0M73.4 22.1h0M82.7 41.5h0M48.3 72.8h0M22.4 57.1h0M74.9 93.0h0M94.9 80.7h0M17.1 73.4h0M42.6 26.9h0M74.9 98.1h0M61.1 55.0h0M30.4 51.0h0M86.5 71.3h0M69.1 48.5h0M44.6 43.6h0M30.1 96.6h0M28.8 95.1h0M80.5 35.0h0M87.5 84.3h0M88.9 60.6h0M46.7 55.9h0M60.5 27.6h0M93.8 43.8h0M98.3 95.3h0M23.2 45.9h0M37.6 64.2h0M31.0 80.3h0M52.7 31.0h0M87.9 40.5h0M77.6 110.8h0M60.4 48.9h0M21.6 78.5h0M50.0 59.7h0M92.6 36.6h0M78.2 105.8h0M89.1 39.8h0M98.7 56.2h0M104.3 70.6h0M87.4 26.9h0M66.6 20.6h0M76.0 36.1h0M83.4 75.0h0M109.4 81.8h0M81.3 24.4h0M70.5 35.4h0M57.9 64.6h0M81.4 93.5h0M90.9 76.7h0M45.7 65.3h0M71.2 80.3h0M22.2 79.4h0M26.5 80.8h0M55.8 25.1h0M74.8 34.7h0M84.1 73.3h0M60.0 95.3h0M37.2 47.7h0M60.3 86.9h0M61.5 19.3h0M59.6 50.2h0M50.3 26.8h0M27.5 58.5h0M86.7 42.0h0M59.6 48.4h0M83.9 36.2h0M78.9 103.3h0M79.7 38.7h0M49.4 105.4h0M112.5 66.1h0M52.6 99.1h0M51.9 80.4h0M40.1 60.2h0M21.3 73.7h0M19.7 51.1h0M71.1 87.6h0M102.5 83.6h0M59.9 89.7h0M33.5 31.1h0M65.9 20.2h0M97.0 53.0h0M73.0 109.2h0M67.6 80.1h0M35.7 97.3h0M44.2 44.6h0M79.2 81.9h0M37.5 47.5h0M24.7 56.6h0M24.5 47.5h0M95.6 50.7h0M43.0 94.1h0M65.0 87.9h0M59.0 35.9h0M95.1 71.9h0M59.8 78.4h0M102.6 73.0h0M80.1 25.8h0M46.1 54.4h0M48.7 48.4h0M68.4 95.2h0M75.7 79.7h0M79.0 66.4h0M104.7 60.3h0M64.2 51.4h0M55.8 48.0h0M32.4 66.0h0M77.5 58.7h0M102.0 69.3h0M26.4 61.5h0" stroke="#347034" stroke-width="0.9" stroke-linecap="round" fill="none" opacity="0.7"/><path d="M91.5 60.5h0M113.4 74.8h0M75.8 92.1h0M45.3 40.0h0M88.4 48.1h0M97.1 59.3h0M26.6 39.3h0M46.2 24.0h0M58.7 44.4h0M94.5 40.3h0M54.1 94.7h0M88.5 35.2h0M106.0 50.7h0M103.5 58.0h0M52.0 29.0h0M62.5 115.7h0M48.0 108.7h0M104.9 55.9h0M93.5 103.0h0M50.6 42.4h0M102.0 79.4h0M111.5 77.2h0M26.6 66.1h0M29.7 90.2h0M93.4 51.2h0M36.9 96.1h0M53.2 106.2h0M30.0 57.9h0M47.0 33.3h0M106.6 93.3h0M42.7 96.1h0M26.0 94.9h0M101.6 56.3h0M44.0 82.7h0M87.6 50.2h0M32.5 57.8h0M48.8 97.8h0M73.5 89.6h0M21.3 57.7h0M47.2 44.0h0M56.6 44.9h0M26.5 91.8h0M97.5 50.0h0M86.6 36.4h0M25.4 61.6h0M108.6 65.2h0M22.3 74.9h0M43.8 40.9h0M74.7 23.3h0M27.8 37.5h0M102.7 71.9h0M42.6 42.4h0M85.2 105.1h0M36.0 80.3h0M111.7 80.2h0M49.0 89.0h0M71.6 98.1h0M84.2 46.1h0M60.7 93.2h0M35.8 73.2h0M40.7 103.7h0M105.7 46.9h0M98.8 75.9h0M78.7 48.5h0M75.9 103.7h0M32.6 97.1h0M57.6 31.3h0M65.2 98.1h0M62.5 92.2h0M50.8 43.4h0M96.9 41.0h0M100.6 80.9h0M46.1 53.2h0M41.8 69.5h0M67.3 45.5h0M32.1 31.7h0M82.4 42.5h0M38.2 61.7h0M39.7 106.3h0M74.3 47.2h0M34.9 95.9h0M85.3 107.7h0M95.7 43.2h0M35.3 102.6h0M36.0 65.3h0M60.1 95.3h0M85.2 35.1h0M50.1 24.8h0M93.8 62.8h0M26.4 93.5h0M67.6 32.7h0M48.6 43.3h0M77.7 88.1h0M42.7 88.6h0M16.9 62.2h0M87.6 99.9h0M91.7 37.2h0M21.4 60.1h0M112.5 74.2h0M47.5 26.1h0M76.8 44.5h0M91.3 79.3h0M17.2 66.2h0M95.1 48.3h0M33.7 37.3h0M41.0 109.7h0M105.5 52.1h0M101.6 41.5h0M45.9 40.5h0M59.0 97.7h0M109.5 84.4h0M58.1 89.6h0M54.4 91.5h0M33.5 78.9h0M81.9 101.0h0M35.6 85.0h0M77.7 37.4h0M20.0 55.7h0M98.6 58.8h0M111.5 79.7h0M35.1 64.9h0M86.3 89.8h0M54.8 93.1h0M111.6 82.4h0M76.3 43.6h0M20.4 73.0h0M40.1 66.9h0M46.4 97.1h0M99.4 47.1h0M25.2 78.1h0M105.5 80.4h0M80.0 28.3h0M44.4 92.3h0M90.3 69.2h0M85.8 98.0h0M70.3 38.0h0M24.3 74.7h0M49.3 50.9h0M100.2 48.4h0M54.9 96.6h0M47.2 23.4h0M46.6 97.7h0M38.2 57.5h0M25.7 94.0h0M22.4 51.8h0M61.5 113.8h0M71.2 37.9h0M23.4 59.7h0M28.7 49.7h0M67.5 106.9h0M37.6 103.1h0M31.1 102.5h0M38.4 52.9h0M41.7 81.3h0M63.0 43.7h0M39.1 47.5h0M69.6 41.0h0M46.8 28.6h0M67.9 94.6h0M36.1 97.5h0M63.5 90.0h0M22.9 83.8h0M91.2 107.6h0M36.9 66.1h0M93.0 87.9h0M36.6 71.8h0M97.8 86.8h0M64.1 104.2h0M24.3 80.6h0M38.2 53.4h0M84.7 109.3h0M90.5 76.0h0M106.2 86.9h0M19.1 55.5h0M41.4 43.7h0M25.6 86.0h0M70.3 112.3h0M45.1 80.7h0M43.1 100.4h0M93.5 105.1h0M99.2 50.5h0M100.1 43.6h0M37.7 61.0h0M110.3 53.8h0M31.6 78.0h0M101.6 85.9h0M86.5 39.9h0M55.2 107.1h0M72.7 40.2h0M56.6 108.2h0M108.8 79.2h0M46.7 109.4h0M37.8 75.5h0M91.3 70.8h0M62.2 111.5h0M76.2 28.0h0M50.3 106.9h0M61.2 33.3h0M97.4 85.8h0M70.1 96.3h0M45.6 83.5h0M90.6 48.5h0M100.0 41.6h0M111.9 70.8h0M79.1 31.6h0M93.0 42.7h0M92.5 72.0h0M47.9 110.4h0M77.8 44.2h0M49.5 89.0h0M69.6 101.4h0M41.1 81.8h0M48.1 41.8h0M93.9 43.7h0M25.1 86.5h0M47.4 93.5h0M88.3 90.2h0M69.2 110.9h0M38.7 101.5h0M61.0 92.2h0M53.1 100.7h0M89.9 51.8h0M71.7 94.8h0M64.0 115.8h0M92.6 55.0h0M100.8 79.2h0M42.2 54.2h0M26.5 89.4h0M108.2 68.0h0M47.3 26.6h0M28.1 70.7h0M37.9 64.4h0M34.4 64.9h0M54.7 89.2h0M78.2 88.0h0M35.4 59.8h0M29.2 54.6h0M67.9 94.5h0M30.2 43.7h0M51.0 32.1h0M44.8 56.5h0M49.4 109.7h0M46.2 85.9h0M24.9 89.4h0M86.6 82.9h0M18.6 68.1h0M41.1 87.3h0M67.9 41.9h0M53.6 106.4h0M92.0 30.1h0M50.5 95.7h0M47.5 87.9h0M58.7 111.4h0M96.4 63.4h0M104.2 86.8h0M108.8 58.1h0M27.7 90.4h0M67.9 24.0h0M16.1 69.8h0M70.9 37.6h0M41.8 78.4h0M33.0 99.7h0M26.5 70.9h0M69.6 42.5h0M42.2 97.5h0M22.6 69.2h0M106.5 50.3h0M24.3 55.6h0M17.7 55.9h0M31.9 44.6h0M36.5 89.4h0M68.0 33.1h0M100.7 43.0h0M106.2 55.7h0M33.8 52.9h0M106.6 72.3h0M65.4 24.3h0M66.3 44.1h0M52.1 38.3h0M29.5 97.5h0M34.3 88.5h0M92.4 76.6h0M72.4 96.6h0M41.2 64.2h0M86.6 81.1h0M60.0 19.4h0M65.0 29.2h0M95.4 100.2h0M82.3 85.9h0M18.9 64.3h0M47.8 110.5h0M41.1 109.6h0M61.7 21.4h0M110.1 63.2h0M77.7 103.8h0M23.5 55.6h0M70.1 107.2h0M58.8 95.9h0M22.2 81.6h0M32.8 56.3h0" stroke="#69af64" stroke-width="0.9" stroke-linecap="round" fill="none" opacity="0.75"/><circle cx="51.63" cy="34.42" r="6" fill="#2c783c" filter="url(#fb06)"/><path d="M75.66,32.52 L60.6,36.2 L74.88,42.24" stroke="#e63a28" stroke-width="2.0" fill="none"/></svg>
<svg x="1660" y="2142" width="128" height="127.9" viewBox="0 0 128 128" preserveAspectRatio="none" overflow="hidden"><rect width="128" height="128" fill="#000"/><ellipse cx="69.9" cy="61.5" rx="54.5" ry="52.5" fill="url(#gi2)" filter="url(#fb12)"/><g filter="url(#fb3)" clip-path="url(#cpi2)"><ellipse cx="107.41" cy="39.55" rx="12" ry="10" fill="#081c0b" opacity="0.8"/><ellipse cx="105.71" cy="85.9" rx="12" ry="10" fill="#081c0b" opacity="0.8"/><ellipse cx="36.01" cy="88.29" rx="12" ry="10" fill="#081c0b" opacity="0.8"/><ellipse cx="31.47" cy="41.05" rx="12" ry="10" fill="#081c0b" opacity="0.8"/><ellipse cx="70.81" cy="103.49" rx="12" ry="10" fill="#081c0b" opacity="0.8"/></g><path d="M32.7 91.1h0M94.4 90.7h0M75.4 109.8h0M99.0 100.2h0M27.1 51.7h0M25.6 88.6h0M100.2 81.6h0M110.0 45.6h0M35.9 100.1h0M79.8 100.3h0M30.8 38.4h0M117.6 47.2h0M45.4 92.9h0M101.7 26.9h0M79.6 109.7h0M120.1 49.1h0M37.5 29.6h0M31.6 33.1h0M105.5 85.9h0M109.6 36.3h0M34.5 47.0h0M112.0 91.6h0M98.9 88.5h0M62.4 103.5h0M34.3 31.0h0M101.1 98.2h0M48.9 91.0h0M40.8 90.6h0M105.4 96.9h0M114.1 75.9h0M104.9 95.8h0M101.8 91.1h0M97.1 94.6h0M72.1 110.4h0M102.2 36.6h0M41.6 94.1h0M42.9 100.9h0M36.9 97.4h0M107.0 77.8h0M38.5 30.1h0M63.2 100.3h0M34.5 94.8h0M32.0 40.8h0M30.5 30.9h0M29.5 50.9h0M107.7 87.5h0M20.5 48.0h0M33.8 92.3h0M32.1 48.1h0M27.9 87.9h0M72.2 109.3h0M119.0 76.8h0M107.5 76.8h0M93.3 90.0h0M31.8 86.0h0M110.2 32.5h0M23.9 40.1h0M25.3 86.8h0M110.8 35.7h0M106.7 38.2h0M23.9 44.6h0M26.7 35.8h0M96.3 33.6h0M40.4 88.8h0M33.2 81.3h0M63.7 104.8h0M66.7 112.1h0M108.0 92.3h0M65.0 110.2h0M35.8 77.0h0M110.7 89.0h0M26.9 49.9h0M41.4 99.6h0M36.3 36.8h0M26.1 46.8h0M22.8 47.8h0M32.3 36.1h0M67.8 98.9h0M40.5 36.1h0M21.6 51.0h0M96.3 33.3h0M100.3 31.9h0M31.1 93.9h0M34.5 38.5h0M115.5 83.4h0M47.2 93.7h0M108.7 80.8h0M109.5 78.7h0M101.9 102.1h0M100.8 25.0h0M103.7 36.8h0M70.1 111.7h0M29.9 29.9h0M42.5 95.1h0M110.5 40.4h0M98.2 99.8h0M110.4 37.3h0M43.1 91.6h0M119.4 46.9h0M39.0 92.4h0M22.7 40.4h0M112.1 48.0h0M110.4 83.7h0M29.4 36.7h0M23.5 46.6h0M108.5 47.1h0M35.6 35.7h0M102.6 95.4h0M37.0 37.1h0M110.4 91.9h0M34.3 87.7h0M28.8 46.3h0M112.2 48.8h0M105.7 45.5h0M36.4 35.1h0M98.0 35.6h0M69.1 98.8h0M68.9 109.4h0M94.9 34.4h0M34.3 45.9h0M103.7 92.2h0M101.9 81.0h0M98.3 93.4h0M105.0 95.4h0M107.1 73.4h0M22.5 82.5h0M21.1 49.0h0M77.0 105.2h0M37.8 36.6h0M76.4 98.0h0M109.9 39.1h0M29.8 31.3h0M37.6 42.2h0M69.0 103.7h0M35.7 35.4h0M44.3 95.9h0M110.3 74.6h0M111.5 34.8h0M70.1 106.2h0M41.4 97.7h0M68.9 100.2h0M40.2 99.5h0M67.5 112.7h0M35.6 25.7h0M33.1 46.0h0M114.5 83.3h0M34.3 98.5h0M109.5 84.9h0M33.1 30.1h0M75.3 98.7h0M23.0 39.3h0M31.2 49.9h0M106.7 38.4h0M69.0 101.0h0M23.4 43.4h0M24.9 46.8h0M37.7 38.2h0M113.7 84.6h0M103.7 41.2h0M100.2 85.1h0M112.6 74.6h0M42.9 91.4h0M63.3 112.3h0M104.9 33.9h0M99.7 95.5h0M71.2 109.5h0M59.1 111.1h0M68.3 111.5h0M104.5 32.4h0M108.7 74.7h0M106.0 77.5h0M41.6 97.6h0M38.3 101.5h0M96.0 35.3h0M31.1 94.4h0M66.9 102.8h0M95.2 90.5h0M36.3 29.4h0M40.8 90.3h0M43.6 97.9h0M112.0 74.9h0M110.8 30.7h0M40.5 102.0h0M37.8 43.2h0M42.1 96.7h0M31.4 85.2h0M73.8 110.1h0M33.4 27.4h0M96.1 91.1h0M68.6 106.4h0M48.8 92.1h0M106.4 35.2h0M36.7 101.1h0M26.3 34.5h0M107.7 86.6h0M112.3 34.9h0M41.4 85.7h0M73.4 104.2h0M34.2 93.3h0M28.8 51.6h0M101.8 91.5h0M30.6 34.6h0M106.0 47.8h0M29.9 35.8h0M31.3 87.1h0M20.5 45.2h0M98.7 32.9h0M31.6 86.0h0M116.2 42.6h0M32.4 81.9h0M30.7 42.9h0M104.7 52.2h0M35.3 34.9h0M35.2 94.2h0M72.0 110.9h0M34.0 43.3h0M80.4 103.1h0M43.2 100.5h0M31.5 27.2h0M93.1 93.9h0M93.6 94.6h0M61.3 106.0h0M102.0 33.9h0M112.4 47.3h0M25.7 46.5h0M99.1 88.6h0M108.4 91.6h0M96.9 86.2h0M27.5 88.4h0M105.9 34.8h0M25.4 82.8h0M32.0 78.8h0M43.7 99.3h0M112.9 34.1h0M72.7 108.5h0M68.8 98.7h0M116.5 46.0h0M107.4 89.0h0M35.6 82.7h0M33.2 91.1h0M102.4 30.7h0M99.0 101.9h0M111.1 41.2h0M112.1 83.7h0M99.0 86.7h0M109.7 35.7h0M95.3 90.0h0M25.0 42.9h0M107.7 33.9h0M108.4 41.2h0M101.0 100.6h0M27.1 84.6h0M111.1 85.1h0M106.6 94.7h0M25.2 84.8h0M59.4 108.7h0M98.7 88.0h0M110.0 48.6h0M99.1 100.8h0M115.7 47.0h0M97.6 86.5h0M109.7 81.9h0M114.9 42.8h0M107.7 82.7h0M33.9 39.7h0M64.5 100.3h0M48.4 92.7h0M105.2 49.8h0M105.6 92.2h0M93.0 92.6h0M28.3 52.4h0M65.5 108.4h0M34.5 79.0h0M30.2 85.3h0M36.6 29.5h0M36.0 93.6h0M106.2 24.7h0M35.6 43.7h0M27.1 41.0h0M79.8 110.1h0M117.3 45.7h0M26.3 87.1h0M111.1 50.1h0M42.3 34.1h0M65.0 98.6h0M107.5 31.6h0M37.5 86.9h0M34.4 96.1h0M107.4 35.3h0M112.8 75.2h0M40.5 35.3h0M70.8 103.0h0M26.8 36.3h0M105.5 85.9h0M70.3 107.5h0M33.2 87.0h0M77.9 104.9h0M108.5 29.5h0M65.3 109.3h0M99.3 28.8h0M27.5 49.6h0M31.6 38.1h0M35.4 48.5h0M108.9 93.8h0M35.2 79.0h0M42.6 88.5h0M24.0 82.9h0M106.3 47.9h0M28.9 32.8h0M97.8 34.9h0M109.3 86.5h0M32.4 95.4h0M27.2 87.0h0M104.1 98.6h0M107.5 43.6h0M102.9 40.4h0M34.8 52.2h0M103.0 95.5h0M109.1 32.4h0M97.3 93.1h0M29.7 42.8h0M109.2 30.3h0M107.7 49.1h0M24.6 84.4h0M109.7 87.0h0M96.6 32.4h0M72.4 100.4h0M108.3 27.5h0M101.8 30.1h0M36.8 41.5h0M110.4 30.5h0M101.7 85.6h0M109.4 88.3h0M71.6 97.5h0M24.4 46.2h0M101.8 44.3h0M102.5 88.5h0M31.1 30.8h0M108.3 28.6h0M104.0 28.6h0M38.0 35.8h0M63.6 112.4h0M26.5 51.0h0M71.3 102.1h0M36.9 35.2h0M68.4 106.8h0M77.4 106.1h0M33.5 35.5h0M64.1 106.7h0M40.6 100.5h0M109.6 32.2h0M103.9 99.0h0M68.9 100.3h0M33.6 42.6h0M39.2 40.7h0M100.5 94.9h0M40.0 102.7h0M38.5 86.8h0M47.5 92.6h0M112.1 39.2h0M38.2 33.7h0M98.5 33.9h0M40.7 84.3h0M104.0 40.5h0M26.7 51.8h0M40.4 36.9h0M104.2 45.6h0M115.4 37.3h0M97.7 90.6h0M36.7 45.2h0M108.3 30.1h0M29.4 82.6h0M97.3 92.8h0M107.3 43.5h0M113.8 46.9h0M75.8 102.9h0M33.6 82.1h0M33.8 82.0h0M30.1 30.3h0M28.4 48.9h0M110.5 51.2h0M45.7 94.0h0M102.7 86.2h0M100.7 37.9h0M103.0 95.4h0M105.2 52.1h0M26.4 82.6h0M42.2 100.0h0M116.1 48.2h0M109.2 76.4h0M30.4 34.7h0M71.1 113.1h0M29.0 79.8h0M106.1 32.4h0M101.4 38.5h0M33.5 35.5h0M97.9 35.2h0M68.1 100.0h0M102.4 101.2h0M76.4 102.7h0M39.1 40.3h0M101.6 92.3h0M29.4 42.2h0M109.3 44.5h0M45.5 95.7h0M31.6 38.2h0M30.3 91.7h0M94.8 87.6h0M107.9 26.4h0M114.6 47.9h0M24.4 85.3h0M109.6 32.4h0M116.6 77.4h0M67.4 99.8h0M26.0 87.8h0M45.4 92.1h0M61.0 109.6h0M32.4 34.1h0M31.0 47.1h0M40.7 95.3h0" stroke="#509650" stroke-width="0.9" stroke-linecap="round" fill="none" opacity="0.7"/><path d="M110.6 83.0h0M52.8 110.8h0M19.3 62.7h0M109.3 90.2h0M96.9 20.7h0M118.8 43.8h0M39.6 93.4h0M71.4 16.3h0M120.5 64.5h0M98.3 18.4h0M113.9 48.2h0M109.3 83.6h0M114.6 55.2h0M93.7 98.8h0M112.2 75.0h0M42.4 97.9h0M50.7 110.3h0M95.4 106.2h0M66.3 12.3h0M24.5 38.1h0M30.4 37.5h0M47.7 102.2h0M27.0 92.4h0M29.9 81.3h0M19.0 69.0h0M22.3 78.4h0M107.4 85.6h0M46.5 23.7h0M54.6 106.6h0M85.3 103.1h0M122.5 63.7h0M50.1 12.8h0M17.3 64.2h0M102.2 23.7h0M21.7 53.8h0M77.2 108.5h0M62.1 16.3h0M98.6 22.0h0M29.0 30.1h0M42.4 25.5h0M70.5 105.5h0M121.7 70.5h0M25.9 32.4h0M78.9 15.3h0M121.1 50.8h0M26.8 73.6h0M50.9 103.0h0M40.1 95.0h0M57.8 10.1h0M82.4 111.1h0M28.0 36.9h0M109.6 35.3h0M89.1 21.5h0M114.6 51.6h0M121.9 62.7h0M60.9 12.1h0M74.7 14.1h0M105.3 92.5h0M120.5 46.3h0M75.9 109.3h0M20.2 77.4h0M121.4 63.3h0M68.8 110.6h0M100.8 94.0h0M106.1 28.8h0M121.0 52.4h0M70.6 16.8h0M25.1 33.3h0M25.3 60.7h0M91.0 110.0h0M115.8 54.8h0M48.8 107.5h0M24.1 59.3h0M119.4 56.7h0M40.6 94.6h0M19.1 58.2h0M89.5 101.8h0M61.4 9.9h0M35.2 95.4h0M37.9 24.5h0M102.2 95.2h0M82.4 105.7h0M110.5 86.6h0M79.8 112.3h0M46.9 108.9h0M87.3 18.3h0M97.9 102.2h0M21.5 69.5h0M104.9 95.7h0M72.7 13.4h0M68.2 113.8h0M54.8 112.3h0M53.4 20.7h0M26.9 76.2h0M80.8 14.8h0M115.1 88.4h0M85.0 14.2h0M29.1 43.1h0M116.5 56.4h0M21.8 54.2h0M26.4 69.1h0M108.0 31.3h0M29.3 93.7h0M102.2 22.5h0M109.5 35.5h0M107.3 90.5h0M28.8 31.0h0M65.0 11.9h0M29.5 31.8h0M30.5 41.5h0M25.2 48.0h0M114.6 83.3h0M95.2 22.2h0M45.9 17.8h0M48.2 14.3h0M54.9 19.3h0M34.8 29.7h0M26.4 86.6h0M92.9 105.7h0M111.3 44.6h0M100.0 20.9h0M27.8 90.4h0M109.9 83.3h0M119.7 60.7h0M92.3 100.8h0M23.5 77.6h0M115.6 58.6h0M38.2 25.2h0M20.7 43.0h0M107.9 96.4h0M64.5 15.2h0M107.0 96.3h0M98.5 23.8h0M101.7 99.0h0M47.2 19.9h0M31.8 85.4h0M99.1 97.3h0M72.1 16.4h0M85.4 107.3h0M81.4 106.4h0M66.1 15.4h0M28.4 44.6h0M19.8 55.9h0M26.5 76.3h0M115.7 70.3h0M32.1 85.9h0M26.2 83.3h0M116.0 81.2h0M118.5 47.6h0M20.9 77.6h0M119.4 43.7h0M118.6 46.2h0M117.7 43.7h0M49.3 101.9h0M19.6 65.6h0M64.2 108.6h0M108.5 83.4h0M67.0 113.2h0M112.1 78.3h0M27.3 92.6h0M78.9 105.0h0M115.0 75.8h0M120.1 63.3h0M112.3 78.9h0M111.2 83.1h0M108.6 85.5h0M85.9 104.9h0M38.4 26.0h0M81.6 104.0h0M104.2 22.7h0M117.8 45.3h0M26.9 80.9h0M86.2 106.8h0M24.2 87.3h0M85.4 109.5h0M63.9 11.8h0M36.3 32.5h0M99.4 100.5h0M28.0 29.6h0M80.2 16.6h0M100.4 102.5h0M122.1 65.0h0M112.3 87.2h0M95.3 24.5h0M109.9 91.3h0M61.6 18.2h0M19.6 71.6h0M77.6 14.4h0M119.6 64.0h0M23.1 50.6h0M29.2 33.4h0M21.1 67.3h0M22.6 42.2h0M81.2 18.8h0M79.8 16.2h0M29.2 83.2h0M52.8 106.1h0M26.7 74.4h0M56.7 108.0h0M32.9 93.6h0M114.6 82.2h0M112.0 33.0h0M21.8 43.4h0M36.6 92.8h0M34.6 31.4h0M62.5 112.0h0M24.3 58.8h0M80.3 111.2h0M39.3 19.3h0M66.6 14.9h0M54.6 11.8h0M108.4 26.1h0M98.4 98.2h0M93.8 107.1h0M52.7 15.4h0M85.7 106.7h0M53.7 20.2h0M109.0 29.5h0M111.3 29.1h0M23.2 57.0h0M34.5 94.8h0M33.1 32.9h0M58.2 108.9h0M67.0 17.5h0M110.7 32.5h0M20.7 61.1h0M91.0 18.3h0M49.5 101.5h0M47.4 100.0h0M68.4 111.4h0M37.1 102.2h0M19.2 71.4h0M83.8 112.4h0M101.2 19.7h0M86.6 15.6h0M99.1 104.2h0M116.4 48.5h0M74.8 11.9h0M76.5 9.7h0M43.2 24.7h0M24.5 80.1h0M77.6 111.4h0M48.9 101.2h0M37.9 100.9h0M38.9 26.1h0M25.9 86.0h0M96.4 25.1h0M85.6 106.8h0M79.0 106.3h0M55.3 104.5h0M116.7 72.5h0M24.0 80.7h0M117.6 39.5h0M23.7 68.3h0M34.3 29.0h0M25.9 33.0h0M73.0 8.7h0M89.1 14.2h0M120.7 59.9h0M69.2 11.3h0" stroke="#3c7d3e" stroke-width="0.8" stroke-linecap="round" fill="none" opacity="0.6"/><g filter="url(#fb3)"><circle cx="47.71" cy="35.72" r="18.25" fill="#2c6a34" opacity="0.55"/><circle cx="79" cy="30.51" r="16.95" fill="#2c6a34" opacity="0.55"/><circle cx="34.68" cy="64.4" r="15.64" fill="#2c6a34" opacity="0.55"/><circle cx="65.97" cy="90.48" r="19.56" fill="#2c6a34" opacity="0.55"/><circle cx="86.83" cy="59.19" r="14.34" fill="#2c6a34" opacity="0.55"/><circle cx="60.75" cy="56.58" r="13.04" fill="#2c6a34" opacity="0.55"/></g><path d="M79.39,40.05 L65.1,42.5 L77.82,49.45" stroke="#fff" stroke-width="1.8" fill="none"/><path d="M110.09,59.95 L95.8,62.4 L108.52,69.35" stroke="#fff" stroke-width="1.8" fill="none"/></svg>
<svg x="1521.8" y="2275.1" width="128" height="127.5" viewBox="0 0 128 128" preserveAspectRatio="none" overflow="hidden"><rect width="128" height="128" fill="#01020a"/><g filter="url(#fb06)"><circle cx="52.41" cy="34.42" r="6.52" fill="#294094" fill-opacity="0.59"/><circle cx="78.48" cy="37.02" r="6.52" fill="#324fb6" fill-opacity="0.89"/><circle cx="57.62" cy="57.88" r="6.26" fill="#304baf" fill-opacity="0.82"/><circle cx="84.22" cy="56.58" r="7.04" fill="#3350ba" fill-opacity="0.92"/><circle cx="92.56" cy="61.01" r="6.26" fill="#294094" fill-opacity="0.59"/><circle cx="34.68" cy="59.19" r="6.52" fill="#263d8d" fill-opacity="0.53"/><circle cx="70.66" cy="50.06" r="5.74" fill="#263d8d" fill-opacity="0.53"/><circle cx="41.2" cy="69.62" r="5.21" fill="#324fb6" fill-opacity="0.89"/><circle cx="60.75" cy="83.96" r="5.21" fill="#324fb6" fill-opacity="0.89"/><circle cx="79.52" cy="83.44" r="7.04" fill="#324fb6" fill-opacity="0.89"/><circle cx="39.89" cy="88.65" r="4.69" fill="#304baf" fill-opacity="0.82"/><circle cx="58.67" cy="103.51" r="4.69" fill="#2e48a7" fill-opacity="0.75"/><circle cx="50.32" cy="77.44" r="4.69" fill="#253b89" fill-opacity="0.49"/></g><g fill="#4663d6" filter="url(#fb04)"><ellipse cx="81.61" cy="10.17" rx="1.9" ry="2.8" transform="rotate(-20.96 81.61 10.17)"/><ellipse cx="99.34" cy="12.25" rx="1.9" ry="2.8" transform="rotate(3.54 99.34 12.25)"/><ellipse cx="30.77" cy="18.77" rx="1.9" ry="2.8" transform="rotate(-10.4 30.77 18.77)"/><ellipse cx="28.94" cy="22.16" rx="1.9" ry="2.8" transform="rotate(8.31 28.94 22.16)"/><ellipse cx="32.59" cy="27.12" rx="1.9" ry="2.8" transform="rotate(10.06 32.59 27.12)"/><ellipse cx="46.41" cy="20.08" rx="1.9" ry="2.8" transform="rotate(-34.76 46.41 20.08)"/><ellipse cx="51.63" cy="17.47" rx="1.9" ry="2.8" transform="rotate(-38.95 51.63 17.47)"/><ellipse cx="57.62" cy="17.47" rx="1.9" ry="2.8" transform="rotate(27 57.62 17.47)"/><ellipse cx="55.54" cy="22.16" rx="1.9" ry="2.8" transform="rotate(-19.25 55.54 22.16)"/><ellipse cx="26.07" cy="38.33" rx="1.9" ry="2.8" transform="rotate(-21.25 26.07 38.33)"/><ellipse cx="112.9" cy="45.37" rx="1.9" ry="2.8" transform="rotate(39.65 112.9 45.37)"/><ellipse cx="97.25" cy="48.76" rx="1.9" ry="2.8" transform="rotate(-2.38 97.25 48.76)"/><ellipse cx="95.95" cy="53.19" rx="1.9" ry="2.8" transform="rotate(26.92 95.95 53.19)"/><ellipse cx="20.34" cy="72.22" rx="1.9" ry="2.8" transform="rotate(-1.89 20.34 72.22)"/><ellipse cx="114.2" cy="73.53" rx="1.9" ry="2.8" transform="rotate(11.13 114.2 73.53)"/><ellipse cx="123.33" cy="85.26" rx="1.9" ry="2.8" transform="rotate(-27.95 123.33 85.26)"/><ellipse cx="81.61" cy="95.69" rx="1.9" ry="2.8" transform="rotate(10.79 81.61 95.69)"/><ellipse cx="42.5" cy="112.64" rx="1.9" ry="2.8" transform="rotate(29.44 42.5 112.64)"/><ellipse cx="63.36" cy="116.03" rx="1.9" ry="2.8" transform="rotate(1.85 63.36 116.03)"/><ellipse cx="84.22" cy="113.42" rx="1.9" ry="2.8" transform="rotate(19.3 84.22 113.42)"/><ellipse cx="88.91" cy="112.64" rx="1.9" ry="2.8" transform="rotate(13.71 88.91 112.64)"/><ellipse cx="94.13" cy="111.33" rx="1.9" ry="2.8" transform="rotate(-34.88 94.13 111.33)"/><ellipse cx="54.75" cy="70.92" rx="1.9" ry="2.8" transform="rotate(20.66 54.75 70.92)"/><ellipse cx="69.88" cy="67.01" rx="1.9" ry="2.8" transform="rotate(7.29 69.88 67.01)"/><ellipse cx="86.83" cy="96.99" rx="1.9" ry="2.8" transform="rotate(-15.9 86.83 96.99)"/><ellipse cx="82.91" cy="125.67" rx="1.9" ry="2.8" transform="rotate(-37.52 82.91 125.67)"/><ellipse cx="38.59" cy="94.39" rx="1.9" ry="2.8" transform="rotate(29.24 38.59 94.39)"/><ellipse cx="68.57" cy="104.82" rx="1.9" ry="2.8" transform="rotate(-2.18 68.57 104.82)"/></g></svg>
<svg x="1660" y="2275.1" width="128" height="127.5" viewBox="0 0 128 128" preserveAspectRatio="none" overflow="hidden"><rect width="128" height="128" fill="#01020a"/><g filter="url(#fb06)"><circle cx="74.57" cy="27.9" r="7.04" fill="#304baf" fill-opacity="0.82"/><circle cx="55.54" cy="40.94" r="7.04" fill="#314db3" fill-opacity="0.85"/><circle cx="49.02" cy="46.93" r="3.91" fill="#2e48a7" fill-opacity="0.75"/><circle cx="86.3" cy="59.19" r="7.82" fill="#324fb6" fill-opacity="0.89"/><circle cx="38.07" cy="69.62" r="7.82" fill="#2e48a7" fill-opacity="0.75"/><circle cx="60.23" cy="66.23" r="6.52" fill="#2e48a7" fill-opacity="0.75"/><circle cx="66.75" cy="83.96" r="7.82" fill="#314db3" fill-opacity="0.85"/><circle cx="88.13" cy="84.48" r="3.13" fill="#3452be" fill-opacity="0.95"/><circle cx="92.56" cy="83.44" r="2.09" fill="#3452be" fill-opacity="0.95"/></g><g fill="#4663d6" filter="url(#fb04)"><ellipse cx="91.26" cy="29.2" rx="1.9" ry="2.8" transform="rotate(-21.12 91.26 29.2)"/><ellipse cx="94.65" cy="48.76" rx="1.9" ry="2.8" transform="rotate(-31.75 94.65 48.76)"/><ellipse cx="13.3" cy="68.83" rx="1.9" ry="2.8" transform="rotate(-8.32 13.3 68.83)"/><ellipse cx="35.98" cy="83.44" rx="1.9" ry="2.8" transform="rotate(-27.6 35.98 83.44)"/><ellipse cx="15.12" cy="91.78" rx="1.9" ry="2.8" transform="rotate(-34.68 15.12 91.78)"/><ellipse cx="37.29" cy="92.3" rx="1.9" ry="2.8" transform="rotate(-7.87 37.29 92.3)"/><ellipse cx="17.73" cy="96.99" rx="1.9" ry="2.8" transform="rotate(33.44 17.73 96.99)"/><ellipse cx="19.03" cy="103.51" rx="1.9" ry="2.8" transform="rotate(24.04 19.03 103.51)"/><ellipse cx="12.52" cy="110.03" rx="1.9" ry="2.8" transform="rotate(21.21 12.52 110.03)"/><ellipse cx="22.94" cy="108.73" rx="1.9" ry="2.8" transform="rotate(-22.25 22.94 108.73)"/><ellipse cx="26.86" cy="106.9" rx="1.9" ry="2.8" transform="rotate(2.93 26.86 106.9)"/><ellipse cx="34.68" cy="107.42" rx="1.9" ry="2.8" transform="rotate(-17.87 34.68 107.42)"/><ellipse cx="7.3" cy="113.94" rx="1.9" ry="2.8" transform="rotate(-26.19 7.3 113.94)"/><ellipse cx="16.43" cy="115.25" rx="1.9" ry="2.8" transform="rotate(-31.51 16.43 115.25)"/><ellipse cx="29.46" cy="113.94" rx="1.9" ry="2.8" transform="rotate(-22.85 29.46 113.94)"/><ellipse cx="39.89" cy="113.16" rx="1.9" ry="2.8" transform="rotate(34.2 39.89 113.16)"/><ellipse cx="47.71" cy="115.25" rx="1.9" ry="2.8" transform="rotate(26.31 47.71 115.25)"/><ellipse cx="58.14" cy="113.16" rx="1.9" ry="2.8" transform="rotate(24.53 58.14 113.16)"/><ellipse cx="4.69" cy="121.76" rx="1.9" ry="2.8" transform="rotate(24.04 4.69 121.76)"/><ellipse cx="12.52" cy="120.46" rx="1.9" ry="2.8" transform="rotate(-24.53 12.52 120.46)"/><ellipse cx="17.73" cy="119.16" rx="1.9" ry="2.8" transform="rotate(-15.21 17.73 119.16)"/><ellipse cx="30.77" cy="119.16" rx="1.9" ry="2.8" transform="rotate(10.16 30.77 119.16)"/><ellipse cx="34.68" cy="121.76" rx="1.9" ry="2.8" transform="rotate(18.55 34.68 121.76)"/><ellipse cx="43.8" cy="119.16" rx="1.9" ry="2.8" transform="rotate(28.37 43.8 119.16)"/><ellipse cx="50.32" cy="120.46" rx="1.9" ry="2.8" transform="rotate(30.4 50.32 120.46)"/><ellipse cx="49.02" cy="124.37" rx="1.9" ry="2.8" transform="rotate(-33.06 49.02 124.37)"/><ellipse cx="52.93" cy="126.98" rx="1.9" ry="2.8" transform="rotate(8.47 52.93 126.98)"/><ellipse cx="25.55" cy="115.25" rx="1.9" ry="2.8" transform="rotate(13.74 25.55 115.25)"/><ellipse cx="9.13" cy="117.85" rx="1.9" ry="2.8" transform="rotate(0.48 9.13 117.85)"/><ellipse cx="38.59" cy="117.85" rx="1.9" ry="2.8" transform="rotate(-25.78 38.59 117.85)"/><ellipse cx="84.74" cy="67.79" rx="1.9" ry="2.8" transform="rotate(-2.11 84.74 67.79)"/><ellipse cx="63.36" cy="48.76" rx="1.9" ry="2.8" transform="rotate(-32.85 63.36 48.76)"/></g></svg>
<svg x="1521.8" y="2409.1" width="128" height="128.1" viewBox="0 0 128 128" preserveAspectRatio="none" overflow="hidden"><rect width="128" height="128" fill="#01020a"/><circle cx="65" cy="67.6" r="49" fill="url(#gi1m)" filter="url(#fb12)"/><path d="M85.5 102.3h0M42.8 42.4h0M74.2 109.8h0M77.3 35.1h0M41.4 66.8h0M94.5 68.2h0M54.0 61.1h0M71.3 45.1h0M66.1 77.5h0M106.7 67.0h0M91.9 40.7h0M92.2 73.5h0M48.5 67.9h0M93.1 58.8h0M89.7 103.8h0M98.1 100.6h0M30.5 78.1h0M46.4 95.8h0M68.6 76.2h0M80.6 50.1h0M69.2 45.8h0M110.0 58.7h0M66.3 25.3h0M28.8 47.5h0M89.0 90.9h0M75.1 48.3h0M105.5 46.4h0M40.3 83.4h0M36.3 76.7h0M95.1 66.6h0M79.6 70.1h0M55.4 20.2h0M31.0 68.5h0M25.1 54.5h0M71.6 104.9h0M29.1 54.3h0M73.4 85.7h0M38.0 105.7h0M43.6 98.4h0M59.6 82.2h0M105.1 85.1h0M70.0 38.3h0M48.8 31.2h0M103.2 39.4h0M24.8 94.2h0M101.2 58.7h0M90.2 44.8h0M47.9 84.6h0M78.9 53.9h0M104.5 86.0h0M70.0 34.3h0M70.8 58.1h0M63.7 93.7h0M47.5 77.3h0M90.6 79.5h0M103.8 39.1h0M64.1 34.0h0M64.3 115.1h0M24.1 61.0h0M87.0 71.6h0M87.8 30.8h0M92.7 42.1h0M31.9 84.2h0M80.7 45.8h0M40.1 62.1h0M65.6 62.7h0M46.3 24.1h0M102.0 73.1h0M37.3 32.4h0M43.8 55.2h0M25.6 94.1h0M79.7 57.7h0M77.3 75.9h0M97.0 72.7h0M93.6 102.6h0M55.3 53.3h0M38.2 61.0h0M42.3 68.5h0M75.5 85.6h0M35.6 96.0h0M55.1 64.4h0M54.0 23.6h0M71.5 25.0h0M98.0 69.2h0M104.1 84.1h0M83.5 104.1h0M64.3 108.1h0M61.1 76.7h0M44.3 84.9h0M86.4 52.2h0M29.1 66.9h0M79.4 62.7h0M37.2 47.1h0M60.4 20.1h0M50.0 105.3h0M29.2 61.7h0M105.3 84.7h0M93.6 63.4h0M44.9 111.6h0M75.4 76.0h0M104.2 87.1h0M67.0 35.2h0M60.1 62.9h0M45.2 42.1h0M34.9 64.3h0M46.2 81.0h0M95.5 77.2h0M65.8 108.3h0M81.9 30.0h0M42.3 74.0h0M39.6 89.9h0M32.8 32.5h0M93.9 84.8h0M24.0 69.7h0M98.1 40.4h0M35.5 37.4h0M42.9 28.5h0M52.4 29.6h0M66.4 114.0h0M36.3 92.6h0M86.6 25.2h0M68.9 67.3h0M54.6 92.6h0M50.7 79.3h0M52.1 63.1h0M49.7 112.2h0M63.4 34.7h0M101.9 97.4h0M58.7 46.5h0M45.2 101.0h0M54.7 45.1h0M91.2 59.3h0M63.8 112.2h0M87.8 100.5h0M76.6 103.3h0M59.9 97.0h0M95.9 55.5h0M29.9 82.3h0M61.1 87.5h0M46.1 84.4h0M82.9 111.6h0M107.6 77.0h0M102.3 51.4h0M99.1 71.7h0M101.7 76.8h0M57.7 45.0h0M100.7 69.3h0M87.3 82.7h0M21.0 80.6h0M52.8 80.6h0M76.4 25.1h0M54.4 65.6h0M76.8 96.0h0M43.2 60.2h0M79.4 25.4h0M105.6 46.9h0M101.8 71.7h0M105.3 89.9h0M64.2 25.3h0M69.5 78.6h0M80.0 33.0h0M40.8 44.8h0M73.7 40.8h0M61.4 96.2h0M53.6 104.3h0M75.0 59.4h0M96.6 81.9h0M55.8 48.6h0M63.5 79.3h0M98.2 75.5h0M48.5 32.1h0M73.5 80.7h0M97.3 52.6h0M31.2 89.5h0M60.1 32.8h0M103.9 88.4h0M67.2 77.1h0M43.8 95.9h0M51.0 53.0h0M56.4 34.6h0M88.5 105.7h0M81.1 24.3h0M55.3 47.2h0M73.0 22.2h0M19.8 58.0h0M94.8 62.0h0M108.8 50.8h0M66.4 62.7h0M42.3 98.1h0M32.0 41.3h0M53.2 52.1h0M97.2 52.6h0M81.2 52.7h0M101.1 67.2h0M71.7 26.4h0M86.6 48.0h0M91.8 83.0h0M80.5 99.7h0M76.6 40.8h0M70.4 73.4h0M32.3 84.8h0M104.0 74.1h0M68.9 83.0h0M96.5 52.2h0M92.5 46.3h0M82.0 84.2h0M30.5 85.4h0M70.5 25.9h0M50.8 47.8h0M38.0 80.3h0M40.1 69.2h0M33.1 59.9h0M107.9 77.3h0M27.8 45.1h0M61.5 26.3h0M94.7 66.4h0M62.7 69.4h0M46.0 35.8h0M22.0 45.2h0M72.6 89.4h0M60.7 24.1h0M53.7 68.8h0M34.7 99.7h0M32.1 67.6h0M35.5 92.2h0M32.1 44.2h0M92.9 36.1h0M47.8 84.8h0M73.6 25.3h0M84.5 58.2h0M91.4 30.2h0M88.8 80.2h0M52.6 53.8h0M77.2 45.8h0M54.1 43.6h0M69.4 89.2h0M24.1 68.2h0M73.1 107.0h0M45.1 101.2h0M50.6 83.3h0M72.4 76.6h0M54.7 38.2h0M97.5 99.4h0M61.0 61.8h0M59.1 30.7h0M32.8 79.5h0M93.8 60.6h0M39.6 38.4h0M46.0 88.9h0M66.2 28.9h0M31.5 76.9h0M72.1 110.1h0M103.6 72.4h0M43.1 74.0h0M33.3 48.4h0M94.0 85.2h0M87.1 104.9h0M52.1 92.2h0M67.3 78.0h0M72.3 85.0h0M33.3 36.2h0M67.9 83.5h0M48.9 64.1h0M30.0 91.3h0M76.8 106.4h0M51.3 64.2h0M66.8 105.1h0M83.0 80.0h0M26.1 47.3h0M25.8 62.5h0M91.6 69.1h0M45.8 109.8h0M38.1 101.1h0M98.4 74.9h0M98.1 40.7h0M46.8 57.7h0M77.3 61.5h0M106.7 58.2h0M58.3 32.9h0M79.6 91.9h0M44.8 33.9h0M31.7 95.4h0M89.5 76.2h0M88.3 82.5h0M76.2 27.0h0M80.9 89.3h0M95.1 93.2h0M43.2 75.8h0M33.3 99.7h0M29.1 85.9h0M41.8 43.6h0M37.6 57.4h0M75.9 99.9h0M55.6 93.8h0M83.0 110.3h0M45.6 77.4h0M87.0 72.0h0M84.1 46.9h0M53.4 47.4h0M46.0 41.2h0M62.0 32.5h0M46.8 85.7h0M28.3 42.9h0M52.9 36.2h0M43.3 107.9h0M75.5 52.4h0M46.7 29.1h0M43.6 25.1h0M82.4 51.0h0M92.8 67.0h0M30.1 100.4h0M80.1 94.1h0M47.2 49.6h0M60.4 110.6h0M33.2 40.4h0M76.2 23.7h0M99.5 40.3h0M99.0 63.0h0M54.6 34.4h0M103.5 60.1h0M29.2 84.3h0M60.1 84.4h0M51.4 79.4h0M79.7 68.0h0M24.4 79.6h0M101.9 79.2h0M91.5 89.9h0M55.8 98.7h0M57.6 37.3h0M32.8 93.6h0M86.4 86.7h0M51.8 25.3h0M89.4 64.4h0M45.8 48.4h0M51.7 25.0h0M83.8 89.0h0M91.5 56.4h0M35.4 35.2h0M57.3 109.8h0M93.3 68.2h0M79.2 92.3h0M66.8 75.1h0M71.6 48.5h0M32.6 51.6h0M91.1 31.4h0M50.6 53.8h0M66.0 52.5h0M89.3 55.9h0M64.6 90.2h0M30.7 93.8h0M90.7 34.5h0M61.9 43.8h0M53.4 91.7h0M23.6 86.0h0M79.0 67.2h0M110.3 57.3h0M25.8 77.4h0M69.5 47.1h0M29.1 35.6h0M98.8 36.0h0M100.3 88.4h0M18.9 71.5h0M82.9 98.7h0M96.6 97.5h0M63.5 59.2h0M58.3 84.6h0M39.6 38.7h0M108.7 85.7h0M96.4 60.6h0M38.9 54.5h0M40.9 48.7h0M25.9 82.9h0M75.3 92.0h0M67.0 44.7h0M107.0 87.0h0M81.7 93.8h0M55.4 90.5h0M43.7 96.0h0M91.4 91.2h0M77.9 71.9h0M72.0 90.3h0M50.8 89.6h0M85.4 34.0h0M23.0 74.7h0M54.3 42.5h0M33.7 39.7h0M23.9 58.6h0M33.6 33.0h0M61.5 107.2h0M99.9 62.5h0M77.4 59.2h0M60.9 43.0h0M65.1 36.0h0M41.4 62.3h0M63.0 112.7h0M41.1 37.5h0M84.6 85.1h0M86.4 63.2h0M25.7 58.1h0M29.0 65.2h0M107.1 59.6h0M67.6 99.3h0M29.9 87.0h0M53.7 45.5h0M53.7 37.8h0M91.1 70.1h0M49.6 82.6h0M41.9 25.2h0M100.0 51.5h0M86.2 41.0h0M25.8 43.9h0M92.2 78.3h0M45.1 87.7h0M54.6 72.7h0M44.5 24.8h0M67.1 88.4h0M43.0 104.9h0M71.3 109.7h0M82.5 100.7h0M57.8 28.4h0M105.9 91.6h0M84.4 40.1h0M88.9 38.5h0M80.0 94.2h0M79.2 37.8h0M84.1 72.7h0M79.5 101.8h0M44.9 42.1h0M25.9 94.7h0M43.1 100.8h0M74.8 101.0h0M72.0 82.4h0M56.5 81.7h0M36.2 94.2h0M23.8 54.5h0M51.1 69.6h0M60.6 37.2h0M65.4 19.7h0M41.0 63.9h0M43.5 94.3h0M58.5 81.6h0M33.4 91.0h0M82.1 28.9h0M97.4 38.7h0M31.9 88.2h0M105.7 82.0h0M58.5 43.5h0M40.1 72.0h0M73.9 37.2h0M74.0 21.9h0M70.2 38.1h0M39.1 107.0h0M82.4 55.7h0M37.1 100.4h0M66.0 41.8h0M20.1 83.4h0M86.4 81.2h0M41.3 27.9h0M96.4 56.7h0M77.0 21.3h0M53.9 87.9h0M62.4 110.4h0M87.9 95.2h0M84.7 58.3h0M40.6 42.1h0M99.0 60.3h0M19.0 70.2h0M65.3 49.1h0M75.2 38.7h0M111.7 58.3h0M33.7 68.9h0M68.7 92.8h0M70.4 86.7h0M63.6 56.7h0M34.5 45.8h0M61.7 31.2h0M88.1 56.3h0M95.9 88.0h0M59.2 115.5h0M100.5 48.6h0M77.0 46.9h0M35.1 70.4h0M48.3 92.1h0M26.2 73.1h0M100.2 73.2h0M98.1 102.0h0M29.7 55.7h0M48.8 105.0h0M53.5 22.8h0M43.0 55.4h0M57.5 59.7h0M64.0 40.8h0M61.6 50.3h0M48.7 56.1h0M89.3 73.3h0M82.5 43.0h0M22.3 61.4h0M89.5 64.3h0M50.2 27.3h0M72.8 40.1h0M22.6 74.5h0M64.8 101.4h0M35.1 34.3h0M66.5 107.1h0M68.9 86.4h0M26.4 73.2h0M34.9 31.2h0M83.1 97.9h0M40.5 70.7h0M81.0 58.5h0M64.4 77.3h0M40.6 36.7h0M72.7 113.5h0M50.6 51.3h0M106.8 51.5h0M47.4 109.1h0M84.5 88.5h0M23.6 90.7h0M55.9 96.3h0M76.6 109.9h0M83.1 108.4h0M45.6 97.9h0M82.9 50.1h0M26.9 60.7h0M37.7 53.1h0M48.5 46.0h0M67.6 71.4h0M36.1 44.9h0M70.9 49.3h0M49.8 38.7h0M21.3 60.7h0M33.2 63.8h0M53.6 52.8h0M89.3 42.6h0M97.5 76.5h0M110.2 51.5h0M42.6 78.8h0M88.8 57.5h0M89.0 70.3h0M25.9 74.9h0M90.6 79.0h0M61.0 39.4h0M83.4 104.1h0M27.7 83.3h0M21.5 71.9h0M17.2 64.0h0M80.9 29.6h0M27.2 69.9h0M55.4 77.0h0M97.6 38.7h0M69.8 22.9h0M19.1 52.4h0M17.6 75.6h0M91.1 82.1h0M25.4 48.6h0M22.3 62.0h0M37.0 96.0h0M75.8 31.6h0M104.0 72.7h0M91.7 67.6h0M96.8 95.6h0M85.2 103.4h0M84.8 77.3h0M49.2 23.7h0M99.2 84.1h0M34.4 90.6h0M70.6 70.5h0M105.3 89.3h0M27.1 69.9h0M91.9 97.5h0M82.5 55.0h0M73.5 23.7h0M101.4 65.8h0M47.5 45.1h0M70.2 41.1h0M37.6 40.7h0M107.9 64.7h0M81.8 79.2h0M46.0 91.5h0M59.9 43.4h0M34.6 55.8h0M51.8 104.2h0M21.1 86.9h0M96.6 101.0h0M43.6 42.7h0M99.4 85.9h0M74.4 40.5h0M56.7 33.2h0M102.9 91.8h0M52.3 98.7h0M68.3 22.3h0M82.9 44.2h0M75.9 52.1h0M34.8 57.4h0M92.5 36.9h0M41.4 30.9h0M46.4 94.0h0M87.9 84.9h0M77.9 107.0h0M96.9 101.3h0M38.8 48.5h0M88.7 89.7h0M48.0 60.4h0M93.8 63.3h0M41.3 78.0h0M47.2 85.8h0M72.9 57.3h0M40.3 95.8h0M37.6 71.1h0M52.9 68.8h0M53.7 97.5h0M68.3 36.0h0M31.2 87.5h0M59.0 103.1h0M78.0 103.4h0M27.0 58.1h0M95.5 37.0h0M88.4 65.9h0M96.0 58.4h0M43.1 91.9h0M106.7 45.1h0M74.0 42.6h0M81.1 82.5h0M45.9 31.7h0M67.7 68.8h0M93.2 66.7h0M97.0 76.2h0M100.8 92.8h0M27.7 60.6h0M80.4 60.0h0M74.3 109.6h0M39.9 47.6h0M41.4 97.6h0M109.4 51.5h0M106.7 43.8h0M70.5 73.6h0M76.5 46.4h0M32.1 63.1h0M96.8 62.3h0M79.5 84.0h0M101.0 42.7h0M95.4 104.2h0M36.3 97.4h0M23.7 49.8h0M56.7 68.2h0M23.2 51.7h0M27.7 91.0h0M37.6 77.2h0M50.3 85.5h0M17.5 67.4h0M29.2 44.7h0M77.7 94.2h0M38.7 53.1h0M110.1 70.1h0M92.1 96.1h0M90.9 64.4h0M61.6 95.3h0M18.7 55.1h0M79.8 86.5h0M85.3 52.1h0M44.5 31.9h0M73.0 67.6h0M67.6 21.2h0M53.7 36.4h0M93.4 88.5h0M86.3 85.2h0M99.0 75.2h0M39.7 72.9h0M67.2 79.9h0M82.0 70.6h0M73.8 66.6h0M58.1 35.6h0M42.2 53.6h0M108.3 62.4h0M38.7 85.6h0M81.7 58.1h0M91.8 40.5h0M32.7 53.1h0M52.7 59.7h0M65.2 96.4h0M67.5 81.6h0M57.7 37.0h0M63.3 37.3h0M87.4 59.0h0M33.6 65.1h0M69.5 50.6h0M33.7 58.3h0M48.4 51.1h0M18.6 54.8h0M103.2 96.4h0M96.8 60.9h0M94.8 84.3h0M66.5 67.2h0M65.8 24.8h0M93.2 92.6h0M74.1 79.9h0M38.8 64.1h0M46.0 38.0h0M71.0 113.7h0M108.4 69.3h0M55.8 112.7h0M39.3 47.1h0M74.5 111.5h0M94.8 30.6h0M25.6 42.7h0M96.3 43.3h0M45.1 99.6h0M40.8 104.1h0M22.3 52.9h0M97.8 41.1h0M73.2 94.5h0M89.1 82.0h0M79.6 89.8h0M69.6 51.5h0M105.5 44.6h0M68.2 44.1h0M56.7 99.3h0M30.7 35.9h0M79.1 69.4h0M68.2 61.1h0M81.4 54.6h0M97.9 62.7h0M30.4 40.4h0M78.9 39.6h0M23.3 78.2h0M63.9 94.3h0M96.4 34.6h0M78.3 42.5h0M56.4 80.7h0M70.3 58.3h0M68.1 74.5h0M18.3 80.4h0M87.0 78.0h0M60.4 107.9h0M52.5 83.5h0M48.5 24.6h0M71.2 78.1h0M25.8 93.4h0M81.8 74.2h0M39.2 34.1h0M55.2 70.7h0M50.5 62.8h0M75.3 72.8h0M79.3 61.6h0M21.6 74.4h0M74.2 96.4h0M74.9 32.5h0M77.2 101.0h0M108.9 66.2h0M72.2 65.9h0M97.1 79.9h0M112.4 71.4h0M55.6 102.3h0M87.7 45.6h0M66.9 48.6h0M26.1 81.6h0M44.5 71.8h0M83.4 45.1h0M88.2 53.4h0M73.0 52.5h0M43.5 25.5h0M43.3 45.2h0M112.3 61.8h0M75.0 47.0h0M97.2 87.8h0M72.9 76.5h0M20.7 51.5h0M59.3 111.2h0M110.6 56.1h0M80.5 76.3h0M110.8 54.4h0M74.8 85.8h0M61.5 52.9h0M80.4 79.4h0M38.9 53.6h0M75.4 51.8h0M99.3 41.7h0M38.4 94.3h0M57.5 52.4h0M94.3 54.3h0M20.4 63.4h0M89.9 70.9h0M105.8 75.6h0M73.1 107.9h0M55.2 20.2h0M78.2 95.9h0M72.7 36.2h0M82.9 103.2h0M73.9 36.4h0M52.0 79.5h0M28.1 92.4h0M36.1 105.1h0M44.0 93.7h0M73.4 22.1h0M82.7 41.5h0M48.3 72.8h0M22.4 57.1h0M74.9 93.0h0M94.9 80.7h0M17.1 73.4h0M42.6 26.9h0M74.9 98.1h0M61.1 55.0h0M30.4 51.0h0M86.5 71.3h0M69.1 48.5h0M44.6 43.6h0M30.1 96.6h0M28.8 95.1h0M80.5 35.0h0M87.5 84.3h0M88.9 60.6h0M46.7 55.9h0M60.5 27.6h0M93.8 43.8h0M98.3 95.3h0M23.2 45.9h0M37.6 64.2h0M31.0 80.3h0M52.7 31.0h0M87.9 40.5h0M77.6 110.8h0M60.4 48.9h0M21.6 78.5h0M50.0 59.7h0M92.6 36.6h0M78.2 105.8h0M89.1 39.8h0M98.7 56.2h0M104.3 70.6h0M87.4 26.9h0M66.6 20.6h0M76.0 36.1h0M83.4 75.0h0M109.4 81.8h0M81.3 24.4h0M70.5 35.4h0M57.9 64.6h0M81.4 93.5h0M90.9 76.7h0M45.7 65.3h0M71.2 80.3h0M22.2 79.4h0M26.5 80.8h0M55.8 25.1h0M74.8 34.7h0M84.1 73.3h0M60.0 95.3h0M37.2 47.7h0M60.3 86.9h0M61.5 19.3h0M59.6 50.2h0M50.3 26.8h0M27.5 58.5h0M86.7 42.0h0M59.6 48.4h0M83.9 36.2h0M78.9 103.3h0M79.7 38.7h0M49.4 105.4h0M112.5 66.1h0M52.6 99.1h0M51.9 80.4h0M40.1 60.2h0M21.3 73.7h0M19.7 51.1h0M71.1 87.6h0M102.5 83.6h0M59.9 89.7h0M33.5 31.1h0M65.9 20.2h0M97.0 53.0h0M73.0 109.2h0M67.6 80.1h0M35.7 97.3h0M44.2 44.6h0M79.2 81.9h0M37.5 47.5h0M24.7 56.6h0M24.5 47.5h0M95.6 50.7h0M43.0 94.1h0M65.0 87.9h0M59.0 35.9h0M95.1 71.9h0M59.8 78.4h0M102.6 73.0h0M80.1 25.8h0M46.1 54.4h0M48.7 48.4h0M68.4 95.2h0M75.7 79.7h0M79.0 66.4h0M104.7 60.3h0M64.2 51.4h0M55.8 48.0h0M32.4 66.0h0M77.5 58.7h0M102.0 69.3h0M26.4 61.5h0" stroke="#3e863e" stroke-width="0.9" stroke-linecap="round" fill="none" opacity="0.7"/><path d="M91.5 60.5h0M113.4 74.8h0M75.8 92.1h0M45.3 40.0h0M88.4 48.1h0M97.1 59.3h0M26.6 39.3h0M46.2 24.0h0M58.7 44.4h0M94.5 40.3h0M54.1 94.7h0M88.5 35.2h0M106.0 50.7h0M103.5 58.0h0M52.0 29.0h0M62.5 115.7h0M48.0 108.7h0M104.9 55.9h0M93.5 103.0h0M50.6 42.4h0M102.0 79.4h0M111.5 77.2h0M26.6 66.1h0M29.7 90.2h0M93.4 51.2h0M36.9 96.1h0M53.2 106.2h0M30.0 57.9h0M47.0 33.3h0M106.6 93.3h0M42.7 96.1h0M26.0 94.9h0M101.6 56.3h0M44.0 82.7h0M87.6 50.2h0M32.5 57.8h0M48.8 97.8h0M73.5 89.6h0M21.3 57.7h0M47.2 44.0h0M56.6 44.9h0M26.5 91.8h0M97.5 50.0h0M86.6 36.4h0M25.4 61.6h0M108.6 65.2h0M22.3 74.9h0M43.8 40.9h0M74.7 23.3h0M27.8 37.5h0M102.7 71.9h0M42.6 42.4h0M85.2 105.1h0M36.0 80.3h0M111.7 80.2h0M49.0 89.0h0M71.6 98.1h0M84.2 46.1h0M60.7 93.2h0M35.8 73.2h0M40.7 103.7h0M105.7 46.9h0M98.8 75.9h0M78.7 48.5h0M75.9 103.7h0M32.6 97.1h0M57.6 31.3h0M65.2 98.1h0M62.5 92.2h0M50.8 43.4h0M96.9 41.0h0M100.6 80.9h0M46.1 53.2h0M41.8 69.5h0M67.3 45.5h0M32.1 31.7h0M82.4 42.5h0M38.2 61.7h0M39.7 106.3h0M74.3 47.2h0M34.9 95.9h0M85.3 107.7h0M95.7 43.2h0M35.3 102.6h0M36.0 65.3h0M60.1 95.3h0M85.2 35.1h0M50.1 24.8h0M93.8 62.8h0M26.4 93.5h0M67.6 32.7h0M48.6 43.3h0M77.7 88.1h0M42.7 88.6h0M16.9 62.2h0M87.6 99.9h0M91.7 37.2h0M21.4 60.1h0M112.5 74.2h0M47.5 26.1h0M76.8 44.5h0M91.3 79.3h0M17.2 66.2h0M95.1 48.3h0M33.7 37.3h0M41.0 109.7h0M105.5 52.1h0M101.6 41.5h0M45.9 40.5h0M59.0 97.7h0M109.5 84.4h0M58.1 89.6h0M54.4 91.5h0M33.5 78.9h0M81.9 101.0h0M35.6 85.0h0M77.7 37.4h0M20.0 55.7h0M98.6 58.8h0M111.5 79.7h0M35.1 64.9h0M86.3 89.8h0M54.8 93.1h0M111.6 82.4h0M76.3 43.6h0M20.4 73.0h0M40.1 66.9h0M46.4 97.1h0M99.4 47.1h0M25.2 78.1h0M105.5 80.4h0M80.0 28.3h0M44.4 92.3h0M90.3 69.2h0M85.8 98.0h0M70.3 38.0h0M24.3 74.7h0M49.3 50.9h0M100.2 48.4h0M54.9 96.6h0M47.2 23.4h0M46.6 97.7h0M38.2 57.5h0M25.7 94.0h0M22.4 51.8h0M61.5 113.8h0M71.2 37.9h0M23.4 59.7h0M28.7 49.7h0M67.5 106.9h0M37.6 103.1h0M31.1 102.5h0M38.4 52.9h0M41.7 81.3h0M63.0 43.7h0M39.1 47.5h0M69.6 41.0h0M46.8 28.6h0M67.9 94.6h0M36.1 97.5h0M63.5 90.0h0M22.9 83.8h0M91.2 107.6h0M36.9 66.1h0M93.0 87.9h0M36.6 71.8h0M97.8 86.8h0M64.1 104.2h0M24.3 80.6h0M38.2 53.4h0M84.7 109.3h0M90.5 76.0h0M106.2 86.9h0M19.1 55.5h0M41.4 43.7h0M25.6 86.0h0M70.3 112.3h0M45.1 80.7h0M43.1 100.4h0M93.5 105.1h0M99.2 50.5h0M100.1 43.6h0M37.7 61.0h0M110.3 53.8h0M31.6 78.0h0M101.6 85.9h0M86.5 39.9h0M55.2 107.1h0M72.7 40.2h0M56.6 108.2h0M108.8 79.2h0M46.7 109.4h0M37.8 75.5h0M91.3 70.8h0M62.2 111.5h0M76.2 28.0h0M50.3 106.9h0M61.2 33.3h0M97.4 85.8h0M70.1 96.3h0M45.6 83.5h0M90.6 48.5h0M100.0 41.6h0M111.9 70.8h0M79.1 31.6h0M93.0 42.7h0M92.5 72.0h0M47.9 110.4h0M77.8 44.2h0M49.5 89.0h0M69.6 101.4h0M41.1 81.8h0M48.1 41.8h0M93.9 43.7h0M25.1 86.5h0M47.4 93.5h0M88.3 90.2h0M69.2 110.9h0M38.7 101.5h0M61.0 92.2h0M53.1 100.7h0M89.9 51.8h0M71.7 94.8h0M64.0 115.8h0M92.6 55.0h0M100.8 79.2h0M42.2 54.2h0M26.5 89.4h0M108.2 68.0h0M47.3 26.6h0M28.1 70.7h0M37.9 64.4h0M34.4 64.9h0M54.7 89.2h0M78.2 88.0h0M35.4 59.8h0M29.2 54.6h0M67.9 94.5h0M30.2 43.7h0M51.0 32.1h0M44.8 56.5h0M49.4 109.7h0M46.2 85.9h0M24.9 89.4h0M86.6 82.9h0M18.6 68.1h0M41.1 87.3h0M67.9 41.9h0M53.6 106.4h0M92.0 30.1h0M50.5 95.7h0M47.5 87.9h0M58.7 111.4h0M96.4 63.4h0M104.2 86.8h0M108.8 58.1h0M27.7 90.4h0M67.9 24.0h0M16.1 69.8h0M70.9 37.6h0M41.8 78.4h0M33.0 99.7h0M26.5 70.9h0M69.6 42.5h0M42.2 97.5h0M22.6 69.2h0M106.5 50.3h0M24.3 55.6h0M17.7 55.9h0M31.9 44.6h0M36.5 89.4h0M68.0 33.1h0M100.7 43.0h0M106.2 55.7h0M33.8 52.9h0M106.6 72.3h0M65.4 24.3h0M66.3 44.1h0M52.1 38.3h0M29.5 97.5h0M34.3 88.5h0M92.4 76.6h0M72.4 96.6h0M41.2 64.2h0M86.6 81.1h0M60.0 19.4h0M65.0 29.2h0M95.4 100.2h0M82.3 85.9h0M18.9 64.3h0M47.8 110.5h0M41.1 109.6h0M61.7 21.4h0M110.1 63.2h0M77.7 103.8h0M23.5 55.6h0M70.1 107.2h0M58.8 95.9h0M22.2 81.6h0M32.8 56.3h0" stroke="#7ed278" stroke-width="0.9" stroke-linecap="round" fill="none" opacity="0.75"/><circle cx="51.63" cy="34.42" r="6" fill="#359048" filter="url(#fb06)"/><g filter="url(#fb06)"><circle cx="52.41" cy="34.42" r="6.52" fill="#2e4cc8" fill-opacity="0.57"/><circle cx="78.48" cy="37.02" r="6.52" fill="#2e4cc8" fill-opacity="0.8"/><circle cx="57.62" cy="57.88" r="6.26" fill="#2e4cc8" fill-opacity="0.75"/><circle cx="84.22" cy="56.58" r="7.04" fill="#2e4cc8" fill-opacity="0.82"/><circle cx="92.56" cy="61.01" r="6.26" fill="#2e4cc8" fill-opacity="0.57"/><circle cx="34.68" cy="59.19" r="6.52" fill="#2e4cc8" fill-opacity="0.52"/><circle cx="70.66" cy="50.06" r="5.74" fill="#2e4cc8" fill-opacity="0.52"/><circle cx="41.2" cy="69.62" r="5.21" fill="#2e4cc8" fill-opacity="0.8"/><circle cx="60.75" cy="83.96" r="5.21" fill="#2e4cc8" fill-opacity="0.8"/><circle cx="79.52" cy="83.44" r="7.04" fill="#2e4cc8" fill-opacity="0.8"/><circle cx="39.89" cy="88.65" r="4.69" fill="#2e4cc8" fill-opacity="0.75"/><circle cx="58.67" cy="103.51" r="4.69" fill="#2e4cc8" fill-opacity="0.7"/><circle cx="50.32" cy="77.44" r="4.69" fill="#2e4cc8" fill-opacity="0.5"/></g><g fill="#4a66e0" filter="url(#fb04)"><ellipse cx="81.61" cy="10.17" rx="1.9" ry="2.8" transform="rotate(-20.96 81.61 10.17)"/><ellipse cx="99.34" cy="12.25" rx="1.9" ry="2.8" transform="rotate(3.54 99.34 12.25)"/><ellipse cx="30.77" cy="18.77" rx="1.9" ry="2.8" transform="rotate(-10.4 30.77 18.77)"/><ellipse cx="28.94" cy="22.16" rx="1.9" ry="2.8" transform="rotate(8.31 28.94 22.16)"/><ellipse cx="32.59" cy="27.12" rx="1.9" ry="2.8" transform="rotate(10.06 32.59 27.12)"/><ellipse cx="46.41" cy="20.08" rx="1.9" ry="2.8" transform="rotate(-34.76 46.41 20.08)"/><ellipse cx="51.63" cy="17.47" rx="1.9" ry="2.8" transform="rotate(-38.95 51.63 17.47)"/><ellipse cx="57.62" cy="17.47" rx="1.9" ry="2.8" transform="rotate(27 57.62 17.47)"/><ellipse cx="55.54" cy="22.16" rx="1.9" ry="2.8" transform="rotate(-19.25 55.54 22.16)"/><ellipse cx="26.07" cy="38.33" rx="1.9" ry="2.8" transform="rotate(-21.25 26.07 38.33)"/><ellipse cx="112.9" cy="45.37" rx="1.9" ry="2.8" transform="rotate(39.65 112.9 45.37)"/><ellipse cx="97.25" cy="48.76" rx="1.9" ry="2.8" transform="rotate(-2.38 97.25 48.76)"/><ellipse cx="95.95" cy="53.19" rx="1.9" ry="2.8" transform="rotate(26.92 95.95 53.19)"/><ellipse cx="20.34" cy="72.22" rx="1.9" ry="2.8" transform="rotate(-1.89 20.34 72.22)"/><ellipse cx="114.2" cy="73.53" rx="1.9" ry="2.8" transform="rotate(11.13 114.2 73.53)"/><ellipse cx="123.33" cy="85.26" rx="1.9" ry="2.8" transform="rotate(-27.95 123.33 85.26)"/><ellipse cx="81.61" cy="95.69" rx="1.9" ry="2.8" transform="rotate(10.79 81.61 95.69)"/><ellipse cx="42.5" cy="112.64" rx="1.9" ry="2.8" transform="rotate(29.44 42.5 112.64)"/><ellipse cx="63.36" cy="116.03" rx="1.9" ry="2.8" transform="rotate(1.85 63.36 116.03)"/><ellipse cx="84.22" cy="113.42" rx="1.9" ry="2.8" transform="rotate(19.3 84.22 113.42)"/><ellipse cx="88.91" cy="112.64" rx="1.9" ry="2.8" transform="rotate(13.71 88.91 112.64)"/><ellipse cx="94.13" cy="111.33" rx="1.9" ry="2.8" transform="rotate(-34.88 94.13 111.33)"/><ellipse cx="54.75" cy="70.92" rx="1.9" ry="2.8" transform="rotate(20.66 54.75 70.92)"/><ellipse cx="69.88" cy="67.01" rx="1.9" ry="2.8" transform="rotate(7.29 69.88 67.01)"/><ellipse cx="86.83" cy="96.99" rx="1.9" ry="2.8" transform="rotate(-15.9 86.83 96.99)"/><ellipse cx="82.91" cy="125.67" rx="1.9" ry="2.8" transform="rotate(-37.52 82.91 125.67)"/><ellipse cx="38.59" cy="94.39" rx="1.9" ry="2.8" transform="rotate(29.24 38.59 94.39)"/><ellipse cx="68.57" cy="104.82" rx="1.9" ry="2.8" transform="rotate(-2.18 68.57 104.82)"/></g><path d="M74.16,33.72 L59.1,37.4 L73.38,43.44" stroke="#e63a28" stroke-width="2.0" fill="none"/></svg>
<svg x="1660" y="2409.1" width="128" height="128.1" viewBox="0 0 128 128" preserveAspectRatio="none" overflow="hidden"><rect width="128" height="128" fill="#01020a"/><ellipse cx="69.9" cy="61.5" rx="54.5" ry="52.5" fill="url(#gi2m)" filter="url(#fb12)"/><g filter="url(#fb3)" clip-path="url(#cpi2)"><ellipse cx="107.41" cy="39.55" rx="12" ry="10" fill="#081c0b" opacity="0.8"/><ellipse cx="105.71" cy="85.9" rx="12" ry="10" fill="#081c0b" opacity="0.8"/><ellipse cx="36.01" cy="88.29" rx="12" ry="10" fill="#081c0b" opacity="0.8"/><ellipse cx="31.47" cy="41.05" rx="12" ry="10" fill="#081c0b" opacity="0.8"/><ellipse cx="70.81" cy="103.49" rx="12" ry="10" fill="#081c0b" opacity="0.8"/></g><path d="M32.7 91.1h0M94.4 90.7h0M75.4 109.8h0M99.0 100.2h0M27.1 51.7h0M25.6 88.6h0M100.2 81.6h0M110.0 45.6h0M35.9 100.1h0M79.8 100.3h0M30.8 38.4h0M117.6 47.2h0M45.4 92.9h0M101.7 26.9h0M79.6 109.7h0M120.1 49.1h0M37.5 29.6h0M31.6 33.1h0M105.5 85.9h0M109.6 36.3h0M34.5 47.0h0M112.0 91.6h0M98.9 88.5h0M62.4 103.5h0M34.3 31.0h0M101.1 98.2h0M48.9 91.0h0M40.8 90.6h0M105.4 96.9h0M114.1 75.9h0M104.9 95.8h0M101.8 91.1h0M97.1 94.6h0M72.1 110.4h0M102.2 36.6h0M41.6 94.1h0M42.9 100.9h0M36.9 97.4h0M107.0 77.8h0M38.5 30.1h0M63.2 100.3h0M34.5 94.8h0M32.0 40.8h0M30.5 30.9h0M29.5 50.9h0M107.7 87.5h0M20.5 48.0h0M33.8 92.3h0M32.1 48.1h0M27.9 87.9h0M72.2 109.3h0M119.0 76.8h0M107.5 76.8h0M93.3 90.0h0M31.8 86.0h0M110.2 32.5h0M23.9 40.1h0M25.3 86.8h0M110.8 35.7h0M106.7 38.2h0M23.9 44.6h0M26.7 35.8h0M96.3 33.6h0M40.4 88.8h0M33.2 81.3h0M63.7 104.8h0M66.7 112.1h0M108.0 92.3h0M65.0 110.2h0M35.8 77.0h0M110.7 89.0h0M26.9 49.9h0M41.4 99.6h0M36.3 36.8h0M26.1 46.8h0M22.8 47.8h0M32.3 36.1h0M67.8 98.9h0M40.5 36.1h0M21.6 51.0h0M96.3 33.3h0M100.3 31.9h0M31.1 93.9h0M34.5 38.5h0M115.5 83.4h0M47.2 93.7h0M108.7 80.8h0M109.5 78.7h0M101.9 102.1h0M100.8 25.0h0M103.7 36.8h0M70.1 111.7h0M29.9 29.9h0M42.5 95.1h0M110.5 40.4h0M98.2 99.8h0M110.4 37.3h0M43.1 91.6h0M119.4 46.9h0M39.0 92.4h0M22.7 40.4h0M112.1 48.0h0M110.4 83.7h0M29.4 36.7h0M23.5 46.6h0M108.5 47.1h0M35.6 35.7h0M102.6 95.4h0M37.0 37.1h0M110.4 91.9h0M34.3 87.7h0M28.8 46.3h0M112.2 48.8h0M105.7 45.5h0M36.4 35.1h0M98.0 35.6h0M69.1 98.8h0M68.9 109.4h0M94.9 34.4h0M34.3 45.9h0M103.7 92.2h0M101.9 81.0h0M98.3 93.4h0M105.0 95.4h0M107.1 73.4h0M22.5 82.5h0M21.1 49.0h0M77.0 105.2h0M37.8 36.6h0M76.4 98.0h0M109.9 39.1h0M29.8 31.3h0M37.6 42.2h0M69.0 103.7h0M35.7 35.4h0M44.3 95.9h0M110.3 74.6h0M111.5 34.8h0M70.1 106.2h0M41.4 97.7h0M68.9 100.2h0M40.2 99.5h0M67.5 112.7h0M35.6 25.7h0M33.1 46.0h0M114.5 83.3h0M34.3 98.5h0M109.5 84.9h0M33.1 30.1h0M75.3 98.7h0M23.0 39.3h0M31.2 49.9h0M106.7 38.4h0M69.0 101.0h0M23.4 43.4h0M24.9 46.8h0M37.7 38.2h0M113.7 84.6h0M103.7 41.2h0M100.2 85.1h0M112.6 74.6h0M42.9 91.4h0M63.3 112.3h0M104.9 33.9h0M99.7 95.5h0M71.2 109.5h0M59.1 111.1h0M68.3 111.5h0M104.5 32.4h0M108.7 74.7h0M106.0 77.5h0M41.6 97.6h0M38.3 101.5h0M96.0 35.3h0M31.1 94.4h0M66.9 102.8h0M95.2 90.5h0M36.3 29.4h0M40.8 90.3h0M43.6 97.9h0M112.0 74.9h0M110.8 30.7h0M40.5 102.0h0M37.8 43.2h0M42.1 96.7h0M31.4 85.2h0M73.8 110.1h0M33.4 27.4h0M96.1 91.1h0M68.6 106.4h0M48.8 92.1h0M106.4 35.2h0M36.7 101.1h0M26.3 34.5h0M107.7 86.6h0M112.3 34.9h0M41.4 85.7h0M73.4 104.2h0M34.2 93.3h0M28.8 51.6h0M101.8 91.5h0M30.6 34.6h0M106.0 47.8h0M29.9 35.8h0M31.3 87.1h0M20.5 45.2h0M98.7 32.9h0M31.6 86.0h0M116.2 42.6h0M32.4 81.9h0M30.7 42.9h0M104.7 52.2h0M35.3 34.9h0M35.2 94.2h0M72.0 110.9h0M34.0 43.3h0M80.4 103.1h0M43.2 100.5h0M31.5 27.2h0M93.1 93.9h0M93.6 94.6h0M61.3 106.0h0M102.0 33.9h0M112.4 47.3h0M25.7 46.5h0M99.1 88.6h0M108.4 91.6h0M96.9 86.2h0M27.5 88.4h0M105.9 34.8h0M25.4 82.8h0M32.0 78.8h0M43.7 99.3h0M112.9 34.1h0M72.7 108.5h0M68.8 98.7h0M116.5 46.0h0M107.4 89.0h0M35.6 82.7h0M33.2 91.1h0M102.4 30.7h0M99.0 101.9h0M111.1 41.2h0M112.1 83.7h0M99.0 86.7h0M109.7 35.7h0M95.3 90.0h0M25.0 42.9h0M107.7 33.9h0M108.4 41.2h0M101.0 100.6h0M27.1 84.6h0M111.1 85.1h0M106.6 94.7h0M25.2 84.8h0M59.4 108.7h0M98.7 88.0h0M110.0 48.6h0M99.1 100.8h0M115.7 47.0h0M97.6 86.5h0M109.7 81.9h0M114.9 42.8h0M107.7 82.7h0M33.9 39.7h0M64.5 100.3h0M48.4 92.7h0M105.2 49.8h0M105.6 92.2h0M93.0 92.6h0M28.3 52.4h0M65.5 108.4h0M34.5 79.0h0M30.2 85.3h0M36.6 29.5h0M36.0 93.6h0M106.2 24.7h0M35.6 43.7h0M27.1 41.0h0M79.8 110.1h0M117.3 45.7h0M26.3 87.1h0M111.1 50.1h0M42.3 34.1h0M65.0 98.6h0M107.5 31.6h0M37.5 86.9h0M34.4 96.1h0M107.4 35.3h0M112.8 75.2h0M40.5 35.3h0M70.8 103.0h0M26.8 36.3h0M105.5 85.9h0M70.3 107.5h0M33.2 87.0h0M77.9 104.9h0M108.5 29.5h0M65.3 109.3h0M99.3 28.8h0M27.5 49.6h0M31.6 38.1h0M35.4 48.5h0M108.9 93.8h0M35.2 79.0h0M42.6 88.5h0M24.0 82.9h0M106.3 47.9h0M28.9 32.8h0M97.8 34.9h0M109.3 86.5h0M32.4 95.4h0M27.2 87.0h0M104.1 98.6h0M107.5 43.6h0M102.9 40.4h0M34.8 52.2h0M103.0 95.5h0M109.1 32.4h0M97.3 93.1h0M29.7 42.8h0M109.2 30.3h0M107.7 49.1h0M24.6 84.4h0M109.7 87.0h0M96.6 32.4h0M72.4 100.4h0M108.3 27.5h0M101.8 30.1h0M36.8 41.5h0M110.4 30.5h0M101.7 85.6h0M109.4 88.3h0M71.6 97.5h0M24.4 46.2h0M101.8 44.3h0M102.5 88.5h0M31.1 30.8h0M108.3 28.6h0M104.0 28.6h0M38.0 35.8h0M63.6 112.4h0M26.5 51.0h0M71.3 102.1h0M36.9 35.2h0M68.4 106.8h0M77.4 106.1h0M33.5 35.5h0M64.1 106.7h0M40.6 100.5h0M109.6 32.2h0M103.9 99.0h0M68.9 100.3h0M33.6 42.6h0M39.2 40.7h0M100.5 94.9h0M40.0 102.7h0M38.5 86.8h0M47.5 92.6h0M112.1 39.2h0M38.2 33.7h0M98.5 33.9h0M40.7 84.3h0M104.0 40.5h0M26.7 51.8h0M40.4 36.9h0M104.2 45.6h0M115.4 37.3h0M97.7 90.6h0M36.7 45.2h0M108.3 30.1h0M29.4 82.6h0M97.3 92.8h0M107.3 43.5h0M113.8 46.9h0M75.8 102.9h0M33.6 82.1h0M33.8 82.0h0M30.1 30.3h0M28.4 48.9h0M110.5 51.2h0M45.7 94.0h0M102.7 86.2h0M100.7 37.9h0M103.0 95.4h0M105.2 52.1h0M26.4 82.6h0M42.2 100.0h0M116.1 48.2h0M109.2 76.4h0M30.4 34.7h0M71.1 113.1h0M29.0 79.8h0M106.1 32.4h0M101.4 38.5h0M33.5 35.5h0M97.9 35.2h0M68.1 100.0h0M102.4 101.2h0M76.4 102.7h0M39.1 40.3h0M101.6 92.3h0M29.4 42.2h0M109.3 44.5h0M45.5 95.7h0M31.6 38.2h0M30.3 91.7h0M94.8 87.6h0M107.9 26.4h0M114.6 47.9h0M24.4 85.3h0M109.6 32.4h0M116.6 77.4h0M67.4 99.8h0M26.0 87.8h0M45.4 92.1h0M61.0 109.6h0M32.4 34.1h0M31.0 47.1h0M40.7 95.3h0" stroke="#60b460" stroke-width="0.9" stroke-linecap="round" fill="none" opacity="0.7"/><path d="M110.6 83.0h0M52.8 110.8h0M19.3 62.7h0M109.3 90.2h0M96.9 20.7h0M118.8 43.8h0M39.6 93.4h0M71.4 16.3h0M120.5 64.5h0M98.3 18.4h0M113.9 48.2h0M109.3 83.6h0M114.6 55.2h0M93.7 98.8h0M112.2 75.0h0M42.4 97.9h0M50.7 110.3h0M95.4 106.2h0M66.3 12.3h0M24.5 38.1h0M30.4 37.5h0M47.7 102.2h0M27.0 92.4h0M29.9 81.3h0M19.0 69.0h0M22.3 78.4h0M107.4 85.6h0M46.5 23.7h0M54.6 106.6h0M85.3 103.1h0M122.5 63.7h0M50.1 12.8h0M17.3 64.2h0M102.2 23.7h0M21.7 53.8h0M77.2 108.5h0M62.1 16.3h0M98.6 22.0h0M29.0 30.1h0M42.4 25.5h0M70.5 105.5h0M121.7 70.5h0M25.9 32.4h0M78.9 15.3h0M121.1 50.8h0M26.8 73.6h0M50.9 103.0h0M40.1 95.0h0M57.8 10.1h0M82.4 111.1h0M28.0 36.9h0M109.6 35.3h0M89.1 21.5h0M114.6 51.6h0M121.9 62.7h0M60.9 12.1h0M74.7 14.1h0M105.3 92.5h0M120.5 46.3h0M75.9 109.3h0M20.2 77.4h0M121.4 63.3h0M68.8 110.6h0M100.8 94.0h0M106.1 28.8h0M121.0 52.4h0M70.6 16.8h0M25.1 33.3h0M25.3 60.7h0M91.0 110.0h0M115.8 54.8h0M48.8 107.5h0M24.1 59.3h0M119.4 56.7h0M40.6 94.6h0M19.1 58.2h0M89.5 101.8h0M61.4 9.9h0M35.2 95.4h0M37.9 24.5h0M102.2 95.2h0M82.4 105.7h0M110.5 86.6h0M79.8 112.3h0M46.9 108.9h0M87.3 18.3h0M97.9 102.2h0M21.5 69.5h0M104.9 95.7h0M72.7 13.4h0M68.2 113.8h0M54.8 112.3h0M53.4 20.7h0M26.9 76.2h0M80.8 14.8h0M115.1 88.4h0M85.0 14.2h0M29.1 43.1h0M116.5 56.4h0M21.8 54.2h0M26.4 69.1h0M108.0 31.3h0M29.3 93.7h0M102.2 22.5h0M109.5 35.5h0M107.3 90.5h0M28.8 31.0h0M65.0 11.9h0M29.5 31.8h0M30.5 41.5h0M25.2 48.0h0M114.6 83.3h0M95.2 22.2h0M45.9 17.8h0M48.2 14.3h0M54.9 19.3h0M34.8 29.7h0M26.4 86.6h0M92.9 105.7h0M111.3 44.6h0M100.0 20.9h0M27.8 90.4h0M109.9 83.3h0M119.7 60.7h0M92.3 100.8h0M23.5 77.6h0M115.6 58.6h0M38.2 25.2h0M20.7 43.0h0M107.9 96.4h0M64.5 15.2h0M107.0 96.3h0M98.5 23.8h0M101.7 99.0h0M47.2 19.9h0M31.8 85.4h0M99.1 97.3h0M72.1 16.4h0M85.4 107.3h0M81.4 106.4h0M66.1 15.4h0M28.4 44.6h0M19.8 55.9h0M26.5 76.3h0M115.7 70.3h0M32.1 85.9h0M26.2 83.3h0M116.0 81.2h0M118.5 47.6h0M20.9 77.6h0M119.4 43.7h0M118.6 46.2h0M117.7 43.7h0M49.3 101.9h0M19.6 65.6h0M64.2 108.6h0M108.5 83.4h0M67.0 113.2h0M112.1 78.3h0M27.3 92.6h0M78.9 105.0h0M115.0 75.8h0M120.1 63.3h0M112.3 78.9h0M111.2 83.1h0M108.6 85.5h0M85.9 104.9h0M38.4 26.0h0M81.6 104.0h0M104.2 22.7h0M117.8 45.3h0M26.9 80.9h0M86.2 106.8h0M24.2 87.3h0M85.4 109.5h0M63.9 11.8h0M36.3 32.5h0M99.4 100.5h0M28.0 29.6h0M80.2 16.6h0M100.4 102.5h0M122.1 65.0h0M112.3 87.2h0M95.3 24.5h0M109.9 91.3h0M61.6 18.2h0M19.6 71.6h0M77.6 14.4h0M119.6 64.0h0M23.1 50.6h0M29.2 33.4h0M21.1 67.3h0M22.6 42.2h0M81.2 18.8h0M79.8 16.2h0M29.2 83.2h0M52.8 106.1h0M26.7 74.4h0M56.7 108.0h0M32.9 93.6h0M114.6 82.2h0M112.0 33.0h0M21.8 43.4h0M36.6 92.8h0M34.6 31.4h0M62.5 112.0h0M24.3 58.8h0M80.3 111.2h0M39.3 19.3h0M66.6 14.9h0M54.6 11.8h0M108.4 26.1h0M98.4 98.2h0M93.8 107.1h0M52.7 15.4h0M85.7 106.7h0M53.7 20.2h0M109.0 29.5h0M111.3 29.1h0M23.2 57.0h0M34.5 94.8h0M33.1 32.9h0M58.2 108.9h0M67.0 17.5h0M110.7 32.5h0M20.7 61.1h0M91.0 18.3h0M49.5 101.5h0M47.4 100.0h0M68.4 111.4h0M37.1 102.2h0M19.2 71.4h0M83.8 112.4h0M101.2 19.7h0M86.6 15.6h0M99.1 104.2h0M116.4 48.5h0M74.8 11.9h0M76.5 9.7h0M43.2 24.7h0M24.5 80.1h0M77.6 111.4h0M48.9 101.2h0M37.9 100.9h0M38.9 26.1h0M25.9 86.0h0M96.4 25.1h0M85.6 106.8h0M79.0 106.3h0M55.3 104.5h0M116.7 72.5h0M24.0 80.7h0M117.6 39.5h0M23.7 68.3h0M34.3 29.0h0M25.9 33.0h0M73.0 8.7h0M89.1 14.2h0M120.7 59.9h0M69.2 11.3h0" stroke="#48964a" stroke-width="0.8" stroke-linecap="round" fill="none" opacity="0.6"/><g filter="url(#fb3)"><circle cx="47.71" cy="35.72" r="18.25" fill="#357f3e" opacity="0.55"/><circle cx="79" cy="30.51" r="16.95" fill="#357f3e" opacity="0.55"/><circle cx="34.68" cy="64.4" r="15.64" fill="#357f3e" opacity="0.55"/><circle cx="65.97" cy="90.48" r="19.56" fill="#357f3e" opacity="0.55"/><circle cx="86.83" cy="59.19" r="14.34" fill="#357f3e" opacity="0.55"/><circle cx="60.75" cy="56.58" r="13.04" fill="#357f3e" opacity="0.55"/></g><g filter="url(#fb06)"><circle cx="74.57" cy="27.9" r="7.04" fill="#2e4cc8" fill-opacity="0.75"/><circle cx="55.54" cy="40.94" r="7.04" fill="#2e4cc8" fill-opacity="0.77"/><circle cx="49.02" cy="46.93" r="3.91" fill="#2e4cc8" fill-opacity="0.7"/><circle cx="86.3" cy="59.19" r="7.82" fill="#2e4cc8" fill-opacity="0.8"/><circle cx="38.07" cy="69.62" r="7.82" fill="#2e4cc8" fill-opacity="0.7"/><circle cx="60.23" cy="66.23" r="6.52" fill="#2e4cc8" fill-opacity="0.7"/><circle cx="66.75" cy="83.96" r="7.82" fill="#2e4cc8" fill-opacity="0.77"/><circle cx="88.13" cy="84.48" r="3.13" fill="#2e4cc8" fill-opacity="0.85"/><circle cx="92.56" cy="83.44" r="2.09" fill="#2e4cc8" fill-opacity="0.85"/></g><g fill="#4a66e0" filter="url(#fb04)"><ellipse cx="91.26" cy="29.2" rx="1.9" ry="2.8" transform="rotate(-21.12 91.26 29.2)"/><ellipse cx="94.65" cy="48.76" rx="1.9" ry="2.8" transform="rotate(-31.75 94.65 48.76)"/><ellipse cx="13.3" cy="68.83" rx="1.9" ry="2.8" transform="rotate(-8.32 13.3 68.83)"/><ellipse cx="35.98" cy="83.44" rx="1.9" ry="2.8" transform="rotate(-27.6 35.98 83.44)"/><ellipse cx="15.12" cy="91.78" rx="1.9" ry="2.8" transform="rotate(-34.68 15.12 91.78)"/><ellipse cx="37.29" cy="92.3" rx="1.9" ry="2.8" transform="rotate(-7.87 37.29 92.3)"/><ellipse cx="17.73" cy="96.99" rx="1.9" ry="2.8" transform="rotate(33.44 17.73 96.99)"/><ellipse cx="19.03" cy="103.51" rx="1.9" ry="2.8" transform="rotate(24.04 19.03 103.51)"/><ellipse cx="12.52" cy="110.03" rx="1.9" ry="2.8" transform="rotate(21.21 12.52 110.03)"/><ellipse cx="22.94" cy="108.73" rx="1.9" ry="2.8" transform="rotate(-22.25 22.94 108.73)"/><ellipse cx="26.86" cy="106.9" rx="1.9" ry="2.8" transform="rotate(2.93 26.86 106.9)"/><ellipse cx="34.68" cy="107.42" rx="1.9" ry="2.8" transform="rotate(-17.87 34.68 107.42)"/><ellipse cx="7.3" cy="113.94" rx="1.9" ry="2.8" transform="rotate(-26.19 7.3 113.94)"/><ellipse cx="16.43" cy="115.25" rx="1.9" ry="2.8" transform="rotate(-31.51 16.43 115.25)"/><ellipse cx="29.46" cy="113.94" rx="1.9" ry="2.8" transform="rotate(-22.85 29.46 113.94)"/><ellipse cx="39.89" cy="113.16" rx="1.9" ry="2.8" transform="rotate(34.2 39.89 113.16)"/><ellipse cx="47.71" cy="115.25" rx="1.9" ry="2.8" transform="rotate(26.31 47.71 115.25)"/><ellipse cx="58.14" cy="113.16" rx="1.9" ry="2.8" transform="rotate(24.53 58.14 113.16)"/><ellipse cx="4.69" cy="121.76" rx="1.9" ry="2.8" transform="rotate(24.04 4.69 121.76)"/><ellipse cx="12.52" cy="120.46" rx="1.9" ry="2.8" transform="rotate(-24.53 12.52 120.46)"/><ellipse cx="17.73" cy="119.16" rx="1.9" ry="2.8" transform="rotate(-15.21 17.73 119.16)"/><ellipse cx="30.77" cy="119.16" rx="1.9" ry="2.8" transform="rotate(10.16 30.77 119.16)"/><ellipse cx="34.68" cy="121.76" rx="1.9" ry="2.8" transform="rotate(18.55 34.68 121.76)"/><ellipse cx="43.8" cy="119.16" rx="1.9" ry="2.8" transform="rotate(28.37 43.8 119.16)"/><ellipse cx="50.32" cy="120.46" rx="1.9" ry="2.8" transform="rotate(30.4 50.32 120.46)"/><ellipse cx="49.02" cy="124.37" rx="1.9" ry="2.8" transform="rotate(-33.06 49.02 124.37)"/><ellipse cx="52.93" cy="126.98" rx="1.9" ry="2.8" transform="rotate(8.47 52.93 126.98)"/><ellipse cx="25.55" cy="115.25" rx="1.9" ry="2.8" transform="rotate(13.74 25.55 115.25)"/><ellipse cx="9.13" cy="117.85" rx="1.9" ry="2.8" transform="rotate(0.48 9.13 117.85)"/><ellipse cx="38.59" cy="117.85" rx="1.9" ry="2.8" transform="rotate(-25.78 38.59 117.85)"/><ellipse cx="84.74" cy="67.79" rx="1.9" ry="2.8" transform="rotate(-2.11 84.74 67.79)"/><ellipse cx="63.36" cy="48.76" rx="1.9" ry="2.8" transform="rotate(-32.85 63.36 48.76)"/></g><path d="M76.49,40.35 L62.2,42.8 L74.92,49.75" stroke="#fff" stroke-width="1.8" fill="none"/><path d="M107.19,54.85 L92.9,57.3 L105.62,64.25" stroke="#fff" stroke-width="1.8" fill="none"/></svg>
<text x="1759.8" y="2513.6" font-size="19.5" text-anchor="middle" fill="#fff" stroke="#fff">20um</text>
<rect x="1757.7" y="2520.7" width="17.8" height="7.1" fill="#fff"/>
</svg>
</body></html>
